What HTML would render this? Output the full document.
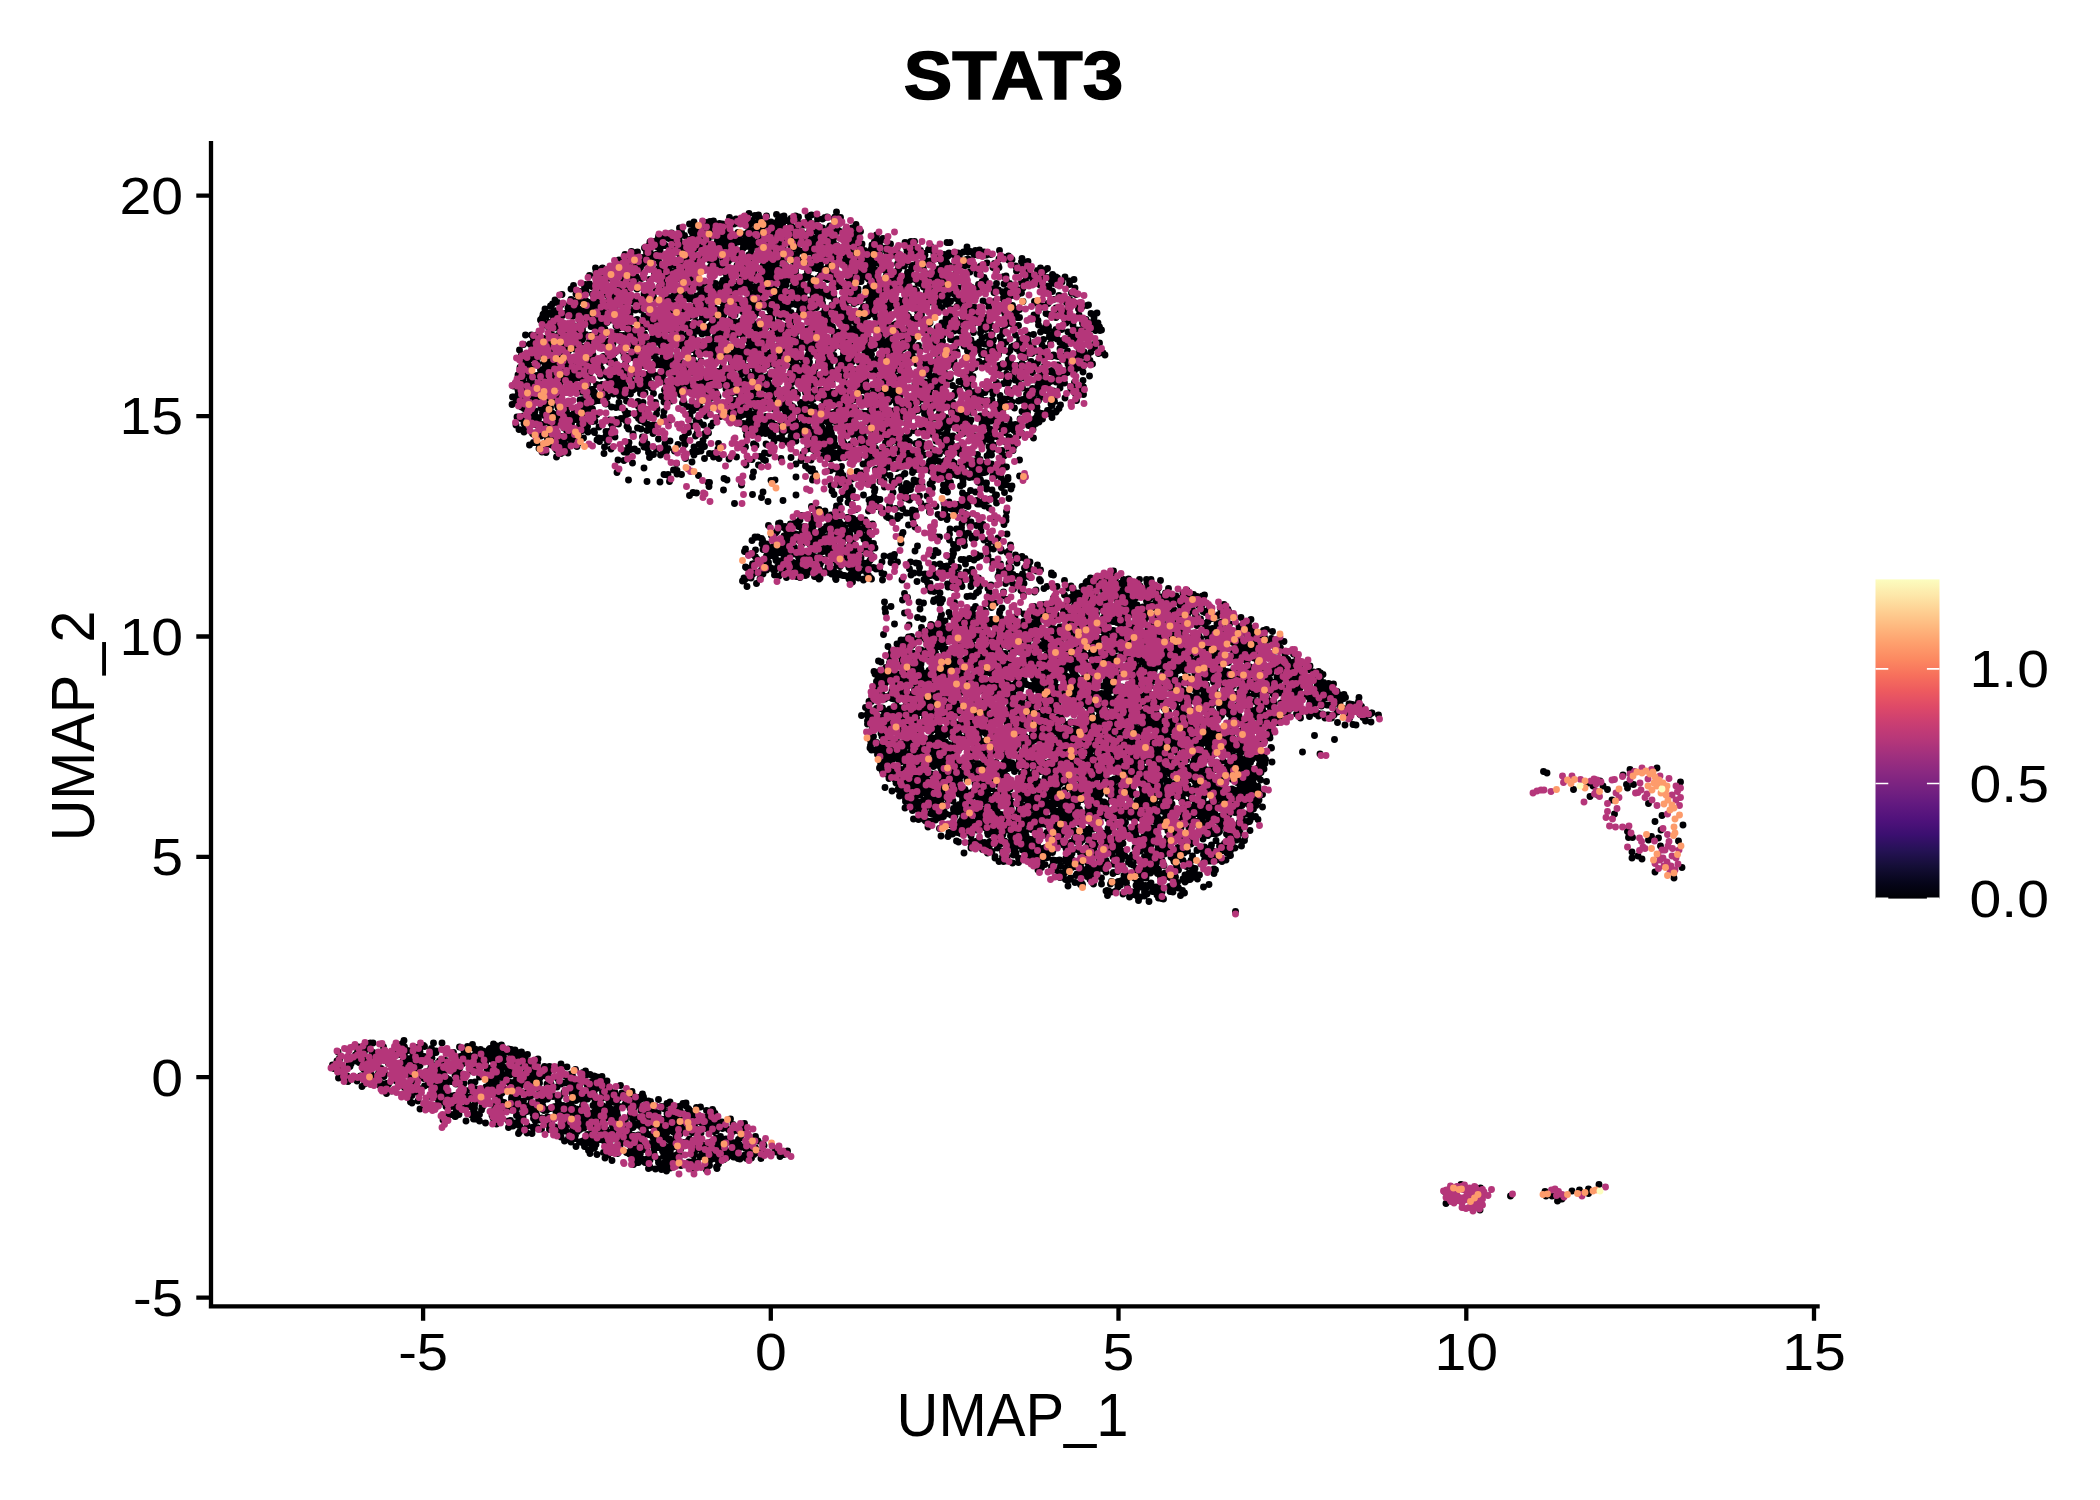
<!DOCTYPE html>
<html><head><meta charset="utf-8"><style>html,body{margin:0;padding:0;background:#fff;overflow:hidden}svg{display:block}text{font-family:"Liberation Sans",sans-serif}</style></head>
<body><svg width="2100" height="1500" viewBox="0 0 2100 1500">
<rect width="2100" height="1500" fill="#fff"/>
<g fill="none" stroke-width="13.80" stroke-linecap="round" transform="scale(.5)">
<path stroke="#000004" d="M1097 845h0M1718 665h0M1819 917h0M1272 530h0M1558 667h0M1130 627h0M1553 475h0M1821 556h0M1504 833h0M1581 447h0M1948 700h0M1720 877h0M2030 633h0M1097 841h0M2151 607h0M1976 689h0M1557 556h0M1629 901h0M1852 600h0M1088 627h0M2033 630h0M2139 569h0M2123 755h0M1565 783h0M1329 552h0M1592 847h0M1218 682h0M1160 583h0M1685 669h0M1564 682h0M1721 463h0M1775 827h0M1511 627h0M1750 743h0M1734 843h0M1186 710h0M1352 647h0M1387 661h0M1491 660h0M1147 887h0M1980 858h0M1834 904h0M1944 905h0M2064 845h0M1864 930h0M2112 712h0M1435 474h0M1886 600h0M1529 635h0M1092 869h0M2010 883h0M1517 500h0M1583 841h0M1651 539h0M1476 511h0M1736 685h0M1972 934h0M1247 751h0M1927 663h0M1444 566h0M1824 675h0M1718 771h0M1796 819h0M1499 852h0M1622 797h0M1404 668h0M1753 686h0M1396 471h0M1849 828h0M1749 618h0M1710 555h0M1148 619h0M1896 589h0M1811 893h0M1278 643h0M1850 800h0M1512 559h0M1564 749h0M1738 578h0M1669 912h0M1435 481h0M1272 553h0M1174 856h0M1335 777h0M1565 433h0M2024 804h0M1553 775h0M1751 822h0M1520 800h0M1739 898h0M1104 706h0M1187 797h0M1384 681h0M1350 637h0M1565 597h0M1727 537h0M2148 559h0M1416 479h0M1037 769h0M1269 773h0M1132 687h0M1718 872h0M1504 461h0M1932 636h0M1061 845h0M1737 792h0M2019 567h0M1119 629h0M1244 587h0M1789 707h0M1496 751h0M1311 751h0M1372 622h0M1559 876h0M1561 543h0M1653 623h0M1651 761h0M1458 649h0M1751 629h0M1340 603h0M2001 751h0M1895 700h0M1443 693h0M1710 710h0M1753 553h0M1564 698h0M1272 691h0M1519 693h0M1905 771h0M1777 623h0M1404 640h0M1086 629h0M1933 645h0M1869 634h0M1250 592h0M1618 801h0M1633 515h0M1672 908h0M1638 864h0M1697 798h0M1769 780h0M1842 863h0M1536 532h0M1689 756h0M1232 665h0M1727 613h0M2178 645h0M1840 567h0M2188 635h0M2067 790h0M1493 792h0M1646 912h0M1047 832h0M1827 678h0M1391 643h0M1769 921h0M1218 759h0M1743 549h0M1608 611h0M1629 583h0M1426 690h0M1446 679h0M1207 569h0M2072 847h0M1060 750h0M1229 607h0M1347 592h0M1744 520h0M2087 748h0M1954 548h0M1194 622h0M2125 681h0M2083 701h0M1764 682h0M1208 607h0M1481 710h0M1901 679h0M1756 922h0M1145 669h0M1128 856h0M1777 549h0M1952 940h0M1192 657h0M1356 627h0M1333 685h0M1815 675h0M1756 596h0M2174 611h0M2022 849h0M1489 490h0M1422 591h0M2206 706h0M1848 910h0M1635 672h0M1120 836h0M1192 543h0M1333 786h0M1584 736h0M1134 680h0M1848 726h0M1746 788h0M1884 646h0M1185 607h0M1112 713h0M1480 792h0M1990 872h0M1139 839h0M2164 733h0M1796 661h0M1507 615h0M1188 794h0M1323 551h0M2051 562h0M1514 863h0M1509 609h0M1181 671h0M1587 476h0M1744 490h0M1564 660h0M1654 902h0M1591 586h0M1403 518h0M1387 723h0M1464 546h0M1445 500h0M1082 752h0M1741 542h0M1621 640h0M1968 555h0M1660 880h0M1759 671h0M1795 528h0M1775 556h0M1814 503h0M1486 515h0M1399 611h0M1844 817h0M2071 760h0M1384 494h0M1987 694h0M1557 673h0M1172 582h0M1987 932h0M1589 817h0M1175 818h0M1872 882h0M1260 628h0M1629 576h0M1629 687h0M1668 672h0M1511 815h0M1643 545h0M1660 544h0M1155 862h0M1822 483h0M1736 516h0M1987 835h0M1500 477h0M1583 755h0M1347 527h0M1597 757h0M1462 518h0M1673 838h0M1346 669h0M1081 640h0M2120 685h0M1193 769h0M2055 705h0M1683 600h0M1782 714h0M1633 491h0M1785 762h0M1366 591h0M1497 515h0M1504 628h0M2189 695h0M2147 638h0M1853 522h0M2001 831h0M1324 660h0M1460 486h0M1551 607h0M1914 950h0M1359 483h0M1165 750h0M1950 537h0M2002 939h0M1851 649h0M1528 460h0M1131 776h0M2064 707h0M2024 737h0M1505 587h0M1459 435h0M1957 692h0M1890 885h0M1580 456h0M1859 923h0M1889 878h0M1339 658h0M1474 765h0M1797 656h0M1995 854h0M1251 646h0M2118 753h0M1297 691h0M1828 861h0M1367 506h0M1137 629h0M1957 934h0M1218 641h0M1142 721h0M1273 675h0M1339 660h0M1661 918h0M1698 740h0M1213 560h0M1200 729h0M1684 777h0M1859 741h0M1561 495h0M1492 551h0M1559 717h0M1769 772h0M1770 667h0M1658 901h0M1027 772h0M1325 698h0M1063 838h0M1474 769h0M1985 889h0M1066 753h0M1517 819h0M1892 608h0M1465 517h0M1407 772h0M1650 620h0M1093 632h0M1654 764h0M1092 810h0M1768 846h0M2068 789h0M1499 569h0M1584 469h0M1709 586h0M1115 800h0M1736 698h0M2003 833h0M1273 598h0M1888 813h0M1166 739h0M1829 585h0M1086 828h0M1696 666h0M1752 858h0M1720 805h0M1532 546h0M1572 564h0M1287 687h0M1541 724h0M1707 862h0M2155 736h0M1555 677h0M1534 553h0M1536 542h0M1118 772h0M1485 828h0M1563 555h0M1773 576h0M1755 860h0M1641 580h0M1762 535h0M1076 786h0M1326 592h0M1925 956h0M1329 591h0M1577 860h0M1632 593h0M1170 755h0M1969 688h0M2015 727h0M1272 604h0M1742 531h0M1495 744h0M1842 887h0M1100 645h0M1659 695h0M1551 591h0M1577 594h0M1125 905h0M1263 526h0M1105 852h0M1499 586h0M1772 873h0M2018 874h0M1579 767h0M1664 894h0M1627 694h0M1470 801h0M1853 802h0M1688 678h0M1276 685h0M1434 485h0M1654 828h0M1620 764h0M1444 574h0M1596 865h0M1157 868h0M1691 866h0M1865 869h0M1584 508h0M1987 890h0M1431 567h0M2086 556h0M2003 855h0M1565 798h0M1725 882h0M1532 769h0M1729 501h0M1951 790h0M1431 713h0M1580 821h0M1104 698h0M1126 875h0M1288 547h0M1623 430h0M1788 741h0M1844 851h0M1723 493h0M1571 852h0M1236 758h0M2172 639h0M1950 922h0M2102 825h0M1705 693h0M1519 699h0M1241 575h0M1384 763h0M1378 774h0M1753 679h0M1438 761h0M1692 603h0M1091 788h0M2030 760h0M1090 816h0M1420 541h0M1852 816h0M1925 685h0M1650 713h0M1892 835h0M2044 823h0M1116 671h0M1397 745h0M1841 501h0M1912 640h0M2004 914h0M2104 582h0M2039 680h0M1804 564h0M2118 817h0M2129 766h0M1572 672h0M1959 500h0M1905 637h0M1210 638h0M1496 648h0M1307 595h0M1498 612h0M1529 568h0M1959 701h0M1371 727h0M1729 693h0M1103 865h0M1570 478h0M1682 622h0M1499 809h0M1469 700h0M1569 780h0M1395 662h0M1779 678h0M1689 743h0M1906 872h0M1297 632h0M1160 592h0M1930 836h0M1412 445h0M1301 617h0M1797 791h0M1646 816h0M1377 581h0M1747 653h0M1562 662h0M2093 761h0M1544 590h0M1149 698h0M1600 738h0M2104 796h0M1547 874h0M1168 779h0M1816 894h0M1418 458h0M1491 761h0M1453 774h0M1837 803h0M1077 838h0M2039 619h0M1680 632h0M1787 824h0M1941 503h0M1263 508h0M1937 619h0M1237 589h0M1903 696h0M1643 889h0M1564 814h0M1155 755h0M1566 555h0M1557 564h0M1106 628h0M1723 781h0M1154 893h0M1818 601h0M1577 698h0M1785 883h0M1116 815h0M1780 788h0M1585 847h0M1099 763h0M1965 785h0M1197 656h0M1692 829h0M2003 683h0M1240 527h0M1074 670h0M1977 656h0M1478 763h0M1707 717h0M1455 483h0M2095 827h0M1829 505h0M1690 749h0M1115 605h0M1552 498h0M1645 723h0M2064 807h0M1557 559h0M1822 826h0M2019 899h0M1818 867h0M1899 923h0M2014 581h0M1340 542h0M1347 684h0M1735 661h0M1835 622h0M1477 543h0M1813 552h0M1574 855h0M1321 495h0M1579 823h0M1868 858h0M1323 760h0M1786 783h0M1667 697h0M1896 852h0M2098 629h0M1129 834h0M1495 453h0M1786 871h0M1255 757h0M1681 735h0M1674 681h0M1690 905h0M1728 630h0M2055 824h0M2116 713h0M1946 930h0M1939 767h0M1629 480h0M2013 759h0M1103 677h0M1761 868h0M2114 678h0M1578 704h0M1179 749h0M1248 732h0M1091 747h0M1590 480h0M1367 642h0M1630 855h0M1829 535h0M2081 829h0M1087 862h0M1791 761h0M1116 706h0M1784 768h0M1725 664h0M1615 764h0M1753 762h0M1711 757h0M1499 492h0M1536 511h0M1472 777h0M1795 614h0M1481 607h0M1515 806h0M1853 584h0M1101 815h0M1418 679h0M1983 928h0M1770 581h0M1425 641h0M1151 726h0M1567 437h0M2081 536h0M1571 531h0M1564 539h0M1523 474h0M1990 627h0M1925 857h0M1289 606h0M1734 906h0M2103 713h0M1705 860h0M2129 691h0M2145 679h0M1475 446h0M1804 627h0M1600 715h0M1749 895h0M1627 565h0M1718 796h0M1487 680h0M1292 499h0M1070 729h0M1740 855h0M1748 876h0M1119 873h0M1147 623h0M1578 600h0M1655 559h0M1677 733h0M1407 640h0M1641 820h0M2008 815h0M1751 897h0M1509 560h0M1752 546h0M1663 558h0M1721 596h0M1877 609h0M1108 689h0M1689 617h0M1767 906h0M1232 781h0M1570 590h0M1836 600h0M1839 936h0M1654 740h0M1919 645h0M1461 760h0M1342 769h0M2164 614h0M1667 511h0M2057 809h0M1465 663h0M1763 769h0M1649 521h0M1354 679h0M1531 648h0M1351 668h0M1665 654h0M1257 713h0M2150 779h0M1082 641h0M2029 735h0M1480 706h0M1715 775h0M1090 697h0M1210 663h0M1912 597h0M1750 542h0M1173 766h0M1074 795h0M1615 538h0M1766 572h0M1377 626h0M2038 767h0M1564 877h0M1575 619h0M1485 670h0M2112 635h0M1551 603h0M1588 640h0M1916 591h0M2028 591h0M1294 653h0M1793 808h0M1900 812h0M1430 640h0M1899 532h0M1541 459h0M2033 868h0M1734 883h0M1579 789h0M1447 745h0M1600 760h0M2046 680h0M1688 732h0M1884 948h0M1726 534h0M1858 789h0M1953 783h0M1475 769h0M1739 830h0M2151 788h0M1414 753h0M1260 750h0M1043 709h0M1857 815h0M1873 709h0M1692 580h0M1146 834h0M2127 742h0M1729 669h0M1600 626h0M1445 806h0M1295 587h0M1780 706h0M1807 727h0M1202 657h0M1415 598h0M1311 724h0M1407 610h0M1420 623h0M1812 582h0M1438 748h0M1700 817h0M1699 484h0M1711 532h0M1252 734h0M1662 545h0M1632 888h0M1238 520h0M1173 796h0M1504 441h0M1861 805h0M1624 666h0M1570 679h0M1504 548h0M1391 524h0M1687 508h0M1372 735h0M1175 799h0M1154 674h0M1413 491h0M1401 781h0M1797 904h0M2031 670h0M1670 795h0M1209 685h0M1237 754h0M1951 688h0M1620 531h0M1662 457h0M1528 801h0M1470 603h0M1533 572h0M2108 797h0M1609 450h0M1293 505h0M1906 836h0M1651 906h0M1416 814h0M1937 748h0M1644 820h0M2136 664h0M1807 877h0M1323 750h0M1146 745h0M1671 438h0M1594 631h0M1285 776h0M1517 808h0M1152 588h0M2062 723h0M1099 867h0M1599 631h0M1550 449h0M1495 770h0M1500 779h0M1940 622h0M1645 796h0M1863 550h0M1621 571h0M1974 852h0M1802 893h0M1280 687h0M1437 577h0M1586 714h0M1705 511h0M1589 571h0M1509 631h0M1894 865h0M1760 723h0M1607 842h0M1429 616h0M1720 552h0M1786 916h0M1908 926h0M1870 754h0M2109 663h0M1167 586h0M1361 789h0M1389 775h0M1622 557h0M1745 726h0M1294 616h0M1284 685h0M1628 677h0M1583 750h0M1316 478h0M1099 626h0M1767 777h0M1601 611h0M1712 835h0M1581 810h0M1608 588h0M1569 583h0M1874 685h0M1632 879h0M1762 949h0M1120 806h0M1927 633h0M1894 803h0M1847 572h0M1189 791h0M1424 469h0M2159 720h0M1756 717h0M1775 910h0M1903 618h0M1256 661h0M1396 656h0M1264 665h0M1950 615h0M1974 673h0M1621 664h0M2109 567h0M1708 487h0M1274 578h0M1813 847h0M1326 717h0M1635 557h0M1158 639h0M1920 902h0M1718 539h0M1571 484h0M1334 723h0M1673 516h0M1778 616h0M1206 776h0M1703 560h0M1081 740h0M1591 713h0M1172 576h0M2065 777h0M1133 822h0M1446 462h0M1481 776h0M1627 772h0M1645 541h0M1447 530h0M1046 768h0M1616 443h0M1090 728h0M1731 767h0M1928 692h0M1789 780h0M1702 819h0M1517 744h0M1387 673h0M2112 554h0M1276 777h0M1583 834h0M1687 707h0M1982 509h0M1658 799h0M1685 523h0M1973 828h0M1556 692h0M1654 876h0M1901 619h0M1670 785h0M1888 509h0M1626 876h0M2182 627h0M1224 578h0M1786 824h0M1646 830h0M1288 648h0M1133 661h0M1338 603h0M1646 899h0M1312 754h0M1360 558h0M1601 688h0M1305 729h0M1354 490h0M2034 698h0M1954 644h0M1434 696h0M1636 687h0M1311 671h0M1548 571h0M1974 871h0M1818 896h0M1898 709h0M2147 726h0M1859 768h0M1413 625h0M1928 915h0M2050 537h0M2197 707h0M1581 747h0M2101 763h0M1507 632h0M1765 531h0M1527 538h0M1655 844h0M1683 795h0M1258 533h0M1552 731h0M1977 686h0M1494 533h0M1433 700h0M1386 599h0M1097 829h0M1735 706h0M1909 682h0M1071 752h0M1749 601h0M1119 768h0M1902 643h0M1324 694h0M1263 684h0M1825 938h0M1178 816h0M1800 793h0M1080 898h0M1196 641h0M1463 726h0M1895 759h0M1664 798h0M1309 668h0M1415 635h0M2058 552h0M1582 873h0M1732 577h0M1842 776h0M2073 606h0M1802 603h0M1584 582h0M1583 779h0M1542 728h0M1443 619h0M1434 532h0M1712 825h0M1693 725h0M1447 605h0M2109 803h0M1796 507h0M1527 504h0M1289 682h0M1546 656h0M1707 595h0M1947 665h0M1266 693h0M1142 578h0M1812 722h0M1505 645h0M1420 695h0M1735 708h0M1549 492h0M1480 712h0M1844 640h0M1137 675h0M1427 550h0M1082 872h0M1492 480h0M1984 800h0M1840 505h0M1261 619h0M1305 775h0M1565 802h0M1325 704h0M1686 621h0M1319 624h0M1505 862h0M2012 807h0M1329 679h0M1622 697h0M1641 780h0M1809 740h0M1488 848h0M1937 694h0M1558 496h0M1787 865h0M1065 867h0M1415 461h0M1393 471h0M1597 452h0M1598 520h0M2073 631h0M1466 543h0M1143 653h0M1683 910h0M1332 608h0M1467 594h0M1114 672h0M2071 603h0M1745 574h0M1955 510h0M1872 813h0M1147 865h0M1693 526h0M1856 583h0M1677 462h0M1685 639h0M1605 605h0M1320 501h0M1499 797h0M1147 652h0M1224 533h0M1971 937h0M2037 858h0M1086 755h0M1878 923h0M1432 522h0M1479 480h0M1397 708h0M1606 585h0M1580 465h0M1529 452h0M1525 663h0M1666 585h0M1457 542h0M1996 817h0M1622 651h0M1216 716h0M1933 653h0M1530 522h0M1718 550h0M2052 798h0M1624 582h0M1549 661h0M1831 664h0M1646 635h0M1157 741h0M1515 702h0M1687 722h0M1592 700h0M2180 721h0M1947 824h0M1557 588h0M1714 770h0M2077 650h0M1797 534h0M1154 661h0M1676 616h0M2046 603h0M1371 727h0M1907 509h0M1607 676h0M1531 775h0M2055 820h0M1125 631h0M1490 770h0M1127 723h0M1918 840h0M1807 743h0M1709 705h0M2152 589h0M1500 834h0M1140 877h0M1787 510h0M1348 688h0M1126 781h0M1702 624h0M2012 684h0M1350 501h0M1942 859h0M1495 793h0M1620 684h0M1209 585h0M1276 756h0M1635 877h0M1957 569h0M1691 512h0M1575 827h0M1258 658h0M1070 831h0M2102 559h0M1647 538h0M2005 837h0M1917 513h0M1063 752h0M1393 753h0M1777 788h0M1087 716h0M1264 535h0M1390 785h0M1269 519h0M2191 661h0M1883 554h0M1968 727h0M1517 442h0M1660 511h0M1978 703h0M1038 760h0M1410 586h0M1531 614h0M1247 559h0M1777 691h0M1644 609h0M1458 675h0M1144 740h0M2103 811h0M1135 699h0M1393 707h0M1381 568h0M1511 745h0M1211 546h0M1613 717h0M1399 461h0M1883 753h0M1844 604h0M1706 845h0M1098 704h0M1849 507h0M1744 577h0M1083 758h0M2136 728h0M1193 664h0M1909 791h0M1752 560h0M1522 802h0M2092 627h0M1591 675h0M1710 798h0M1914 850h0M1525 773h0M1865 567h0M1495 542h0M1998 518h0M1545 528h0M1707 917h0M1967 879h0M1572 570h0M1398 656h0M1130 748h0M1693 503h0M1509 574h0M1401 595h0M1693 816h0M1910 947h0M1654 558h0M1477 786h0M1521 794h0M1861 522h0M1107 754h0M1604 684h0M1753 861h0M1526 613h0M1673 491h0M1433 489h0M1586 573h0M1582 437h0M1910 816h0M1353 553h0M1812 670h0M1590 534h0M1705 478h0M1789 793h0M1264 676h0M1455 589h0M1522 590h0M1658 788h0M1706 667h0M1860 646h0M1549 850h0M1917 823h0M1361 680h0M1561 655h0M1805 639h0M1286 731h0M1778 804h0M1094 889h0M1538 706h0M1541 709h0M1824 579h0M1809 532h0M1383 575h0M1834 526h0M1617 709h0M1652 785h0M1247 672h0M1825 945h0M1609 803h0M1576 509h0M1203 738h0M1305 677h0M2089 732h0M1260 752h0M1041 764h0M1396 686h0M1516 556h0M1783 852h0M1679 637h0M1653 585h0M1675 790h0M1186 804h0M2140 716h0M1086 794h0M1961 666h0M1238 541h0M1479 507h0M1750 505h0M1165 679h0M1614 658h0M1680 810h0M1606 827h0M1582 652h0M1783 756h0M1551 448h0M1103 879h0M1214 590h0M1809 948h0M1551 819h0M1359 473h0M2049 538h0M1530 711h0M1093 649h0M1901 603h0M1505 762h0M1725 877h0M1669 892h0M1661 520h0M1735 924h0M1495 640h0M1809 669h0M1476 465h0M1842 888h0M1521 562h0M1702 579h0M1916 506h0M1165 660h0M1139 655h0M1075 728h0M1483 810h0M1278 618h0M1404 497h0M1526 532h0M1529 550h0M1251 727h0M1583 608h0M1966 507h0M1908 662h0M1046 788h0M2068 556h0M1789 698h0M2137 633h0M1786 593h0M1534 775h0M1520 858h0M1284 712h0M1567 499h0M1896 609h0M1277 665h0M1457 522h0M1953 944h0M1362 555h0M1391 497h0M1221 698h0M1475 534h0M1554 506h0M1289 643h0M1385 717h0M1063 691h0M1229 722h0M2044 727h0M1468 485h0M1288 588h0M1317 669h0M1879 613h0M1999 501h0M1204 793h0M1455 711h0M1559 635h0M1453 449h0M1402 722h0M1743 844h0M1698 618h0M1570 619h0M1663 868h0M1684 914h0M1714 493h0M1894 939h0M1445 645h0M1571 614h0M1579 626h0M1751 780h0M1571 783h0M1648 589h0M1614 739h0M2161 660h0M1349 607h0M1422 501h0M1499 564h0M1454 476h0M1674 854h0M1916 598h0M1468 818h0M1328 696h0M1635 464h0M1874 722h0M1500 808h0M1769 683h0M1088 724h0M1398 768h0M1719 628h0M1686 763h0M1275 517h0M1973 930h0M1883 568h0M1698 601h0M1538 469h0M2056 670h0M1416 774h0M1893 923h0M2134 682h0M1248 768h0M1518 480h0M1496 468h0M1067 885h0M1913 538h0M1795 555h0M1765 622h0M1324 748h0M1857 562h0M2200 660h0M1388 444h0M1991 713h0M2123 767h0M1901 757h0M1678 462h0M2010 852h0M1061 817h0M1830 766h0M1680 727h0M1527 713h0M1698 819h0M1357 475h0M1290 679h0M2134 721h0M1748 721h0M1842 910h0M1652 584h0M1966 703h0M1196 571h0M1529 477h0M1136 616h0M1559 556h0M1601 833h0M1529 858h0M1694 643h0M1451 654h0M1551 622h0M1231 629h0M1666 842h0M1434 625h0M1414 591h0M1099 789h0M1551 594h0M1106 684h0M1101 745h0M1504 751h0M1501 528h0M1645 511h0M1528 608h0M1405 760h0M1751 579h0M1540 621h0M1433 676h0M1878 798h0M1796 801h0M1788 583h0M2013 748h0M1784 557h0M1704 724h0M1777 584h0M1391 465h0M1379 479h0M1143 885h0M1761 657h0M1530 547h0M1633 615h0M1945 931h0M1824 907h0M2025 611h0M1728 733h0M1745 496h0M1918 745h0M1225 590h0M1183 620h0M2066 859h0M1724 598h0M1767 643h0M1592 609h0M2067 696h0M1375 596h0M1091 816h0M1281 517h0M1340 680h0M1487 825h0M1901 930h0M1865 555h0M2006 597h0M1868 668h0M1487 491h0M1699 815h0M2007 612h0M2077 801h0M1105 771h0M1535 731h0M1195 601h0M1314 654h0M1667 827h0M1629 866h0M1891 848h0M1450 457h0M1714 604h0M1510 431h0M1191 802h0M1677 910h0M1123 696h0M1637 460h0M1236 764h0M1588 458h0M1660 620h0M1468 448h0M1759 859h0M1564 571h0M1443 722h0M1856 821h0M1729 531h0M1563 460h0M1233 576h0M2057 739h0M1606 693h0M1894 571h0M1874 656h0M1630 738h0M1692 813h0M2143 586h0M1671 755h0M1175 853h0M1171 569h0M1493 488h0M2087 793h0M2070 838h0M1354 620h0M1615 471h0M1591 589h0M1121 764h0M1445 674h0M1519 572h0M1422 589h0M1674 616h0M1711 587h0M1182 723h0M1432 580h0M1881 840h0M1149 728h0M1209 578h0M1596 590h0M1799 759h0M1627 798h0M1161 751h0M1927 604h0M1372 487h0M1780 589h0M1733 929h0M1971 843h0M1797 739h0M1109 758h0M1199 611h0M1550 713h0M2133 605h0M1596 710h0M1607 852h0M1940 716h0M1232 777h0M1720 778h0M1749 502h0M1449 568h0M2017 704h0M1660 530h0M1690 630h0M1384 617h0M1498 684h0M1353 533h0M2196 646h0M1063 762h0M1841 886h0M1422 618h0M1898 849h0M1425 456h0M1448 629h0M2036 735h0M1544 640h0M1686 797h0M1476 818h0M1646 860h0M1689 480h0M1678 519h0M1703 557h0M1453 580h0M1832 887h0M1944 614h0M1134 700h0M1850 510h0M1591 495h0M1540 816h0M1811 923h0M1233 547h0M1132 815h0M1578 629h0M2126 622h0M1861 604h0M1403 524h0M1890 786h0M1742 924h0M1595 583h0M1457 670h0M1592 642h0M1171 829h0M1500 575h0M1288 680h0M2169 712h0M1751 505h0M1325 481h0M1723 797h0M1972 657h0M1193 727h0M1208 548h0M1687 575h0M1820 826h0M1292 712h0M1497 573h0M1238 764h0M1761 691h0M1449 489h0M1591 737h0M1628 476h0M1289 496h0M1748 850h0M1722 648h0M1589 471h0M1096 860h0M1856 828h0M1675 573h0M1569 593h0M1668 876h0M1351 489h0M1563 552h0M1393 511h0M1647 504h0M1592 587h0M2010 651h0M1248 608h0M2084 690h0M1494 467h0M1728 641h0M1810 880h0M1478 565h0M1975 721h0M1315 486h0M1115 845h0M1407 685h0M1942 840h0M1441 594h0M1297 695h0M1250 712h0M1245 703h0M1204 537h0M1443 636h0M1597 434h0M1109 755h0M1980 703h0M1806 921h0M1360 712h0M1707 634h0M1165 731h0M1808 920h0M1398 493h0M2046 799h0M1909 942h0M1131 783h0M2039 635h0M1933 773h0M1429 697h0M1657 557h0M1784 662h0M1222 679h0M1897 507h0M2203 660h0M1900 912h0M1342 695h0M1890 814h0M1768 789h0M1173 706h0M1257 662h0M1655 820h0M1392 646h0M1116 833h0M1360 653h0M1471 709h0M1512 827h0M1406 690h0M1130 889h0M1506 846h0M1946 753h0M1337 778h0M2193 646h0M1701 559h0M1398 544h0M1646 717h0M1715 538h0M1205 536h0M1130 687h0M1943 701h0M1550 465h0M1930 850h0M1310 483h0M1402 477h0M1171 786h0M1659 454h0M1266 748h0M1545 498h0M1287 758h0M1331 595h0M1487 847h0M1088 889h0M1565 449h0M1516 625h0M1641 820h0M1440 669h0M1135 831h0M1960 919h0M1507 513h0M1670 434h0M1854 784h0M1066 674h0M1358 781h0M1592 749h0M1565 619h0M1631 816h0M1994 658h0M1156 860h0M1201 725h0M2005 668h0M1843 934h0M1878 543h0M1280 539h0M1165 861h0M1628 824h0M2053 544h0M1307 594h0M1865 817h0M1203 603h0M1859 840h0M1237 535h0M1961 882h0M1983 842h0M1408 584h0M1452 778h0M1227 699h0M1231 765h0M1909 846h0M1559 796h0M1821 676h0M1959 792h0M1942 637h0M1090 887h0M1962 870h0M1902 877h0M1555 582h0M1984 667h0M1210 632h0M1888 932h0M1260 783h0M1498 587h0M1301 636h0M1622 750h0M2130 554h0M1572 883h0M1275 504h0M1716 583h0M1576 548h0M1771 886h0M1630 842h0M2058 849h0M1451 605h0M1885 683h0M1505 768h0M1293 763h0M1289 688h0M1570 587h0M2055 837h0M1693 520h0M1491 567h0M1328 748h0M1184 779h0M1572 567h0M1621 896h0M1185 626h0M1819 691h0M1999 850h0M1739 654h0M1664 610h0M1863 565h0M1285 719h0M1484 827h0M1713 770h0M1149 869h0M1654 691h0M1601 587h0M1993 699h0M1801 512h0M1799 923h0M1441 833h0M1096 834h0M1963 809h0M1476 758h0M1170 616h0M1544 863h0M1610 526h0M1796 859h0M1378 674h0M2152 635h0M1661 481h0M1420 760h0M2097 653h0M1770 759h0M1668 513h0M1508 810h0M1701 657h0M1373 622h0M1722 850h0M1226 687h0M1815 486h0M1444 830h0M1351 491h0M1599 624h0M1566 833h0M1237 542h0M1789 760h0M1563 567h0M1586 684h0M1467 828h0M1472 645h0M1162 836h0M1452 659h0M1981 685h0M1868 705h0M1885 845h0M1849 719h0M1532 754h0M2099 671h0M1552 469h0M1851 861h0M1798 521h0M2158 630h0M1505 704h0M1180 720h0M1619 623h0M1746 722h0M2044 517h0M1701 560h0M1343 733h0M1105 798h0M1327 700h0M1347 555h0M1669 915h0M1889 869h0M1593 479h0M1911 847h0M1392 613h0M1907 873h0M1810 485h0M1886 895h0M1627 795h0M1829 578h0M1537 538h0M1573 543h0M1707 791h0M1665 681h0M2105 745h0M1894 642h0M1498 564h0M1508 680h0M1784 688h0M1223 676h0M1833 581h0M1980 807h0M2066 853h0M1870 836h0M1859 578h0M1049 771h0M1518 507h0M2194 626h0M1046 758h0M1670 510h0M1958 782h0M1521 607h0M1495 776h0M1078 679h0M1883 927h0M1681 900h0M1254 595h0M1761 930h0M1051 670h0M1170 580h0M1850 798h0M1896 905h0M1782 921h0M1508 545h0M1326 732h0M1874 908h0M1464 487h0M1623 522h0M1204 769h0M1662 865h0M1690 598h0M1129 714h0M1595 566h0M1913 944h0M1136 843h0M2140 722h0M1791 665h0M1615 792h0M1514 839h0M1171 845h0M1132 731h0M1782 832h0M1824 831h0M1062 732h0M1530 515h0M1702 888h0M1791 708h0M1711 543h0M1411 473h0M1071 685h0M2000 791h0M1754 637h0M1778 823h0M1712 656h0M1402 461h0M1469 576h0M1222 600h0M1982 632h0M1418 617h0M1066 775h0M2150 678h0M2119 619h0M1932 832h0M1557 489h0M2068 630h0M1558 858h0M1763 539h0M1837 691h0M1697 646h0M2039 703h0M1374 690h0M1684 881h0M1637 725h0M1802 750h0M1583 861h0M1262 540h0M1868 598h0M1664 592h0M1420 521h0M1389 560h0M2030 889h0M1621 709h0M1238 763h0M1582 608h0M1484 722h0M1652 631h0M1539 805h0M1588 672h0M1950 882h0M1664 785h0M1605 814h0M1759 681h0M1188 615h0M1500 462h0M1139 695h0M1750 898h0M1227 585h0M1643 497h0M2048 756h0M1615 849h0M1924 890h0M1863 522h0M1533 711h0M1621 753h0M1237 534h0M1918 846h0M1943 617h0M2065 565h0M1971 659h0M1066 684h0M1495 813h0M1616 697h0M1694 895h0M1590 847h0M1765 605h0M1827 826h0M2124 596h0M1457 651h0M1550 704h0M1781 562h0M1576 885h0M1570 579h0M2078 759h0M1071 794h0M2031 532h0M1626 665h0M1853 564h0M1790 702h0M1306 677h0M1129 781h0M1696 575h0M1547 524h0M1191 536h0M1784 545h0M1533 432h0M1603 774h0M1771 870h0M1798 628h0M1332 609h0M1568 623h0M1921 683h0M1101 669h0M1827 697h0M2033 731h0M1891 725h0M1442 675h0M1375 681h0M1947 705h0M1703 842h0M1492 860h0M1669 610h0M1612 828h0M1063 814h0M1975 832h0M1338 595h0M1738 882h0M1540 748h0M1469 752h0M2086 657h0M1610 448h0M2109 630h0M1210 788h0M1693 517h0M1210 659h0M1618 731h0M2126 716h0M1873 763h0M1891 891h0M2034 635h0M1739 774h0M2075 725h0M1749 483h0M1151 619h0M1819 884h0M1486 548h0M1290 601h0M1300 701h0M1152 614h0M1187 634h0M1798 666h0M2063 803h0M1229 755h0M1478 828h0M1097 704h0M1275 735h0M1557 745h0M1665 810h0M1877 831h0M2087 679h0M1086 896h0M1437 467h0M1559 790h0M2165 646h0M1549 624h0M1628 524h0M1942 794h0M1808 571h0M1195 608h0M1240 779h0M1744 497h0M2041 800h0M1069 776h0M1632 510h0M1727 765h0M1273 512h0M1971 839h0M1048 864h0M1754 839h0M1470 475h0M1198 801h0M1919 840h0M1420 781h0M1776 505h0M1559 665h0M1661 640h0M1483 520h0M1545 628h0M1702 634h0M1309 548h0M1650 801h0M1720 563h0M1274 639h0M2091 572h0M1751 751h0M1593 607h0M1592 702h0M1736 551h0M2085 565h0M1810 947h0M1760 585h0M1517 430h0M1259 626h0M1036 801h0M1815 554h0M1601 805h0M1284 527h0M1244 762h0M2042 713h0M1204 623h0M1343 530h0M1731 693h0M1745 543h0M2057 689h0M1938 697h0M1489 622h0M1572 673h0M1905 932h0M1310 702h0M1469 808h0M1571 841h0M1644 843h0M1550 784h0M1515 786h0M1485 747h0M1524 762h0M1580 465h0M1207 713h0M2188 651h0M1165 801h0M1902 935h0M1495 713h0M1591 432h0M1409 769h0M1803 751h0M1653 585h0M1785 913h0M1516 582h0M1858 719h0M1530 816h0M1535 605h0M1589 857h0M1737 790h0M1645 438h0M1938 770h0M1751 912h0M1147 684h0M1937 779h0M1314 513h0M1723 809h0M1542 604h0M1649 499h0M1728 549h0M1851 648h0M1734 577h0M1646 870h0M1624 822h0M1506 669h0M1958 723h0M1710 482h0M1142 599h0M2072 728h0M1517 818h0M1502 689h0M1671 682h0M1066 801h0M1096 745h0M1895 848h0M1761 646h0M1860 777h0M1716 578h0M1562 844h0M1150 730h0M1135 669h0M1367 692h0M1962 532h0M1820 683h0M1903 706h0M1715 525h0M1335 627h0M1943 922h0M1060 831h0M1459 548h0M1757 673h0M1092 634h0M1221 539h0M1364 586h0M1479 502h0M1549 451h0M1839 611h0M2015 609h0M1451 562h0M1793 543h0M1677 741h0M1314 508h0M1972 801h0M1670 890h0M1049 735h0M1932 929h0M1176 737h0M1047 689h0M2020 781h0M1616 545h0M1915 936h0M1643 518h0M1814 882h0M1621 754h0M1553 588h0M1364 494h0M1612 814h0M1843 629h0M1395 544h0M1746 776h0M2040 743h0M1638 468h0M1421 534h0M1243 675h0M1766 797h0M1688 887h0M1680 688h0M1176 786h0M1689 698h0M1605 468h0M1687 713h0M1280 643h0M2113 822h0M1279 538h0M1817 728h0M1920 646h0M1359 725h0M1470 477h0M1555 584h0M1109 781h0M1861 942h0M1548 721h0M1886 671h0M1352 547h0M1662 892h0M1122 807h0M1160 648h0M1968 504h0M1802 602h0M1788 776h0M1116 877h0M1584 608h0M1919 835h0M1847 652h0M1561 448h0M1988 585h0M1455 834h0M1048 847h0M1146 768h0M1868 861h0M1153 664h0M1656 727h0M1097 713h0M1913 826h0M1724 488h0M1875 560h0M1810 573h0M1325 756h0M1265 596h0M1385 811h0M1101 612h0M1374 729h0M1594 748h0M1099 796h0M1521 737h0M1710 549h0M1916 576h0M1525 769h0M1090 832h0M2026 649h0M1380 654h0M1149 865h0M1632 612h0M1464 786h0M1592 843h0M1133 860h0M1612 477h0M1847 538h0M1310 707h0M1967 640h0M1613 855h0M1477 477h0M1518 607h0M1063 791h0M1175 641h0M1898 506h0M1549 601h0M1401 691h0M1775 529h0M1713 830h0M1516 451h0M2021 789h0M2034 689h0M1308 619h0M1651 812h0M1108 621h0M1664 625h0M1678 608h0M1770 748h0M1460 766h0M1211 571h0M1723 546h0M1589 690h0M1459 467h0M1695 641h0M1109 862h0M1654 434h0M1474 846h0M1735 531h0M1976 605h0M1978 893h0M1485 700h0M2112 659h0M1096 755h0M1302 515h0M1534 860h0M1892 903h0M1740 605h0M1749 655h0M1846 934h0M1571 621h0M1312 730h0M1512 449h0M1871 562h0M1740 540h0M1746 657h0M1096 722h0M2036 589h0M1203 745h0M1563 660h0M1102 780h0M2116 730h0M1465 672h0M1674 821h0M1518 435h0M1142 659h0M2085 838h0M1166 799h0M1673 798h0M1903 873h0M2025 882h0M2137 715h0M2075 830h0M1531 435h0M1835 700h0M1495 466h0M1519 844h0M1993 567h0M1321 542h0M1585 813h0M1840 701h0M1427 813h0M1741 693h0M1892 530h0M1203 614h0M1719 666h0M1417 595h0M1476 831h0M1553 429h0M1510 520h0M1337 726h0M1832 939h0M1794 834h0M1324 530h0M1659 520h0M2044 540h0M1650 583h0M2084 613h0M1575 475h0M1454 599h0M1778 791h0M1179 605h0M1658 592h0M1103 890h0M1960 547h0M1587 881h0M1430 775h0M1837 902h0M1050 853h0M1620 457h0M1708 519h0M1170 722h0M1494 745h0M2120 776h0M1133 759h0M1591 545h0M1491 714h0M1747 695h0M1938 714h0M1546 545h0M1102 764h0M1673 824h0M1111 638h0M1356 669h0M1640 505h0M1439 664h0M1776 900h0M2120 698h0M1380 592h0M1604 864h0M1171 669h0M1929 830h0M1041 809h0M1074 751h0M1772 700h0M1581 489h0M1558 455h0M1354 777h0M1991 576h0M1663 723h0M1770 869h0M1174 749h0M1601 631h0M1229 706h0M1627 576h0M1114 807h0M1111 897h0M2044 735h0M1558 660h0M1075 704h0M2166 744h0M1271 565h0M1924 898h0M1887 792h0M1759 511h0M1664 617h0M1792 754h0M1572 753h0M1797 663h0M1419 586h0M1333 539h0M1965 886h0M1987 898h0M2067 876h0M1159 850h0M1615 754h0M1402 738h0M1169 573h0M1817 841h0M1749 733h0M1321 688h0M1520 645h0M1774 649h0M1477 580h0M1787 725h0M1189 621h0M1085 825h0M1631 699h0M1702 840h0M1303 767h0M1892 793h0M1828 914h0M1756 905h0M1781 881h0M1468 704h0M1773 503h0M1407 453h0M1594 789h0M1466 605h0M1566 489h0M1448 506h0M1998 842h0M1618 442h0M1137 702h0M1495 784h0M1566 608h0M1656 476h0M1168 803h0M2107 782h0M1133 877h0M1415 474h0M1446 561h0M1459 772h0M1657 873h0M1189 636h0M1837 646h0M1701 574h0M1674 459h0M1161 681h0M1303 509h0M2046 689h0M1858 558h0M1542 493h0M1408 619h0M1387 761h0M1175 622h0M1598 447h0M1917 595h0M1905 805h0M1420 809h0M1635 524h0M1973 510h0M1586 522h0M1913 941h0M1229 732h0M1507 591h0M1702 802h0M1817 633h0M1481 739h0M1870 601h0M1986 535h0M1459 505h0M1285 651h0M1532 655h0M1630 820h0M1503 499h0M1363 725h0M1812 875h0M1248 714h0M1718 714h0M1644 753h0M1510 601h0M1648 510h0M1722 563h0M1611 575h0M1868 509h0M1838 905h0M1599 661h0M1493 554h0M1873 545h0M1847 860h0M1595 763h0M1805 911h0M1745 589h0M1382 576h0M1381 627h0M1208 624h0M1051 796h0M1307 491h0M1894 527h0M1278 746h0M1434 594h0M1093 797h0M1752 635h0M1158 622h0M1172 602h0M1700 595h0M1886 945h0M1923 908h0M1358 777h0M1687 631h0M1640 754h0M2060 796h0M1962 787h0M1084 693h0M1704 456h0M1728 860h0M2018 839h0M1543 526h0M1762 933h0M1833 727h0M1564 609h0M1940 743h0M2071 604h0M1406 801h0M1385 467h0M1267 540h0M2199 686h0M1376 656h0M1073 722h0M1724 765h0M1608 629h0M1160 750h0M1725 545h0M2031 849h0M1429 700h0M1460 772h0M1779 840h0M1334 641h0M1847 894h0M1282 712h0M1588 725h0M1758 503h0M1693 523h0M1487 562h0M1648 541h0M1689 889h0M1739 915h0M1602 531h0M1459 489h0M1178 814h0M1032 805h0M1998 535h0M1808 724h0M1770 717h0M2005 584h0M1549 535h0M1520 582h0M1540 754h0M1424 449h0M1096 737h0M1163 756h0M1136 894h0M1825 531h0M1899 850h0M2107 599h0M1085 849h0M1271 620h0M1982 651h0M1861 492h0M1644 597h0M1198 734h0M1634 783h0M1607 740h0M1903 887h0M1415 667h0M1441 481h0M1994 579h0M1184 704h0M1327 670h0M1598 609h0M1411 655h0M1237 771h0M1081 791h0M1590 731h0M1257 674h0M1661 490h0M1579 547h0M1706 505h0M2081 836h0M1571 635h0M1550 563h0M1347 492h0M1860 845h0M1754 526h0M1670 804h0M1504 727h0M1422 683h0M1689 889h0M1964 676h0M1025 794h0M1783 691h0M1653 864h0M1249 672h0M2022 579h0M1667 477h0M1030 768h0M1473 654h0M1713 519h0M1274 714h0M1824 802h0M1777 703h0M1589 577h0M2128 752h0M1984 889h0M1353 639h0M1057 740h0M1795 834h0M1951 630h0M1584 695h0M1640 793h0M2139 725h0M1125 718h0M1205 619h0M1792 648h0M1593 756h0M1154 671h0M1359 644h0M1613 738h0M1655 728h0M1931 678h0M1412 704h0M1964 705h0M1615 784h0M1582 498h0M1219 547h0M1819 561h0M1980 625h0M1466 677h0M1232 652h0M1833 531h0M1216 752h0M1386 570h0M1507 780h0M1166 839h0M1166 675h0M1865 853h0M1966 602h0M1774 798h0M1660 733h0M1800 829h0M1347 728h0M1479 757h0M1516 607h0M1136 906h0M2085 715h0M1614 470h0M1420 457h0M1401 804h0M2123 659h0M1893 944h0M1254 581h0M1708 739h0M1545 852h0M1424 594h0M2140 600h0M1770 757h0M1605 744h0M1435 811h0M2017 520h0M1822 556h0M1564 456h0M1554 537h0M1964 854h0M1710 472h0M2021 880h0M1957 535h0M1221 640h0M1186 651h0M1933 717h0M1898 731h0M1930 638h0M1414 655h0M1773 858h0M1751 939h0M1512 689h0M1735 932h0M1714 787h0M1761 787h0M1542 464h0M1641 817h0M1954 638h0M1089 736h0M1243 604h0M1605 736h0M2046 576h0M1680 793h0M1426 623h0M1930 520h0M1573 696h0M1373 550h0M1105 757h0M2101 828h0M1520 857h0M1689 638h0M1721 871h0M1124 848h0M1797 708h0M1440 820h0M1358 752h0M1907 707h0M1133 859h0M1936 518h0M1748 629h0M2000 674h0M1912 546h0M1620 820h0M1587 858h0M1318 657h0M1259 655h0M1613 489h0M1674 909h0M1952 785h0M1462 832h0M1866 802h0M1244 673h0M1722 553h0M1971 561h0M1413 633h0M1221 762h0M2146 650h0M1429 770h0M2024 631h0M1750 599h0M1065 842h0M1365 686h0M2072 818h0M1888 745h0M1567 434h0M1589 749h0M1224 698h0M1952 872h0M1048 817h0M1696 686h0M2154 660h0M1568 432h0M1746 535h0M1622 526h0M1927 758h0M1442 648h0M1704 518h0M1860 828h0M1263 503h0M1060 688h0M1680 718h0M1743 890h0M1573 441h0M1298 491h0M1647 827h0M1476 484h0M1482 779h0M1788 882h0M1571 757h0M1610 754h0M1567 836h0M1613 792h0M1123 904h0M1732 547h0M1154 601h0M1242 596h0M1603 464h0M1733 906h0M1256 683h0M1814 630h0M1687 774h0M1956 575h0M1546 570h0M1144 872h0M1858 737h0M1658 800h0M1130 897h0M1595 789h0M1705 661h0M1452 669h0M2075 703h0M1660 452h0M1773 693h0M1340 709h0M1432 518h0M1676 721h0M1549 818h0M1645 456h0M1775 616h0M1668 437h0M1602 486h0M1651 800h0M1496 546h0M1818 551h0M1036 750h0M1703 557h0M1463 635h0M2095 575h0M1727 766h0M1515 867h0M2007 767h0M2094 764h0M2012 735h0M1100 732h0M1909 841h0M1224 715h0M1422 544h0M1697 481h0M2135 745h0M1673 424h0M1323 721h0M1914 678h0M1619 736h0M1365 470h0M2019 593h0M2079 753h0M1538 783h0M1393 732h0M1164 805h0M1324 629h0M1597 824h0M1896 872h0M1160 724h0M1634 579h0M2016 859h0M1743 874h0M1742 879h0M1067 849h0M1248 545h0M1623 818h0M1363 464h0M1540 500h0M2008 553h0M1530 848h0M1978 572h0M1560 787h0M1379 633h0M1474 531h0M1689 708h0M1552 464h0M1253 657h0M1667 590h0M1879 908h0M1648 584h0M1205 787h0M1905 908h0M1644 498h0M1658 535h0M1605 748h0M2149 765h0M1533 686h0M1852 648h0M1194 664h0M1446 582h0M1821 696h0M1718 496h0M1322 745h0M1589 752h0M1589 759h0M1557 524h0M1654 654h0M1324 683h0M1405 642h0M1542 872h0M1532 446h0M2002 842h0M1418 699h0M1521 735h0M1150 835h0M1568 570h0M1740 571h0M1555 812h0M1936 595h0M1301 712h0M2158 698h0M1100 867h0M1650 872h0M1352 493h0M1607 689h0M1394 815h0M1138 840h0M1077 852h0M1689 915h0M1444 476h0M1214 573h0M1540 841h0M1738 705h0M1466 669h0M1535 583h0M1348 726h0M1939 691h0M1736 632h0M1056 847h0M1904 923h0M1469 804h0M1758 923h0M1720 515h0M2010 734h0M1150 746h0M1612 718h0M1469 814h0M1087 645h0M1736 718h0M1334 474h0M1707 469h0M2150 576h0M1945 691h0M1252 551h0M1204 626h0M1220 631h0M1854 663h0M1908 588h0M1495 629h0M1615 713h0M1986 788h0M1443 490h0M1881 825h0M1726 928h0M1112 649h0M1673 434h0M1589 875h0M1263 763h0M1353 620h0M1367 653h0M1224 535h0M1815 556h0M1403 773h0M1533 798h0M1732 761h0M1400 705h0M1931 531h0M1964 564h0M1722 642h0M1796 819h0M2104 811h0M2043 866h0M1737 913h0M1606 596h0M1516 455h0M1689 530h0M1391 682h0M1511 866h0M1486 723h0M1703 501h0M1618 793h0M1772 638h0M1865 764h0M2003 700h0M1787 742h0M1395 807h0M1036 780h0M1800 705h0M1738 808h0M1094 830h0M2032 695h0M1285 728h0M1470 784h0M1690 843h0M1789 872h0M1418 537h0M1459 582h0M1329 716h0M1786 822h0M1740 679h0M1795 808h0M2078 844h0M1560 582h0M1529 800h0M2130 720h0M1075 835h0M1790 801h0M1830 906h0M1772 553h0M1558 590h0M1346 564h0M1823 693h0M1370 593h0M1658 801h0M1195 622h0M1894 946h0M1908 722h0M1390 631h0M1679 756h0M1608 753h0M1936 860h0M1626 588h0M1496 733h0M2157 779h0M1676 680h0M1888 756h0M1903 630h0M1364 619h0M1565 711h0M2008 912h0M1085 898h0M1450 545h0M1588 673h0M1870 871h0M1736 597h0M1892 520h0M1442 640h0M2016 767h0M1701 464h0M1962 657h0M1099 795h0M1788 870h0M1586 677h0M1631 750h0M1531 858h0M1843 732h0M1759 595h0M1737 558h0M1529 668h0M1845 566h0M1251 736h0M1134 718h0M2003 903h0M1350 768h0M1712 578h0M1161 819h0M1395 491h0M1121 888h0M1498 821h0M1451 671h0M2091 661h0M1907 645h0M2081 664h0M1450 574h0M1592 724h0M1040 735h0M1465 443h0M1694 869h0M1575 549h0M1153 686h0M1101 764h0M1600 617h0M1502 519h0M1690 684h0M1301 594h0M2064 569h0M1758 673h0M1722 509h0M1180 681h0M2133 688h0M1565 866h0M1251 740h0M1661 644h0M1639 633h0M1763 752h0M1807 697h0M1716 699h0M1135 674h0M2158 707h0M1436 793h0M1836 566h0M1124 883h0M1564 552h0M1926 664h0M1962 632h0M2168 704h0M1604 691h0M1900 814h0M1499 750h0M1405 487h0M1376 577h0M1560 511h0M1167 604h0M1875 700h0M1578 559h0M1511 709h0M1940 544h0M1663 548h0M1570 613h0M1473 817h0M1742 909h0M1423 649h0M1877 583h0M1151 657h0M2007 587h0M1983 861h0M1388 529h0M1815 523h0M1043 814h0M1338 576h0M1113 914h0M1588 865h0M1082 816h0M1588 489h0M1822 598h0M1906 948h0M1113 900h0M1854 548h0M2078 616h0M1905 818h0M1718 914h0M1401 647h0M1927 867h0M1668 880h0M1745 595h0M1939 684h0M1659 583h0M1331 596h0M1299 593h0M1656 809h0M1099 794h0M1691 484h0M1672 563h0M1850 617h0M1867 924h0M1870 809h0M1570 604h0M1694 683h0M1294 698h0M1546 809h0M1293 606h0M1813 566h0M1661 897h0M1889 658h0M1318 575h0M2007 608h0M1179 551h0M1637 670h0M1680 678h0M1122 610h0M1204 688h0M1771 936h0M1300 484h0M2034 759h0M1803 908h0M1522 557h0M1836 563h0M1871 869h0M1743 728h0M1184 573h0M1448 641h0M1785 783h0M1583 483h0M1509 848h0M1586 724h0M1629 561h0M1969 506h0M1954 618h0M2029 780h0M1177 636h0M1654 551h0M2174 655h0M1751 831h0M1922 645h0M1371 697h0M1319 543h0M1224 782h0M1556 507h0M1562 496h0M1261 639h0M1591 541h0M1503 597h0M1504 476h0M1404 647h0M1290 497h0M1815 545h0M1351 587h0M1259 524h0M1300 693h0M1254 626h0M1686 804h0M1292 727h0M1290 709h0M1545 532h0M1793 754h0M1392 622h0M1582 452h0M1288 576h0M1066 771h0M1481 569h0M1498 427h0M1746 899h0M1172 834h0M1268 642h0M1622 815h0M1642 490h0M2109 750h0M1163 694h0M1378 557h0M1369 703h0M1942 680h0M1551 560h0M1300 500h0M1903 822h0M1094 826h0M2039 920h0M1097 711h0M1987 680h0M1095 653h0M1324 615h0M1688 691h0M1287 608h0M1393 592h0M1798 538h0M1573 663h0M1284 529h0M1657 530h0M1654 867h0M1102 710h0M1623 620h0M1762 495h0M2158 610h0M1730 827h0M1167 630h0M1648 581h0M1109 673h0M1159 657h0M1557 730h0M1736 532h0M1062 750h0M1360 688h0M2090 540h0M1657 545h0M1454 457h0M1445 735h0M1331 688h0M1859 782h0M1993 838h0M1533 532h0M1650 736h0M1378 650h0M1606 869h0M1595 856h0M2075 541h0M2026 585h0M1507 588h0M1416 451h0M1232 767h0M1605 526h0M1625 503h0M1518 683h0M1304 743h0M1506 784h0M1122 751h0M1572 809h0M1536 799h0M1567 590h0M2200 661h0M1332 765h0M1541 843h0M1879 785h0M1167 876h0M1706 897h0M1645 606h0M1769 918h0M1676 610h0M1718 724h0M1554 543h0M1855 674h0M1655 724h0M1454 577h0M1156 865h0M1687 806h0M1878 589h0M1887 591h0M1750 584h0M1062 717h0M1586 637h0M1916 659h0M1094 738h0M1793 709h0M1894 602h0M1137 611h0M1264 555h0M1113 632h0M2081 795h0M2021 717h0M2149 736h0M2045 801h0M1908 553h0M1931 861h0M2182 704h0M1705 667h0M1352 542h0M1650 435h0M1201 595h0M1243 764h0M1948 794h0M1462 567h0M2016 647h0M1732 834h0M1210 541h0M1307 596h0M1395 607h0M1488 829h0M1780 736h0M1540 834h0M1329 584h0M1978 879h0M1699 790h0M1912 850h0M1595 555h0M1682 853h0M1256 529h0M1984 678h0M2130 627h0M1498 842h0M1652 822h0M1375 537h0M1780 674h0M1536 537h0M2086 551h0M1517 471h0M1450 673h0M1600 654h0M1736 515h0M1122 907h0M1830 642h0M1242 737h0M1263 748h0M1391 527h0M1446 579h0M1704 467h0M1430 674h0M1618 504h0M1615 543h0M1828 696h0M1465 494h0M1795 567h0M1845 897h0M1896 951h0M1615 519h0M1751 879h0M1157 886h0M1844 892h0M1621 787h0M1341 680h0M2159 610h0M1856 771h0M1715 491h0M1102 715h0M1566 470h0M1208 657h0M1187 635h0M1095 811h0M1258 621h0M1450 483h0M1767 933h0M1780 773h0M1731 544h0M1812 725h0M1944 738h0M1303 611h0M1359 690h0M1148 832h0M1034 834h0M1712 788h0M1812 907h0M1790 842h0M1851 891h0M1990 633h0M1348 496h0M1411 695h0M1310 685h0M1725 668h0M1626 536h0M1881 576h0M1497 768h0M1427 442h0M1858 863h0M1618 600h0M1641 764h0M1655 870h0M1436 743h0M1620 464h0M1747 839h0M1596 524h0M1546 870h0M1785 841h0M1670 843h0M2062 760h0M1627 592h0M1656 734h0M1759 506h0M1429 596h0M2018 902h0M1651 492h0M1780 951h0M1606 481h0M1206 787h0M2180 658h0M1936 610h0M1457 745h0M1989 527h0M1749 727h0M1423 658h0M1554 698h0M1445 448h0M1427 491h0M1826 490h0M1607 722h0M1899 846h0M1446 518h0M1620 455h0M1104 826h0M1745 742h0M1446 762h0M1836 821h0M1135 676h0M2112 616h0M1943 944h0M2095 555h0M1901 602h0M1584 720h0M1690 740h0M1600 749h0M1115 812h0M1357 769h0M1626 772h0M1499 601h0M1549 480h0M1412 826h0M1650 755h0M1832 560h0M1699 482h0M1494 558h0M1482 642h0M1543 694h0M1531 447h0M1079 672h0M1655 869h0M1535 836h0M1297 602h0M2080 789h0M1088 677h0M1355 613h0M1264 552h0M1901 672h0M1931 952h0M1625 494h0M1616 633h0M1162 784h0M1189 785h0M1901 708h0M1785 651h0M1281 535h0M1909 650h0M1227 596h0M1095 877h0M1824 683h0M1322 745h0M1303 776h0M1608 770h0M1360 771h0M1668 748h0M1055 825h0M1868 681h0M1696 683h0M1039 759h0M1742 861h0M1516 690h0M1902 704h0M1602 578h0M1814 640h0M1509 489h0M1641 796h0M1643 859h0M1112 853h0M1359 508h0M1898 580h0M1422 574h0M1522 602h0M1522 867h0M1498 510h0M1238 656h0M1088 744h0M1677 910h0M1515 800h0M1634 537h0M1801 818h0M2121 754h0M1553 490h0M1484 665h0M1545 649h0M1599 851h0M1522 658h0M1579 822h0M1667 486h0M1629 509h0M1970 785h0M1498 447h0M1185 588h0M1328 489h0M1774 930h0M2095 773h0M1488 436h0M1765 670h0M1878 878h0M1838 501h0M1786 550h0M1445 472h0M1939 846h0M1944 825h0M1968 648h0M2021 724h0M1324 726h0M1456 787h0M1934 624h0M1618 832h0M1116 770h0M1666 658h0M1560 713h0M1059 890h0M1608 502h0M1409 475h0M1898 728h0M1733 784h0M1662 869h0M1068 830h0M2028 861h0M1859 713h0M1482 848h0M1899 722h0M1619 859h0M2033 885h0M1936 530h0M1142 625h0M2068 555h0M1464 711h0M1628 532h0M1614 823h0M1202 636h0M1106 777h0M2079 610h0M1716 549h0M1106 774h0M1703 900h0M1786 612h0M1478 695h0M1493 776h0M1507 850h0M1973 644h0M1921 520h0M1247 671h0M1250 601h0M1331 571h0M1846 784h0M1218 724h0M1914 660h0M1892 651h0M1445 712h0M1843 909h0M2039 702h0M2139 562h0M1594 730h0M1874 517h0M1948 509h0M1796 527h0M1471 671h0M1671 909h0M1203 650h0M1516 558h0M1590 590h0M1275 598h0M1084 809h0M1653 746h0M1863 529h0M1629 635h0M1550 599h0M1450 621h0M2084 827h0M1709 852h0M1777 660h0M1805 516h0M1649 584h0M1264 573h0M1439 447h0M1346 716h0M1806 684h0M1809 781h0M1780 723h0M1407 567h0M1153 878h0M1166 745h0M1377 648h0M1588 487h0M1246 541h0M1875 558h0M1312 668h0M1506 836h0M2022 630h0M2006 584h0M1644 873h0M1848 544h0M1475 819h0M1344 678h0M1370 621h0M1669 906h0M1507 673h0M1420 568h0M1342 678h0M1855 650h0M1806 822h0M1950 735h0M1458 607h0M1796 673h0M1977 770h0M1644 472h0M1447 504h0M1776 740h0M1866 898h0M1332 585h0M1250 598h0M2145 672h0M1683 507h0M1914 894h0M1657 891h0M1153 776h0M1697 677h0M1505 766h0M1256 595h0M1698 627h0M1928 531h0M1621 790h0M1593 525h0M1477 647h0M1250 509h0M2015 783h0M1510 763h0M2047 571h0M1528 778h0M1531 450h0M1706 472h0M1598 684h0M1461 825h0M2152 723h0M1060 735h0M1699 861h0M1476 752h0M1244 673h0M1753 541h0M1332 737h0M1435 709h0M2130 640h0M1531 484h0M1896 512h0M1354 655h0M1833 554h0M1702 660h0M1661 584h0M1335 533h0M1531 867h0M1808 675h0M1523 733h0M2043 586h0M1518 847h0M1428 452h0M1556 624h0M1449 694h0M1818 917h0M1866 858h0M1426 657h0M1606 857h0M1662 750h0M1456 710h0M1993 873h0M1537 711h0M1572 583h0M2052 808h0M1125 719h0M1322 645h0M1442 746h0M1969 945h0M1143 724h0M1652 778h0M1824 558h0M1199 609h0M1229 581h0M1397 687h0M1150 659h0M2027 692h0M1891 954h0M2085 612h0M1951 501h0M1447 755h0M2004 901h0M1170 763h0M1517 667h0M1303 613h0M1138 723h0M1155 858h0M1882 856h0M1630 609h0M1578 649h0M1413 777h0M1441 643h0M1755 871h0M1430 462h0M1302 571h0M1163 602h0M1375 669h0M1606 599h0M1560 548h0M1695 644h0M1998 841h0M1601 760h0M1175 853h0M1946 648h0M1588 562h0M2099 581h0M1227 677h0M1861 823h0M2080 739h0M1936 504h0M1747 545h0M1735 685h0M1805 574h0M1794 778h0M1703 832h0M1590 456h0M1657 863h0M1683 739h0M1750 681h0M1043 773h0M1529 678h0M2137 617h0M1548 512h0M1520 813h0M1779 760h0M1506 553h0M1294 749h0M1643 864h0M1735 536h0M1114 851h0M1788 758h0M1313 493h0M2065 783h0M1698 632h0M1357 740h0M1605 755h0M1069 789h0M1082 891h0M1754 599h0M2074 814h0M1863 807h0M1487 704h0M1798 887h0M1876 539h0M1111 724h0M1435 691h0M1431 643h0M1616 658h0M2138 678h0M1053 750h0M1101 795h0M1349 681h0M1371 624h0M1935 702h0M1545 811h0M1368 698h0M1696 617h0M2017 639h0M1790 661h0M1745 903h0M1674 665h0M1582 625h0M1195 618h0M2036 872h0M1306 514h0M1048 846h0M1513 718h0M1406 581h0M1862 919h0M1699 623h0M1465 783h0M1615 898h0M1325 565h0M1490 468h0M2035 783h0M1095 791h0M2144 675h0M1826 494h0M1785 735h0M1691 751h0M1167 651h0M1468 733h0M1566 836h0M1042 837h0M1541 816h0M1062 844h0M1203 684h0M1636 460h0M1429 576h0M1541 566h0M1156 816h0M2056 680h0M1409 501h0M1644 878h0M1727 521h0M1191 626h0M1404 700h0M1825 713h0M2057 851h0M1190 629h0M1686 684h0M2141 641h0M1363 504h0M1666 880h0M1622 802h0M1666 718h0M1767 804h0M1623 685h0M1188 798h0M1582 743h0M1934 494h0M1189 795h0M1367 524h0M1728 894h0M2000 853h0M1113 719h0M1809 682h0M1878 517h0M1966 878h0M1811 671h0M2001 800h0M1227 788h0M1302 657h0M1808 691h0M1694 868h0M1288 654h0M1122 809h0M2156 709h0M1775 793h0M1418 787h0M1855 738h0M1503 839h0M1566 476h0M2173 724h0M1052 855h0M1591 785h0M1092 711h0M1809 603h0M1468 494h0M1544 488h0M1747 592h0M1319 680h0M1641 630h0M1370 630h0M1105 608h0M1869 904h0M1623 840h0M1321 486h0M1347 473h0M1461 576h0M1496 830h0M1254 520h0M1870 736h0M1092 744h0M1198 745h0M1262 563h0M1839 883h0M1444 604h0M1541 748h0M1592 882h0M1914 777h0M1692 859h0M1859 806h0M1643 628h0M1311 700h0M2021 810h0M1498 801h0M1858 728h0M1790 727h0M1040 783h0M1609 599h0M1957 928h0M1547 467h0M1330 491h0M1997 580h0M1903 727h0M1747 740h0M1163 816h0M1852 587h0M1816 882h0M1192 549h0M1484 558h0M1533 473h0M1307 511h0M1801 720h0M1185 779h0M1500 573h0M2010 865h0M1552 490h0M1711 672h0M1508 782h0M1143 847h0M1078 897h0M1548 853h0M1875 876h0M1378 695h0M1807 807h0M1202 617h0M1787 687h0M1685 880h0M1302 748h0M2012 552h0M1310 677h0M1304 661h0M1569 792h0M1988 780h0M1339 495h0M1889 745h0M1512 590h0M1615 715h0M1579 822h0M1532 837h0M1475 472h0M1802 870h0M1597 566h0M1689 843h0M1361 644h0M1868 550h0M1938 650h0M1670 471h0M1858 930h0M1471 736h0M1621 691h0M1735 504h0M1460 793h0M1477 609h0M1487 491h0M1296 572h0M1398 575h0M1478 472h0M1099 745h0M2043 737h0M1716 852h0M1432 527h0M1392 654h0M1193 656h0M2013 562h0M1734 862h0M1197 653h0M1324 488h0M1325 650h0M1627 813h0M2210 710h0M2132 646h0M1922 612h0M1767 945h0M1978 614h0M1537 753h0M2039 851h0M1652 650h0M1830 723h0M1418 577h0M1521 744h0M1165 730h0M1980 900h0M1913 530h0M1961 832h0M1925 675h0M1662 857h0M1171 810h0M1346 663h0M1892 937h0M1056 722h0M1826 639h0M1164 758h0M2053 789h0M2090 696h0M1738 553h0M1265 604h0M1185 728h0M1912 691h0M2112 824h0M2076 772h0M1961 641h0M1658 853h0M1139 775h0M1175 783h0M1750 901h0M1049 777h0M1983 910h0M1989 702h0M1438 480h0M1779 589h0M1711 866h0M1781 869h0M1095 736h0M1496 696h0M1054 806h0M1701 841h0M1752 518h0M1525 478h0M1993 733h0M1610 553h0M1667 474h0M1391 485h0M1637 835h0M1556 564h0M1570 633h0M1622 467h0M1280 606h0M1075 874h0M1536 517h0M1641 528h0M1770 746h0M1106 795h0M1958 932h0M1338 695h0M1314 672h0M2181 691h0M1425 454h0M1990 577h0M1862 528h0M1431 783h0M1784 663h0M1423 465h0M1743 497h0M1585 588h0M1319 729h0M1145 633h0M1388 456h0M1283 557h0M1132 691h0M1521 582h0M1837 618h0M1705 528h0M2010 628h0M1618 621h0M1394 479h0M1092 793h0M1392 605h0M1449 455h0M1729 552h0M1610 759h0M1873 621h0M1374 783h0M1744 772h0M1518 646h0M1279 611h0M1558 497h0M1550 446h0M1288 758h0M1158 831h0M1666 583h0M1520 862h0M1812 588h0M1379 656h0M1806 674h0M1878 538h0M2099 743h0M2020 701h0M1835 632h0M1840 846h0M2056 814h0M1641 796h0M1919 862h0M1273 677h0M1032 850h0M1512 841h0M1802 916h0M1955 909h0M1857 499h0M1609 509h0M1649 803h0M1157 695h0M1095 697h0M1288 689h0M1740 695h0M1751 690h0M1743 803h0M1502 620h0M1049 748h0M2154 709h0M1588 567h0M1425 795h0M1669 607h0M1942 932h0M1767 838h0M2017 764h0M1709 865h0M1622 684h0M1549 801h0M1564 548h0M1454 757h0M1412 756h0M1928 569h0M1183 616h0M1857 736h0M1964 849h0M1846 819h0M1446 616h0M1701 916h0M1880 828h0M1784 765h0M1204 606h0M1539 557h0M1841 799h0M1734 778h0M1948 704h0M1971 688h0M1261 788h0M1412 781h0M1549 850h0M1546 547h0M1289 770h0M1756 798h0M2148 714h0M1201 549h0M1823 535h0M1888 782h0M1627 535h0M1172 748h0M1448 626h0M1459 821h0M1619 724h0M1692 792h0M1143 657h0M1720 857h0M2000 621h0M1484 481h0M1918 763h0M1542 494h0M1394 511h0M1704 820h0M1447 478h0M1694 783h0M2037 651h0M1601 624h0M1364 692h0M1410 517h0M1778 823h0M1124 589h0M1974 526h0M1848 814h0M1544 633h0M1806 609h0M1401 587h0M1072 838h0M1930 630h0M1453 616h0M1421 688h0M1086 686h0M1611 492h0M1045 808h0M1152 839h0M1762 481h0M1842 842h0M1529 560h0M1397 490h0M1939 591h0M1326 714h0M1373 627h0M1847 574h0M1925 853h0M1179 683h0M1433 630h0M1508 559h0M1381 494h0M1852 686h0M1728 662h0M1091 823h0M1911 841h0M1204 577h0M1770 710h0M1919 510h0M1846 887h0M1163 844h0M1980 699h0M1993 765h0M1600 733h0M1318 542h0M1280 765h0M1117 827h0M1803 902h0M1478 835h0M1317 473h0M1805 834h0M1245 674h0M1892 637h0M1108 721h0M1047 724h0M1155 662h0M1325 476h0M1618 473h0M1818 900h0M1457 457h0M1869 558h0M1377 542h0M1336 688h0M1972 944h0M1905 722h0M1515 862h0M1801 737h0M1290 612h0M1120 662h0M1508 601h0M2005 863h0M1756 507h0M1425 472h0M1463 650h0M1870 691h0M1389 732h0M2153 801h0M2167 789h0M1415 582h0M1373 741h0M1304 628h0M1644 855h0M1635 712h0M1617 797h0M1935 576h0M2071 837h0M1090 618h0M1493 635h0M1646 798h0M1895 858h0M1093 713h0M1132 782h0M1654 755h0M2104 741h0M1633 526h0M1654 837h0M1209 632h0M1613 581h0M1214 645h0M1770 772h0M1663 763h0M1744 597h0M1819 548h0M1108 656h0M1642 873h0M1669 888h0M1830 600h0M1676 607h0M1741 816h0M1758 773h0M1121 840h0M1868 603h0M1870 730h0M1993 542h0M1510 741h0M1568 863h0M1617 466h0M2023 694h0M1216 603h0M1904 814h0M2111 791h0M1363 656h0M1626 482h0M1893 573h0M1445 598h0M1961 794h0M2017 512h0M1715 765h0M1472 757h0M1232 768h0M1320 493h0M1736 917h0M1805 822h0M2006 662h0M1619 714h0M1137 760h0M1170 817h0M1959 684h0M1752 881h0M1129 728h0M1779 934h0M1233 611h0M1780 887h0M1450 564h0M2045 776h0M1543 446h0M1238 589h0M1738 827h0M1656 781h0M1620 523h0M1737 532h0M1641 462h0M1600 695h0M1745 609h0M2005 820h0M1723 695h0M2077 825h0M1452 690h0M1656 515h0M1616 432h0M1218 613h0M1436 619h0M2070 684h0M1449 741h0M1803 877h0M1672 532h0M1340 763h0M1749 786h0M1556 484h0M1288 753h0M1910 786h0M1148 760h0M2104 676h0M1475 843h0M1783 554h0M1330 747h0M1655 618h0M1669 559h0M1038 859h0M2065 555h0M1927 504h0M1845 566h0M1893 703h0M1523 837h0M1060 791h0M1111 757h0M1267 708h0M1700 773h0M1730 659h0M1877 865h0M2020 794h0M1609 839h0M1611 556h0M1602 814h0M1943 575h0M1503 447h0M1716 459h0M1552 673h0M1713 542h0M1572 725h0M1447 754h0M1369 763h0M1524 665h0M1649 829h0M1712 820h0M1108 729h0M1405 625h0M1284 701h0M1405 636h0M1545 835h0M1455 539h0M1533 572h0M1772 496h0M1811 822h0M2095 581h0M1329 664h0M1796 772h0M1546 546h0M1335 732h0M1312 582h0M1698 556h0M1616 756h0M1405 632h0M1133 776h0M1569 691h0M1070 822h0M1520 851h0M1568 863h0M1884 616h0M1631 459h0M1977 778h0M1724 714h0M1998 731h0M1754 725h0M1537 691h0M1625 496h0M1840 928h0M1487 557h0M1542 773h0M1701 596h0M1666 802h0M1465 580h0M1454 827h0M1560 606h0M1702 521h0M1609 679h0M1768 841h0M1976 803h0M1503 731h0M2049 731h0M1440 477h0M1817 656h0M1450 697h0M1434 584h0M1232 751h0M1766 590h0M1066 868h0M2073 785h0M1651 578h0M1931 527h0M1734 509h0M1498 570h0M1359 456h0M1918 940h0M1651 829h0M1473 755h0M1699 541h0M1824 512h0M1809 932h0M2129 712h0M1558 783h0M1288 632h0M1555 473h0M1807 575h0M1374 543h0M1311 705h0M1077 694h0M1798 601h0M1589 525h0M2013 515h0M1891 716h0M1765 519h0M1891 558h0M1480 771h0M1800 694h0M1869 916h0M1628 827h0M1460 472h0M1683 854h0M1416 596h0M1073 881h0M1487 559h0M1727 949h0M1948 785h0M1500 683h0M2029 816h0M1628 509h0M1587 694h0M1383 775h0M1851 603h0M1639 882h0M1804 518h0M2009 798h0M1161 619h0M1765 817h0M1823 548h0M1105 629h0M1894 485h0M1714 654h0M1225 714h0M1097 792h0M1355 554h0M1228 782h0M2031 777h0M1832 557h0M1460 828h0M1425 540h0M1838 789h0M1094 829h0M1565 839h0M1773 864h0M1499 710h0M1033 771h0M1986 682h0M2017 720h0M1185 688h0M1555 775h0M1313 705h0M1115 623h0M1509 655h0M2026 731h0M1543 793h0M1393 728h0M2121 810h0M1782 688h0M1865 501h0M1109 795h0M1253 760h0M1168 717h0M2167 774h0M1796 918h0M1535 813h0M1657 588h0M1205 776h0M1284 515h0M1072 711h0M1656 518h0M1127 689h0M1724 826h0M2179 752h0M1451 833h0M1518 448h0M1541 632h0M1999 808h0M1737 541h0M1673 792h0M1626 577h0M1709 799h0M1216 667h0M1830 803h0M1737 808h0M1762 819h0M1471 477h0M1539 809h0M2070 808h0M1561 652h0M1596 751h0M1859 604h0M1434 659h0M1831 797h0M1517 661h0M1776 827h0M2043 565h0M2138 734h0M1119 706h0M1464 634h0M1228 759h0M2184 728h0M1810 743h0M1850 561h0M1680 567h0M1446 673h0M1599 862h0M1448 741h0M1243 734h0M1981 863h0M1440 494h0M1760 857h0M2177 610h0M1627 614h0M1294 617h0M1974 912h0M1880 600h0M1112 717h0M1553 463h0M1303 648h0M1576 616h0M2185 728h0M1420 443h0M1645 552h0M1468 779h0M1707 555h0M1615 547h0M1433 618h0M1254 591h0M1758 678h0M1737 510h0M1783 600h0M1795 546h0M1483 831h0M1997 709h0M1652 579h0M1802 805h0M2005 728h0M1147 571h0M1715 903h0M1299 512h0M1826 641h0M1862 556h0M1796 856h0M1152 655h0M1461 609h0M1542 444h0M1878 514h0M2079 759h0M1746 535h0M1277 609h0M2167 732h0M1407 620h0M1267 659h0M1727 542h0M1144 740h0M1914 613h0M1881 771h0M1735 616h0M2082 550h0M1631 578h0M1723 620h0M1201 608h0M1984 861h0M1424 651h0M1617 739h0M1969 927h0M1681 663h0M1604 775h0M1738 605h0M1109 830h0M1362 663h0M1420 747h0M1889 945h0M1771 663h0M1385 773h0M1508 696h0M1628 502h0M2111 783h0M1403 817h0M1597 478h0M1566 883h0M1623 867h0M1813 496h0M1308 628h0M1125 715h0M1282 620h0M1390 558h0M1849 859h0M1205 683h0M1036 789h0M1517 561h0M1303 494h0M1838 528h0M1219 765h0M1976 879h0M1720 885h0M1696 562h0M2150 710h0M1852 643h0M1243 776h0M1584 765h0M1766 713h0M1297 760h0M1242 529h0M1416 813h0M1334 475h0M2093 711h0M1564 607h0M1870 602h0M1695 481h0M1326 640h0M1713 556h0M2105 583h0M1853 823h0M1462 721h0M1201 631h0M1806 833h0M1629 683h0M1381 762h0M1371 576h0M1902 656h0M1743 526h0M1408 512h0M1438 685h0M1264 540h0M2024 519h0M1863 604h0M1205 542h0M1502 506h0M1027 794h0M1048 801h0M1372 562h0M1709 835h0M1518 489h0M1519 661h0M1065 809h0M1116 703h0M1622 739h0M1636 832h0M1548 702h0M1690 633h0M1903 570h0M1311 515h0M1094 687h0M1530 846h0M1640 552h0M1601 502h0M1574 652h0M1746 585h0M1886 539h0M2034 579h0M1593 509h0M1995 809h0M1773 933h0M1678 636h0M1860 752h0M2002 831h0M1650 870h0M1348 486h0M1224 715h0M1720 650h0M1752 609h0M1783 779h0M1063 741h0M1356 542h0M2097 658h0M1408 602h0M2038 752h0M1132 871h0M1911 736h0M1928 945h0M1162 818h0M1486 821h0M1306 636h0M1460 479h0M1283 525h0M1635 438h0M1828 640h0M1922 845h0M1807 679h0M2014 597h0M1692 458h0M1720 805h0M1063 770h0M1537 671h0M1606 626h0M1744 498h0M1805 661h0M1304 776h0M1909 632h0M1568 711h0M1763 581h0M1816 887h0M1842 905h0M1368 565h0M1030 796h0M1104 753h0M2190 688h0M1962 947h0M2199 654h0M1736 726h0M1100 692h0M2105 670h0M1851 553h0M1548 469h0M1892 847h0M1548 524h0M1710 644h0M1576 821h0M1866 803h0M1484 558h0M1940 696h0M1516 465h0M1751 767h0M1668 711h0M1472 438h0M1226 594h0M1695 465h0M1436 487h0M1184 678h0M1932 759h0M1665 625h0M1370 538h0M1883 524h0M1431 662h0M1811 665h0M1149 625h0M2026 901h0M2040 838h0M1672 563h0M2090 659h0M1668 597h0M1157 626h0M1542 719h0M1128 874h0M1392 454h0M1505 796h0M1829 700h0M1070 835h0M1435 621h0M1862 760h0M1684 507h0M1815 812h0M1636 452h0M1362 669h0M1693 822h0M1797 762h0M1803 691h0M1450 827h0M1147 689h0M1412 626h0M1638 585h0M1879 826h0M1963 709h0M1349 649h0M1705 869h0M1687 800h0M1383 675h0M1972 837h0M1384 699h0M1918 778h0M2080 570h0M1564 669h0M1186 675h0M1338 477h0M1201 752h0M1734 827h0M1719 654h0M1918 900h0M1933 559h0M1462 608h0M1328 748h0M2176 711h0M1464 652h0M1306 691h0M1519 572h0M1064 773h0M2099 674h0M1175 768h0M1533 635h0M1818 614h0M1743 622h0M1295 507h0M1552 598h0M1389 460h0M1111 874h0M1145 873h0M2101 687h0M1384 478h0M1251 740h0M1079 755h0M1967 511h0M1715 490h0M1320 571h0M1453 492h0M1775 563h0M2092 651h0M1856 655h0M1441 532h0M1864 961h0M2130 796h0M1632 649h0M1832 920h0M1587 637h0M1445 487h0M1543 667h0M1918 605h0M1666 660h0M1794 804h0M2024 571h0M1116 789h0M1942 864h0M1536 576h0M1728 515h0M1104 670h0M1707 668h0M1601 870h0M1999 737h0M1519 465h0M1071 680h0M1355 738h0M1197 671h0M1350 661h0M1891 532h0M1815 681h0M1084 904h0M1378 598h0M1463 692h0M1453 615h0M1349 752h0M1759 568h0M2056 782h0M1294 511h0M1972 711h0M1698 662h0M1588 485h0M1389 597h0M1766 787h0M1730 877h0M1657 542h0M1284 749h0M1718 517h0M1163 740h0M1128 703h0M1336 609h0M1726 872h0M1556 441h0M1732 807h0M1727 857h0M1068 711h0M1768 718h0M1583 684h0M1149 822h0M1470 630h0M1915 951h0M1375 515h0M1725 531h0M1594 496h0M1980 932h0M1105 829h0M1324 720h0M2124 564h0M1269 506h0M2037 802h0M1407 657h0M1774 565h0M1129 693h0M2067 669h0M1737 596h0M1766 670h0M1227 557h0M1691 477h0M1717 481h0M1473 574h0M1793 937h0M1553 529h0M1825 615h0M1522 549h0M1997 532h0M2000 917h0M1875 834h0M1343 466h0M1223 553h0M1811 593h0M1624 898h0M1934 588h0M1420 624h0M1963 624h0M1271 509h0M2003 807h0M1654 679h0M1854 796h0M1777 658h0M1466 802h0M1760 596h0M1114 627h0M1468 735h0M1107 801h0M2141 725h0M1611 785h0M1144 647h0M1202 656h0M1465 561h0M1724 717h0M2072 801h0M1762 707h0M1330 729h0M1485 623h0M1552 446h0M1244 687h0M1632 709h0M1365 599h0M1682 693h0M1854 826h0M1909 810h0M1603 563h0M1709 488h0M1063 825h0M1620 472h0M1587 476h0M1124 833h0M1781 488h0M1295 495h0M1569 808h0M1171 787h0M1557 586h0M1459 793h0M1746 598h0M1746 858h0M1451 810h0M1053 724h0M1748 697h0M1476 666h0M1873 776h0M1890 922h0M1806 820h0M1443 599h0M2057 706h0M1071 885h0M1560 694h0M1171 742h0M1158 674h0M1802 954h0M1735 886h0M1710 695h0M1604 758h0M1766 715h0M1711 912h0M2075 546h0M2069 603h0M1419 828h0M1544 688h0M1365 525h0M1851 764h0M1264 715h0M1320 572h0M1516 772h0M1741 834h0M1367 767h0M1177 836h0M1497 563h0M1039 700h0M1416 654h0M1596 631h0M1746 819h0M1130 736h0M1609 679h0M1753 500h0M1115 654h0M1720 530h0M1501 676h0M1501 793h0M1261 745h0M1519 461h0M2124 564h0M1474 778h0M1684 642h0M1633 899h0M1889 554h0M1694 603h0M1617 611h0M1619 498h0M1590 857h0M2008 568h0M1566 864h0M1594 663h0M1826 909h0M1380 694h0M1312 718h0M1173 611h0M1548 581h0M1528 495h0M1764 738h0M1240 543h0M1212 646h0M1057 781h0M2190 645h0M1315 493h0M2045 533h0M1708 607h0M1704 794h0M1698 463h0M1537 517h0M1154 608h0M1778 724h0M1749 605h0M2006 692h0M1382 631h0M1343 603h0M2141 773h0M1182 653h0M1859 685h0M1516 852h0M1446 525h0M2015 885h0M1487 489h0M1289 599h0M1989 603h0M2140 640h0M1455 469h0M1142 751h0M1712 861h0M1871 751h0M1916 894h0M1646 868h0M2149 741h0M1402 515h0M1063 670h0M1382 462h0M1451 610h0M1854 830h0M1664 755h0M1929 851h0M1095 825h0M1733 927h0M1419 701h0M1380 566h0M2104 835h0M1044 784h0M1131 894h0M2166 761h0M1520 695h0M1900 485h0M1800 934h0M2117 657h0M2111 788h0M1694 793h0M2115 556h0M2067 730h0M1470 675h0M1234 771h0M1870 916h0M1730 713h0M1347 623h0M1576 756h0M1983 877h0M1605 630h0M2019 734h0M1279 617h0M1440 770h0M1111 830h0M1854 780h0M2022 877h0M1436 537h0M1299 559h0M1370 643h0M1110 600h0M1098 836h0M1512 803h0M1136 720h0M1920 662h0M1212 629h0M1710 819h0M1882 854h0M1896 550h0M1206 795h0M1303 681h0M1387 746h0M1873 793h0M1548 883h0M1779 553h0M1748 770h0M1727 554h0M1180 690h0M1593 491h0M2080 771h0M2136 600h0M1454 747h0M1422 708h0M1379 448h0M1614 488h0M1591 494h0M2002 882h0M1529 710h0M1477 825h0M1767 920h0M1544 641h0M1307 483h0M1350 742h0M1450 511h0M1810 754h0M1319 494h0M1577 859h0M1506 610h0M2105 549h0M1249 714h0M1798 810h0M1402 494h0M1168 724h0M1619 735h0M1449 481h0M1555 482h0M1317 537h0M1756 673h0M1772 686h0M1729 701h0M1273 770h0M1724 750h0M1077 771h0M1920 907h0M1827 486h0M1333 732h0M1799 532h0M1749 500h0M1733 629h0M1706 869h0M1142 721h0M2102 808h0M1160 800h0M1544 846h0M1337 536h0M1423 557h0M2157 618h0M1701 798h0M1730 757h0M1316 625h0M1592 509h0M1453 555h0M1318 630h0M1558 817h0M1969 932h0M1886 575h0M1621 567h0M1681 896h0M1501 703h0M1850 748h0M1645 812h0M1829 483h0M1490 469h0M1550 559h0M1184 640h0M1693 516h0M2095 537h0M1084 636h0M1384 654h0M1910 561h0M1103 830h0M1680 916h0M1973 635h0M1183 690h0M1450 482h0M1636 475h0M1817 740h0M1509 490h0M1321 688h0M1914 704h0M1699 812h0M1810 718h0M2056 523h0M1324 702h0M1667 460h0M1189 730h0M1176 864h0M1579 819h0M1523 665h0M1424 771h0M1773 544h0M1844 853h0M1715 469h0M1553 582h0M1772 663h0M1297 496h0M1646 555h0M1431 746h0M1739 525h0M1428 638h0M1139 830h0M1882 572h0M1814 925h0M1196 619h0M1885 532h0M1714 543h0M1669 504h0M1546 449h0M1941 521h0M1587 815h0M1437 474h0M2073 761h0M1815 908h0M1723 668h0M1440 596h0M1964 842h0M2098 572h0M1148 756h0M2084 614h0M1553 665h0M1246 622h0M1492 493h0M2112 764h0M1846 535h0M2033 542h0M1902 950h0M1712 915h0M2118 591h0M2049 709h0M1761 748h0M1705 894h0M1917 892h0M1318 524h0M1532 833h0M1856 791h0M1875 558h0M1737 692h0M2029 618h0M1887 833h0M1647 543h0M1755 827h0M1421 608h0M1104 751h0M1092 905h0M1062 789h0M1125 873h0M1217 684h0M1266 689h0M1784 575h0M1478 580h0M1771 653h0M1797 692h0M1674 457h0M1060 761h0M1880 582h0M1743 709h0M1954 785h0M1671 569h0M1145 870h0M1087 705h0M1398 522h0M2082 779h0M1289 525h0M1164 649h0M1811 617h0M1892 868h0M1115 732h0M1369 471h0M1152 606h0M1347 646h0M1927 767h0M1306 655h0M1142 740h0M1482 716h0M1497 599h0M1559 521h0M1799 904h0M1677 743h0M1684 856h0M1805 564h0M1269 708h0M1581 788h0M1631 856h0M1463 836h0M1793 897h0M2027 894h0M1743 898h0M1875 814h0M1702 630h0M1405 778h0M1681 435h0M1696 538h0M1462 584h0M1616 856h0M1821 709h0M1978 908h0M1099 660h0M2024 750h0M1319 764h0M1697 862h0M1105 856h0M1571 828h0M1794 665h0M1987 809h0M1335 554h0M1470 499h0M1268 564h0M1124 684h0M1537 767h0M1199 610h0M1625 448h0M1533 462h0M1214 752h0M1127 752h0M1323 680h0M1766 653h0M1667 742h0M1892 799h0M1663 472h0M1649 760h0M1218 699h0M1640 524h0M1107 635h0M1546 541h0M1899 947h0M1736 583h0M1491 860h0M2076 641h0M1172 826h0M1570 820h0M2142 779h0M1310 640h0M2096 607h0M1299 588h0M1136 723h0M1636 853h0M2006 514h0M1179 568h0M1593 658h0M1816 893h0M1563 436h0M1932 644h0M1570 517h0M1222 717h0M2114 569h0M2065 745h0M1579 719h0M2043 523h0M2135 702h0M1773 607h0M1746 653h0M1506 484h0M1107 654h0M1782 611h0M1024 809h0M1619 870h0M1497 773h0M1822 810h0M1757 843h0M1490 787h0M1494 523h0M1296 772h0M1758 787h0M1514 750h0M1664 764h0M1177 832h0M1700 848h0M2095 821h0M1571 697h0M1633 646h0M1591 595h0M1721 646h0M1896 917h0M2062 638h0M1301 739h0M1366 652h0M1259 687h0M1053 769h0M1489 435h0M1152 630h0M1242 671h0M2107 710h0M2168 654h0M1472 777h0M1751 619h0M1688 698h0M1504 828h0M1123 904h0M1394 734h0M1289 668h0M2050 715h0M1486 497h0M2089 765h0M1540 725h0M1795 648h0M1662 910h0M1798 728h0M1766 477h0M1712 449h0M1753 470h0M1754 480h0M1752 475h0M1759 490h0M1406 881h0M1225 853h0M1407 850h0M1412 832h0M1939 955h0M1189 865h0M1946 949h0M1289 845h0M1383 852h0M1297 905h0M1343 802h0M1285 874h0M1173 860h0M1384 821h0M1278 826h0M1828 960h0M1349 902h0M1491 894h0M1529 906h0M1648 912h0M1582 915h0M1921 972h0M1606 908h0M1208 907h0M1252 830h0M1402 902h0M1232 815h0M1374 856h0M1294 861h0M1865 963h0M1250 774h0M1197 876h0M1238 814h0M1282 811h0M1380 833h0M1223 848h0M1796 956h0M1573 882h0M1419 907h0M1258 885h0M1313 828h0M1411 872h0M1246 783h0M1223 814h0M1369 874h0M1257 827h0M1289 834h0M1562 917h0M1328 823h0M1686 951h0M1607 916h0M1365 806h0M1496 919h0M1328 804h0M1385 904h0M1251 841h0M2004 927h0M1485 895h0M1185 843h0M1788 970h0M1296 849h0M1185 818h0M1252 901h0M1212 872h0M1764 958h0M1321 910h0M1370 889h0M1431 907h0M1194 880h0M1417 866h0M1269 898h0M1994 943h0M1617 937h0M1236 920h0M1217 874h0M1275 773h0M1331 903h0M1896 966h0M1190 842h0M1266 780h0M1314 818h0M1721 955h0M1214 807h0M1325 898h0M1353 781h0M1232 839h0M1336 897h0M1284 887h0M1386 821h0M1504 919h0M1473 914h0M1508 888h0M1388 910h0M1926 965h0M1203 877h0M1219 840h0M1277 837h0M1249 793h0M1209 894h0M1215 884h0M1217 863h0M1188 862h0M1399 844h0M1317 878h0M1307 787h0M1199 883h0M1405 886h0M1398 889h0M1377 865h0M1380 828h0M1310 850h0M1294 896h0M1238 805h0M1290 786h0M1533 889h0M1813 967h0M1330 887h0M1272 831h0M1215 794h0M1329 780h0M1912 950h0M1622 920h0M1369 884h0M1520 913h0M1275 902h0M1405 893h0M1239 792h0M1989 953h0M1323 793h0M1531 921h0M1346 794h0M1365 876h0M1723 946h0M1277 813h0M1625 938h0M1422 852h0M1286 805h0M1368 804h0M1493 871h0M1374 813h0M1974 940h0M1257 858h0M1356 889h0M1844 970h0M1248 904h0M1299 857h0M1281 787h0M1602 921h0M1313 898h0M1532 888h0M1289 836h0M1282 858h0M1237 848h0M1294 888h0M1428 907h0M1275 856h0M1306 867h0M1837 962h0M1194 829h0M1292 889h0M1512 891h0M1307 909h0M1488 889h0M1292 819h0M1611 932h0M1266 868h0M1230 874h0M1340 882h0M1276 803h0M1954 949h0M1250 822h0M1307 850h0M1427 914h0M1833 964h0M1982 939h0M1437 887h0M1683 933h0M1211 807h0M1409 893h0M1327 833h0M1242 815h0M2002 935h0M1769 974h0M1285 834h0M1507 888h0M1927 940h0M1388 894h0M1661 941h0M1391 872h0M2000 949h0M1281 841h0M1326 842h0M1396 903h0M1960 966h0M1253 802h0M1338 842h0M1333 903h0M1527 919h0M1538 907h0M1492 930h0M1212 863h0M1394 866h0M1426 846h0M1436 898h0M1945 954h0M1198 854h0M1901 965h0M1261 899h0M1926 955h0M1254 905h0M1305 804h0M1222 898h0M1289 878h0M1242 837h0M1926 969h0M1288 894h0M1769 947h0M1212 808h0M1714 943h0M1410 867h0M1678 937h0M1409 917h0M1392 841h0M1311 805h0M1254 853h0M1257 891h0M1961 960h0M1592 928h0M1371 917h0M1379 991h0M1384 924h0M1523 995h0M1320 964h0M1469 1007h0M1294 963h0M1592 990h0M1354 941h0M1505 989h0M1448 957h0M1507 944h0M1438 917h0M1542 961h0M1248 921h0M1347 940h0M1386 985h0M1393 986h0M1526 984h0M1416 965h0M1454 960h0M1447 980h0M1288 936h0M1397 951h0M1257 960h0M1299 915h0M1418 973h0M1265 926h0M1336 949h0M1419 965h0M1353 927h0M1550 960h0M1354 948h0M1234 945h0M1339 963h0M1566 1001h0M1328 949h0M1517 930h0M1335 950h0M1458 918h0M1363 949h0M1536 1003h0M1483 970h0M1505 954h0M2039 952h0M2016 958h0M1623 1084h0M1709 1120h0M1488 1159h0M1683 1150h0M1666 1098h0M1566 1091h0M1676 1125h0M1581 1048h0M1567 1081h0M1542 1136h0M1557 1135h0M1560 1046h0M1559 1105h0M1577 1137h0M1709 1118h0M1537 1125h0M1673 1069h0M1577 1077h0M1549 1103h0M1632 1081h0M1650 1022h0M1709 1122h0M1639 1134h0M1714 1110h0M1718 1058h0M1586 1072h0M1668 1146h0M1630 1099h0M1549 1150h0M1543 1111h0M1640 1155h0M1550 1092h0M1589 1095h0M1653 1097h0M1511 1114h0M1697 1114h0M1583 1086h0M1535 1115h0M1523 1077h0M1597 1126h0M1645 1063h0M1700 1081h0M1579 1087h0M1491 1134h0M1705 1164h0M1683 1121h0M1551 1109h0M1717 1098h0M1617 1145h0M1618 1059h0M1567 1055h0M1707 1043h0M1722 1141h0M1540 1110h0M1702 1154h0M1693 1107h0M1737 1125h0M1627 1071h0M1656 1134h0M1737 1076h0M1689 1121h0M1506 1109h0M1544 1101h0M1552 1121h0M1713 1143h0M1704 1136h0M1641 1079h0M1690 1056h0M1649 1093h0M1638 1019h0M1660 1055h0M1750 1096h0M1651 1077h0M1593 1153h0M1720 1045h0M1600 1155h0M1732 1139h0M1700 1036h0M1638 1158h0M1737 1106h0M1705 1087h0M1624 1088h0M1650 1079h0M1662 1030h0M1639 1021h0M1555 1134h0M1692 1067h0M1619 1079h0M1658 1050h0M1573 1155h0M1628 1050h0M1689 1106h0M1505 1145h0M1632 1035h0M1610 1057h0M1569 1145h0M1730 1040h0M1676 1073h0M1680 1067h0M1648 1090h0M1643 1084h0M1670 1047h0M1644 1122h0M1600 1040h0M1711 1093h0M1582 1056h0M1598 1052h0M1722 1069h0M1705 1158h0M1683 1124h0M1662 1141h0M1674 1068h0M1677 1104h0M1737 1060h0M1505 1149h0M1710 1058h0M1568 1072h0M1639 1150h0M1492 1157h0M1526 1148h0M1671 1154h0M1583 1079h0M1646 1059h0M1561 1101h0M1741 1091h0M1621 1103h0M1711 1102h0M1553 1064h0M1576 1105h0M1595 1045h0M1701 1048h0M1533 1112h0M1707 1152h0M1729 1056h0M1632 1120h0M1667 1139h0M1712 1059h0M1551 1138h0M1525 1080h0M1668 1105h0M1503 1135h0M1592 1133h0M1699 1113h0M1524 1088h0M1674 1130h0M1672 1159h0M1745 1048h0M1589 1136h0M1727 1058h0M1677 1069h0M1631 1131h0M1675 1147h0M1626 1061h0M1675 1063h0M1730 1101h0M1686 1053h0M1564 1141h0M1695 1063h0M1636 1046h0M1721 1061h0M1728 1079h0M1680 1133h0M1591 1044h0M1700 1042h0M1549 1140h0M1537 1051h0M1520 1158h0M1725 1098h0M1542 1101h0M1659 1070h0M1609 1053h0M1735 1070h0M1655 1139h0M1686 1050h0M1604 1109h0M1515 1074h0M1591 1068h0M1634 1025h0M1731 1053h0M1704 1058h0M1658 1132h0M1650 1078h0M1574 1067h0M1589 1108h0M1609 1144h0M1705 1050h0M1588 1143h0M1680 1024h0M1690 1068h0M1558 1152h0M1698 1158h0M1688 1065h0M1640 1156h0M1568 1112h0M1590 1048h0M1600 1101h0M1644 1087h0M1610 1138h0M1693 1096h0M1599 1069h0M1716 1135h0M1715 1065h0M1657 1099h0M1620 1068h0M1670 1030h0M1700 1070h0M1679 1147h0M1704 1078h0M1511 1100h0M1603 1085h0M1568 1091h0M1732 1131h0M1579 1067h0M1664 1041h0M1708 1155h0M1550 1067h0M1671 1157h0M1588 1100h0M1669 1082h0M1706 1086h0M1575 1101h0M1697 1043h0M1647 1119h0M1489 1159h0M1720 1123h0M1488 1156h0M1625 1017h0M1575 1064h0M1714 1149h0M1605 1145h0M1647 1061h0M1569 1076h0M1570 1053h0M1715 1066h0M1628 1113h0M1616 1085h0M1504 1081h0M1582 1125h0M1631 1039h0M1494 1136h0M1587 1134h0M1578 1091h0M1557 1090h0M1688 1119h0M1597 1053h0M1623 1013h0M1612 1108h0M1618 1133h0M1508 1127h0M1622 1129h0M1672 1019h0M1538 1133h0M1733 1143h0M1740 1105h0M1635 1091h0M1688 1075h0M1693 1152h0M1679 1044h0M1505 1128h0M1560 1091h0M1497 1109h0M1713 1132h0M1613 1150h0M1626 1014h0M1642 1062h0M1623 1050h0M1696 1035h0M1739 1085h0M1557 1131h0M1691 1070h0M1604 1140h0M1709 1148h0M1662 1106h0M1622 1037h0M1570 1095h0M1523 1125h0M1583 1074h0M1648 1033h0M1620 1087h0M1723 1071h0M1660 1066h0M1742 1111h0M1632 1089h0M1692 1076h0M1592 1071h0M1510 1074h0M1666 1120h0M1665 1062h0M1533 1088h0M1668 1042h0M1675 1054h0M1568 1123h0M1634 1153h0M1526 1099h0M1644 1023h0M1679 1068h0M1653 1053h0M1689 1151h0M1533 1140h0M1727 1127h0M1698 1135h0M1555 1061h0M1659 1059h0M1634 1114h0M1580 1101h0M1642 1105h0M1586 1125h0M1572 1136h0M1489 1103h0M1492 1135h0M1565 1103h0M1699 1159h0M1505 1107h0M1696 1128h0M1747 1087h0M1584 1144h0M1727 1126h0M1643 1068h0M1677 1101h0M1645 1102h0M1708 1140h0M1515 1119h0M1646 1103h0M1700 1090h0M1604 1064h0M1502 1156h0M1625 1080h0M1639 1071h0M1621 1108h0M1500 1140h0M1657 1108h0M1694 1121h0M1594 1126h0M1603 1089h0M1696 1130h0M1653 1074h0M1718 1109h0M1702 1148h0M1649 1143h0M1494 1173h0M1557 1047h0M1676 1051h0M1623 1097h0M1510 1075h0M1500 1139h0M1543 1071h0M1598 1144h0M1695 1153h0M1516 1145h0M1641 1127h0M1691 1115h0M1718 1040h0M1715 1133h0M1573 1061h0M1624 1033h0M1617 1137h0M1489 1160h0M1712 1052h0M1533 1123h0M1695 1115h0M1642 1062h0M1529 1096h0M1628 1090h0M1740 1121h0M1609 1071h0M1621 1090h0M1632 1032h0M1663 1085h0M1585 1150h0M1629 1129h0M1551 1116h0M1658 1145h0M1611 1151h0M1543 1102h0M1637 1124h0M1629 1153h0M1575 1105h0M1746 1095h0M1578 1078h0M1563 1081h0M1626 1086h0M1633 1151h0M1663 1148h0M1585 1050h0M1599 1082h0M1657 1098h0M1597 1114h0M1595 1079h0M1650 1033h0M1722 1115h0M1585 1094h0M1706 1106h0M1595 1131h0M1705 1086h0M1717 1156h0M1485 1162h0M1580 1123h0M1563 1134h0M1673 1109h0M1686 1151h0M1523 1140h0M1543 1095h0M1739 1106h0M1536 1111h0M1660 1065h0M1694 1035h0M1491 1098h0M1694 1106h0M1594 1109h0M1618 1109h0M1581 1101h0M1631 1133h0M1660 1047h0M1560 1122h0M1539 1108h0M1603 1031h0M1513 1167h0M1547 1140h0M1581 1080h0M1737 1083h0M1657 1096h0M1667 1052h0M1673 1152h0M1699 1092h0M1623 1041h0M1623 1092h0M1685 1083h0M1738 1106h0M1671 1150h0M1736 960h0M1691 960h0M1697 985h0M1925 986h0M1929 1030h0M1967 1002h0M1859 1024h0M1706 1037h0M1955 1008h0M2013 1023h0M1692 966h0M1822 996h0M2008 962h0M1842 1007h0M1814 1026h0M2022 978h0M1981 998h0M1903 1018h0M2012 1041h0M1865 976h0M1839 992h0M1929 1073h0M1888 1006h0M1626 957h0M1830 1054h0M1999 950h0M1796 1031h0M1929 991h0M1784 962h0M1892 981h0M1915 1096h0M1763 1024h0M1944 1077h0M1973 966h0M1966 1049h0M1823 1027h0M1987 1098h0M1899 1080h0M1592 954h0M1942 1044h0M1951 1076h0M1630 947h0M1773 1033h0M1973 976h0M1956 964h0M1817 999h0M1860 968h0M2013 969h0M1757 1000h0M1679 966h0M1704 958h0M1687 989h0M1933 1012h0M1916 1009h0M1749 1006h0M1992 1088h0M1753 1013h0M1749 983h0M1879 1074h0M1697 994h0M1679 1011h0M1780 1000h0M1816 969h0M2024 972h0M1804 982h0M1786 985h0M1926 959h0M1760 963h0M1879 1031h0M1895 984h0M1939 1001h0M1673 1012h0M1914 1018h0M2002 1099h0M1825 1020h0M1991 990h0M1882 1035h0M1936 1013h0M1933 991h0M1677 951h0M1675 1016h0M1753 998h0M1935 1011h0M1741 999h0M2012 1034h0M1764 1018h0M1986 951h0M1925 1065h0M1817 1050h0M1760 999h0M1913 1058h0M1872 1013h0M1948 1072h0M1941 981h0M1803 978h0M1633 959h0M1900 1058h0M1907 1089h0M1921 1013h0M1940 1050h0M1823 971h0M1889 1021h0M2007 971h0M1700 973h0M2014 1068h0M1984 980h0M1875 949h0M1892 978h0M1743 968h0M1951 984h0M1779 1011h0M1992 1037h0M1812 984h0M1710 995h0M1738 1000h0M1923 1055h0M1978 1016h0M1798 965h0M1890 1022h0M1812 1026h0M1748 994h0M1896 1033h0M1875 1074h0M1976 939h0M1809 996h0M1989 995h0M2003 975h0M1910 1024h0M1808 981h0M2002 1102h0M1974 1002h0M1895 1009h0M1662 971h0M1887 970h0M1745 971h0M1696 969h0M1929 1091h0M1917 1080h0M1704 1010h0M1924 1009h0M1781 1037h0M1993 990h0M1672 938h0M1668 989h0M1898 1004h0M1791 1017h0M1979 1079h0M2009 985h0M1886 981h0M1680 999h0M1889 1015h0M1937 1066h0M1962 1062h0M1991 1084h0M1800 1032h0M1701 992h0M1924 1047h0M1831 1022h0M1776 1035h0M1773 1024h0M2018 997h0M1854 992h0M1890 1013h0M1808 975h0M1894 1039h0M1625 960h0M1909 1014h0M2013 934h0M1876 1029h0M1740 1008h0M1863 1066h0M1826 1037h0M1914 1019h0M1737 1022h0M1673 1019h0M1821 979h0M1929 1027h0M1681 1018h0M1696 1005h0M1697 971h0M1976 1092h0M1768 961h0M1854 1012h0M1933 1040h0M1935 1031h0M1954 1001h0M1899 1068h0M1819 1000h0M2021 1090h0M1664 982h0M1928 1082h0M1678 952h0M1712 1019h0M1973 978h0M2002 955h0M1682 945h0M1750 978h0M1960 1049h0M1968 1080h0M1934 992h0M1705 981h0M1969 1012h0M1899 1014h0M1996 1076h0M1993 1006h0M1727 990h0M1805 1017h0M1745 1001h0M1953 1051h0M1960 1008h0M1933 1005h0M2008 1049h0M1983 1082h0M1940 1002h0M1795 1037h0M1678 970h0M1622 942h0M1976 1112h0M1971 966h0M2016 955h0M1806 1065h0M1835 1092h0M1830 1102h0M1802 1086h0M1803 1071h0M1788 1113h0M1821 1124h0M1897 1142h0M1736 1134h0M1822 1150h0M1759 1138h0M1780 1113h0M1768 1112h0M1716 1146h0M1795 1124h0M1882 1141h0M1740 1155h0M1905 1175h0M1832 1126h0M1716 1125h0M1768 1148h0M1848 1159h0M1727 1160h0M1764 1124h0M1874 1155h0M1804 1160h0M1870 1152h0M1911 1160h0M1839 1146h0M1782 1112h0M1834 1163h0M1734 1138h0M1742 1157h0M1819 1138h0M1850 1148h0M1885 1154h0M1764 1147h0M1789 1109h0M1744 1112h0M1737 1151h0M1743 1158h0M1903 1123h0M1733 1145h0M1765 1160h0M1782 1125h0M1828 1146h0M1728 1158h0M1747 1135h0M1906 1164h0M1750 1136h0M1752 1138h0M1976 1177h0M1948 1120h0M2079 1159h0M2103 1146h0M1961 1112h0M1898 1138h0M1837 1127h0M2107 1150h0M1945 1162h0M1906 1101h0M2045 1148h0M1868 1129h0M1853 1155h0M2047 1191h0M1883 1229h0M2014 1199h0M2041 1115h0M2004 1216h0M1900 1173h0M2114 1173h0M1839 1135h0M1895 1168h0M2072 1180h0M1945 1146h0M1898 1225h0M1941 1192h0M1921 1151h0M2027 1178h0M1868 1200h0M2034 1126h0M2048 1167h0M2049 1136h0M1977 1207h0M1909 1205h0M1880 1207h0M1857 1173h0M1944 1155h0M1895 1112h0M1860 1167h0M2061 1155h0M2088 1177h0M2060 1124h0M2018 1102h0M1953 1109h0M1875 1175h0M2055 1134h0M2024 1151h0M1955 1115h0M1856 1149h0M2044 1113h0M1923 1162h0M2033 1114h0M2026 1149h0M1875 1197h0M1880 1128h0M1998 1148h0M1976 1117h0M1861 1182h0M1945 1143h0M1868 1183h0M1939 1117h0M1905 1162h0M2081 1140h0M2034 1153h0M1944 1139h0M1917 1135h0M1960 1173h0M1957 1156h0M1932 1144h0M1967 1231h0M2073 1142h0M2103 1149h0M1947 1193h0M2042 1181h0M1919 1149h0M1909 1148h0M1970 1222h0M1875 1179h0M1907 1107h0M1957 1183h0M1905 1113h0M1982 1170h0M2021 1152h0M1931 1128h0M2025 1166h0M1985 1123h0M2001 1128h0M1894 1132h0M2009 1141h0M2075 1130h0M2058 1127h0M1892 1134h0M2031 1110h0M2018 1127h0M2011 1167h0M2005 1191h0M2046 1156h0M1953 1186h0M1991 1206h0M2094 1173h0M1983 1215h0M1945 1219h0M2016 1147h0M1942 1173h0M1880 1186h0M2057 1153h0M1909 1137h0M1996 1153h0M1899 1114h0M1876 1105h0M1981 1207h0M2022 1122h0M1888 1133h0M2081 1162h0M2129 1161h0M1866 1112h0M2007 1184h0M2022 1136h0M1924 1173h0M1942 1171h0M1985 1212h0M2069 1184h0M1861 1151h0M1896 1174h0M2061 1139h0M1927 1119h0M2050 1117h0M1966 1219h0M1986 1130h0M2059 1153h0M1863 1148h0M1855 1165h0M1869 1148h0M1951 1213h0M1922 1119h0M1999 1140h0M1871 1101h0M2000 1222h0M2014 1105h0M1934 1193h0M1881 1236h0M1979 1185h0M1975 1102h0M2047 1654h0M2617 1426h0M2269 1538h0M2188 1168h0M1920 1386h0M1855 1413h0M1975 1313h0M2414 1222h0M2416 1243h0M2338 1658h0M2317 1356h0M2391 1619h0M1813 1507h0M2127 1504h0M1915 1339h0M1895 1561h0M2321 1283h0M2191 1690h0M2323 1440h0M1843 1389h0M2217 1351h0M2470 1389h0M2376 1354h0M2164 1396h0M2336 1662h0M2030 1656h0M2203 1579h0M2470 1278h0M2052 1671h0M2513 1479h0M2367 1414h0M2217 1161h0M2571 1357h0M2234 1347h0M1808 1556h0M2456 1278h0M2320 1776h0M2429 1235h0M1966 1238h0M2234 1488h0M2124 1375h0M2401 1238h0M2190 1186h0M2405 1610h0M2208 1250h0M2023 1623h0M1780 1317h0M2189 1253h0M2267 1504h0M2410 1585h0M2136 1385h0M2106 1701h0M1993 1621h0M2369 1517h0M2304 1476h0M2327 1798h0M1834 1315h0M2314 1323h0M1944 1607h0M2278 1618h0M1788 1414h0M2371 1420h0M2149 1528h0M2239 1599h0M2154 1675h0M2312 1774h0M2487 1541h0M2249 1487h0M2246 1687h0M2042 1336h0M2533 1259h0M2257 1751h0M2013 1285h0M2401 1599h0M1954 1379h0M2195 1437h0M2597 1362h0M2491 1390h0M2238 1264h0M2430 1269h0M2359 1363h0M2276 1214h0M1833 1369h0M1908 1259h0M2374 1181h0M2129 1592h0M2253 1467h0M2370 1750h0M2107 1492h0M2239 1575h0M2067 1723h0M2495 1319h0M2593 1428h0M2311 1530h0M2048 1431h0M2086 1407h0M2305 1737h0M2279 1159h0M2391 1748h0M2389 1454h0M1975 1409h0M1962 1444h0M2212 1334h0M2175 1370h0M2271 1414h0M1859 1604h0M2224 1652h0M1830 1611h0M1955 1545h0M2334 1641h0M2276 1476h0M2091 1229h0M2328 1265h0M2427 1591h0M2552 1424h0M1887 1570h0M2059 1718h0M2322 1389h0M2149 1575h0M1831 1491h0M2014 1645h0M2023 1312h0M2575 1394h0M2131 1564h0M2506 1616h0M2367 1684h0M2042 1445h0M2171 1342h0M2227 1745h0M1995 1584h0M2617 1332h0M2252 1244h0M2161 1769h0M2002 1319h0M2410 1589h0M2183 1198h0M2072 1476h0M2154 1684h0M1821 1610h0M2460 1359h0M1951 1322h0M2688 1397h0M2381 1670h0M2018 1685h0M1791 1366h0M2219 1260h0M2033 1253h0M2328 1623h0M2369 1205h0M2380 1276h0M2472 1360h0M2460 1694h0M2350 1350h0M2009 1363h0M2588 1358h0M1923 1610h0M2518 1599h0M2572 1417h0M2399 1305h0M2032 1496h0M2107 1604h0M2056 1317h0M2045 1700h0M1954 1564h0M2411 1611h0M2102 1693h0M2430 1658h0M2176 1366h0M1871 1346h0M2075 1595h0M1828 1553h0M1743 1403h0M2178 1188h0M2388 1379h0M2338 1311h0M2364 1382h0M2159 1584h0M2126 1400h0M2003 1537h0M2341 1636h0M2034 1450h0M2201 1338h0M2219 1231h0M2408 1300h0M1990 1497h0M1869 1252h0M2175 1591h0M1850 1406h0M2189 1646h0M2316 1582h0M2078 1441h0M2086 1525h0M2300 1769h0M2069 1731h0M2528 1390h0M2468 1580h0M2440 1285h0M1915 1411h0M2172 1629h0M2198 1333h0M2478 1498h0M2490 1353h0M1965 1529h0M1881 1418h0M1853 1346h0M2113 1230h0M2514 1361h0M1789 1546h0M2170 1703h0M2339 1199h0M2028 1300h0M2334 1677h0M2124 1345h0M1974 1610h0M2143 1378h0M2431 1483h0M2246 1294h0M2074 1570h0M2381 1394h0M2124 1309h0M2460 1499h0M2350 1763h0M2244 1761h0M2173 1459h0M2530 1366h0M2341 1547h0M2072 1345h0M1975 1665h0M2172 1372h0M2130 1580h0M2042 1360h0M1893 1349h0M2458 1490h0M1926 1408h0M2351 1652h0M2227 1647h0M2207 1468h0M2117 1395h0M2218 1310h0M1861 1627h0M1950 1435h0M2536 1357h0M2406 1367h0M2171 1347h0M2473 1439h0M2126 1389h0M2141 1756h0M2229 1363h0M2262 1508h0M2063 1713h0M1964 1497h0M2220 1430h0M2076 1740h0M2335 1206h0M1986 1666h0M2502 1636h0M2420 1491h0M2296 1612h0M2134 1631h0M2243 1720h0M2080 1448h0M2420 1668h0M2338 1407h0M1781 1389h0M2083 1536h0M1969 1267h0M2180 1509h0M2087 1629h0M2262 1432h0M2413 1626h0M2254 1578h0M2423 1690h0M1956 1269h0M2251 1459h0M2170 1368h0M2144 1504h0M2474 1412h0M2363 1625h0M2313 1256h0M1864 1448h0M2496 1399h0M2292 1756h0M2071 1315h0M2187 1340h0M2037 1410h0M2366 1758h0M2252 1210h0M2293 1274h0M2273 1662h0M1957 1591h0M1804 1513h0M2306 1531h0M1826 1351h0M1761 1532h0M2075 1650h0M2408 1343h0M2640 1390h0M2453 1659h0M1999 1380h0M2040 1363h0M1917 1244h0M2145 1236h0M2373 1298h0M1952 1514h0M2354 1733h0M2299 1451h0M1768 1511h0M1774 1522h0M2280 1636h0M2542 1455h0M1968 1537h0M2002 1386h0M2263 1403h0M2559 1386h0M2041 1380h0M2210 1448h0M2017 1341h0M1903 1428h0M2460 1654h0M2539 1358h0M2452 1491h0M2441 1245h0M1768 1495h0M1875 1447h0M1881 1485h0M1985 1352h0M2477 1354h0M2101 1305h0M1892 1459h0M1740 1496h0M1852 1587h0M2234 1387h0M2409 1190h0M2367 1251h0M2187 1309h0M2052 1690h0M2314 1202h0M1877 1471h0M2218 1681h0M2181 1407h0M2154 1320h0M2038 1568h0M2089 1240h0M2485 1683h0M2416 1290h0M2303 1571h0M2357 1378h0M2070 1365h0M2314 1526h0M1762 1462h0M2443 1266h0M2003 1596h0M1977 1504h0M1911 1334h0M1863 1600h0M2239 1512h0M2086 1392h0M1878 1468h0M2301 1536h0M1860 1409h0M2259 1597h0M2360 1210h0M1932 1423h0M2552 1302h0M1914 1294h0M2419 1351h0M2182 1739h0M2184 1266h0M2266 1335h0M1844 1425h0M2456 1419h0M2127 1602h0M2035 1471h0M2183 1468h0M2084 1362h0M2201 1588h0M2384 1456h0M2064 1320h0M1968 1651h0M1952 1507h0M1926 1601h0M2030 1304h0M1861 1601h0M2284 1276h0M2016 1238h0M2529 1364h0M2494 1547h0M1876 1290h0M2329 1211h0M2178 1668h0M2228 1398h0M1835 1603h0M2537 1444h0M2005 1464h0M2119 1720h0M2458 1629h0M2388 1280h0M2039 1391h0M2231 1354h0M2271 1558h0M1898 1551h0M1830 1569h0M2742 1444h0M2486 1645h0M2122 1553h0M1870 1290h0M1981 1477h0M2021 1250h0M2026 1285h0M2381 1758h0M1816 1394h0M2021 1652h0M2152 1600h0M2510 1500h0M2229 1558h0M1995 1696h0M1884 1436h0M2238 1239h0M2367 1498h0M1979 1370h0M2399 1307h0M2233 1335h0M2490 1560h0M2276 1611h0M2473 1308h0M2122 1266h0M2197 1420h0M2161 1729h0M2236 1295h0M2409 1614h0M2535 1409h0M2514 1554h0M2461 1469h0M2307 1630h0M1786 1382h0M2249 1613h0M2538 1370h0M2518 1337h0M2016 1277h0M2539 1441h0M1892 1524h0M1879 1582h0M2476 1563h0M2244 1420h0M2459 1623h0M2122 1432h0M2489 1591h0M2413 1551h0M1940 1246h0M2215 1690h0M1955 1236h0M2315 1485h0M2455 1381h0M2057 1292h0M2706 1449h0M2156 1573h0M1837 1639h0M2204 1461h0M2450 1248h0M2440 1434h0M1874 1288h0M2239 1190h0M2696 1428h0M2412 1573h0M1826 1541h0M2599 1336h0M1926 1658h0M2256 1296h0M2132 1528h0M1808 1580h0M2039 1278h0M2057 1246h0M2341 1687h0M2136 1772h0M2354 1310h0M2544 1455h0M2042 1621h0M2399 1396h0M2282 1375h0M2482 1235h0M2375 1246h0M1932 1599h0M2309 1511h0M1838 1486h0M1945 1368h0M2034 1250h0M2171 1287h0M2273 1225h0M1909 1624h0M2124 1390h0M2502 1362h0M2312 1425h0M2285 1773h0M2197 1278h0M2178 1549h0M2568 1332h0M2156 1263h0M1798 1440h0M1981 1623h0M1822 1389h0M1809 1496h0M2212 1782h0M2077 1532h0M2253 1352h0M2376 1414h0M2011 1539h0M2456 1596h0M2027 1422h0M2216 1678h0M2383 1214h0M2192 1404h0M1944 1315h0M2108 1413h0M2510 1433h0M1887 1540h0M2182 1222h0M2252 1558h0M1814 1296h0M2160 1401h0M2154 1699h0M1871 1498h0M2417 1505h0M1851 1488h0M2369 1342h0M1743 1500h0M2436 1231h0M2133 1400h0M2356 1542h0M2458 1702h0M2125 1534h0M2092 1482h0M2080 1621h0M2490 1479h0M2480 1666h0M1784 1547h0M2306 1534h0M2382 1372h0M2317 1679h0M2392 1448h0M2421 1477h0M1930 1665h0M2079 1715h0M1901 1233h0M2149 1478h0M2224 1485h0M2363 1380h0M2527 1261h0M1822 1456h0M2295 1434h0M1850 1372h0M1892 1559h0M1823 1347h0M1925 1459h0M2016 1255h0M2191 1498h0M2201 1549h0M2462 1431h0M1950 1346h0M2172 1719h0M2554 1354h0M2430 1286h0M2146 1278h0M1905 1537h0M2358 1238h0M2484 1611h0M2462 1482h0M1843 1264h0M2225 1429h0M2387 1361h0M2288 1221h0M2177 1550h0M2342 1230h0M2436 1464h0M2508 1388h0M2272 1518h0M2427 1286h0M2306 1635h0M2712 1413h0M2029 1543h0M2065 1452h0M2015 1638h0M1742 1422h0M2067 1408h0M1789 1545h0M2555 1445h0M2509 1448h0M2022 1448h0M2472 1483h0M2039 1432h0M1861 1592h0M2393 1358h0M2298 1451h0M2210 1578h0M1922 1336h0M2031 1295h0M2234 1361h0M1963 1568h0M2170 1266h0M2367 1462h0M2588 1324h0M2156 1598h0M2284 1691h0M2338 1434h0M2261 1302h0M1941 1309h0M1806 1382h0M2146 1514h0M1986 1240h0M2125 1684h0M2275 1425h0M1851 1513h0M2538 1379h0M1960 1333h0M2338 1704h0M2548 1404h0M2237 1631h0M2272 1250h0M2357 1776h0M2589 1398h0M2287 1550h0M1799 1441h0M2192 1287h0M2520 1471h0M2300 1334h0M2422 1722h0M2158 1453h0M1871 1306h0M1919 1248h0M1859 1270h0M2181 1383h0M2276 1253h0M2168 1672h0M1921 1277h0M1866 1628h0M2101 1322h0M2026 1481h0M2063 1636h0M2238 1678h0M2072 1359h0M2573 1375h0M2008 1395h0M2116 1392h0M2348 1480h0M2493 1450h0M1975 1474h0M2368 1414h0M2372 1565h0M2223 1597h0M2133 1621h0M1970 1345h0M1930 1592h0M1962 1557h0M2221 1435h0M2311 1234h0M2344 1481h0M2230 1681h0M2180 1483h0M1954 1262h0M1982 1245h0M1965 1441h0M2127 1222h0M2175 1336h0M1957 1588h0M1976 1392h0M2184 1658h0M2601 1436h0M2239 1475h0M2190 1546h0M2174 1518h0M2548 1409h0M2317 1227h0M2190 1454h0M2329 1317h0M1822 1308h0M2250 1249h0M1960 1683h0M2455 1319h0M2107 1595h0M1778 1557h0M2415 1433h0M2452 1396h0M1759 1454h0M2316 1455h0M2361 1586h0M2445 1409h0M2292 1331h0M2207 1670h0M2459 1487h0M1921 1283h0M2109 1317h0M2287 1216h0M2335 1641h0M2076 1579h0M1785 1543h0M2249 1251h0M1914 1624h0M2455 1491h0M2058 1267h0M2107 1196h0M2239 1321h0M1802 1416h0M1960 1529h0M1922 1232h0M2085 1364h0M2420 1508h0M1983 1239h0M1902 1648h0M2223 1463h0M1935 1613h0M2128 1544h0M2029 1273h0M2213 1607h0M2342 1714h0M2016 1557h0M2309 1454h0M2066 1332h0M1825 1568h0M1865 1431h0M2428 1636h0M2311 1319h0M2482 1266h0M2210 1610h0M2270 1456h0M1849 1383h0M2115 1478h0M2014 1714h0M2228 1154h0M2299 1566h0M2431 1740h0M1980 1659h0M1861 1599h0M1964 1369h0M2181 1370h0M2188 1232h0M2198 1432h0M1803 1547h0M1999 1650h0M2189 1568h0M1816 1469h0M2383 1499h0M2090 1706h0M1949 1457h0M2231 1480h0M2216 1426h0M2216 1438h0M2292 1538h0M2294 1325h0M2143 1446h0M2222 1353h0M2435 1296h0M2091 1420h0M2361 1396h0M1944 1294h0M2366 1186h0M2093 1475h0M1879 1657h0M2385 1482h0M2124 1536h0M2456 1632h0M2163 1584h0M2305 1352h0M2216 1306h0M2176 1571h0M2272 1430h0M2347 1278h0M2315 1566h0M1822 1559h0M2214 1454h0M2360 1447h0M2139 1661h0M2306 1610h0M1945 1452h0M1792 1434h0M2368 1706h0M2172 1533h0M2460 1501h0M2156 1495h0M2280 1297h0M2311 1487h0M2349 1320h0M2175 1263h0M2223 1292h0M2168 1310h0M2003 1417h0M2332 1218h0M2495 1276h0M2481 1284h0M2187 1212h0M2506 1373h0M1797 1417h0M2303 1516h0M1769 1524h0M2375 1757h0M2410 1463h0M1940 1375h0M2102 1249h0M2095 1715h0M1981 1411h0M2115 1684h0M2650 1389h0M1846 1581h0M2314 1507h0M2334 1565h0M1996 1633h0M2245 1663h0M2376 1470h0M2226 1435h0M2528 1391h0M2169 1268h0M1829 1456h0M1723 1431h0M2598 1425h0M2238 1608h0M2278 1476h0M2026 1304h0M1972 1447h0M2480 1264h0M2179 1505h0M1820 1436h0M2377 1667h0M2537 1356h0M2436 1494h0M1941 1262h0M2425 1597h0M2148 1307h0M2335 1340h0M2030 1234h0M1930 1236h0M1976 1656h0M2221 1516h0M1749 1429h0M2003 1534h0M1811 1603h0M1791 1368h0M1899 1353h0M2138 1474h0M2121 1443h0M1925 1626h0M1847 1455h0M2027 1649h0M2366 1690h0M2600 1431h0M1873 1529h0M2091 1409h0M2385 1633h0M2349 1296h0M2320 1567h0M2072 1546h0M2526 1263h0M2209 1310h0M2232 1576h0M2038 1613h0M2059 1246h0M2505 1268h0M2272 1415h0M2204 1444h0M2146 1664h0M1919 1561h0M2140 1483h0M2064 1567h0M2155 1643h0M1838 1470h0M1985 1247h0M1828 1576h0M2175 1403h0M2084 1708h0M2400 1665h0M2212 1744h0M2029 1400h0M2443 1410h0M1898 1509h0M2276 1357h0M1867 1260h0M2156 1555h0M2037 1571h0M2111 1675h0M2360 1512h0M2468 1286h0M2375 1466h0M2097 1380h0M2235 1169h0M2079 1589h0M2292 1700h0M2339 1773h0M1763 1457h0M2291 1356h0M2486 1496h0M1808 1329h0M1745 1457h0M2062 1516h0M2244 1477h0M1897 1328h0M1972 1569h0M2207 1738h0M2475 1594h0M2302 1682h0M2247 1170h0M2384 1618h0M2131 1399h0M1942 1695h0M1974 1263h0M2128 1747h0M2417 1453h0M1906 1505h0M2481 1493h0M2281 1683h0M2299 1434h0M2245 1613h0M2369 1191h0M2086 1297h0M1987 1651h0M1938 1303h0M2123 1619h0M2393 1342h0M2035 1530h0M1820 1422h0M1770 1575h0M2300 1196h0M2154 1215h0M1951 1475h0M1800 1366h0M1906 1529h0M2309 1548h0M2243 1560h0M2175 1659h0M2113 1334h0M1958 1413h0M2393 1401h0M1958 1452h0M2243 1271h0M1951 1585h0M2011 1249h0M2371 1335h0M2364 1584h0M1839 1505h0M1857 1260h0M2102 1573h0M2527 1395h0M2342 1587h0M2032 1360h0M1951 1417h0M1849 1456h0M2355 1737h0M2186 1532h0M2113 1317h0M2109 1456h0M2443 1487h0M2232 1595h0M2407 1464h0M2494 1413h0M2458 1643h0M2584 1348h0M1968 1462h0M1850 1429h0M2094 1650h0M1888 1282h0M2296 1162h0M1938 1336h0M2245 1630h0M2364 1227h0M2644 1366h0M2386 1527h0M2132 1636h0M1807 1486h0M2078 1344h0M2310 1313h0M2077 1563h0M2098 1357h0M2042 1373h0M1870 1423h0M2303 1564h0M2325 1554h0M2190 1549h0M1830 1514h0M1849 1551h0M2394 1450h0M1843 1255h0M2324 1784h0M2393 1389h0M2421 1659h0M2323 1584h0M2264 1451h0M1788 1418h0M1910 1322h0M1980 1556h0M2353 1581h0M2140 1324h0M1847 1496h0M2205 1632h0M2316 1738h0M2372 1358h0M2040 1472h0M2203 1398h0M2083 1724h0M2436 1643h0M2050 1298h0M2308 1344h0M1785 1394h0M2590 1415h0M2288 1624h0M2379 1454h0M2028 1343h0M2421 1384h0M2482 1255h0M1831 1571h0M2075 1652h0M2446 1309h0M1856 1281h0M2228 1651h0M2162 1551h0M2326 1622h0M2528 1511h0M2328 1466h0M2329 1195h0M2433 1371h0M2356 1568h0M2105 1464h0M2181 1156h0M2508 1576h0M2362 1699h0M2332 1590h0M2318 1748h0M2210 1260h0M2501 1503h0M2349 1458h0M2008 1719h0M1987 1433h0M1874 1584h0M2305 1398h0M2041 1368h0M2415 1311h0M2601 1343h0M2187 1528h0M2165 1582h0M2316 1300h0M2529 1352h0M2042 1433h0M2483 1655h0M2315 1436h0M2554 1296h0M2118 1238h0M1877 1270h0M2050 1410h0M1999 1390h0M2098 1663h0M2334 1316h0M2102 1554h0M2513 1453h0M2399 1551h0M2570 1422h0M2203 1387h0M2248 1185h0M1889 1611h0M2347 1350h0M2455 1696h0M2257 1158h0M2227 1728h0M2355 1625h0M1856 1294h0M2375 1577h0M2541 1406h0M2141 1725h0M2410 1622h0M2339 1622h0M1964 1362h0M2281 1376h0M2465 1280h0M2205 1523h0M1994 1255h0M1928 1294h0M1981 1559h0M2546 1321h0M1864 1344h0M2361 1591h0M2213 1632h0M2389 1562h0M2376 1572h0M1827 1312h0M1951 1579h0M1984 1386h0M2235 1201h0M1840 1346h0M2234 1681h0M2349 1584h0M2224 1295h0M2414 1618h0M1883 1340h0M2032 1538h0M2291 1661h0M2178 1273h0M2010 1550h0M1862 1413h0M1952 1492h0M2047 1243h0M2292 1682h0M2212 1269h0M2433 1720h0M1783 1304h0M1866 1601h0M1776 1422h0M2437 1354h0M1868 1367h0M2389 1558h0M2154 1320h0M2026 1685h0M1946 1253h0M2432 1571h0M1828 1416h0M1926 1291h0M2025 1698h0M2280 1401h0M1927 1324h0M2165 1342h0M1897 1429h0M1825 1545h0M2134 1247h0M2116 1622h0M2366 1335h0M2009 1682h0M2416 1513h0M1897 1489h0M2267 1408h0M2269 1468h0M1938 1630h0M2326 1697h0M2209 1182h0M2533 1349h0M1785 1344h0M1987 1503h0M2152 1602h0M2266 1508h0M1879 1561h0M1833 1526h0M1887 1594h0M1829 1380h0M1772 1484h0M2452 1555h0M2418 1398h0M2071 1706h0M2159 1627h0M2656 1374h0M1827 1638h0M2449 1391h0M2475 1518h0M2586 1382h0M2194 1350h0M2060 1371h0M1838 1371h0M2370 1457h0M2379 1510h0M2324 1459h0M1856 1375h0M2497 1369h0M1874 1510h0M2221 1463h0M2312 1362h0M2062 1719h0M1898 1665h0M2058 1421h0M1851 1311h0M1798 1449h0M2406 1334h0M1820 1360h0M2091 1462h0M2009 1661h0M1800 1555h0M2650 1436h0M1958 1599h0M2236 1715h0M1760 1441h0M1943 1500h0M1923 1252h0M1850 1488h0M1741 1491h0M2137 1492h0M2129 1340h0M2453 1692h0M2155 1271h0M2405 1513h0M2297 1606h0M2164 1173h0M1821 1488h0M2578 1343h0M2160 1633h0M2031 1708h0M2463 1471h0M2412 1391h0M2342 1478h0M1924 1622h0M2414 1272h0M2396 1545h0M1957 1249h0M2199 1503h0M2417 1493h0M2209 1313h0M2054 1439h0M2065 1632h0M2119 1601h0M2349 1356h0M2005 1365h0M2324 1556h0M1854 1562h0M2019 1354h0M2470 1585h0M2038 1522h0M2377 1535h0M2330 1746h0M2326 1437h0M1809 1492h0M2426 1289h0M2234 1396h0M2208 1545h0M2179 1743h0M2246 1733h0M2482 1294h0M2103 1659h0M1983 1525h0M2407 1391h0M2193 1349h0M1954 1660h0M1811 1343h0M2340 1364h0M2186 1357h0M1899 1462h0M2494 1509h0M1983 1526h0M2275 1457h0M2397 1512h0M2149 1339h0M2063 1320h0M2164 1540h0M2218 1436h0M2191 1366h0M2111 1628h0M2293 1502h0M2214 1781h0M2144 1306h0M2037 1716h0M1967 1362h0M2353 1395h0M2481 1635h0M2461 1456h0M2163 1409h0M1856 1350h0M2118 1667h0M1892 1435h0M2216 1588h0M2576 1320h0M1910 1632h0M2472 1422h0M2520 1519h0M2039 1304h0M2296 1672h0M2031 1630h0M2228 1186h0M2246 1488h0M2354 1489h0M1948 1625h0M2583 1382h0M2343 1329h0M2021 1351h0M2464 1583h0M2337 1534h0M2655 1370h0M2387 1329h0M2314 1245h0M1859 1425h0M2355 1653h0M1912 1575h0M1960 1595h0M2074 1503h0M2215 1427h0M2430 1628h0M2146 1642h0M2321 1434h0M2497 1609h0M2232 1558h0M1856 1562h0M2088 1495h0M2188 1178h0M2359 1542h0M1957 1595h0M2109 1665h0M2133 1252h0M2233 1401h0M1882 1409h0M2287 1622h0M2080 1464h0M2242 1533h0M1886 1334h0M2345 1232h0M2297 1349h0M2073 1532h0M2074 1594h0M2354 1336h0M1928 1320h0M2465 1496h0M2257 1422h0M2269 1199h0M1805 1359h0M2239 1280h0M2232 1782h0M2516 1549h0M2138 1619h0M2100 1391h0M2341 1683h0M1956 1559h0M2472 1480h0M2213 1244h0M2366 1283h0M2246 1454h0M1797 1460h0M2390 1619h0M2544 1281h0M1783 1516h0M1853 1436h0M1974 1265h0M1791 1376h0M2276 1341h0M2233 1670h0M2363 1538h0M2259 1284h0M1868 1618h0M2250 1170h0M2270 1455h0M2298 1492h0M2293 1202h0M2116 1375h0M2444 1723h0M2629 1426h0M2072 1331h0M1779 1330h0M2119 1488h0M2305 1783h0M2524 1420h0M1929 1290h0M2426 1428h0M2125 1441h0M2494 1643h0M1986 1245h0M2199 1584h0M1874 1252h0M2373 1755h0M1788 1515h0M2109 1676h0M2341 1366h0M2432 1610h0M2118 1468h0M2184 1534h0M2065 1347h0M1766 1350h0M2164 1598h0M2376 1297h0M2353 1202h0M2270 1362h0M1921 1643h0M2273 1523h0M2321 1640h0M2094 1442h0M2237 1375h0M2492 1517h0M1765 1437h0M1967 1382h0M1951 1407h0M1955 1350h0M2229 1594h0M2110 1685h0M2137 1571h0M2207 1263h0M1853 1571h0M2274 1333h0M2082 1585h0M2204 1581h0M2424 1720h0M2132 1697h0M1977 1503h0M2572 1389h0M2019 1435h0M1842 1327h0M1849 1514h0M2420 1551h0M2426 1702h0M2133 1622h0M2323 1748h0M2162 1244h0M2319 1315h0M2153 1532h0M2038 1290h0M2216 1561h0M2455 1415h0M2272 1273h0M1864 1274h0M2418 1289h0M2260 1634h0M2598 1373h0M2113 1518h0M2286 1475h0M2367 1430h0M2400 1202h0M2373 1733h0M2037 1610h0M2240 1276h0M1774 1393h0M2556 1321h0M2492 1321h0M2600 1376h0M2505 1553h0M2222 1381h0M1959 1503h0M2210 1543h0M2154 1409h0M2187 1583h0M2406 1223h0M2184 1295h0M2355 1383h0M2406 1503h0M1866 1520h0M1843 1387h0M1962 1495h0M2371 1643h0M2526 1378h0M2503 1282h0M2076 1426h0M2236 1732h0M1898 1441h0M2069 1449h0M2293 1427h0M2431 1276h0M1860 1287h0M2355 1381h0M2179 1447h0M2485 1630h0M2183 1411h0M2291 1771h0M2467 1478h0M2300 1605h0M1762 1452h0M2187 1361h0M2025 1322h0M2187 1625h0M2355 1585h0M2462 1366h0M2068 1718h0M1849 1307h0M2271 1390h0M2488 1486h0M2091 1528h0M2238 1592h0M2273 1218h0M2160 1222h0M2643 1368h0M2387 1341h0M2143 1662h0M1881 1590h0M1829 1344h0M1894 1588h0M2415 1319h0M2495 1601h0M1776 1454h0M2070 1544h0M2295 1398h0M1768 1465h0M1946 1255h0M2283 1394h0M2114 1596h0M1983 1608h0M2138 1492h0M2189 1542h0M2350 1382h0M2483 1646h0M1857 1412h0M2083 1735h0M2174 1753h0M1789 1364h0M2042 1588h0M1855 1520h0M2158 1186h0M1977 1521h0M2402 1372h0M2007 1244h0M2353 1591h0M2558 1364h0M1972 1650h0M2140 1358h0M2254 1247h0M2712 1411h0M2011 1462h0M2349 1347h0M1855 1642h0M2432 1395h0M2046 1441h0M1951 1473h0M2424 1504h0M2236 1382h0M1942 1352h0M2169 1552h0M2357 1740h0M2143 1384h0M1960 1528h0M2372 1605h0M1857 1595h0M1766 1450h0M1797 1449h0M2692 1431h0M2216 1309h0M2437 1496h0M1909 1462h0M2095 1286h0M1969 1685h0M2478 1592h0M2456 1548h0M2373 1397h0M2523 1407h0M2484 1297h0M2220 1426h0M2198 1544h0M1894 1498h0M2051 1367h0M2326 1695h0M2140 1643h0M2009 1395h0M2096 1392h0M2150 1370h0M2417 1462h0M2002 1629h0M2376 1417h0M2635 1361h0M1939 1294h0M2196 1458h0M2063 1481h0M2225 1636h0M2046 1594h0M2033 1497h0M2307 1641h0M1977 1335h0M2429 1583h0M2242 1578h0M2111 1569h0M2338 1562h0M2411 1421h0M1821 1524h0M2070 1634h0M2310 1537h0M1767 1446h0M1767 1491h0M1761 1342h0M2135 1402h0M2127 1657h0M2164 1487h0M2440 1422h0M2470 1483h0M2285 1756h0M2411 1554h0M2172 1237h0M1839 1527h0M2345 1444h0M2529 1483h0M2510 1389h0M1815 1409h0M2110 1396h0M2505 1451h0M2086 1591h0M2284 1215h0M2112 1531h0M2027 1627h0M1750 1435h0M2380 1729h0M2062 1301h0M2230 1276h0M1919 1609h0M1941 1259h0M2476 1323h0M1853 1642h0M2434 1345h0M2266 1513h0M2037 1656h0M2551 1385h0M2139 1526h0M2099 1344h0M2304 1661h0M2249 1345h0M2224 1510h0M2000 1531h0M2446 1292h0M1962 1528h0M2292 1597h0M2281 1632h0M2458 1428h0M2529 1372h0M2046 1439h0M2329 1501h0M2601 1402h0M2063 1557h0M2054 1531h0M2328 1489h0M1934 1560h0M2493 1558h0M2547 1420h0M2433 1305h0M2322 1390h0M2032 1694h0M1970 1506h0M2323 1575h0M2307 1449h0M2238 1684h0M1907 1544h0M2360 1459h0M1803 1571h0M2090 1729h0M1916 1416h0M2501 1306h0M1775 1506h0M2116 1557h0M2180 1702h0M1907 1569h0M2075 1542h0M1875 1628h0M2477 1617h0M1874 1378h0M2176 1354h0M2525 1280h0M2135 1702h0M2191 1480h0M2404 1292h0M2494 1304h0M2238 1401h0M2373 1292h0M1769 1360h0M2450 1599h0M2151 1576h0M2437 1665h0M2542 1495h0M2102 1683h0M2056 1288h0M2545 1410h0M2419 1272h0M2191 1472h0M2260 1597h0M2543 1409h0M2076 1218h0M1731 1415h0M2058 1437h0M2004 1276h0M1948 1359h0M2291 1425h0M1862 1463h0M2239 1630h0M2185 1398h0M1938 1414h0M1951 1683h0M2195 1645h0M2014 1511h0M2485 1565h0M2227 1448h0M2331 1318h0M2296 1715h0M1937 1542h0M1817 1371h0M2011 1248h0M2368 1239h0M2378 1746h0M1837 1341h0M2278 1747h0M2199 1211h0M1773 1473h0M2699 1437h0M1936 1608h0M2163 1737h0M2167 1305h0M2018 1512h0M2456 1285h0M2336 1464h0M2049 1485h0M2465 1692h0M1882 1596h0M2022 1457h0M2035 1419h0M2243 1656h0M2207 1235h0M2492 1572h0M2039 1406h0M2405 1246h0M1814 1562h0M1782 1527h0M2477 1583h0M2184 1734h0M1979 1464h0M1996 1585h0M2477 1562h0M1866 1378h0M2035 1334h0M2006 1669h0M1917 1275h0M1899 1266h0M1842 1311h0M2212 1439h0M2302 1389h0M2529 1277h0M2289 1223h0M2051 1638h0M2252 1548h0M1961 1580h0M2240 1613h0M2368 1417h0M2359 1657h0M1960 1486h0M2042 1559h0M2424 1481h0M2353 1730h0M2097 1380h0M2345 1459h0M2162 1336h0M2047 1395h0M2496 1444h0M1791 1497h0M2156 1593h0M2465 1457h0M1802 1280h0M2378 1656h0M1999 1333h0M2469 1347h0M1813 1591h0M2314 1790h0M1953 1459h0M2193 1539h0M1844 1612h0M2367 1587h0M2320 1367h0M2164 1383h0M2317 1739h0M2253 1317h0M2448 1482h0M2307 1323h0M2200 1608h0M1857 1310h0M1780 1477h0M2421 1541h0M1912 1406h0M1816 1348h0M2056 1316h0M2365 1526h0M2455 1526h0M1869 1512h0M2040 1454h0M2072 1503h0M1849 1640h0M2376 1227h0M1825 1311h0M2305 1400h0M2210 1560h0M2175 1258h0M2419 1342h0M2142 1337h0M2157 1332h0M1970 1466h0M1968 1512h0M2270 1459h0M1859 1566h0M1969 1643h0M2207 1679h0M1804 1583h0M2191 1531h0M1878 1365h0M2463 1473h0M2124 1682h0M2186 1389h0M1947 1443h0M2578 1376h0M2429 1490h0M2349 1270h0M2318 1332h0M2212 1612h0M2094 1614h0M2134 1358h0M2411 1449h0M2299 1234h0M1773 1519h0M2081 1359h0M2225 1661h0M1805 1559h0M2467 1679h0M1906 1432h0M2531 1519h0M2203 1453h0M2334 1524h0M2254 1443h0M2447 1701h0M2225 1414h0M2292 1755h0M2000 1365h0M2589 1382h0M2053 1369h0M2078 1233h0M2353 1426h0M1841 1334h0M2000 1373h0M2454 1630h0M1883 1549h0M2132 1506h0M2417 1355h0M2333 1478h0M2331 1212h0M2493 1562h0M2023 1452h0M2464 1578h0M2027 1403h0M2528 1342h0M2272 1320h0M2193 1631h0M2106 1641h0M2163 1327h0M1921 1257h0M2327 1534h0M2239 1575h0M2519 1529h0M1856 1489h0M2189 1625h0M1944 1519h0M2124 1393h0M2278 1681h0M1956 1454h0M2151 1389h0M1854 1507h0M1934 1601h0M1946 1229h0M1987 1334h0M2194 1401h0M2205 1684h0M2473 1680h0M2188 1699h0M1958 1240h0M2297 1377h0M2333 1687h0M1864 1395h0M2391 1438h0M2355 1395h0M2468 1390h0M2189 1624h0M2111 1643h0M2083 1704h0M2299 1676h0M2421 1628h0M2372 1406h0M2093 1326h0M2572 1317h0M1864 1412h0M2338 1351h0M2401 1623h0M2211 1318h0M1917 1684h0M1851 1642h0M2221 1697h0M2112 1408h0M2240 1730h0M2355 1244h0M2105 1278h0M2542 1346h0M2334 1445h0M2420 1297h0M2531 1284h0M2514 1428h0M2205 1344h0M1821 1572h0M2256 1315h0M2246 1180h0M2324 1399h0M2123 1390h0M2377 1359h0M2419 1721h0M2073 1574h0M2321 1592h0M2178 1287h0M2433 1667h0M2141 1605h0M1998 1385h0M2089 1209h0M2092 1404h0M2105 1480h0M2419 1216h0M2387 1583h0M2056 1572h0M2219 1358h0M2200 1194h0M2539 1457h0M2252 1666h0M1891 1611h0M2090 1604h0M2280 1679h0M2251 1230h0M2307 1561h0M2277 1479h0M2424 1577h0M1799 1592h0M1944 1244h0M2620 1406h0M2153 1450h0M2133 1221h0M2271 1745h0M1778 1487h0M2085 1594h0M2332 1686h0M2525 1589h0M2470 1535h0M2196 1456h0M2057 1315h0M1932 1378h0M2171 1358h0M2059 1549h0M2299 1712h0M2186 1413h0M2299 1318h0M2226 1243h0M2320 1540h0M2208 1604h0M1911 1421h0M1984 1496h0M2303 1510h0M2101 1591h0M1844 1571h0M2109 1523h0M2087 1700h0M2122 1674h0M2117 1544h0M2579 1325h0M2257 1451h0M1797 1519h0M2186 1744h0M2051 1665h0M1814 1439h0M2120 1477h0M1779 1326h0M1918 1295h0M2074 1377h0M1939 1586h0M1839 1317h0M1824 1291h0M1887 1633h0M1844 1565h0M2306 1742h0M1976 1520h0M1916 1253h0M2583 1401h0M1954 1504h0M2510 1403h0M2069 1509h0M2298 1388h0M1803 1453h0M1985 1290h0M2373 1468h0M1895 1534h0M2131 1313h0M1777 1469h0M2530 1349h0M1903 1586h0M2340 1527h0M1881 1420h0M2087 1416h0M2023 1667h0M2310 1436h0M2221 1166h0M2249 1627h0M2078 1406h0M2498 1449h0M1918 1471h0M2434 1635h0M2641 1355h0M2432 1258h0M2129 1292h0M2087 1585h0M1877 1576h0M2506 1425h0M2233 1274h0M2303 1586h0M2123 1391h0M2220 1647h0M1846 1369h0M2297 1666h0M2239 1576h0M2273 1546h0M2164 1580h0M2035 1246h0M2344 1608h0M2357 1417h0M2198 1529h0M2142 1723h0M2308 1417h0M2488 1575h0M2311 1713h0M2684 1390h0M1774 1517h0M2276 1307h0M2351 1228h0M2544 1402h0M2168 1658h0M1830 1365h0M2452 1720h0M1909 1280h0M2382 1420h0M1915 1323h0M2183 1521h0M2112 1623h0M2453 1668h0M1817 1579h0M1925 1329h0M2176 1751h0M2207 1552h0M2399 1651h0M2160 1599h0M1868 1266h0M2061 1455h0M1844 1384h0M2340 1508h0M2385 1334h0M1938 1415h0M2226 1564h0M2070 1577h0M2496 1255h0M2533 1438h0M2080 1438h0M1868 1459h0M2466 1609h0M1775 1439h0M2218 1343h0M1898 1596h0M1767 1349h0M2280 1774h0M1941 1685h0M2116 1594h0M2309 1237h0M2076 1352h0M2182 1256h0M2645 1428h0M2370 1565h0M2161 1405h0M2366 1698h0M2439 1415h0M2184 1460h0M2021 1450h0M2208 1578h0M2377 1640h0M2671 1401h0M1840 1613h0M1820 1307h0M2657 1367h0M1771 1349h0M1781 1511h0M1871 1548h0M2494 1323h0M2270 1622h0M2170 1626h0M2182 1187h0M1911 1547h0M2484 1355h0M2225 1261h0M2028 1490h0M2147 1184h0M2107 1623h0M2646 1349h0M2688 1389h0M2038 1223h0M1947 1295h0M1800 1439h0M2304 1445h0M1793 1516h0M2189 1327h0M2106 1449h0M2083 1526h0M2637 1373h0M1822 1423h0M1879 1325h0M2185 1494h0M2387 1614h0M2285 1580h0M1850 1478h0M1930 1530h0M2348 1337h0M1924 1526h0M2085 1475h0M2199 1291h0M2184 1750h0M2497 1568h0M1916 1426h0M2382 1402h0M2505 1257h0M2221 1343h0M1942 1611h0M2160 1632h0M1966 1246h0M2228 1345h0M2194 1311h0M2422 1484h0M2096 1435h0M1959 1593h0M1753 1485h0M2458 1224h0M2353 1379h0M2307 1332h0M2275 1704h0M2133 1209h0M2048 1359h0M1994 1620h0M1902 1446h0M2120 1755h0M1958 1476h0M2305 1656h0M2479 1524h0M2370 1266h0M2538 1441h0M2050 1545h0M2321 1317h0M1786 1551h0M1914 1358h0M2258 1406h0M2101 1378h0M2247 1548h0M2137 1448h0M2044 1479h0M1948 1306h0M2366 1331h0M1912 1507h0M2365 1576h0M2264 1590h0M2303 1508h0M2355 1521h0M2129 1649h0M2385 1651h0M2480 1386h0M2019 1413h0M2308 1361h0M2197 1287h0M1923 1358h0M1868 1426h0M2048 1228h0M1879 1501h0M1916 1615h0M2056 1447h0M2057 1678h0M1940 1288h0M2224 1470h0M2416 1486h0M2667 1368h0M1845 1525h0M2547 1412h0M1775 1395h0M2216 1308h0M2062 1440h0M2108 1689h0M1885 1504h0M1923 1294h0M2266 1534h0M2177 1673h0M2335 1486h0M2409 1629h0M2270 1273h0M2491 1358h0M2570 1309h0M1858 1341h0M2477 1261h0M1758 1434h0M2099 1570h0M2427 1505h0M1796 1485h0M2368 1673h0M2504 1539h0M1879 1554h0M2101 1228h0M2298 1503h0M1994 1665h0M1808 1296h0M1902 1276h0M2024 1536h0M2134 1368h0M2404 1311h0M2095 1348h0M2135 1614h0M1925 1414h0M2398 1471h0M2383 1363h0M1949 1654h0M2128 1347h0M2115 1652h0M2540 1476h0M2311 1415h0M1982 1361h0M1958 1363h0M2134 1621h0M2517 1436h0M2402 1544h0M1943 1378h0M2308 1514h0M2363 1394h0M2026 1400h0M1760 1501h0M2330 1541h0M2412 1563h0M2394 1251h0M2426 1303h0M2336 1320h0M2434 1326h0M2516 1639h0M2328 1410h0M2427 1450h0M2047 1625h0M2117 1497h0M2399 1294h0M1845 1319h0M2272 1606h0M2439 1594h0M1797 1435h0M1814 1336h0M2405 1729h0M2346 1718h0M2153 1204h0M2217 1435h0M2507 1568h0M2378 1312h0M2005 1714h0M1837 1396h0M2550 1332h0M2409 1402h0M2440 1340h0M1942 1672h0M2062 1345h0M2046 1643h0M1845 1532h0M2518 1336h0M1751 1373h0M2054 1683h0M2152 1423h0M2369 1521h0M2149 1678h0M1855 1355h0M2234 1536h0M2116 1412h0M2326 1202h0M1863 1563h0M2198 1472h0M2093 1296h0M1976 1695h0M2142 1229h0M2287 1325h0M2420 1422h0M2606 1390h0M2148 1370h0M2388 1506h0M2081 1720h0M1835 1577h0M2272 1771h0M2480 1274h0M2329 1702h0M2001 1532h0M2200 1419h0M2587 1308h0M2071 1499h0M2415 1555h0M2021 1525h0M1764 1444h0M1910 1392h0M2494 1462h0M2082 1607h0M2150 1343h0M2470 1696h0M2080 1596h0M1873 1550h0M2491 1647h0M2237 1579h0M2418 1608h0M2415 1567h0M2597 1372h0M2226 1714h0M2230 1694h0M1844 1490h0M1969 1599h0M2362 1534h0M2330 1538h0M1984 1593h0M1983 1248h0M2379 1300h0M1953 1541h0M1848 1372h0M1958 1635h0M2516 1574h0M2398 1644h0M2122 1269h0M2425 1537h0M2338 1576h0M2382 1688h0M1766 1453h0M2046 1284h0M2346 1450h0M2255 1251h0M2511 1368h0M2521 1560h0M2075 1608h0M2296 1399h0M2201 1633h0M2193 1502h0M1982 1703h0M2073 1631h0M2323 1689h0M2105 1364h0M1944 1331h0M1999 1591h0M2086 1212h0M2253 1559h0M1810 1324h0M2464 1485h0M2299 1717h0M1801 1524h0M2385 1622h0M2202 1584h0M2185 1444h0M2332 1341h0M2144 1267h0M2088 1319h0M1966 1626h0M2276 1601h0M2185 1339h0M2263 1313h0M2000 1689h0M2210 1232h0M1966 1435h0M2316 1617h0M2618 1394h0M2310 1597h0M1760 1377h0M1789 1345h0M2231 1342h0M1876 1523h0M2568 1400h0M2344 1654h0M1849 1268h0M1870 1416h0M1974 1613h0M2182 1540h0M2078 1458h0M2048 1317h0M2482 1587h0M2022 1616h0M2521 1530h0M1978 1551h0M1780 1349h0M2425 1257h0M1941 1235h0M2175 1725h0M2109 1464h0M2044 1582h0M1906 1562h0M2377 1587h0M2173 1448h0M2313 1726h0M2140 1374h0M2102 1458h0M1962 1458h0M2222 1235h0M2315 1559h0M2523 1426h0M2132 1352h0M2242 1520h0M2562 1406h0M2477 1611h0M2217 1782h0M2123 1431h0M2101 1473h0M2563 1441h0M1810 1455h0M2197 1153h0M2274 1374h0M2577 1332h0M2062 1504h0M2546 1334h0M2490 1673h0M2047 1594h0M1866 1599h0M2299 1621h0M1836 1369h0M1908 1296h0M2274 1210h0M2275 1768h0M2108 1258h0M1872 1440h0M2347 1500h0M2077 1289h0M2292 1580h0M1840 1388h0M1879 1480h0M2300 1708h0M2525 1614h0M2257 1245h0M2394 1701h0M2352 1721h0M2100 1240h0M1954 1539h0M2412 1475h0M2023 1504h0M1962 1417h0M1987 1388h0M2066 1598h0M1828 1433h0M2268 1789h0M2174 1163h0M2330 1609h0M2012 1346h0M2026 1481h0M1801 1420h0M2274 1358h0M2302 1316h0M1943 1554h0M2223 1621h0M2485 1641h0M2310 1264h0M2459 1556h0M2579 1419h0M2757 1430h0M2104 1526h0M1864 1267h0M2526 1268h0M2088 1543h0M2311 1525h0M2091 1324h0M2397 1602h0M2618 1339h0M1857 1603h0M1894 1504h0M2236 1442h0M2198 1486h0M2518 1374h0M2495 1603h0M2251 1659h0M1927 1607h0M2057 1296h0M2080 1385h0M1977 1687h0M1977 1331h0M2315 1579h0M1832 1346h0M2352 1711h0M1927 1529h0M1958 1260h0M2643 1387h0M2289 1439h0M2281 1536h0M1873 1384h0M2445 1394h0M2641 1395h0M2141 1195h0M2032 1476h0M2309 1242h0M2291 1772h0M1952 1346h0M2054 1478h0M1772 1497h0M1832 1426h0M2489 1681h0M2347 1393h0M2308 1183h0M2250 1200h0M2328 1364h0M1906 1506h0M2054 1298h0M2393 1320h0M2343 1538h0M2065 1247h0M1962 1562h0M2432 1681h0M2476 1322h0M1972 1342h0M1973 1387h0M2234 1612h0M1958 1679h0M1941 1662h0M2241 1568h0M2136 1309h0M2316 1579h0M2270 1425h0M2313 1229h0M2076 1359h0M2360 1287h0M2259 1720h0M2358 1447h0M2346 1575h0M2632 1428h0M1918 1556h0M1928 1617h0M2375 1760h0M1780 1446h0M2389 1476h0M2209 1686h0M1735 1448h0M1936 1640h0M2493 1267h0M1862 1503h0M2210 1350h0M2018 1472h0M1882 1600h0M1853 1498h0M2417 1635h0M2526 1388h0M2000 1377h0M1863 1436h0M1753 1363h0M1796 1398h0M2358 1555h0M1750 1500h0M2072 1461h0M2242 1645h0M2518 1365h0M2042 1617h0M1908 1461h0M2125 1345h0M1866 1380h0M2385 1541h0M2362 1321h0M2095 1243h0M2371 1624h0M2114 1543h0M1967 1687h0M2514 1287h0M2466 1513h0M1984 1641h0M2591 1370h0M2356 1428h0M2420 1399h0M2369 1273h0M2510 1509h0M2444 1411h0M2271 1517h0M1769 1430h0M1895 1512h0M2113 1625h0M2047 1357h0M2163 1564h0M1844 1506h0M2388 1369h0M2220 1177h0M2627 1424h0M2403 1373h0M1897 1265h0M2154 1524h0M2502 1443h0M2227 1566h0M1876 1320h0M2080 1432h0M1978 1497h0M2301 1372h0M2445 1337h0M2448 1368h0M2142 1685h0M2469 1313h0M2215 1469h0M2444 1647h0M2310 1246h0M2453 1343h0M1831 1444h0M2258 1275h0M2427 1667h0M1886 1476h0M2078 1627h0M2099 1540h0M2586 1401h0M2134 1426h0M2257 1395h0M1874 1478h0M2375 1291h0M2315 1747h0M2339 1201h0M2391 1482h0M2001 1558h0M1917 1408h0M2420 1651h0M2005 1655h0M2003 1390h0M2110 1318h0M2181 1256h0M2555 1360h0M1939 1274h0M2309 1285h0M1826 1584h0M2487 1520h0M2712 1450h0M2198 1670h0M1927 1656h0M1811 1306h0M2557 1291h0M2106 1555h0M2216 1638h0M1874 1353h0M1980 1275h0M2332 1430h0M2449 1323h0M2157 1262h0M2078 1708h0M2311 1468h0M2293 1159h0M2247 1634h0M2664 1398h0M1813 1373h0M1735 1428h0M2207 1182h0M1842 1538h0M2403 1532h0M2342 1351h0M2463 1400h0M1887 1545h0M2361 1295h0M2478 1402h0M2148 1185h0M2149 1211h0M2052 1434h0M2467 1479h0M1962 1556h0M2366 1278h0M2025 1533h0M2073 1327h0M2528 1538h0M2122 1746h0M1874 1490h0M1766 1394h0M2189 1608h0M2445 1417h0M1858 1414h0M2242 1539h0M2710 1411h0M1906 1276h0M2371 1282h0M1896 1673h0M2212 1671h0M2517 1554h0M2178 1605h0M2494 1257h0M2135 1198h0M2463 1440h0M2235 1537h0M1893 1520h0M2167 1357h0M2489 1563h0M2076 1633h0M1958 1555h0M2501 1467h0M2479 1337h0M2043 1467h0M2123 1254h0M1875 1390h0M2023 1535h0M2043 1632h0M2078 1501h0M2380 1491h0M2316 1470h0M2217 1476h0M2139 1406h0M2095 1371h0M1890 1470h0M2344 1342h0M2428 1738h0M2335 1482h0M1795 1534h0M1796 1430h0M2340 1353h0M2260 1716h0M2399 1750h0M2351 1409h0M2137 1202h0M2190 1582h0M2237 1717h0M2120 1255h0M2343 1523h0M1980 1444h0M2077 1320h0M2255 1169h0M2497 1573h0M2302 1731h0M2331 1186h0M1805 1428h0M2123 1270h0M2213 1314h0M2135 1176h0M2518 1291h0M1954 1419h0M1961 1332h0M2469 1362h0M2201 1439h0M2193 1411h0M1876 1517h0M2467 1371h0M1904 1381h0M2445 1413h0M2140 1271h0M1857 1505h0M1824 1457h0M1972 1361h0M2311 1706h0M2247 1159h0M2300 1528h0M2417 1385h0M2394 1627h0M1762 1324h0M2391 1231h0M2165 1680h0M1907 1617h0M2457 1684h0M2317 1243h0M1746 1447h0M2265 1784h0M1971 1583h0M2242 1477h0M2361 1373h0M2104 1357h0M2210 1506h0M2153 1186h0M1884 1522h0M2063 1380h0M2543 1277h0M2124 1660h0M2149 1412h0M1801 1396h0M2462 1612h0M1878 1264h0M2241 1265h0M2391 1524h0M2134 1463h0M2073 1366h0M2257 1429h0M2518 1481h0M2439 1268h0M2711 1416h0M2150 1465h0M2261 1492h0M2267 1264h0M2282 1601h0M2377 1399h0M2236 1424h0M2383 1597h0M2201 1214h0M2731 1442h0M2123 1603h0M2296 1591h0M2383 1579h0M2223 1763h0M2040 1285h0M1842 1318h0M1821 1441h0M1956 1642h0M2219 1535h0M2627 1344h0M2458 1510h0M2292 1628h0M2235 1506h0M2194 1480h0M2193 1449h0M2021 1439h0M1978 1282h0M2451 1349h0M2525 1432h0M2346 1713h0M2671 1386h0M2351 1485h0M2172 1595h0M1877 1531h0M2069 1512h0M2163 1745h0M2644 1372h0M2170 1401h0M1759 1361h0M2009 1502h0M2159 1517h0M2203 1768h0M2348 1634h0M1925 1355h0M2457 1399h0M2454 1696h0M2445 1600h0M2067 1716h0M2303 1253h0M2434 1247h0M2262 1477h0M1976 1661h0M1900 1600h0M1797 1540h0M2407 1774h0M2496 1607h0M1879 1513h0M2105 1513h0M1852 1627h0M2226 1571h0M2547 1443h0M2424 1489h0M2207 1711h0M2501 1474h0M2063 1248h0M2250 1545h0M2222 1331h0M2327 1755h0M2027 1348h0M1911 1279h0M2026 1506h0M2377 1295h0M2257 1214h0M2162 1285h0M2501 1628h0M1995 1660h0M2036 1684h0M1860 1601h0M2225 1321h0M1970 1548h0M2029 1338h0M2160 1439h0M2164 1742h0M2370 1764h0M2628 1416h0M2142 1241h0M1939 1641h0M2334 1352h0M2637 1427h0M1894 1348h0M1982 1441h0M2685 1417h0M2444 1359h0M1943 1287h0M1933 1241h0M2136 1604h0M2476 1463h0M1800 1431h0M1992 1324h0M2155 1232h0M2359 1208h0M2358 1593h0M2324 1608h0M2213 1627h0M2238 1442h0M2199 1600h0M2236 1209h0M1978 1345h0M1766 1458h0M2187 1623h0M1851 1303h0M2218 1367h0M2031 1475h0M1883 1365h0M2180 1616h0M1926 1633h0M1777 1545h0M1865 1290h0M2110 1363h0M2129 1340h0M2210 1326h0M2346 1278h0M2228 1680h0M1822 1506h0M2249 1620h0M2417 1496h0M2395 1539h0M2399 1579h0M2423 1347h0M2559 1320h0M2142 1577h0M1811 1448h0M2110 1483h0M2705 1409h0M2331 1304h0M2501 1525h0M2336 1439h0M2385 1747h0M2140 1710h0M1874 1459h0M2509 1421h0M2719 1411h0M2319 1688h0M2085 1697h0M1824 1477h0M2328 1434h0M2285 1585h0M2371 1276h0M2247 1207h0M2344 1302h0M1953 1593h0M2278 1655h0M1803 1315h0M2126 1524h0M2314 1198h0M1814 1488h0M1839 1300h0M2121 1648h0M2074 1661h0M2234 1210h0M2385 1489h0M2102 1691h0M2489 1443h0M1818 1314h0M2246 1275h0M2002 1249h0M2160 1295h0M2368 1253h0M2212 1289h0M2334 1291h0M1897 1524h0M2050 1557h0M2264 1358h0M2400 1640h0M2439 1703h0M2637 1354h0M2255 1756h0M2286 1401h0M1871 1434h0M2244 1237h0M2154 1253h0M2081 1509h0M2401 1277h0M2360 1368h0M1782 1359h0M1882 1636h0M2394 1643h0M2072 1374h0M2112 1580h0M2105 1236h0M2184 1654h0M2131 1736h0M1811 1599h0M2635 1428h0M2250 1507h0M2320 1289h0M2137 1598h0M2568 1332h0M2109 1684h0M2619 1370h0M2398 1272h0M2206 1159h0M2360 1704h0M2418 1769h0M1904 1470h0M1873 1294h0M2500 1334h0M2029 1423h0M2391 1426h0M2654 1410h0M2259 1351h0M2613 1392h0M2459 1611h0M2312 1656h0M1892 1323h0M1863 1421h0M2403 1441h0M2286 1736h0M2233 1377h0M2301 1612h0M2061 1250h0M2099 1617h0M2084 1726h0M2274 1242h0M1891 1484h0M2294 1202h0M2243 1166h0M2667 1407h0M2018 1631h0M2639 1384h0M2450 1564h0M1953 1541h0M2278 1366h0M1845 1488h0M2240 1476h0M2168 1545h0M2186 1633h0M2334 1432h0M2233 1427h0M2188 1390h0M2290 1520h0M2446 1348h0M2267 1475h0M2030 1645h0M2109 1595h0M2275 1793h0M2388 1531h0M2268 1490h0M1952 1314h0M2167 1192h0M2081 1398h0M2453 1537h0M2503 1298h0M1911 1362h0M2540 1426h0M2349 1706h0M1802 1539h0M2470 1500h0M1996 1482h0M2489 1597h0M2506 1516h0M1920 1654h0M1839 1425h0M2211 1307h0M1964 1243h0M2367 1418h0M2238 1208h0M1801 1384h0M2212 1611h0M2077 1514h0M2308 1291h0M2117 1402h0M1837 1385h0M2606 1390h0M2355 1370h0M1975 1585h0M2424 1304h0M2347 1223h0M2307 1345h0M2312 1682h0M2347 1652h0M2341 1325h0M2225 1529h0M2559 1297h0M2108 1672h0M1815 1350h0M2378 1283h0M1910 1256h0M2067 1481h0M2022 1276h0M2205 1372h0M2022 1299h0M1826 1289h0M2154 1748h0M1864 1366h0M1760 1373h0M2162 1363h0M2148 1187h0M2036 1638h0M2484 1519h0M1980 1685h0M2568 1283h0M2487 1456h0M1892 1628h0M2516 1457h0M2381 1641h0M2420 1588h0M1930 1656h0M2214 1380h0M2444 1559h0M1896 1552h0M2700 1408h0M2448 1253h0M2208 1623h0M2445 1245h0M2545 1263h0M2434 1249h0M2098 1361h0M1896 1436h0M2054 1512h0M1825 1606h0M2302 1584h0M2277 1251h0M2257 1724h0M2173 1659h0M2356 1695h0M1902 1630h0M2044 1266h0M1765 1543h0M2137 1616h0M2121 1609h0M2429 1468h0M2067 1449h0M2543 1496h0M2425 1315h0M2404 1446h0M1991 1665h0M1755 1394h0M2107 1501h0M2067 1357h0M2596 1351h0M2328 1575h0M2010 1307h0M2405 1643h0M2462 1530h0M2374 1680h0M1843 1316h0M2078 1697h0M2279 1369h0M2168 1357h0M2142 1631h0M2001 1473h0M1890 1242h0M2456 1380h0M2563 1342h0M2172 1703h0M1832 1328h0M2139 1354h0M2513 1265h0M1914 1320h0M2458 1583h0M2120 1495h0M2331 1635h0M2563 1319h0M2265 1296h0M2457 1233h0M1963 1359h0M2135 1303h0M2142 1172h0M1981 1652h0M2323 1332h0M2248 1314h0M2680 1419h0M1773 1468h0M2268 1345h0M1984 1465h0M1761 1524h0M1999 1317h0M1943 1685h0M2056 1285h0M2336 1196h0M2255 1776h0M1887 1276h0M2619 1396h0M2743 1426h0M2299 1586h0M2046 1457h0M2083 1633h0M1829 1327h0M2038 1296h0M2180 1183h0M2441 1217h0M1781 1539h0M2419 1489h0M1979 1595h0M2365 1548h0M2520 1352h0M2297 1650h0M2014 1354h0M2207 1222h0M2161 1684h0M2134 1634h0M2355 1196h0M2183 1429h0M2366 1307h0M2143 1626h0M2100 1219h0M2395 1757h0M1935 1590h0M2090 1556h0M2298 1516h0M1956 1244h0M2317 1715h0M2051 1326h0M2587 1351h0M2112 1625h0M2342 1668h0M1765 1416h0M2106 1257h0M2287 1392h0M2063 1659h0M1863 1548h0M2396 1564h0M2281 1434h0M1956 1637h0M1949 1694h0M1993 1560h0M1842 1328h0M2675 1445h0M2291 1543h0M2615 1374h0M2528 1387h0M1891 1298h0M2256 1627h0M1969 1328h0M2342 1488h0M2439 1692h0M2128 1530h0M2145 1631h0M1948 1376h0M1933 1319h0M2306 1450h0M2386 1460h0M2222 1490h0M2150 1410h0M2301 1426h0M1912 1494h0M2420 1506h0M2236 1740h0M2094 1644h0M2249 1248h0M2227 1142h0M1845 1359h0M2339 1302h0M2293 1410h0M1856 1654h0M2482 1387h0M2298 1694h0M2175 1396h0M2092 1399h0M1816 1284h0M2529 1275h0M2327 1222h0M2264 1623h0M2152 1643h0M2454 1222h0M1968 1578h0M2248 1557h0M1842 1300h0M2010 1275h0M2511 1633h0M1851 1559h0M2062 1424h0M2001 1293h0M2348 1723h0M1977 1548h0M2027 1710h0M2668 1430h0M2369 1443h0M2225 1273h0M2514 1595h0M2293 1386h0M1777 1349h0M1996 1569h0M2453 1590h0M2265 1251h0M2273 1623h0M2281 1408h0M2468 1337h0M1954 1572h0M2109 1422h0M2190 1557h0M2209 1504h0M2333 1496h0M2321 1505h0M2359 1543h0M1823 1345h0M1842 1339h0M2087 1716h0M2364 1263h0M2023 1606h0M2065 1414h0M2177 1571h0M1994 1622h0M1942 1641h0M2458 1352h0M2172 1237h0M1740 1402h0M2237 1377h0M2048 1333h0M2236 1774h0M2174 1265h0M1836 1578h0M2001 1395h0M1888 1432h0M2003 1655h0M2442 1367h0M2100 1434h0M2081 1543h0M1915 1665h0M2309 1338h0M1992 1333h0M1920 1318h0M1870 1476h0M1902 1650h0M2448 1209h0M2267 1553h0M2244 1715h0M2224 1463h0M1929 1238h0M2042 1301h0M2044 1260h0M2244 1632h0M1902 1431h0M2459 1536h0M2406 1565h0M2428 1747h0M1808 1492h0M1811 1583h0M1937 1624h0M2480 1574h0M2513 1543h0M1885 1389h0M1943 1307h0M1927 1355h0M2060 1517h0M2028 1660h0M2091 1502h0M2186 1580h0M2574 1399h0M2176 1392h0M2168 1596h0M2102 1659h0M2208 1419h0M2422 1291h0M2375 1360h0M2444 1652h0M2181 1500h0M2103 1605h0M2088 1277h0M2091 1647h0M2486 1342h0M2046 1367h0M2627 1405h0M2044 1579h0M1801 1329h0M2657 1371h0M2176 1548h0M1829 1407h0M2301 1746h0M2262 1466h0M2427 1364h0M2322 1516h0M2247 1304h0M2452 1641h0M2367 1319h0M1824 1539h0M2179 1615h0M2134 1224h0M1976 1481h0M2125 1392h0M1863 1426h0M2062 1691h0M1988 1562h0M2332 1268h0M2226 1632h0M2156 1287h0M2205 1397h0M2133 1482h0M1895 1533h0M2158 1379h0M2196 1710h0M1851 1585h0M1874 1587h0M2158 1335h0M2478 1624h0M2176 1198h0M2095 1378h0M2264 1529h0M2216 1306h0M2274 1762h0M2150 1588h0M2401 1651h0M2525 1419h0M1958 1607h0M2423 1466h0M2268 1495h0M2349 1371h0M2247 1400h0M1886 1300h0M2629 1389h0M2049 1497h0M2063 1432h0M2260 1316h0M2063 1689h0M2269 1756h0M2002 1653h0M2330 1508h0M2479 1644h0M1900 1571h0M1806 1542h0M2331 1592h0M2424 1299h0M2053 1346h0M1764 1378h0M2376 1474h0M2417 1491h0M1798 1504h0M1829 1440h0M1994 1445h0M2393 1582h0M2511 1378h0M2098 1528h0M2315 1411h0M2386 1222h0M2385 1712h0M2141 1198h0M2151 1222h0M2472 1622h0M2282 1571h0M1839 1469h0M1935 1463h0M1922 1650h0M2185 1582h0M1905 1668h0M2290 1315h0M2164 1743h0M1780 1540h0M2086 1235h0M2104 1500h0M2211 1422h0M1885 1383h0M2130 1491h0M2509 1602h0M1804 1385h0M1916 1585h0M2172 1339h0M1820 1526h0M2127 1318h0M2398 1498h0M2369 1577h0M2245 1352h0M2522 1431h0M2309 1409h0M2142 1523h0M2543 1382h0M2069 1329h0M2030 1269h0M2674 1383h0M2267 1566h0M1829 1281h0M1910 1540h0M2239 1186h0M2425 1423h0M1986 1685h0M2038 1329h0M1945 1659h0M2503 1585h0M1795 1356h0M1862 1249h0M2127 1531h0M1998 1395h0M2481 1550h0M2164 1476h0M2041 1263h0M2352 1503h0M2473 1523h0M1827 1566h0M1902 1583h0M1919 1356h0M2541 1423h0M2521 1433h0M1868 1427h0M2225 1447h0M1778 1432h0M2254 1511h0M2059 1397h0M2218 1353h0M2004 1364h0M2264 1458h0M2245 1243h0M2141 1648h0M2485 1583h0M2623 1404h0M1918 1588h0M1925 1637h0M2441 1413h0M2177 1751h0M1998 1589h0M2217 1676h0M1906 1602h0M2006 1374h0M2135 1453h0M2633 1405h0M2557 1437h0M2369 1541h0M2020 1499h0M1776 1456h0M2330 1611h0M2485 1566h0M1922 1552h0M1802 1523h0M2327 1615h0M2061 1488h0M2488 1536h0M2572 1341h0M1932 1532h0M2285 1688h0M2280 1172h0M2052 1435h0M1900 1441h0M2047 1613h0M2366 1634h0M2122 1400h0M2410 1581h0M2272 1424h0M2472 1300h0M2269 1478h0M2533 1395h0M2468 1447h0M2391 1573h0M2591 1385h0M2178 1294h0M2364 1685h0M2052 1513h0M1889 1625h0M2225 1473h0M2157 1398h0M2195 1276h0M2368 1424h0M2011 1650h0M2137 1513h0M1793 1412h0M1920 1294h0M2108 1589h0M1912 1611h0M2363 1359h0M2362 1655h0M2104 1382h0M1907 1457h0M2177 1727h0M2103 1540h0M2174 1188h0M2211 1238h0M2343 1198h0M2732 1432h0M1999 1226h0M2124 1630h0M1954 1580h0M2366 1295h0M2421 1410h0M1744 1394h0M1993 1528h0M2029 1421h0M2425 1237h0M2502 1257h0M2275 1426h0M2464 1541h0M1961 1550h0M2435 1593h0M2209 1531h0M2136 1249h0M1784 1535h0M1900 1588h0M1856 1442h0M2376 1624h0M2093 1219h0M1990 1559h0M2340 1309h0M2308 1236h0M2479 1290h0M2014 1686h0M2259 1228h0M2393 1607h0M2055 1273h0M2506 1294h0M1986 1562h0M1873 1403h0M2352 1192h0M2012 1267h0M2526 1482h0M2058 1591h0M1810 1616h0M2305 1345h0M2119 1569h0M2255 1564h0M2434 1351h0M2373 1757h0M1764 1418h0M1886 1628h0M2206 1406h0M2499 1415h0M2289 1540h0M2512 1300h0M2225 1315h0M1977 1377h0M2092 1542h0M2214 1368h0M2236 1628h0M2272 1524h0M2342 1783h0M2154 1334h0M2645 1371h0M2170 1324h0M2120 1324h0M1843 1459h0M2327 1331h0M2223 1261h0M2414 1258h0M2652 1387h0M2187 1766h0M1979 1702h0M1972 1630h0M2489 1373h0M2359 1533h0M2147 1601h0M2312 1424h0M2494 1644h0M2116 1282h0M2383 1204h0M2593 1321h0M2079 1293h0M2091 1602h0M1926 1292h0M2034 1367h0M2225 1294h0M2084 1569h0M2205 1730h0M2392 1372h0M2486 1497h0M1899 1436h0M1909 1423h0M2424 1620h0M2020 1496h0M1873 1572h0M1973 1373h0M1990 1480h0M2357 1251h0M2522 1419h0M1972 1482h0M2328 1333h0M2195 1740h0M2266 1730h0M2529 1426h0M2170 1248h0M2180 1415h0M2626 1393h0M2418 1435h0M1921 1667h0M2248 1200h0M2025 1657h0M1979 1429h0M2409 1459h0M2188 1698h0M1949 1500h0M2196 1738h0M2103 1734h0M2283 1425h0M2352 1736h0M2277 1561h0M2314 1185h0M1940 1546h0M1876 1346h0M2380 1482h0M2015 1365h0M2082 1398h0M2541 1365h0M1951 1322h0M2380 1585h0M2247 1761h0M2127 1466h0M2400 1328h0M1960 1484h0M2418 1310h0M2077 1730h0M1812 1512h0M1884 1461h0M1929 1609h0M1837 1370h0M1783 1502h0M2101 1215h0M2120 1482h0M2148 1495h0M2310 1734h0M2274 1250h0M1789 1361h0M1816 1413h0M2028 1426h0M2231 1543h0M2155 1403h0M2508 1277h0M2425 1615h0M2602 1388h0M2096 1526h0M2407 1650h0M2106 1586h0M1883 1248h0M1955 1424h0M2438 1575h0M2373 1520h0M2302 1159h0M2010 1532h0M2173 1743h0M2131 1471h0M1885 1410h0M2537 1307h0M2095 1619h0M1886 1569h0M2278 1691h0M2318 1501h0M2260 1194h0M2401 1309h0M2100 1404h0M1902 1441h0M1865 1267h0M2634 1362h0M2362 1643h0M2279 1603h0M2266 1226h0M1779 1332h0M2030 1338h0M2136 1480h0M2053 1635h0M2432 1564h0M2202 1256h0M1886 1259h0M2013 1346h0M2515 1295h0M2324 1314h0M2144 1330h0M2270 1628h0M2311 1661h0M2446 1592h0M2073 1593h0M2111 1235h0M2431 1657h0M2041 1334h0M2276 1516h0M1864 1349h0M2455 1532h0M2271 1472h0M1784 1397h0M1804 1579h0M2544 1364h0M2020 1441h0M2095 1618h0M2429 1632h0M2162 1200h0M1817 1349h0M1831 1386h0M1796 1579h0M2457 1325h0M2314 1639h0M2017 1477h0M1999 1441h0M2309 1604h0M2423 1579h0M2499 1255h0M1833 1590h0M2258 1220h0M2382 1669h0M2409 1591h0M2099 1453h0M2320 1622h0M1786 1518h0M2146 1177h0M2682 1399h0M2375 1702h0M1880 1425h0M2002 1561h0M1801 1422h0M2068 1534h0M2312 1241h0M2146 1465h0M2138 1298h0M2035 1289h0M1943 1644h0M2180 1421h0M2204 1548h0M1893 1467h0M1960 1407h0M2215 1213h0M2205 1666h0M1842 1308h0M2348 1775h0M1814 1345h0M1902 1336h0M2047 1667h0M1963 1685h0M2108 1450h0M2518 1518h0M1812 1411h0M1940 1239h0M2293 1315h0M1913 1469h0M1906 1333h0M1980 1566h0M2086 1341h0M2279 1721h0M2306 1570h0M2090 1625h0M2189 1496h0M2291 1226h0M2194 1387h0M2518 1410h0M2325 1515h0M2163 1599h0M1838 1400h0M1846 1494h0M2380 1393h0M2062 1487h0M2015 1582h0M2192 1272h0M1981 1561h0M2469 1530h0M2344 1461h0M1979 1414h0M2123 1340h0M2058 1607h0M2287 1494h0M2154 1612h0M2308 1531h0M2389 1502h0M2433 1466h0M2230 1577h0M1989 1662h0M2188 1176h0M2420 1653h0M2065 1466h0M2193 1181h0M2259 1479h0M2067 1256h0M2257 1545h0M2084 1530h0M2105 1408h0M1784 1382h0M2005 1240h0M2204 1326h0M2052 1645h0M2663 1410h0M2541 1416h0M1927 1237h0M2054 1419h0M2466 1515h0M1997 1417h0M2272 1401h0M2550 1367h0M2214 1726h0M2145 1312h0M2165 1516h0M1757 1368h0M2251 1488h0M2319 1243h0M2420 1387h0M1840 1513h0M1887 1554h0M1955 1443h0M2225 1235h0M2296 1688h0M2218 1457h0M2363 1198h0M1781 1310h0M2305 1723h0M1940 1503h0M1793 1372h0M2012 1273h0M2470 1449h0M1833 1563h0M2351 1754h0M2194 1308h0M1998 1723h0M1937 1408h0M2377 1674h0M2205 1529h0M2067 1473h0M2544 1381h0M1929 1245h0M1938 1324h0M1754 1418h0M1929 1653h0M2512 1279h0M1980 1399h0M1823 1501h0M1799 1433h0M2133 1537h0M1853 1607h0M2316 1206h0M2382 1590h0M2374 1332h0M2153 1413h0M2048 1521h0M2182 1564h0M2162 1220h0M1761 1341h0M2431 1491h0M2463 1315h0M2091 1695h0M2068 1687h0M2258 1574h0M2497 1596h0M2374 1728h0M2301 1231h0M2472 1274h0M1916 1654h0M2309 1728h0M1794 1288h0M2189 1272h0M1808 1287h0M2038 1669h0M2378 1284h0M2192 1655h0M2145 1334h0M1988 1270h0M2465 1490h0M2116 1560h0M2452 1237h0M1912 1326h0M2022 1593h0M1867 1452h0M2328 1546h0M2085 1604h0M1849 1383h0M2246 1375h0M2462 1378h0M2016 1265h0M2073 1244h0M2176 1488h0M2190 1328h0M1764 1377h0M2249 1232h0M2487 1439h0M2670 1403h0M2487 1317h0M1809 1415h0M2508 1316h0M2063 1313h0M2292 1723h0M2042 1376h0M1956 1578h0M2374 1693h0M2131 1723h0M2352 1391h0M2559 1348h0M1850 1524h0M1770 1440h0M2008 1309h0M1777 1421h0M2076 1443h0M1881 1501h0M1981 1463h0M2106 1632h0M2358 1333h0M1933 1596h0M2153 1298h0M2394 1493h0M2380 1557h0M2051 1326h0M2246 1788h0M1735 1442h0M1888 1309h0M2303 1329h0M2267 1668h0M2198 1454h0M2698 1408h0M2197 1304h0M2165 1198h0M1955 1304h0M1908 1561h0M2159 1192h0M2454 1382h0M2321 1231h0M2076 1478h0M2418 1323h0M2096 1544h0M1877 1468h0M2298 1803h0M1892 1278h0M2232 1558h0M2289 1792h0M2389 1509h0M1961 1430h0M2509 1259h0M1976 1382h0M1759 1536h0M2425 1503h0M2146 1572h0M2290 1332h0M2113 1212h0M2382 1745h0M2165 1708h0M2151 1491h0M2334 1283h0M2418 1293h0M2253 1490h0M1927 1336h0M2311 1272h0M2304 1773h0M2052 1563h0M1762 1383h0M2300 1182h0M1781 1336h0M2193 1252h0M2381 1319h0M2487 1599h0M2076 1537h0M1960 1312h0M2618 1377h0M1903 1331h0M2335 1312h0M2512 1611h0M2220 1279h0M1767 1504h0M2187 1322h0M2455 1422h0M2052 1494h0M2368 1381h0M1966 1274h0M1788 1514h0M2414 1459h0M2072 1288h0M1897 1322h0M2447 1217h0M2653 1385h0M2255 1172h0M1868 1306h0M1910 1492h0M1955 1527h0M2050 1576h0M2285 1497h0M2242 1652h0M2430 1310h0M2396 1402h0M2407 1620h0M2008 1402h0M2180 1164h0M2067 1611h0M2071 1526h0M1992 1291h0M2194 1289h0M1741 1431h0M2482 1527h0M2273 1782h0M2140 1270h0M2422 1263h0M2118 1424h0M2330 1373h0M2180 1524h0M1998 1664h0M2114 1675h0M2051 1296h0M2191 1514h0M1871 1640h0M2418 1513h0M2168 1373h0M2403 1413h0M2098 1480h0M1929 1337h0M1937 1533h0M2103 1276h0M1904 1444h0M2176 1561h0M2513 1374h0M2524 1533h0M1977 1524h0M1887 1257h0M2379 1194h0M2312 1204h0M2493 1590h0M2312 1741h0M2535 1307h0M2100 1428h0M2088 1670h0M2452 1547h0M2222 1784h0M2086 1443h0M2490 1527h0M2289 1178h0M2429 1601h0M2264 1353h0M2193 1516h0M2371 1511h0M2514 1582h0M2190 1388h0M2402 1666h0M2020 1578h0M2049 1677h0M2159 1445h0M2433 1564h0M2244 1306h0M2267 1747h0M2015 1660h0M1855 1398h0M2355 1205h0M1807 1441h0M2279 1295h0M2212 1690h0M2064 1531h0M2381 1372h0M2425 1599h0M2442 1257h0M2120 1566h0M2037 1332h0M1812 1418h0M2252 1278h0M2016 1264h0M1886 1319h0M2148 1468h0M2221 1454h0M1990 1277h0M2649 1396h0M2329 1237h0M2434 1713h0M2300 1321h0M2387 1339h0M2327 1472h0M2312 1777h0M1965 1236h0M2392 1754h0M2442 1303h0M2176 1204h0M1920 1327h0M1970 1645h0M1892 1268h0M2231 1166h0M1916 1271h0M2101 1300h0M1801 1426h0M2051 1597h0M2411 1665h0M2372 1575h0M2480 1544h0M2226 1466h0M2469 1532h0M2138 1725h0M2390 1606h0M1884 1530h0M1912 1575h0M1975 1268h0M2266 1319h0M2456 1477h0M2033 1300h0M2198 1528h0M2264 1258h0M1848 1551h0M2450 1612h0M2192 1629h0M2185 1411h0M1786 1422h0M2115 1292h0M2502 1275h0M2454 1316h0M2435 1389h0M2178 1621h0M2436 1295h0M1834 1555h0M2404 1627h0M2347 1205h0M2010 1518h0M2277 1176h0M2344 1269h0M2379 1317h0M2234 1314h0M1850 1306h0M1788 1516h0M2025 1487h0M2415 1623h0M2162 1751h0M2296 1167h0M2191 1488h0M2004 1364h0M2220 1358h0M1919 1497h0M1907 1619h0M1896 1339h0M2325 1602h0M2479 1512h0M2634 1372h0M2148 1233h0M2321 1226h0M1826 1511h0M2537 1368h0M2456 1548h0M1926 1285h0M2285 1470h0M1939 1501h0M2151 1367h0M2397 1247h0M1953 1327h0M2051 1699h0M2162 1516h0M2287 1435h0M1848 1508h0M1985 1563h0M2691 1395h0M2139 1292h0M2025 1371h0M2162 1336h0M2475 1441h0M2551 1297h0M2270 1549h0M1844 1358h0M2324 1504h0M2276 1334h0M2224 1704h0M2090 1571h0M1869 1619h0M2298 1257h0M2177 1499h0M2275 1695h0M2283 1455h0M2470 1625h0M2514 1503h0M2406 1678h0M2410 1249h0M2252 1204h0M1829 1569h0M2406 1204h0M1887 1583h0M1992 1525h0M2539 1463h0M2372 1578h0M2397 1211h0M1854 1356h0M1831 1433h0M2137 1626h0M2338 1288h0M2198 1292h0M2241 1332h0M1933 1340h0M2263 1334h0M2172 1472h0M1868 1428h0M1975 1474h0M2165 1336h0M2102 1550h0M2460 1589h0M1945 1629h0M2094 1266h0M2319 1357h0M2358 1371h0M1778 1474h0M1836 1459h0M2431 1341h0M2135 1551h0M1998 1584h0M2307 1497h0M1913 1417h0M2366 1721h0M2550 1337h0M2348 1591h0M2374 1251h0M2312 1734h0M2295 1718h0M1874 1274h0M2124 1342h0M1967 1594h0M2019 1399h0M2422 1438h0M2020 1696h0M2359 1289h0M2640 1403h0M2495 1390h0M2203 1756h0M2524 1276h0M1812 1534h0M2508 1300h0M2271 1416h0M2140 1711h0M1955 1641h0M2081 1374h0M2317 1481h0M2424 1349h0M2246 1628h0M2129 1190h0M2569 1317h0M1953 1550h0M2313 1214h0M2118 1492h0M2482 1446h0M1838 1536h0M1850 1477h0M2021 1469h0M2121 1567h0M2290 1336h0M1924 1328h0M2504 1268h0M2217 1193h0M2155 1664h0M2448 1422h0M2518 1300h0M2179 1618h0M2351 1472h0M2413 1370h0M2141 1696h0M1897 1410h0M2235 1743h0M1819 1570h0M1956 1421h0M1977 1246h0M2173 1436h0M2305 1678h0M2451 1384h0M2192 1417h0M2305 1316h0M1764 1360h0M2218 1260h0M2072 1553h0M2382 1721h0M1771 1366h0M1863 1642h0M1839 1518h0M2446 1351h0M2182 1332h0M2191 1630h0M2516 1536h0M2150 1191h0M1850 1439h0M2038 1413h0M2370 1293h0M2282 1618h0M1918 1339h0M2315 1680h0M2005 1542h0M2449 1548h0M1906 1440h0M2074 1291h0M2164 1639h0M2575 1425h0M2643 1412h0M1910 1577h0M2234 1245h0M1970 1584h0M1990 1713h0M2156 1628h0M2104 1239h0M1874 1334h0M1851 1395h0M2401 1636h0M2176 1691h0M1994 1260h0M2102 1285h0M2449 1687h0M1819 1562h0M1906 1572h0M2316 1501h0M2092 1217h0M2209 1487h0M2175 1406h0M2223 1480h0M2062 1699h0M2346 1201h0M2457 1501h0M2183 1398h0M2261 1218h0M2434 1598h0M2314 1741h0M2312 1719h0M2309 1250h0M2405 1379h0M2293 1181h0M1920 1322h0M2206 1276h0M2445 1258h0M2160 1722h0M2336 1310h0M2063 1381h0M2509 1611h0M2311 1775h0M2321 1608h0M1851 1351h0M2313 1703h0M2484 1368h0M2179 1570h0M2078 1598h0M1816 1289h0M2182 1607h0M1781 1357h0M2394 1193h0M2214 1284h0M2334 1678h0M2268 1547h0M2195 1160h0M2426 1296h0M2484 1361h0M1816 1513h0M2472 1516h0M2248 1751h0M1761 1491h0M2276 1487h0M2491 1522h0M1809 1438h0M1803 1508h0M2401 1397h0M2110 1519h0M2069 1544h0M1813 1530h0M2283 1532h0M2082 1231h0M1760 1397h0M2305 1496h0M2282 1518h0M1821 1442h0M2154 1355h0M2216 1406h0M1808 1440h0M1904 1357h0M2169 1258h0M1910 1658h0M2318 1776h0M2151 1351h0M2097 1553h0M2132 1367h0M2420 1716h0M1878 1334h0M2069 1318h0M2181 1237h0M2494 1577h0M1847 1413h0M2479 1256h0M1792 1563h0M1960 1560h0M2128 1330h0M2008 1526h0M2338 1324h0M1901 1567h0M2176 1628h0M2271 1416h0M2392 1232h0M2459 1476h0M2653 1382h0M2338 1748h0M2061 1655h0M2267 1441h0M1810 1593h0M1938 1361h0M2174 1640h0M2303 1732h0M1933 1463h0M2298 1458h0M2451 1267h0M2597 1366h0M2258 1494h0M2390 1737h0M1929 1400h0M2317 1796h0M2343 1405h0M1853 1538h0M2273 1414h0M2625 1395h0M2319 1277h0M2243 1505h0M1980 1690h0M2122 1524h0M2624 1390h0M2399 1410h0M2027 1424h0M2309 1215h0M2340 1350h0M2419 1697h0M1888 1500h0M2366 1518h0M2532 1447h0M2026 1390h0M2284 1624h0M2096 1264h0M1800 1430h0M2507 1618h0M1995 1384h0M2231 1181h0M1901 1519h0M2045 1333h0M2405 1399h0M2093 1561h0M2151 1733h0M2215 1409h0M2080 1237h0M2303 1236h0M2432 1454h0M1788 1348h0M2306 1429h0M2078 1300h0M1934 1237h0M2324 1647h0M2141 1260h0M1987 1615h0M2465 1601h0M1857 1531h0M2298 1332h0M2365 1781h0M1977 1516h0M2088 1433h0M2638 1356h0M2332 1365h0M2012 1560h0M2368 1688h0M2052 1676h0M1759 1491h0M2156 1392h0M1846 1350h0M1865 1388h0M2233 1299h0M1874 1349h0M2170 1329h0M2208 1389h0M1963 1573h0M2149 1661h0M2052 1265h0M2333 1429h0M2137 1650h0M2474 1448h0M2428 1629h0M2021 1275h0M2320 1484h0M2524 1370h0M1839 1351h0M2637 1343h0M1968 1317h0M2108 1540h0M1858 1421h0M2423 1615h0M2024 1679h0M1800 1448h0M2598 1338h0M2399 1449h0M2579 1404h0M2138 1687h0M2084 1210h0M2155 1607h0M2527 1515h0M2136 1759h0M2302 1210h0M2406 1486h0M2129 1270h0M2027 1442h0M2498 1433h0M2349 1391h0M2275 1251h0M2211 1474h0M2457 1587h0M2184 1288h0M2314 1512h0M2181 1736h0M2666 1414h0M2271 1481h0M2377 1679h0M2421 1576h0M2021 1533h0M2176 1331h0M1919 1542h0M2012 1290h0M1984 1577h0M2493 1258h0M2165 1528h0M2144 1359h0M1946 1377h0M1825 1335h0M2197 1292h0M2120 1675h0M2006 1336h0M2251 1645h0M1779 1361h0M2249 1478h0M2091 1381h0M1990 1287h0M2228 1510h0M1972 1493h0M2456 1389h0M2361 1314h0M1809 1283h0M2517 1507h0M2661 1388h0M1884 1290h0M1791 1421h0M2454 1354h0M2348 1639h0M2241 1450h0M1776 1293h0M2080 1273h0M2212 1399h0M2305 1447h0M2521 1291h0M2141 1490h0M2422 1277h0M2328 1329h0M1938 1441h0M2343 1295h0M1976 1488h0M2402 1491h0M2083 1365h0M1910 1410h0M2253 1766h0M2023 1448h0M2483 1362h0M2125 1544h0M1867 1533h0M1814 1556h0M2373 1331h0M2374 1543h0M2096 1636h0M1844 1557h0M2173 1436h0M1972 1331h0M2382 1479h0M2036 1351h0M2457 1675h0M2186 1710h0M2127 1548h0M2439 1554h0M2351 1312h0M2098 1489h0M2323 1297h0M2246 1675h0M2188 1541h0M1909 1564h0M2429 1262h0M2650 1386h0M1948 1423h0M2502 1239h0M1937 1313h0M2150 1208h0M2260 1315h0M1925 1328h0M1897 1342h0M2409 1454h0M2464 1523h0M1781 1488h0M1760 1493h0M2458 1457h0M2213 1528h0M1870 1447h0M1837 1365h0M2532 1345h0M1879 1596h0M2301 1694h0M2410 1286h0M2002 1398h0M2236 1376h0M2050 1473h0M2487 1586h0M1775 1549h0M2040 1691h0M1956 1548h0M2491 1308h0M2162 1578h0M2212 1362h0M1934 1620h0M2140 1370h0M1862 1501h0M2092 1488h0M2321 1161h0M2006 1471h0M2352 1300h0M1842 1419h0M1795 1496h0M2269 1358h0M2655 1368h0M2009 1515h0M2073 1574h0M2006 1572h0M1738 1403h0M1955 1325h0M2297 1161h0M2485 1570h0M2124 1354h0M2054 1335h0M2244 1246h0M2159 1489h0M1861 1367h0M2230 1232h0M1932 1298h0M2203 1542h0M2322 1508h0M2016 1698h0M2329 1708h0M2311 1596h0M2467 1673h0M1952 1430h0M1853 1484h0M1802 1589h0M2252 1432h0M2166 1538h0M2047 1445h0M2430 1379h0M2518 1600h0M2187 1618h0M2533 1563h0M2499 1580h0M1918 1287h0M2130 1304h0M1963 1484h0M2225 1572h0M2330 1418h0M2428 1361h0M2295 1486h0M2366 1553h0M2258 1442h0M2511 1289h0M2171 1503h0M2450 1408h0M2337 1276h0M2388 1681h0M2425 1448h0M1975 1541h0M2392 1355h0M2237 1587h0M1902 1532h0M2248 1528h0M2285 1577h0M2487 1309h0M1937 1262h0M2189 1310h0M1851 1353h0M2459 1248h0M2221 1328h0M2426 1407h0M1920 1366h0M2028 1410h0M2663 1436h0M1938 1531h0M2740 1429h0M2244 1629h0M2677 1407h0M2192 1255h0M2060 1345h0M2315 1528h0M2252 1436h0M2383 1336h0M2282 1302h0M2007 1339h0M2052 1582h0M2304 1739h0M2116 1516h0M1740 1431h0M2139 1282h0M2010 1325h0M2364 1307h0M2480 1379h0M2377 1470h0M2471 1429h0M2587 1337h0M1781 1351h0M2161 1475h0M2296 1739h0M2387 1189h0M1920 1522h0M2158 1646h0M2137 1603h0M2556 1329h0M1750 1426h0M2647 1365h0M2064 1530h0M1823 1273h0M2482 1605h0M2149 1616h0M2215 1253h0M2391 1375h0M1967 1651h0M1897 1300h0M2359 1583h0M1879 1607h0M1934 1410h0M1935 1252h0M2404 1370h0M2216 1657h0M2323 1454h0M2239 1331h0M1933 1475h0M1911 1316h0M1878 1580h0M2353 1663h0M2092 1565h0M1798 1566h0M1908 1353h0M2287 1450h0M2275 1601h0M2500 1339h0M1982 1577h0M2085 1610h0M1996 1549h0M2440 1649h0M2288 1214h0M2662 1387h0M2529 1408h0M2206 1296h0M2158 1307h0M2025 1451h0M2333 1700h0M2576 1370h0M2167 1747h0M2297 1495h0M2229 1165h0M2723 1413h0M2075 1594h0M2057 1509h0M2020 1389h0M1879 1334h0M1883 1264h0M2480 1379h0M2122 1275h0M2382 1461h0M1886 1267h0M2231 1157h0M2350 1453h0M1911 1552h0M2205 1673h0M2069 1647h0M2196 1174h0M2231 1237h0M2293 1224h0M2032 1706h0M2479 1299h0M2331 1346h0M2092 1460h0M2262 1334h0M2163 1490h0M2057 1530h0M2473 1526h0M2187 1768h0M2089 1360h0M1883 1430h0M2488 1540h0M2173 1706h0M2002 1532h0M2439 1663h0M1882 1672h0M1806 1499h0M2653 1395h0M2461 1497h0M2374 1692h0M2684 1419h0M2147 1271h0M2106 1729h0M1913 1280h0M2381 1548h0M2261 1429h0M2489 1472h0M2153 1469h0M2413 1518h0M2296 1257h0M2058 1601h0M2160 1648h0M2445 1569h0M1872 1599h0M2456 1219h0M1819 1549h0M2012 1648h0M1927 1592h0M2220 1460h0M1741 1481h0M2203 1669h0M2108 1334h0M2329 1755h0M1842 1327h0M1863 1447h0M2216 1567h0M2377 1465h0M2415 1257h0M2347 1401h0M2290 1292h0M2293 1508h0M2136 1621h0M1849 1581h0M2302 1452h0M2031 1688h0M1789 1433h0M2321 1754h0M2435 1659h0M2004 1266h0M2448 1379h0M2215 1388h0M2024 1526h0M1914 1624h0M2370 1540h0M2298 1224h0M2100 1307h0M2498 1547h0M2143 1268h0M1818 1509h0M1940 1650h0M2522 1545h0M2328 1535h0M2542 1419h0M1997 1606h0M2078 1661h0M2243 1509h0M2221 1768h0M2463 1483h0M2183 1650h0M2115 1664h0M2285 1542h0M2278 1348h0M1824 1580h0M2070 1452h0M2108 1595h0M1998 1629h0M2321 1496h0M2257 1204h0M2314 1501h0M2185 1350h0M1912 1341h0M2187 1599h0M1992 1585h0M2304 1404h0M2191 1562h0M1959 1307h0M1955 1358h0M2441 1260h0M2022 1248h0M2158 1465h0M2103 1257h0M2109 1212h0M1956 1628h0M2152 1469h0M2376 1366h0M2438 1590h0M2209 1631h0M1765 1355h0M1967 1544h0M2507 1374h0M2620 1380h0M1932 1325h0M2293 1715h0M2254 1423h0M2139 1384h0M2297 1401h0M2422 1416h0M2287 1604h0M1975 1299h0M2317 1522h0M2442 1634h0M1990 1616h0M2389 1627h0M2040 1608h0M2266 1290h0M2265 1710h0M1983 1552h0M2418 1470h0M1816 1413h0M1903 1474h0M2403 1210h0M2313 1711h0M2298 1691h0M2147 1379h0M2139 1410h0M2350 1201h0M2146 1335h0M2289 1716h0M2150 1188h0M2144 1508h0M2154 1254h0M2055 1435h0M1938 1246h0M2144 1707h0M2237 1763h0M2446 1522h0M1865 1407h0M2635 1371h0M2290 1436h0M1908 1323h0M2028 1380h0M2329 1266h0M2410 1370h0M2096 1434h0M2234 1271h0M2201 1548h0M2276 1194h0M2152 1751h0M2140 1477h0M1902 1420h0M2195 1214h0M2247 1518h0M2181 1578h0M1932 1660h0M2452 1620h0M2014 1253h0M1901 1424h0M1957 1470h0M1964 1317h0M2040 1631h0M2233 1765h0M2317 1459h0M2442 1632h0M2427 1624h0M2152 1671h0M1830 1425h0M2004 1548h0M2014 1424h0M2075 1690h0M2083 1435h0M2239 1287h0M2133 1597h0M2050 1504h0M2687 1417h0M2176 1736h0M1862 1476h0M2151 1400h0M2546 1388h0M2384 1540h0M2122 1259h0M2092 1715h0M2295 1640h0M2048 1333h0M1921 1347h0M1959 1362h0M2355 1435h0M2520 1313h0M2101 1274h0M2446 1397h0M2005 1703h0M1946 1583h0M2273 1264h0M2484 1553h0M1747 1473h0M1994 1412h0M2427 1572h0M1900 1315h0M2005 1270h0M2620 1332h0M2316 1401h0M1880 1459h0M2344 1271h0M2472 1292h0M1968 1251h0M2321 1698h0M2206 1542h0M2216 1226h0M1802 1377h0M2325 1194h0M2390 1343h0M2398 1405h0M1837 1498h0M1810 1343h0M2720 1429h0M2157 1629h0M1815 1418h0M2227 1591h0M2163 1766h0M2093 1502h0M1912 1469h0M2063 1706h0M2054 1261h0M2232 1692h0M2471 1615h0M2134 1643h0M2277 1351h0M2269 1210h0M1983 1334h0M2215 1667h0M2216 1447h0M2161 1684h0M1823 1515h0M2133 1332h0M2178 1576h0M2659 1410h0M2194 1746h0M2289 1423h0M2326 1346h0M1877 1519h0M1741 1464h0M2257 1585h0M2122 1618h0M2443 1431h0M2240 1589h0M2029 1647h0M2105 1674h0M2312 1531h0M2252 1417h0M1927 1580h0M2324 1388h0M2058 1324h0M2283 1512h0M2285 1287h0M2040 1613h0M2308 1291h0M2184 1263h0M2163 1378h0M2452 1250h0M2189 1593h0M2038 1289h0M2374 1398h0M2282 1767h0M1809 1567h0M2299 1185h0M1788 1425h0M1829 1574h0M2080 1470h0M2342 1618h0M2365 1564h0M2675 1424h0M2365 1404h0M2284 1595h0M2410 1259h0M2501 1564h0M1796 1348h0M2451 1634h0M2412 1356h0M2013 1703h0M2072 1354h0M1917 1483h0M2343 1359h0M2394 1531h0M1993 1555h0M1990 1545h0M1809 1280h0M1760 1351h0M1864 1440h0M1908 1344h0M2217 1164h0M1864 1417h0M2312 1528h0M1853 1558h0M2242 1182h0M2091 1544h0M2005 1360h0M2330 1746h0M2241 1770h0M1825 1412h0M1977 1468h0M2126 1515h0M2163 1700h0M2289 1713h0M2221 1442h0M2524 1273h0M2151 1212h0M2491 1386h0M1847 1304h0M2095 1619h0M2197 1707h0M2092 1597h0M2225 1483h0M2645 1402h0M2456 1359h0M1981 1449h0M2388 1368h0M1843 1548h0M2248 1651h0M2328 1468h0M2389 1299h0M2252 1487h0M1885 1588h0M2359 1572h0M1958 1534h0M2200 1471h0M1884 1633h0M2273 1410h0M1813 1433h0M1966 1255h0M2323 1797h0M2276 1680h0M1955 1341h0M1976 1669h0M1868 1418h0M2349 1567h0M2443 1343h0M2293 1338h0M2296 1389h0M2407 1709h0M2156 1517h0M2407 1293h0M2052 1452h0M2162 1300h0M2261 1493h0M1965 1546h0M2133 1653h0M2390 1348h0M1925 1476h0M2289 1242h0M2441 1484h0M2047 1665h0M1817 1274h0M2407 1471h0M2535 1446h0M2283 1748h0M1851 1446h0M2255 1275h0M2187 1285h0M2044 1664h0M2114 1375h0M2453 1272h0M2174 1223h0M2334 1563h0M2362 1449h0M2657 1430h0M2493 1283h0M2226 1747h0M1875 1275h0M2227 1479h0M2146 1340h0M2429 1742h0M2171 1571h0M2029 1486h0M2248 1491h0M2421 1565h0M2287 1215h0M2199 1487h0M2087 1340h0M1853 1521h0M2102 1669h0M2318 1778h0M1838 1622h0M1942 1281h0M2516 1573h0M2045 1598h0M1893 1539h0M2218 1444h0M2419 1559h0M1999 1540h0M1789 1374h0M2023 1280h0M1976 1656h0M2167 1366h0M2528 1483h0M2021 1488h0M1852 1560h0M2320 1241h0M2393 1397h0M2432 1434h0M1759 1436h0M2214 1539h0M1971 1607h0M1996 1247h0M2243 1480h0M2183 1591h0M2176 1615h0M2006 1711h0M2385 1736h0M2261 1544h0M2517 1582h0M2104 1577h0M2110 1639h0M2069 1422h0M2078 1713h0M2266 1471h0M2286 1633h0M2574 1332h0M2374 1414h0M2336 1431h0M2483 1692h0M2244 1293h0M1862 1377h0M2241 1624h0M2064 1593h0M1969 1655h0M2040 1621h0M1808 1579h0M2506 1544h0M1882 1423h0M2196 1170h0M2314 1328h0M1861 1390h0M2017 1329h0M2591 1404h0M2060 1642h0M1953 1301h0M2161 1706h0M2391 1327h0M1865 1487h0M2423 1577h0M2263 1558h0M2360 1458h0M1901 1502h0M2329 1558h0M2145 1588h0M2153 1401h0M2374 1198h0M2113 1643h0M2285 1374h0M1790 1559h0M2527 1444h0M2122 1285h0M2484 1637h0M2072 1567h0M1937 1545h0M1840 1589h0M2102 1451h0M1750 1426h0M2394 1208h0M2276 1402h0M2198 1722h0M2080 1472h0M2395 1557h0M2099 1463h0M2056 1682h0M2519 1389h0M2362 1316h0M2288 1650h0M2342 1345h0M2496 1502h0M2008 1500h0M2402 1728h0M2530 1527h0M1978 1514h0M1845 1349h0M2265 1660h0M1792 1560h0M2153 1239h0M2312 1232h0M2366 1425h0M2287 1522h0M2176 1311h0M2641 1346h0M1821 1575h0M2014 1445h0M2057 1622h0M2131 1610h0M1975 1527h0M2323 1543h0M2509 1455h0M2193 1516h0M2253 1429h0M2522 1413h0M2528 1438h0M1971 1597h0M2063 1531h0M2131 1379h0M2340 1476h0M1991 1307h0M2306 1486h0M2366 1434h0M2144 1735h0M2266 1657h0M2051 1453h0M2225 1560h0M2232 1453h0M1870 1630h0M2401 1400h0M1871 1513h0M2092 1473h0M2235 1515h0M2416 1281h0M2348 1306h0M2477 1271h0M2478 1253h0M2153 1668h0M2156 1503h0M2571 1426h0M1980 1683h0M1994 1607h0M2452 1237h0M1955 1378h0M1975 1706h0M2237 1561h0M2155 1572h0M1822 1495h0M1818 1342h0M2395 1245h0M1925 1601h0M1893 1612h0M2436 1472h0M1972 1253h0M2335 1527h0M1915 1530h0M2416 1621h0M2298 1684h0M1765 1367h0M2287 1748h0M1872 1634h0M1908 1417h0M1952 1410h0M2225 1374h0M2114 1607h0M2388 1513h0M2147 1580h0M1781 1463h0M2284 1535h0M2004 1608h0M2602 1398h0M1802 1448h0M2211 1425h0M2064 1561h0M1854 1367h0M2157 1321h0M2169 1537h0M2479 1311h0M2231 1153h0M1903 1537h0M1961 1248h0M1831 1403h0M2194 1402h0M2205 1477h0M2096 1312h0M2364 1290h0M2192 1492h0M2225 1563h0M2096 1289h0M2101 1430h0M1833 1549h0M2286 1608h0M1793 1490h0M2336 1287h0M2331 1536h0M2180 1759h0M2158 1321h0M2078 1681h0M1918 1354h0M2144 1401h0M2360 1400h0M2182 1695h0M2094 1665h0M2103 1349h0M2171 1466h0M2133 1691h0M2506 1594h0M1862 1360h0M2380 1459h0M2327 1540h0M2002 1419h0M2116 1578h0M2403 1213h0M2354 1302h0M2036 1348h0M2332 1403h0M2249 1417h0M2439 1575h0M2126 1376h0M2313 1281h0M1935 1603h0M2278 1517h0M1980 1507h0M2317 1692h0M1909 1539h0M2257 1480h0M2184 1599h0M2200 1553h0M1767 1340h0M2187 1591h0M2348 1317h0M2038 1619h0M1930 1299h0M1810 1287h0M2155 1619h0M2370 1409h0M2319 1529h0M2058 1408h0M2029 1239h0M2355 1539h0M1848 1626h0M1947 1245h0M1861 1520h0M2676 1397h0M2050 1614h0M2073 1656h0M2491 1292h0M2099 1345h0M2504 1578h0M2110 1233h0M2020 1530h0M2518 1419h0M2451 1566h0M1963 1635h0M2680 1405h0M1975 1279h0M2313 1645h0M2443 1298h0M2371 1440h0M2367 1614h0M1807 1558h0M2066 1276h0M2059 1318h0M2342 1404h0M2540 1468h0M1784 1582h0M2049 1412h0M1929 1535h0M2341 1452h0M2213 1316h0M1964 1371h0M2206 1561h0M2367 1393h0M2453 1423h0M2034 1630h0M2388 1754h0M2265 1252h0M2215 1371h0M2525 1484h0M2023 1350h0M1965 1403h0M2188 1682h0M2348 1629h0M2133 1483h0M2477 1501h0M1764 1473h0M1760 1496h0M2463 1555h0M2459 1496h0M1991 1246h0M2036 1347h0M2329 1624h0M1957 1263h0M2214 1450h0M1888 1418h0M2040 1366h0M2180 1486h0M2199 1468h0M2395 1514h0M2102 1611h0M2277 1801h0M2007 1554h0M2106 1720h0M1841 1522h0M2084 1619h0M2105 1705h0M2469 1560h0M2296 1716h0M1991 1297h0M2405 1486h0M1748 1343h0M2532 1385h0M2021 1672h0M2177 1457h0M1975 1470h0M2057 1607h0M1926 1302h0M2235 1200h0M2308 1504h0M2196 1548h0M1986 1344h0M1913 1682h0M1865 1438h0M2574 1318h0M2110 1644h0M2117 1435h0M2744 1426h0M2357 1341h0M2176 1330h0M2187 1658h0M2040 1511h0M2081 1316h0M2334 1503h0M2227 1457h0M2002 1592h0M2080 1491h0M1894 1350h0M2227 1169h0M2373 1390h0M2085 1320h0M2437 1293h0M2108 1596h0M2273 1720h0M2164 1506h0M1896 1600h0M2391 1398h0M1925 1452h0M2241 1458h0M2273 1464h0M2313 1524h0M1871 1386h0M2313 1434h0M2286 1555h0M2250 1292h0M2044 1611h0M1937 1458h0M2236 1583h0M2537 1431h0M1836 1324h0M1852 1280h0M2320 1395h0M2323 1194h0M2106 1617h0M2177 1241h0M2142 1294h0M1943 1626h0M2382 1321h0M2032 1472h0M1981 1659h0M2007 1723h0M2640 1366h0M2396 1309h0M2497 1533h0M2072 1528h0M2126 1563h0M2387 1458h0M2180 1293h0M1915 1362h0M2011 1722h0M2183 1300h0M2028 1265h0M1818 1551h0M2359 1713h0M1936 1315h0M1940 1457h0M2339 1352h0M1878 1417h0M2029 1472h0M1779 1484h0M2044 1622h0M2212 1721h0M2266 1549h0M1875 1340h0M2317 1219h0M2475 1361h0M2336 1642h0M2362 1651h0M2482 1531h0M1762 1493h0M2208 1401h0M2481 1306h0M1805 1450h0M2275 1415h0M2259 1794h0M1959 1540h0M2069 1619h0M2360 1514h0M2041 1374h0M2283 1322h0M1963 1620h0M2435 1581h0M1907 1296h0M2070 1710h0M2241 1707h0M1940 1502h0M1779 1435h0M2384 1421h0M2330 1340h0M1948 1336h0M2121 1631h0M2261 1728h0M2309 1681h0M2223 1233h0M2204 1543h0M1934 1613h0M2133 1450h0M2159 1619h0M2291 1225h0M2294 1194h0M1839 1278h0M2218 1475h0M1848 1513h0M1893 1558h0M2340 1535h0M2529 1519h0M2365 1234h0M2355 1649h0M2428 1331h0M2302 1599h0M2320 1270h0M2232 1288h0M2165 1453h0M2382 1401h0M2004 1393h0M2323 1263h0M1835 1358h0M1959 1622h0M2432 1478h0M2411 1631h0M1795 1400h0M2254 1444h0M1902 1451h0M2256 1459h0M2077 1382h0M2191 1642h0M2090 1442h0M2340 1783h0M2025 1626h0M2430 1379h0M2068 1233h0M2298 1570h0M2189 1221h0M2186 1454h0M2181 1676h0M2200 1328h0M2078 1537h0M2365 1597h0M2367 1467h0M1803 1425h0M2013 1552h0M2343 1301h0M2478 1432h0M2101 1694h0M2209 1439h0M1854 1530h0M1802 1447h0M1925 1595h0M2237 1704h0M1954 1362h0M1959 1429h0M2019 1257h0M2714 1415h0M2054 1479h0M2224 1229h0M2112 1721h0M2012 1430h0M2046 1477h0M2126 1391h0M2504 1556h0M1849 1451h0M2288 1340h0M1920 1349h0M2375 1460h0M2461 1701h0M2368 1290h0M2393 1232h0M2266 1513h0M2266 1214h0M2604 1349h0M2175 1343h0M2519 1415h0M2436 1460h0M2146 1382h0M2226 1454h0M2196 1545h0M2681 1399h0M2289 1495h0M2688 1425h0M2409 1503h0M2088 1444h0M2452 1536h0M2047 1250h0M2522 1420h0M1903 1648h0M2620 1429h0M2150 1765h0M2279 1629h0M2310 1240h0M2361 1791h0M2312 1684h0M2211 1481h0M1961 1261h0M1942 1595h0M2114 1267h0M1859 1572h0M1739 1419h0M2437 1275h0M2230 1434h0M2607 1355h0M2147 1542h0M2109 1631h0M1766 1341h0M2343 1446h0M2083 1386h0M2325 1313h0M2044 1589h0M2364 1430h0M2119 1534h0M2133 1310h0M2435 1718h0M1885 1585h0M2507 1557h0M1951 1386h0M2064 1636h0M2223 1528h0M2134 1514h0M2406 1600h0M1984 1703h0M2008 1499h0M2395 1758h0M2198 1396h0M2300 1482h0M2277 1429h0M2149 1417h0M2266 1583h0M2292 1777h0M2078 1300h0M2059 1690h0M2477 1275h0M2131 1361h0M2352 1464h0M2164 1599h0M2411 1354h0M1983 1282h0M2420 1502h0M1897 1573h0M2338 1640h0M1811 1359h0M2142 1444h0M2348 1575h0M2220 1582h0M2111 1351h0M2456 1669h0M1991 1342h0M2263 1542h0M1792 1416h0M2126 1340h0M2028 1271h0M1910 1484h0M2128 1334h0M2365 1495h0M2496 1300h0M1978 1512h0M2154 1587h0M1895 1409h0M1981 1650h0M1858 1566h0M2465 1558h0M2556 1284h0M1755 1509h0M2229 1525h0M2190 1231h0M2112 1325h0M2125 1639h0M2448 1593h0M1922 1377h0M2280 1702h0M2194 1400h0M2227 1261h0M2191 1635h0M2633 1349h0M1885 1348h0M2186 1728h0M2345 1305h0M2017 1528h0M2241 1690h0M2047 1491h0M2172 1482h0M2201 1455h0M2362 1378h0M2113 1346h0M2010 1279h0M2190 1588h0M1985 1648h0M2352 1294h0M2191 1453h0M1820 1402h0M1891 1284h0M2416 1646h0M2355 1673h0M2346 1452h0M2517 1602h0M2326 1249h0M2377 1613h0M2273 1698h0M1821 1542h0M2364 1471h0M2133 1543h0M1908 1380h0M2010 1653h0M2242 1625h0M1856 1298h0M2417 1495h0M2430 1587h0M2344 1532h0M2410 1422h0M2459 1554h0M2074 1673h0M2260 1620h0M2097 1398h0M2043 1341h0M2310 1729h0M2407 1703h0M2058 1477h0M2264 1568h0M2473 1656h0M1753 1417h0M2334 1500h0M2144 1396h0M1769 1427h0M2164 1392h0M2056 1584h0M1949 1581h0M2271 1358h0M1921 1358h0M2398 1572h0M2225 1471h0M2220 1492h0M2061 1589h0M2125 1563h0M1833 1445h0M1879 1621h0M2429 1392h0M2183 1392h0M2344 1552h0M2472 1312h0M2087 1275h0M2186 1436h0M2057 1533h0M2316 1449h0M2422 1614h0M2347 1289h0M2296 1303h0M2120 1503h0M1953 1325h0M2100 1274h0M1788 1461h0M2156 1557h0M2377 1546h0M1979 1653h0M1930 1548h0M1883 1539h0M2082 1482h0M2644 1370h0M2110 1437h0M1936 1652h0M2357 1465h0M2357 1511h0M1921 1253h0M2068 1528h0M1871 1445h0M2365 1696h0M2032 1666h0M2184 1387h0M1823 1288h0M2097 1699h0M2222 1647h0M2213 1574h0M2445 1345h0M2132 1716h0M2363 1472h0M2290 1652h0M2114 1538h0M2244 1259h0M2499 1643h0M2382 1477h0M2157 1402h0M2237 1483h0M2621 1411h0M2175 1286h0M2459 1344h0M1967 1632h0M1891 1407h0M1857 1587h0M2175 1339h0M1992 1368h0M2184 1408h0M1957 1447h0M2129 1636h0M2197 1736h0M2396 1617h0M2302 1414h0M1792 1566h0M2363 1557h0M2282 1375h0M2309 1485h0M2093 1297h0M2372 1302h0M1797 1295h0M1756 1357h0M1885 1508h0M2150 1642h0M1880 1567h0M1929 1261h0M1929 1610h0M2177 1712h0M2086 1480h0M1772 1353h0M2445 1337h0M1898 1392h0M2306 1670h0M2238 1243h0M2156 1474h0M2173 1342h0M2656 1392h0M2331 1340h0M2472 1293h0M2279 1459h0M2315 1442h0M2218 1229h0M2210 1501h0M2250 1712h0M1788 1332h0M2445 1254h0M2424 1603h0M2315 1635h0M2289 1647h0M2085 1648h0M2504 1519h0M2151 1233h0M2443 1334h0M1771 1477h0M1750 1348h0M2012 1686h0M2401 1586h0M2440 1409h0M2193 1227h0M2164 1711h0M2010 1636h0M2179 1540h0M2424 1720h0M2522 1400h0M2314 1515h0M2226 1362h0M2451 1393h0M2245 1562h0M2064 1679h0M1812 1396h0M2143 1718h0M1949 1560h0M1785 1505h0M2144 1527h0M2298 1391h0M2336 1503h0M2320 1369h0M2493 1389h0M2127 1645h0M2276 1471h0M2642 1400h0M2500 1641h0M2253 1258h0M2253 1617h0M2268 1638h0M2201 1350h0M2240 1460h0M2241 1656h0M1808 1419h0M2262 1282h0M2179 1432h0M2162 1474h0M2257 1201h0M2228 1536h0M1971 1421h0M2344 1385h0M2044 1260h0M1882 1537h0M1843 1457h0M2002 1237h0M2454 1706h0M2477 1415h0M2095 1591h0M2475 1391h0M2514 1337h0M2307 1240h0M2497 1600h0M2390 1544h0M2465 1559h0M2474 1565h0M2324 1721h0M1977 1644h0M1799 1490h0M2510 1378h0M2189 1643h0M2098 1525h0M1914 1651h0M2083 1289h0M2032 1480h0M1858 1496h0M1857 1384h0M1776 1433h0M2066 1694h0M2726 1435h0M2642 1382h0M2109 1503h0M2154 1519h0M2394 1700h0M2181 1436h0M2389 1520h0M1931 1291h0M2253 1458h0M2381 1203h0M1969 1603h0M2258 1567h0M2451 1697h0M2298 1252h0M2332 1342h0M2431 1705h0M2088 1541h0M2438 1659h0M2014 1292h0M1866 1336h0M2321 1643h0M1793 1538h0M2377 1749h0M2118 1323h0M1937 1532h0M2060 1512h0M1913 1235h0M2066 1703h0M2407 1481h0M2307 1677h0M2256 1167h0M2213 1355h0M2332 1601h0M1988 1355h0M2040 1676h0M2419 1337h0M2263 1470h0M2304 1588h0M2249 1281h0M2616 1380h0M2284 1311h0M1940 1375h0M2165 1769h0M2135 1662h0M1863 1579h0M1975 1402h0M2034 1282h0M1921 1366h0M2531 1430h0M1879 1293h0M1807 1311h0M2180 1436h0M2098 1295h0M1872 1576h0M2093 1310h0M2375 1635h0M2467 1353h0M1889 1556h0M2120 1254h0M2161 1515h0M2049 1453h0M1754 1487h0M2097 1420h0M2376 1469h0M2410 1225h0M2246 1501h0M2655 1431h0M2444 1609h0M2401 1378h0M2534 1342h0M1903 1334h0M2267 1229h0M2329 1403h0M2187 1608h0M2501 1303h0M2198 1571h0M2308 1555h0M2386 1307h0M2227 1528h0M2139 1759h0M2488 1520h0M2133 1743h0M2241 1257h0M2127 1665h0M2390 1378h0M1836 1483h0M1864 1361h0M1825 1621h0M2103 1431h0M2428 1661h0M2085 1621h0M1849 1436h0M2202 1312h0M1860 1424h0M1852 1614h0M2099 1695h0M2217 1398h0M2368 1543h0M2092 1499h0M2405 1467h0M2112 1355h0M2335 1484h0M2580 1408h0M1824 1519h0M2337 1226h0M2177 1591h0M2056 1607h0M2153 1243h0M2172 1165h0M2334 1460h0M2254 1204h0M1869 1522h0M2475 1675h0M2295 1718h0M2637 1432h0M2294 1165h0M2258 1564h0M2244 1374h0M2498 1398h0M2267 1515h0M2143 1517h0M2317 1176h0M2527 1384h0M2544 1524h0M2004 1682h0M2388 1475h0M2502 1520h0M2383 1334h0M1824 1515h0M2229 1689h0M1824 1451h0M2137 1545h0M2366 1414h0M2517 1356h0M2271 1653h0M1922 1254h0M2319 1543h0M2262 1537h0M1949 1534h0M1829 1311h0M2025 1726h0M2127 1690h0M1866 1390h0M2000 1665h0M2466 1453h0M2180 1193h0M2253 1190h0M2300 1489h0M2055 1546h0M2081 1585h0M2380 1304h0M2466 1666h0M2407 1535h0M1833 1505h0M2442 1313h0M2313 1639h0M1957 1561h0M2100 1317h0M2488 1534h0M1988 1648h0M2272 1318h0M1954 1506h0M2278 1443h0M1771 1462h0M2103 1591h0M1755 1345h0M2039 1665h0M1855 1358h0M1850 1440h0M2424 1439h0M1874 1416h0M2464 1433h0M2601 1395h0M2061 1498h0M2053 1520h0M2071 1479h0M2342 1596h0M2231 1288h0M2106 1560h0M2352 1499h0M1930 1375h0M2050 1547h0M2040 1440h0M1973 1252h0M2153 1245h0M2377 1300h0M2178 1294h0M2143 1313h0M1833 1436h0M2282 1627h0M2461 1371h0M2194 1325h0M2558 1437h0M2194 1656h0M2396 1303h0M1928 1641h0M1966 1448h0M1814 1479h0M2215 1791h0M2285 1361h0M2489 1365h0M1897 1337h0M2374 1398h0M2046 1527h0M2254 1397h0M2103 1610h0M1829 1504h0M2156 1323h0M2092 1447h0M2136 1503h0M2237 1548h0M2118 1746h0M1794 1374h0M2077 1250h0M2619 1433h0M2454 1424h0M1976 1414h0M1917 1469h0M2420 1281h0M2302 1766h0M2320 1384h0M2253 1573h0M2359 1534h0M1965 1699h0M2093 1696h0M2235 1201h0M2690 1450h0M2568 1380h0M2195 1311h0M2330 1416h0M2405 1192h0M2409 1694h0M2245 1765h0M2206 1209h0M2265 1541h0M1810 1292h0M2215 1200h0M2038 1651h0M2336 1516h0M2133 1632h0M2251 1257h0M1736 1432h0M2346 1784h0M2320 1388h0M2065 1569h0M2098 1540h0M2394 1484h0M2283 1537h0M2302 1689h0M2196 1204h0M1942 1696h0M2068 1213h0M2280 1794h0M2163 1369h0M2188 1655h0M2639 1394h0M1918 1247h0M2361 1462h0M2255 1266h0M2253 1613h0M2439 1391h0M1898 1446h0M1773 1507h0M1819 1483h0M1776 1490h0M2238 1392h0M2019 1562h0M2107 1306h0M2273 1662h0M2223 1601h0M2115 1493h0M1779 1461h0M2578 1358h0M2069 1593h0M2514 1420h0M2375 1398h0M1949 1277h0M2337 1177h0M2159 1446h0M2038 1619h0M2500 1518h0M2283 1431h0M2278 1382h0M2296 1443h0M1939 1364h0M2236 1521h0M1887 1554h0M2343 1301h0M2337 1423h0M2655 1430h0M2363 1532h0M2037 1725h0M2640 1366h0M2341 1527h0M2431 1539h0M1928 1706h0M1974 1482h0M2273 1737h0M1854 1422h0M2078 1638h0M2111 1392h0M2328 1416h0M2123 1608h0M2459 1611h0M2034 1591h0M1815 1578h0M2289 1784h0M1919 1282h0M2340 1755h0M2374 1394h0M1788 1485h0M1874 1510h0M2271 1634h0M2008 1651h0M2279 1358h0M2212 1154h0M2160 1588h0M1955 1686h0M2020 1503h0M1879 1244h0M2465 1300h0M2330 1419h0M2349 1394h0M2186 1754h0M1931 1665h0M1911 1395h0M2329 1301h0M2524 1373h0M2008 1458h0M1979 1307h0M2369 1786h0M2299 1506h0M2420 1497h0M2415 1711h0M2043 1547h0M2094 1540h0M2174 1471h0M1796 1384h0M2082 1232h0M2406 1603h0M1865 1603h0M2153 1491h0M1765 1531h0M1960 1498h0M2175 1412h0M1835 1505h0M2240 1692h0M2410 1566h0M2644 1394h0M2270 1695h0M2539 1466h0M2470 1553h0M2526 1399h0M2451 1407h0M2036 1376h0M1969 1604h0M2325 1321h0M2120 1550h0M2551 1419h0M1770 1398h0M2416 1573h0M1888 1396h0M2557 1376h0M1971 1368h0M1868 1524h0M2510 1287h0M2393 1557h0M2289 1558h0M2543 1364h0M2016 1634h0M2450 1252h0M1825 1306h0M2442 1483h0M2345 1351h0M1843 1344h0M1801 1566h0M2248 1490h0M2365 1291h0M1890 1577h0M2479 1463h0M2061 1608h0M2290 1296h0M1870 1424h0M2126 1416h0M2141 1516h0M2388 1522h0M2348 1230h0M2707 1419h0M2457 1651h0M2513 1404h0M2202 1489h0M2405 1509h0M2196 1534h0M2461 1711h0M2192 1199h0M2199 1260h0M2111 1740h0M2320 1287h0M2368 1415h0M2328 1731h0M2549 1436h0M2012 1288h0M2102 1248h0M2209 1471h0M2316 1692h0M2285 1453h0M2424 1382h0M1978 1483h0M2148 1214h0M1984 1343h0M2016 1291h0M2057 1645h0M2396 1377h0M1940 1541h0M2648 1385h0M1934 1537h0M2153 1387h0M2411 1313h0M1863 1615h0M2000 1302h0M2432 1474h0M1815 1435h0M2336 1374h0M1979 1544h0M1998 1260h0M2048 1534h0M2485 1485h0M2295 1346h0M2515 1325h0M2101 1585h0M2095 1711h0M1912 1448h0M2419 1618h0M2356 1709h0M1818 1433h0M1766 1462h0M1847 1600h0M2087 1440h0M1812 1395h0M2185 1473h0M2408 1381h0M2406 1628h0M2170 1224h0M2351 1390h0M2028 1283h0M2309 1329h0M2069 1276h0M2515 1593h0M2074 1522h0M2223 1340h0M1855 1377h0M2377 1449h0M2338 1547h0M2206 1391h0M2409 1720h0M2027 1508h0M2248 1703h0M2498 1628h0M1773 1442h0M1817 1446h0M2281 1540h0M2143 1616h0M2305 1191h0M2598 1365h0M2533 1364h0M2443 1474h0M1805 1382h0M1824 1325h0M2673 1395h0M2443 1411h0M2293 1621h0M1949 1652h0M1805 1439h0M2063 1617h0M2149 1355h0M1865 1391h0M2146 1228h0M2103 1508h0M2412 1576h0M2242 1476h0M2068 1575h0M2387 1394h0M2593 1326h0M2341 1632h0M2562 1358h0M1992 1677h0M2473 1389h0M2286 1214h0M1931 1420h0M2024 1527h0M2341 1366h0M2331 1752h0M2217 1375h0M2494 1389h0M1972 1570h0M1795 1430h0M2064 1424h0M1977 1304h0M1978 1529h0M2110 1274h0M1950 1567h0M2389 1559h0M2131 1759h0M2258 1250h0M2506 1600h0M2154 1251h0M1863 1396h0M1957 1406h0M2171 1229h0M2145 1399h0M2099 1442h0M2294 1398h0M2197 1619h0M2070 1609h0M1994 1625h0M2718 1395h0M2101 1536h0M2041 1619h0M2038 1417h0M2233 1632h0M2212 1276h0M1844 1493h0M2266 1511h0M2448 1268h0M2167 1326h0M2094 1565h0M2039 1454h0M2362 1218h0M2045 1692h0M2471 1362h0M2369 1638h0M1844 1501h0M1951 1319h0M2176 1412h0M1970 1482h0M2292 1399h0M2346 1453h0M2147 1461h0M1971 1430h0M1775 1543h0M2492 1628h0M2296 1735h0M2411 1438h0M2145 1342h0M2293 1479h0M2561 1296h0M2308 1615h0M1788 1398h0M2509 1266h0M2211 1557h0M1800 1545h0M2394 1564h0M2434 1664h0M2474 1651h0M2121 1732h0M2523 1410h0M1887 1543h0M1788 1463h0M2111 1656h0M2349 1304h0M2011 1254h0M2439 1395h0M2217 1393h0M2577 1343h0M2190 1606h0M2438 1336h0M2257 1211h0M2349 1446h0M2376 1504h0M2312 1304h0M1829 1490h0M1950 1294h0M2373 1318h0M2406 1300h0M1990 1674h0M2415 1540h0M2373 1313h0M1961 1633h0M1965 1301h0M2110 1333h0M2328 1288h0M2438 1405h0M2458 1622h0M2402 1623h0M2044 1404h0M2438 1229h0M2212 1690h0M1784 1496h0M1959 1241h0M2239 1468h0M2100 1226h0M2103 1369h0M2294 1788h0M2280 1608h0M1837 1456h0M2242 1630h0M2303 1343h0M1762 1467h0M2200 1715h0M1912 1363h0M2010 1326h0M2026 1639h0M2237 1740h0M2082 1620h0M2431 1606h0M2051 1534h0M2091 1634h0M1768 1452h0M2273 1674h0M2297 1732h0M2248 1416h0M2467 1493h0M2601 1338h0M2139 1490h0M1957 1316h0M1924 1442h0M2144 1316h0M2059 1405h0M2096 1217h0M1851 1575h0M2304 1187h0M2287 1674h0M2337 1299h0M2480 1631h0M2174 1590h0M2063 1319h0M1867 1262h0M1764 1389h0M2348 1220h0M2160 1241h0M1944 1532h0M2139 1632h0M2231 1530h0M2105 1347h0M2134 1536h0M2408 1369h0M1804 1324h0M2500 1661h0M2125 1354h0M1911 1459h0M2380 1759h0M1817 1399h0M2261 1253h0M2283 1467h0M2393 1580h0M2580 1384h0M2363 1247h0M1870 1606h0M2504 1346h0M1966 1491h0M2070 1397h0M1837 1511h0M2513 1351h0M2259 1324h0M2404 1358h0M2519 1450h0M2054 1540h0M2555 1301h0M2253 1209h0M2500 1295h0M2435 1526h0M2366 1535h0M1999 1441h0M2108 1481h0M1954 1654h0M2259 1609h0M2617 1421h0M2270 1535h0M1919 1527h0M2424 1512h0M1824 1600h0M1990 1716h0M2317 1449h0M1772 1335h0M2317 1637h0M1982 1303h0M2162 1204h0M1932 1338h0M2434 1474h0M2111 1457h0M1780 1418h0M1989 1387h0M2101 1419h0M2351 1295h0M1770 1444h0M2252 1573h0M1938 1627h0M1840 1323h0M2184 1571h0M2126 1333h0M2362 1597h0M2324 1555h0M1898 1572h0M2199 1334h0M2481 1476h0M1838 1507h0M1962 1286h0M2325 1501h0M2093 1461h0M2417 1722h0M2193 1480h0M2497 1246h0M2281 1606h0M2066 1217h0M2099 1572h0M1757 1322h0M2238 1525h0M2143 1700h0M2110 1290h0M2481 1505h0M1956 1556h0M2322 1593h0M2216 1458h0M2331 1654h0M1878 1389h0M2329 1271h0M1920 1413h0M2267 1230h0M1828 1533h0M2026 1412h0M2289 1774h0M2024 1435h0M2167 1175h0M2501 1377h0M2517 1331h0M2191 1457h0M2368 1761h0M2642 1373h0M2526 1515h0M2502 1511h0M1849 1582h0M2717 1403h0M1921 1325h0M2217 1584h0M2271 1415h0M2298 1423h0M2060 1710h0M1996 1561h0M2416 1671h0M2292 1715h0M2350 1225h0M2475 1298h0M2383 1751h0M2175 1604h0M1913 1661h0M1900 1536h0M1931 1619h0M1844 1311h0M2516 1414h0M2220 1572h0M2355 1765h0M2358 1279h0M2254 1556h0M1970 1451h0M2256 1516h0M2394 1347h0M2372 1357h0M2145 1657h0M2016 1537h0M2445 1399h0M2412 1505h0M1900 1529h0M1996 1501h0M1840 1391h0M2399 1540h0M1975 1297h0M1930 1579h0M2134 1654h0M1992 1415h0M1880 1456h0M2394 1603h0M2639 1360h0M1912 1521h0M1771 1225h0M1838 1204h0M1782 1213h0M1847 1206h0M1835 1235h0M1840 1218h0M1809 1226h0M1805 1200h0M1885 1199h0M1767 1269h0M1769 1204h0M1867 1203h0M1818 1250h0M1809 1187h0M1882 1205h0M1789 1248h0M1846 1238h0M1815 1195h0M1770 1217h0M1390 2247h0M1064 2132h0M735 2093h0M1476 2317h0M1018 2165h0M1160 2177h0M1350 2234h0M736 2121h0M902 2229h0M1298 2323h0M1127 2234h0M1061 2132h0M1028 2130h0M714 2108h0M1292 2265h0M1051 2119h0M990 2159h0M966 2111h0M1117 2206h0M906 2209h0M838 2112h0M965 2214h0M897 2189h0M1467 2314h0M872 2105h0M951 2179h0M926 2162h0M1409 2256h0M1478 2314h0M1224 2321h0M820 2120h0M1073 2229h0M933 2150h0M793 2110h0M948 2234h0M923 2216h0M875 2212h0M744 2152h0M1007 2165h0M1062 2217h0M1312 2283h0M986 2151h0M744 2104h0M1045 2162h0M1343 2331h0M1333 2245h0M1334 2207h0M976 2204h0M1287 2255h0M1385 2265h0M1077 2201h0M1336 2259h0M877 2139h0M702 2128h0M1259 2308h0M1279 2294h0M1112 2224h0M1267 2304h0M1159 2284h0M939 2213h0M1140 2155h0M1192 2233h0M1317 2325h0M1077 2160h0M1189 2176h0M1482 2253h0M1144 2195h0M1181 2186h0M1301 2251h0M674 2122h0M1190 2203h0M1382 2231h0M1182 2250h0M1442 2308h0M1230 2205h0M1258 2257h0M1115 2212h0M1167 2208h0M1395 2281h0M1426 2221h0M1256 2274h0M1183 2298h0M1180 2287h0M886 2240h0M910 2233h0M1388 2223h0M1003 2212h0M1264 2301h0M1281 2293h0M815 2176h0M1252 2201h0M940 2180h0M1435 2256h0M1128 2185h0M1211 2188h0M1418 2320h0M1357 2296h0M819 2147h0M928 2167h0M1490 2310h0M1015 2104h0M1204 2153h0M1025 2184h0M862 2193h0M1320 2251h0M1150 2167h0M1408 2245h0M901 2202h0M1118 2162h0M1021 2165h0M1397 2236h0M1412 2313h0M1020 2150h0M694 2154h0M1233 2236h0M934 2109h0M1046 2235h0M1489 2256h0M1244 2186h0M1232 2218h0M1260 2216h0M1439 2304h0M1308 2299h0M1028 2176h0M1169 2280h0M721 2121h0M1293 2298h0M1218 2211h0M912 2224h0M1359 2304h0M679 2136h0M1331 2299h0M1262 2294h0M910 2150h0M1004 2132h0M877 2182h0M1016 2141h0M1267 2248h0M1058 2213h0M1460 2303h0M1431 2307h0M999 2154h0M1493 2317h0M1258 2262h0M1037 2243h0M1184 2286h0M901 2128h0M867 2177h0M1362 2259h0M911 2141h0M1292 2292h0M1396 2289h0M861 2101h0M1295 2207h0M1057 2129h0M1440 2250h0M1065 2146h0M1371 2252h0M1381 2247h0M1068 2154h0M1167 2198h0M1266 2315h0M959 2154h0M898 2159h0M762 2137h0M1211 2230h0M1424 2318h0M815 2121h0M877 2168h0M681 2135h0M825 2132h0M1002 2125h0M1287 2213h0M1215 2215h0M987 2088h0M999 2198h0M1377 2219h0M1430 2227h0M1212 2259h0M1058 2184h0M1130 2187h0M1202 2251h0M928 2119h0M1021 2177h0M1216 2173h0M1499 2315h0M828 2173h0M1277 2204h0M742 2137h0M1227 2245h0M1110 2213h0M1273 2206h0M1201 2279h0M1169 2185h0M1482 2252h0M1145 2262h0M1035 2138h0M1172 2280h0M1216 2310h0M1122 2168h0M1233 2252h0M1277 2248h0M1326 2327h0M1433 2334h0M1232 2300h0M1219 2179h0M1236 2282h0M1462 2284h0M979 2159h0M1375 2235h0M1297 2337h0M987 2114h0M1281 2306h0M927 2178h0M1291 2319h0M856 2169h0M883 2142h0M1560 2313h0M1113 2261h0M1003 2137h0M1307 2305h0M958 2121h0M1436 2247h0M1155 2194h0M1438 2291h0M1171 2142h0M1352 2279h0M1234 2224h0M1160 2259h0M1235 2240h0M1301 2203h0M1196 2169h0M1432 2256h0M1198 2213h0M934 2211h0M1114 2174h0M1307 2312h0M1324 2328h0M1275 2307h0M976 2140h0M1153 2175h0M1427 2307h0M1193 2177h0M1412 2308h0M1454 2315h0M1025 2115h0M1379 2278h0M1370 2232h0M980 2097h0M1037 2267h0M1470 2302h0M750 2127h0M1225 2252h0M1514 2281h0M1228 2269h0M1474 2290h0M872 2102h0M1078 2189h0M1341 2293h0M1266 2322h0M1313 2264h0M1284 2195h0M1254 2201h0M1023 2220h0M884 2127h0M809 2094h0M770 2148h0M1234 2193h0M719 2123h0M1038 2242h0M1153 2198h0M1069 2152h0M1378 2324h0M1512 2306h0M1352 2272h0M1477 2279h0M891 2121h0M756 2135h0M885 2127h0M1457 2259h0M1029 2216h0M1055 2109h0M1479 2290h0M995 2101h0M920 2191h0M1136 2155h0M1153 2218h0M1077 2161h0M1336 2322h0M1315 2275h0M864 2116h0M1231 2205h0M969 2110h0M966 2115h0M1022 2116h0M989 2151h0M943 2230h0M856 2214h0M777 2168h0M1107 2214h0M1002 2203h0M1362 2331h0M1030 2246h0M949 2216h0M1052 2125h0M1236 2305h0M1066 2190h0M1067 2257h0M1276 2312h0M1413 2221h0M1151 2139h0M1440 2297h0M1425 2290h0M1413 2320h0M974 2112h0M1328 2279h0M1221 2266h0M894 2185h0M1088 2239h0M1325 2302h0M1363 2241h0M1353 2238h0M1031 2179h0M1270 2290h0M1468 2303h0M998 2128h0M1236 2198h0M847 2091h0M1343 2230h0M956 2117h0M1330 2258h0M1334 2227h0M1413 2340h0M1427 2304h0M1311 2338h0M1007 2149h0M836 2176h0M1047 2218h0M990 2175h0M1110 2192h0M1032 2151h0M993 2167h0M1191 2219h0M713 2155h0M1026 2122h0M862 2125h0M951 2132h0M1331 2238h0M1347 2313h0M990 2104h0M1395 2324h0M1316 2318h0M1155 2263h0M840 2131h0M860 2210h0M816 2130h0M1267 2298h0M1452 2278h0M1146 2215h0M942 2165h0M1122 2128h0M1281 2316h0M1372 2212h0M1155 2237h0M984 2119h0M743 2154h0M1055 2161h0M1280 2297h0M1223 2193h0M1144 2156h0M1395 2260h0M1458 2284h0M1188 2180h0M1509 2277h0M1353 2244h0M1568 2309h0M1175 2190h0M911 2233h0M982 2180h0M1301 2221h0M1245 2245h0M1354 2224h0M1398 2274h0M1569 2303h0M1326 2267h0M974 2142h0M1309 2252h0M1046 2258h0M914 2210h0M838 2096h0M1021 2241h0M1218 2276h0M985 2118h0M1143 2212h0M1088 2135h0M1323 2287h0M1434 2337h0M1522 2317h0M1063 2189h0M1334 2312h0M1387 2253h0M1067 2237h0M744 2117h0M1266 2316h0M1132 2262h0M1122 2146h0M849 2172h0M746 2086h0M918 2152h0M1450 2250h0M1010 2120h0M1039 2249h0M928 2108h0M890 2194h0M1203 2274h0M885 2183h0M1109 2258h0M1017 2098h0M843 2149h0M1144 2178h0M1344 2322h0M1126 2211h0M773 2187h0M724 2173h0M882 2172h0M1461 2238h0M1421 2227h0M980 2136h0M1282 2221h0M824 2206h0M989 2207h0M951 2108h0M871 2156h0M902 2163h0M910 2146h0M1115 2211h0M1042 2170h0M1365 2209h0M1225 2278h0M990 2218h0M1103 2247h0M920 2205h0M1224 2305h0M1331 2296h0M1083 2236h0M1336 2258h0M1253 2283h0M993 2163h0M1129 2151h0M1019 2103h0M1318 2256h0M827 2153h0M1133 2223h0M1186 2211h0M1205 2192h0M826 2110h0M1174 2169h0M1275 2250h0M1217 2299h0M1137 2211h0M912 2168h0M1138 2211h0M1278 2314h0M1209 2182h0M1099 2133h0M919 2137h0M1089 2187h0M1144 2279h0M1180 2250h0M1181 2173h0M1017 2143h0M1160 2167h0M1055 2252h0M995 2138h0M1162 2197h0M1502 2298h0M1154 2176h0M1175 2269h0M1340 2204h0M1150 2277h0M1340 2305h0M1217 2281h0M1405 2245h0M1115 2223h0M1466 2263h0M986 2236h0M1415 2258h0M736 2138h0M1137 2248h0M1275 2325h0M1228 2267h0M1070 2241h0M1370 2229h0M906 2208h0M1413 2327h0M1274 2234h0M694 2152h0M914 2147h0M1429 2248h0M939 2198h0M1334 2294h0M1302 2287h0M1013 2119h0M1309 2255h0M835 2095h0M1340 2281h0M1316 2226h0M833 2178h0M1261 2229h0M922 2152h0M1142 2237h0M1464 2297h0M1085 2219h0M1156 2179h0M1032 2141h0M1336 2247h0M1212 2236h0M1156 2230h0M1148 2265h0M1481 2276h0M1188 2282h0M984 2231h0M1030 2175h0M909 2191h0M888 2147h0M1138 2210h0M712 2122h0M861 2148h0M896 2210h0M1387 2235h0M1411 2247h0M883 2174h0M1189 2296h0M1064 2267h0M1482 2270h0M1009 2220h0M1472 2285h0M1030 2100h0M1410 2315h0M905 2194h0M1283 2255h0M1402 2266h0M1131 2249h0M1257 2200h0M741 2086h0M1293 2208h0M1115 2193h0M1099 2156h0M1251 2246h0M1198 2165h0M970 2186h0M1095 2234h0M1030 2204h0M1310 2256h0M1050 2187h0M1446 2311h0M1080 2201h0M1427 2263h0M959 2108h0M1119 2193h0M1189 2228h0M1384 2308h0M1438 2286h0M1419 2331h0M1057 2150h0M926 2127h0M1356 2280h0M1003 2175h0M1342 2219h0M1299 2316h0M1025 2203h0M1229 2198h0M1285 2188h0M1000 2111h0M1145 2152h0M1455 2307h0M1036 2195h0M1410 2310h0M1212 2186h0M977 2150h0M1026 2209h0M1137 2277h0M935 2208h0M1277 2195h0M1415 2234h0M1033 2231h0M893 2198h0M1183 2228h0M1341 2218h0M1356 2244h0M1167 2250h0M1172 2237h0M714 2162h0M915 2165h0M1128 2252h0M1057 2183h0M806 2123h0M894 2210h0M751 2132h0M1233 2203h0M1553 2304h0M1347 2264h0M680 2130h0M727 2095h0M1031 2162h0M1043 2104h0M792 2110h0M1284 2318h0M950 2238h0M1211 2181h0M1172 2189h0M1261 2218h0M1476 2316h0M1317 2244h0M700 2133h0M743 2150h0M1023 2195h0M834 2144h0M1088 2221h0M1313 2257h0M1145 2227h0M1403 2313h0M1360 2310h0M840 2115h0M794 2163h0M777 2127h0M1272 2283h0M1053 2193h0M895 2190h0M1192 2289h0M1022 2099h0M1121 2267h0M994 2092h0M840 2218h0M1423 2311h0M1253 2305h0M1200 2227h0M1082 2150h0M1177 2274h0M930 2189h0M679 2119h0M1198 2222h0M941 2133h0M1327 2313h0M1400 2262h0M959 2242h0M1095 2198h0M1359 2244h0M790 2126h0M838 2183h0M1443 2307h0M1177 2270h0M1435 2285h0M1206 2276h0M1218 2228h0M1473 2313h0M1021 2173h0M1028 2202h0M1393 2215h0M1248 2280h0M1191 2158h0M1157 2225h0M905 2196h0M1526 2288h0M1408 2309h0M956 2131h0M1062 2206h0M1071 2218h0M1089 2133h0M1083 2182h0M973 2118h0M1025 2187h0M1508 2309h0M924 2189h0M1026 2252h0M913 2227h0M1273 2282h0M1241 2243h0M862 2135h0M1395 2327h0M1441 2273h0M822 2136h0M1144 2202h0M1185 2285h0M1349 2263h0M1314 2270h0M1522 2305h0M1098 2189h0M1058 2137h0M1094 2220h0M967 2129h0M848 2157h0M893 2156h0M768 2153h0M1191 2282h0M1222 2186h0M863 2100h0M1075 2208h0M918 2229h0M1514 2281h0M1072 2227h0M1433 2261h0M1350 2259h0M1032 2246h0M1276 2275h0M773 2172h0M1002 2148h0M1322 2263h0M1196 2209h0M1284 2249h0M1129 2282h0M1175 2198h0M1397 2236h0M1259 2207h0M996 2186h0M964 2213h0M1404 2304h0M1298 2309h0M1122 2130h0M921 2113h0M1323 2339h0M1308 2307h0M1496 2306h0M1012 2217h0M833 2138h0M879 2128h0M1280 2316h0M1303 2269h0M1359 2249h0M678 2118h0M1177 2239h0M816 2142h0M1184 2226h0M733 2126h0M949 2225h0M1490 2296h0M1011 2179h0M1231 2253h0M1198 2223h0M757 2147h0M1166 2286h0M1038 2163h0M1337 2295h0M1422 2284h0M790 2099h0M1132 2244h0M1332 2242h0M1264 2183h0M821 2204h0M1321 2335h0M685 2135h0M1151 2270h0M1334 2332h0M1496 2289h0M1132 2236h0M892 2170h0M912 2213h0M971 2246h0M1449 2294h0M1287 2194h0M1158 2198h0M1402 2245h0M951 2113h0M1007 2104h0M1332 2303h0M1074 2255h0M1489 2247h0M972 2109h0M1388 2298h0M1311 2273h0M1299 2289h0M997 2097h0M1047 2130h0M1263 2282h0M721 2152h0M1088 2195h0M1443 2302h0M1332 2331h0M1206 2186h0M1292 2249h0M949 2210h0M1309 2260h0M1128 2253h0M1006 2152h0M718 2125h0M996 2111h0M1422 2303h0M804 2132h0M848 2113h0M857 2142h0M1041 2230h0M1068 2165h0M885 2194h0M713 2155h0M915 2136h0M1230 2274h0M1268 2211h0M832 2150h0M892 2181h0M1098 2135h0M1129 2186h0M936 2111h0M1425 2219h0M994 2197h0M945 2089h0M1317 2199h0M1323 2241h0M1122 2274h0M1086 2213h0M1034 2143h0M1102 2168h0M1008 2205h0M909 2165h0M1341 2252h0M1073 2139h0M1017 2242h0M993 2248h0M1204 2240h0M1062 2189h0M1067 2254h0M1516 2282h0M1353 2246h0M1314 2278h0M1378 2219h0M1575 2302h0M1234 2222h0M943 2142h0M1353 2285h0M1013 2135h0M752 2154h0M1036 2113h0M984 2153h0M1145 2217h0M1059 2195h0M1123 2237h0M1385 2324h0M1224 2239h0M1164 2192h0M1466 2298h0M839 2156h0M1406 2241h0M1377 2281h0M811 2099h0M728 2159h0M1244 2192h0M1369 2240h0M1163 2283h0M1047 2202h0M701 2129h0M1299 2336h0M1250 2209h0M1372 2206h0M1046 2159h0M1218 2203h0M1434 2319h0M763 2167h0M1177 2301h0M917 2138h0M892 2213h0M1193 2245h0M1332 2240h0M1235 2231h0M978 2166h0M1376 2229h0M1354 2329h0M1197 2228h0M1183 2257h0M1266 2255h0M1286 2232h0M1040 2235h0M1272 2324h0M1440 2278h0M1345 2319h0M1001 2235h0M1034 2136h0M808 2081h0M894 2196h0M1489 2294h0M1255 2269h0M1027 2137h0M990 2184h0M1071 2242h0M1024 2204h0M1066 2228h0M1057 2212h0M1192 2251h0M1122 2215h0M903 2213h0M876 2208h0M947 2238h0M1341 2300h0M1279 2313h0M959 2229h0M1069 2140h0M1450 2311h0M1194 2309h0M1346 2294h0M879 2152h0M1354 2326h0M1188 2187h0M1389 2323h0M1395 2272h0M1081 2258h0M1031 2212h0M1286 2272h0M1023 2198h0M756 2128h0M941 2194h0M1422 2260h0M1384 2338h0M915 2163h0M1193 2157h0M936 2124h0M938 2128h0M716 2115h0M1209 2283h0M796 2089h0M1152 2293h0M870 2193h0M1083 2258h0M1277 2325h0M774 2167h0M728 2135h0M1439 2281h0M783 2182h0M1308 2288h0M1511 2296h0M1145 2253h0M1097 2246h0M1401 2214h0M1332 2268h0M967 2112h0M1419 2323h0M1000 2212h0M1291 2256h0M966 2102h0M963 2220h0M712 2093h0M1309 2252h0M1186 2226h0M1432 2276h0M1338 2261h0M1244 2280h0M1212 2233h0M1007 2115h0M1248 2268h0M980 2168h0M1190 2234h0M997 2100h0M1418 2249h0M815 2117h0M1042 2112h0M1368 2329h0M870 2159h0M882 2202h0M773 2167h0M928 2102h0M1060 2134h0M1153 2198h0M1505 2286h0M1307 2212h0M1054 2140h0M983 2224h0M818 2194h0M1502 2292h0M1080 2156h0M1214 2196h0M1021 2120h0M1475 2261h0M773 2120h0M831 2128h0M896 2215h0M966 2126h0M1410 2291h0M1026 2173h0M1309 2239h0M1255 2283h0M1022 2109h0M1260 2289h0M1207 2248h0M1309 2223h0M932 2242h0M1179 2185h0M1297 2202h0M1480 2295h0M1038 2234h0M1211 2277h0M1399 2267h0M967 2154h0M1021 2147h0M1195 2250h0M1329 2291h0M1043 2184h0M839 2110h0M1450 2250h0M907 2105h0M1252 2285h0M1143 2216h0M1168 2245h0M1306 2275h0M1206 2212h0M1080 2185h0M1000 2191h0M736 2157h0M1142 2148h0M1148 2263h0M1189 2193h0M1202 2246h0M1264 2188h0M1186 2266h0M1115 2212h0M924 2153h0M1076 2118h0M1393 2216h0M1010 2103h0M1095 2194h0M1187 2189h0M1316 2240h0M1184 2163h0M1176 2234h0M1194 2309h0M804 2128h0M1209 2281h0M1415 2320h0M1202 2260h0M1206 2256h0M1101 2217h0M1180 2149h0M1267 2223h0M985 2167h0M1077 2153h0M1200 2202h0M1285 2196h0M1403 2289h0M1052 2134h0M1482 2260h0M1264 2254h0M1266 2237h0M1216 2273h0M1223 2227h0M936 2207h0M1380 2243h0M1379 2224h0M1142 2221h0M973 2184h0M1224 2266h0M1222 2201h0M1030 2175h0M894 2106h0M825 2162h0M1004 2186h0M1300 2334h0M1241 2171h0M1421 2254h0M733 2119h0M999 2117h0M1333 2342h0M972 2174h0M1438 2309h0M1206 2164h0M1193 2272h0M1252 2187h0M1126 2262h0M1214 2162h0M972 2123h0M1469 2306h0M1317 2295h0M1345 2253h0M1151 2160h0M1036 2154h0M947 2222h0M1288 2235h0M877 2151h0M809 2107h0M912 2202h0M864 2105h0M828 2155h0M1384 2227h0M992 2124h0M1115 2157h0M1188 2152h0M1414 2296h0M1047 2130h0M1266 2191h0M1410 2235h0M1341 2336h0M1429 2246h0M1064 2160h0M936 2117h0M711 2110h0M879 2122h0M983 2177h0M831 2148h0M1110 2254h0M1354 2263h0M1264 2209h0M877 2196h0M980 2104h0M1089 2182h0M1251 2238h0M1054 2214h0M1145 2181h0M1278 2288h0M1003 2113h0M885 2131h0M1329 2302h0M947 2226h0M753 2106h0M1387 2311h0M1258 2253h0M896 2231h0M1401 2296h0M950 2164h0M1327 2305h0M1216 2177h0M1165 2212h0M1242 2261h0M1026 2116h0M683 2155h0M1171 2151h0M1010 2102h0M1039 2264h0M1210 2316h0M1433 2241h0M1137 2167h0M1367 2238h0M1355 2309h0M1116 2268h0M1228 2238h0M760 2171h0M1063 2190h0M1327 2261h0M1252 2257h0M730 2133h0M889 2194h0M1232 2236h0M950 2098h0M1314 2284h0M1448 2319h0M841 2151h0M1021 2135h0M733 2098h0M1143 2218h0M849 2093h0M1480 2318h0M824 2191h0M1348 2287h0M1183 2290h0M729 2103h0M918 2205h0M1072 2238h0M1191 2231h0M712 2156h0M1128 2228h0M1384 2294h0M715 2104h0M1290 2325h0M1298 2205h0M933 2097h0M1345 2227h0M1366 2207h0M989 2227h0M1169 2293h0M1043 2211h0M1437 2328h0M836 2202h0M1171 2183h0M1008 2150h0M1335 2264h0M741 2142h0M861 2170h0M1533 2306h0M995 2146h0M1136 2161h0M1166 2145h0M1433 2278h0M1527 2289h0M798 2109h0M696 2163h0M1407 2235h0M1194 2154h0M1082 2180h0M1148 2171h0M1383 2336h0M901 2210h0M1358 2213h0M863 2097h0M862 2167h0M892 2162h0M1307 2266h0M816 2101h0M1010 2222h0M1437 2294h0M876 2126h0M717 2122h0M1444 2291h0M1318 2275h0M1301 2236h0M806 2086h0M1389 2304h0M1351 2316h0M738 2131h0M1075 2125h0M994 2126h0M831 2107h0M1027 2104h0M1025 2190h0M802 2092h0M1079 2166h0M1287 2196h0M1339 2278h0M1265 2238h0M1038 2251h0M712 2122h0M1238 2294h0M1265 2202h0M1152 2201h0M892 2131h0M1131 2257h0M838 2188h0M1301 2269h0M1225 2262h0M1040 2105h0M1165 2212h0M1152 2261h0M1062 2147h0M1360 2221h0M1277 2270h0M677 2156h0M952 2178h0M1092 2219h0M929 2097h0M1156 2237h0M913 2134h0M961 2099h0M1295 2246h0M1069 2256h0M939 2096h0M1154 2187h0M1444 2244h0M665 2130h0M784 2160h0M1003 2090h0M1129 2251h0M1375 2263h0M1048 2124h0M1186 2277h0M1485 2251h0M1306 2231h0M935 2106h0M1400 2313h0M1267 2329h0M1276 2280h0M990 2222h0M1286 2297h0M1206 2195h0M1067 2220h0M1032 2213h0M1193 2223h0M1077 2240h0M991 2194h0M1511 2273h0M1382 2263h0M1030 2124h0M1116 2200h0M1173 2246h0M1164 2233h0M834 2184h0M873 2196h0M988 2149h0M1080 2206h0M1142 2284h0M1099 2256h0M1282 2243h0M1358 2318h0M1297 2269h0M867 2086h0M809 2175h0M1054 2223h0M1346 2247h0M1243 2253h0M1368 2228h0M1323 2213h0M1300 2320h0M1268 2304h0M773 2173h0M1168 2256h0M1002 2223h0M1395 2259h0M1292 2226h0M1361 2299h0M891 2181h0M978 2099h0M1139 2167h0M731 2147h0M1466 2249h0M1136 2244h0M1235 2307h0M1240 2291h0M997 2119h0M1185 2293h0M999 2107h0M1238 2293h0M1218 2196h0M1212 2233h0M1239 2277h0M676 2104h0M871 2169h0M1339 2234h0M1010 2120h0M1275 2248h0M1141 2233h0M1392 2299h0M1097 2182h0M697 2115h0M965 2128h0M1054 2266h0M923 2149h0M1054 2223h0M990 2094h0M1321 2238h0M952 2203h0M1116 2217h0M1256 2288h0M996 2207h0M1269 2214h0M1230 2185h0M1225 2237h0M970 2130h0M1096 2155h0M1017 2255h0M1160 2190h0M948 2219h0M996 2135h0M1382 2232h0M1359 2325h0M1091 2152h0M1367 2285h0M1277 2319h0M1115 2136h0M1281 2199h0M1324 2261h0M1100 2178h0M1099 2259h0M988 2150h0M916 2192h0M1138 2273h0M1160 2241h0M984 2168h0M1041 2243h0M1098 2143h0M1049 2225h0M946 2112h0M1267 2271h0M1134 2134h0M1090 2196h0M886 2160h0M1360 2268h0M1239 2213h0M1082 2213h0M970 2124h0M1221 2218h0M1057 2151h0M1320 2267h0M987 2156h0M1390 2280h0M821 2153h0M1284 2191h0M874 2175h0M1228 2247h0M1012 2161h0M1097 2178h0M1216 2300h0M1206 2173h0M887 2134h0M1071 2157h0M767 2094h0M1075 2167h0M1376 2217h0M1434 2283h0M1354 2330h0M884 2086h0M1429 2311h0M1085 2150h0M1078 2178h0M1065 2177h0M1346 2311h0M1285 2300h0M934 2105h0M1265 2223h0M919 2094h0M881 2136h0M1211 2226h0M1165 2237h0M698 2129h0M1051 2146h0M1106 2193h0M1207 2305h0M1033 2115h0M1078 2155h0M1180 2307h0M1528 2291h0M1423 2239h0M1086 2202h0M1140 2151h0M668 2137h0M1144 2185h0M1205 2184h0M1010 2180h0M1446 2309h0M727 2138h0M1211 2163h0M1282 2213h0M958 2194h0M1445 2257h0M1503 2316h0M984 2208h0M978 2109h0M1285 2243h0M935 2093h0M1188 2195h0M915 2119h0M1094 2168h0M877 2169h0M944 2176h0M1033 2211h0M1470 2295h0M886 2204h0M1565 2304h0M1033 2218h0M994 2242h0M729 2168h0M1327 2217h0M717 2094h0M840 2104h0M893 2240h0M1128 2166h0M1331 2321h0M1470 2307h0M1252 2276h0M3087 1543h0M3094 1546h0M3147 1579h0M3180 1593h0M3176 1566h0M3186 1572h0M3206 1572h0M3215 1579h0M3246 1550h0M3224 1600h0M3229 1628h0M3255 1663h0M3257 1675h0M3265 1675h0M3264 1704h0M3264 1716h0M3284 1718h0M3297 1680h0M3303 1673h0M3317 1676h0M3321 1692h0M3348 1756h0M3364 1735h0M3310 1643h0M3366 1650h0M3357 1682h0M3324 1631h0M3297 1607h0M3260 1539h0M3314 1536h0M3361 1564h0M3255 1576h0M3253 1569h0M3267 1569h0M3322 1660h0M3310 1744h0M3276 1712h0M3200 1562h0M3196 1590h0M2892 2407h0M2922 2369h0M2889 2383h0M2961 2376h0M2960 2420h0M3021 2392h0M3090 2383h0M3092 2392h0M3115 2402h0M3104 2392h0M3124 2398h0M3144 2382h0M3159 2380h0M3177 2378h0M3177 2387h0M3198 2369h0M1550 2300h0M1562 2308h0M2471 1823h0M2640 1508h0M2605 1504h0M2629 1471h0M2669 1479h0"/>
<path stroke="#b5367a" d="M1945 861h0M1162 646h0M1579 484h0M1853 673h0M1376 506h0M1727 674h0M1407 655h0M1234 641h0M2143 717h0M1683 783h0M1725 755h0M1149 857h0M1989 824h0M1661 464h0M1390 747h0M1379 544h0M1704 672h0M1338 747h0M1941 635h0M1950 601h0M1701 585h0M1587 785h0M1436 761h0M1585 487h0M1394 693h0M1894 793h0M1586 854h0M1470 471h0M1994 525h0M1602 707h0M1323 568h0M1205 558h0M1803 689h0M1653 659h0M1226 709h0M1157 584h0M1525 483h0M1714 833h0M1927 633h0M1813 607h0M1762 767h0M1554 768h0M1378 547h0M1508 528h0M1445 701h0M2117 614h0M1333 511h0M1103 763h0M1249 584h0M1085 794h0M1702 751h0M1285 641h0M1683 495h0M1375 687h0M1191 557h0M1870 583h0M1339 525h0M1638 888h0M1765 894h0M1890 710h0M1592 533h0M1372 551h0M1387 511h0M1578 469h0M2063 613h0M1176 757h0M1861 594h0M1919 589h0M1162 566h0M1218 612h0M1336 603h0M1883 692h0M1832 921h0M2010 605h0M1871 787h0M1424 517h0M1246 676h0M1798 770h0M1615 786h0M1227 573h0M1567 507h0M1748 791h0M1752 762h0M1542 686h0M1648 652h0M1575 846h0M1290 571h0M1629 498h0M2129 757h0M1510 808h0M1822 507h0M1852 739h0M1232 546h0M1124 798h0M1801 846h0M1665 688h0M1034 772h0M1330 669h0M1323 641h0M1608 445h0M1922 802h0M1648 741h0M1878 902h0M1575 769h0M1610 422h0M1363 631h0M1538 832h0M2061 637h0M1985 813h0M1733 624h0M1637 691h0M1460 839h0M1225 621h0M1583 759h0M1627 760h0M1468 611h0M1388 646h0M1415 579h0M1344 570h0M1443 689h0M1263 521h0M1939 572h0M1822 822h0M1071 865h0M1482 582h0M1437 819h0M1337 650h0M1154 653h0M1124 777h0M1611 669h0M1440 545h0M1845 515h0M1687 493h0M1887 708h0M2021 631h0M2040 856h0M1657 493h0M1482 585h0M1719 826h0M1747 769h0M1326 485h0M1835 595h0M1498 770h0M1239 586h0M1490 654h0M1464 813h0M1652 770h0M1345 779h0M1703 534h0M1532 729h0M1506 719h0M2157 687h0M1229 521h0M2063 533h0M1144 733h0M1250 786h0M1794 627h0M2001 511h0M1458 506h0M1415 630h0M1394 744h0M1601 488h0M1782 530h0M1977 739h0M1779 735h0M2069 702h0M1320 512h0M1614 879h0M1459 452h0M2025 900h0M2000 695h0M1686 480h0M2055 831h0M2066 703h0M1752 859h0M1393 563h0M1417 736h0M1535 645h0M1518 708h0M1994 598h0M1089 867h0M1870 501h0M1960 922h0M1687 666h0M1033 716h0M1491 662h0M1840 704h0M1331 587h0M2016 779h0M1849 768h0M2134 710h0M1303 768h0M1872 723h0M1518 739h0M1479 717h0M1298 625h0M1683 563h0M1982 636h0M1542 715h0M1615 864h0M1640 502h0M1773 519h0M2123 621h0M1754 845h0M1220 604h0M1648 497h0M2091 743h0M1421 494h0M1466 537h0M1828 796h0M1150 606h0M1424 583h0M1686 782h0M1726 743h0M1898 578h0M1480 598h0M1339 518h0M1822 725h0M1484 781h0M1060 853h0M2065 638h0M1341 678h0M1746 901h0M1420 552h0M1295 538h0M1791 860h0M1579 550h0M1311 622h0M1401 830h0M1576 773h0M1805 729h0M1349 580h0M1709 696h0M1081 673h0M1385 541h0M2046 546h0M1161 718h0M1892 546h0M1335 762h0M1831 515h0M1224 693h0M1841 618h0M1793 819h0M1588 657h0M1408 746h0M1531 586h0M1439 500h0M1481 448h0M1656 435h0M2006 827h0M1811 720h0M1495 777h0M1135 658h0M1163 774h0M1832 775h0M1261 594h0M1630 853h0M1600 661h0M1731 843h0M1889 778h0M1332 579h0M1460 694h0M1301 705h0M2084 737h0M1764 568h0M1683 653h0M1991 607h0M1057 742h0M1252 525h0M1229 743h0M1868 675h0M1966 577h0M1848 657h0M1374 526h0M2035 886h0M1719 698h0M1446 526h0M1925 809h0M1639 651h0M1629 878h0M1639 561h0M1602 835h0M1504 858h0M1738 885h0M1426 554h0M1479 728h0M1805 764h0M1986 894h0M1914 857h0M1972 654h0M1706 826h0M1420 738h0M1836 838h0M1066 849h0M1564 497h0M1891 551h0M1764 649h0M1961 638h0M1088 790h0M1752 904h0M1844 665h0M2042 713h0M1825 775h0M1684 886h0M1425 625h0M1501 664h0M1893 665h0M1333 695h0M1034 758h0M1840 848h0M1618 450h0M1305 740h0M1743 871h0M1946 874h0M1314 631h0M1931 756h0M1757 602h0M1696 909h0M1386 651h0M2048 572h0M1943 921h0M1775 840h0M1216 744h0M1577 805h0M1510 526h0M1513 679h0M1948 705h0M1749 489h0M1107 791h0M1158 654h0M1930 944h0M1422 499h0M1671 745h0M1792 587h0M1629 839h0M2044 732h0M2028 585h0M1541 649h0M1897 556h0M1917 520h0M1332 658h0M1842 610h0M1202 614h0M1877 625h0M1346 731h0M1275 760h0M1864 856h0M1437 459h0M1570 730h0M1536 513h0M1119 811h0M1528 804h0M2001 837h0M1502 706h0M1694 698h0M1948 639h0M1779 887h0M1480 563h0M1236 731h0M1676 739h0M1708 603h0M1977 764h0M1948 699h0M1222 683h0M1129 652h0M1278 514h0M1458 583h0M2152 782h0M1511 469h0M1732 738h0M1790 665h0M1550 495h0M1144 815h0M1684 552h0M1502 753h0M1832 932h0M1767 591h0M2002 751h0M1560 831h0M1403 501h0M1520 610h0M1759 708h0M1734 834h0M1086 775h0M1396 791h0M1170 648h0M1748 728h0M1938 581h0M1741 805h0M1662 831h0M1307 698h0M1136 652h0M1213 571h0M1462 597h0M1908 906h0M2007 518h0M1249 693h0M2078 716h0M1301 596h0M1469 749h0M1938 609h0M1124 677h0M1366 655h0M1985 628h0M1745 884h0M1492 742h0M1889 931h0M1127 818h0M1745 649h0M1794 835h0M2161 680h0M1808 693h0M1261 742h0M2092 556h0M1403 625h0M1539 807h0M1866 946h0M1477 805h0M1253 683h0M1196 717h0M1881 790h0M1654 764h0M1764 525h0M1809 747h0M1812 931h0M1578 704h0M1318 573h0M1993 713h0M1645 705h0M1414 728h0M1344 467h0M1442 587h0M1521 559h0M1745 790h0M1222 779h0M1296 724h0M1513 522h0M2115 735h0M1584 814h0M1483 802h0M1335 643h0M1384 789h0M1698 618h0M1902 931h0M1963 893h0M1624 630h0M1759 559h0M1696 894h0M1684 693h0M1371 509h0M1883 809h0M1511 669h0M1667 632h0M1200 775h0M1977 767h0M1845 795h0M1567 784h0M1156 884h0M1712 912h0M1173 769h0M1167 782h0M1783 751h0M1760 708h0M2168 591h0M1418 505h0M1185 640h0M1528 596h0M1732 717h0M1473 686h0M1623 698h0M1140 603h0M1695 466h0M1963 614h0M1293 733h0M1635 658h0M1221 739h0M1617 869h0M2090 615h0M1307 610h0M1504 541h0M1072 848h0M1400 647h0M2049 812h0M1832 768h0M1355 766h0M1399 610h0M1400 523h0M1722 853h0M1825 603h0M1814 847h0M1614 450h0M1694 803h0M1367 751h0M1581 507h0M1441 586h0M1225 699h0M2102 781h0M2164 700h0M1487 680h0M1642 837h0M1708 494h0M1653 830h0M1423 548h0M1709 787h0M1770 521h0M1555 544h0M1444 745h0M1827 485h0M1879 848h0M1108 717h0M1131 845h0M1787 907h0M1926 621h0M1538 684h0M1636 452h0M1494 665h0M1435 596h0M1516 738h0M1705 828h0M1881 729h0M1468 541h0M1450 645h0M1634 644h0M1636 889h0M2101 598h0M1921 542h0M1458 737h0M1808 622h0M1812 589h0M1842 602h0M1851 620h0M1559 780h0M1121 663h0M1953 883h0M1593 872h0M1703 635h0M1894 920h0M1709 849h0M1352 574h0M1878 816h0M1506 596h0M1975 732h0M1990 619h0M1629 825h0M1747 752h0M1895 733h0M1323 626h0M1783 549h0M2014 666h0M1317 669h0M1259 571h0M2083 545h0M1222 767h0M1701 915h0M1878 577h0M1171 751h0M1771 869h0M1346 669h0M1538 673h0M1138 679h0M1527 521h0M2177 683h0M1296 505h0M1928 651h0M1858 887h0M2103 789h0M1445 695h0M1797 632h0M1451 737h0M1775 532h0M1993 613h0M1761 752h0M1420 744h0M1979 567h0M1581 456h0M1313 605h0M1416 601h0M1780 827h0M2089 777h0M1699 782h0M1262 505h0M1220 750h0M1187 589h0M1650 542h0M1409 537h0M2137 608h0M1549 655h0M1896 728h0M1375 534h0M1472 551h0M1402 736h0M1296 716h0M1248 626h0M1989 530h0M1494 704h0M1154 723h0M1270 537h0M1596 649h0M1754 809h0M2096 713h0M1472 752h0M1642 837h0M1797 674h0M1788 835h0M1410 621h0M1470 518h0M1774 660h0M1795 514h0M1777 922h0M1195 734h0M1668 586h0M1630 830h0M1989 608h0M1849 570h0M2056 569h0M2121 712h0M1376 706h0M1679 495h0M1786 584h0M1216 627h0M1332 775h0M1785 882h0M1493 587h0M1356 467h0M1516 686h0M1540 690h0M2159 636h0M2091 777h0M1071 806h0M1989 736h0M2074 754h0M1514 849h0M1485 796h0M1830 659h0M1886 939h0M1810 890h0M1195 693h0M1450 505h0M1407 743h0M1505 530h0M2141 773h0M1806 900h0M2021 515h0M1570 759h0M1402 740h0M1639 863h0M1782 847h0M1895 537h0M1496 869h0M1468 631h0M2032 876h0M1670 628h0M1635 648h0M1924 936h0M1616 766h0M1952 594h0M1052 830h0M1559 646h0M1377 501h0M1308 632h0M1885 761h0M1525 724h0M2042 866h0M1847 867h0M1710 542h0M1388 568h0M1252 564h0M1133 706h0M1366 454h0M1822 648h0M1316 652h0M1735 792h0M1961 550h0M1245 682h0M1593 467h0M1386 630h0M1049 808h0M1376 490h0M1234 562h0M1844 483h0M1156 822h0M1633 513h0M1229 638h0M1746 892h0M1040 802h0M1576 698h0M1940 907h0M1849 607h0M1350 525h0M1874 673h0M1660 459h0M1704 828h0M1706 793h0M1039 740h0M1937 570h0M1672 528h0M1570 601h0M1816 521h0M1819 850h0M1231 629h0M1634 428h0M1928 623h0M1643 571h0M1726 685h0M1742 875h0M1374 528h0M2123 615h0M2074 683h0M1893 751h0M1396 609h0M1127 833h0M1835 901h0M1945 758h0M1404 622h0M1858 908h0M1259 542h0M1358 755h0M1721 806h0M1214 644h0M1616 769h0M1137 807h0M1987 757h0M1909 692h0M1917 818h0M1318 468h0M1140 673h0M1359 638h0M1770 827h0M1432 749h0M1498 536h0M1301 740h0M1833 785h0M2147 784h0M1289 715h0M1492 516h0M1815 932h0M1779 765h0M1497 545h0M2008 638h0M1736 723h0M1351 761h0M1772 902h0M1695 551h0M1312 700h0M1910 576h0M1817 645h0M1478 665h0M1269 682h0M1817 810h0M1601 710h0M1176 555h0M2050 661h0M1043 789h0M1131 761h0M1573 731h0M1325 626h0M2168 807h0M1609 596h0M1696 705h0M1723 850h0M1471 546h0M1470 589h0M1983 744h0M1667 830h0M1529 839h0M1336 628h0M1691 549h0M1554 787h0M1305 730h0M1857 575h0M1591 852h0M2102 690h0M1162 657h0M1629 842h0M1952 728h0M1116 872h0M1280 768h0M1290 612h0M1656 508h0M1517 840h0M1945 897h0M1079 700h0M1806 687h0M1818 794h0M1111 674h0M1379 481h0M1879 815h0M1379 527h0M1679 514h0M1930 613h0M2061 788h0M1106 710h0M2058 590h0M1233 703h0M1072 697h0M2001 871h0M1363 611h0M1464 614h0M1679 559h0M1867 834h0M1867 664h0M1452 510h0M1519 788h0M1741 752h0M1432 835h0M1119 616h0M1612 721h0M1345 471h0M1629 848h0M1961 857h0M2024 638h0M1818 576h0M1298 610h0M1520 485h0M1679 648h0M1336 634h0M1482 516h0M1392 787h0M1743 563h0M1967 861h0M1765 592h0M1224 637h0M1248 642h0M1210 559h0M1224 612h0M1222 664h0M1455 623h0M1254 643h0M1308 541h0M1555 742h0M1439 703h0M2030 731h0M1191 572h0M1479 467h0M1856 583h0M1703 852h0M1712 690h0M1908 836h0M1706 535h0M1628 596h0M2151 761h0M1109 738h0M1564 798h0M1232 639h0M1308 656h0M1899 753h0M1370 726h0M1158 750h0M2046 677h0M1880 744h0M1520 519h0M1294 698h0M1431 597h0M1647 790h0M1431 770h0M1560 550h0M1524 513h0M1885 831h0M1401 468h0M1672 502h0M1517 673h0M1630 514h0M1850 550h0M1834 819h0M1782 658h0M1256 719h0M1355 557h0M1186 760h0M1647 669h0M1565 548h0M1800 916h0M1512 812h0M1826 516h0M1798 877h0M2119 595h0M1572 709h0M1800 509h0M1456 785h0M1838 598h0M1788 727h0M1567 543h0M1544 688h0M1610 767h0M1238 554h0M1436 722h0M1504 668h0M1460 458h0M1555 473h0M1852 689h0M1389 549h0M1171 590h0M1671 534h0M1990 809h0M1679 809h0M2125 719h0M1723 518h0M1813 692h0M1809 586h0M2157 791h0M2203 697h0M1347 689h0M2045 539h0M1898 702h0M1279 573h0M1643 609h0M1903 791h0M1651 694h0M1265 569h0M1382 683h0M1593 735h0M1391 773h0M1608 570h0M1245 546h0M2046 840h0M1630 734h0M1590 737h0M1174 690h0M1723 535h0M1232 678h0M1637 665h0M1046 740h0M1775 869h0M1564 650h0M1849 872h0M1540 804h0M1724 881h0M1302 733h0M1655 678h0M1914 686h0M1286 747h0M1213 744h0M1419 734h0M1977 578h0M1639 454h0M1220 532h0M1642 495h0M1691 573h0M1429 603h0M1063 700h0M1918 590h0M1148 610h0M1729 753h0M1181 701h0M1840 915h0M1801 866h0M1132 847h0M1567 688h0M1780 738h0M1702 773h0M1115 694h0M1462 737h0M2131 578h0M1754 856h0M1820 606h0M1551 693h0M1084 902h0M1591 565h0M2090 830h0M1937 916h0M1456 802h0M1238 592h0M1985 508h0M2052 840h0M1430 728h0M1878 810h0M1698 893h0M1195 678h0M1979 641h0M1981 940h0M1128 873h0M1983 670h0M1748 850h0M1796 854h0M1730 911h0M1546 519h0M2038 865h0M1299 621h0M1892 784h0M1738 661h0M1807 806h0M1633 562h0M1143 689h0M1579 650h0M2055 739h0M1151 713h0M2119 572h0M1777 565h0M1056 782h0M1747 826h0M1855 888h0M1945 522h0M1739 805h0M1543 456h0M1241 745h0M1211 576h0M1975 504h0M1497 616h0M1381 527h0M1910 640h0M1987 726h0M1798 632h0M1643 552h0M1935 652h0M1981 830h0M1814 720h0M2011 621h0M1709 601h0M1641 788h0M1754 841h0M1275 748h0M1798 776h0M1450 543h0M1860 892h0M1136 804h0M1362 542h0M1508 536h0M1918 747h0M1058 852h0M1931 848h0M1539 791h0M1873 681h0M1931 591h0M1958 587h0M1680 477h0M2059 758h0M2170 640h0M1610 734h0M1711 900h0M1979 625h0M2061 696h0M1501 809h0M1524 543h0M1646 508h0M1158 709h0M1972 811h0M1250 531h0M1893 552h0M1659 505h0M1654 769h0M1593 525h0M1992 545h0M1464 745h0M1290 697h0M1813 606h0M1720 759h0M1048 738h0M1581 549h0M1876 732h0M1759 606h0M1801 740h0M1239 745h0M1751 810h0M1117 770h0M1515 596h0M1733 647h0M1669 751h0M1783 634h0M1563 546h0M1816 678h0M1667 721h0M1722 878h0M1341 773h0M1551 853h0M1209 721h0M1190 664h0M2081 704h0M1762 940h0M1700 927h0M1552 615h0M1124 842h0M1507 538h0M1434 788h0M1950 876h0M2078 701h0M1781 740h0M1234 646h0M1775 755h0M1547 811h0M1864 586h0M1780 864h0M1700 751h0M2065 861h0M1617 486h0M1871 877h0M1331 662h0M1231 644h0M1221 664h0M1482 656h0M1642 639h0M1456 443h0M1040 833h0M1338 501h0M1767 927h0M1253 625h0M1765 857h0M1763 808h0M1762 791h0M1727 658h0M1835 634h0M1584 703h0M1997 900h0M1734 809h0M1634 571h0M1761 845h0M1999 694h0M1290 709h0M1162 592h0M1128 841h0M1764 909h0M1642 475h0M1423 743h0M1146 659h0M1850 716h0M2100 713h0M1568 684h0M1230 569h0M1663 626h0M1246 526h0M1694 696h0M1685 821h0M1995 928h0M1552 859h0M1864 631h0M1753 670h0M1713 556h0M2061 740h0M1460 645h0M1299 581h0M1074 696h0M1227 611h0M1821 794h0M1483 535h0M1788 716h0M1443 691h0M1282 678h0M1854 797h0M1735 667h0M1624 614h0M1624 644h0M1776 827h0M1235 583h0M1216 705h0M1769 596h0M1546 854h0M1155 814h0M1640 598h0M1261 572h0M1328 607h0M1372 558h0M1843 843h0M1985 703h0M1500 631h0M2123 618h0M1687 764h0M1929 688h0M1999 610h0M2121 703h0M1758 730h0M1743 901h0M1560 840h0M1386 764h0M1462 508h0M1558 647h0M1975 924h0M1399 734h0M1764 604h0M1935 671h0M1759 510h0M1821 923h0M1700 672h0M1700 765h0M1532 722h0M1256 601h0M1342 758h0M1313 621h0M1475 443h0M1720 476h0M1423 730h0M2143 725h0M1477 766h0M1385 479h0M1734 509h0M1544 609h0M1789 692h0M1679 548h0M1091 767h0M2118 760h0M1673 503h0M1428 600h0M1542 672h0M1814 862h0M1293 604h0M1446 805h0M1655 483h0M1343 765h0M1866 533h0M1621 466h0M2003 648h0M1633 520h0M1528 817h0M1782 737h0M1583 585h0M1654 674h0M1185 701h0M1632 849h0M1498 640h0M1810 758h0M1894 706h0M1177 698h0M1663 698h0M1172 718h0M1546 676h0M1694 699h0M1727 740h0M1558 807h0M1645 685h0M1122 698h0M1617 541h0M1603 651h0M1287 574h0M1038 770h0M1444 698h0M1202 543h0M1820 745h0M1285 576h0M1690 595h0M1740 928h0M1998 916h0M1246 637h0M1903 911h0M2014 632h0M1379 730h0M1804 730h0M1819 649h0M1827 748h0M1423 783h0M1947 806h0M2035 582h0M1552 503h0M1517 553h0M1251 588h0M1412 795h0M1737 837h0M1192 561h0M1541 475h0M1234 564h0M2030 743h0M1484 726h0M1748 795h0M1798 517h0M1122 850h0M1796 932h0M1815 733h0M1491 659h0M1407 780h0M1361 632h0M2078 615h0M1539 637h0M1764 798h0M1430 543h0M1886 720h0M2154 587h0M1861 860h0M1777 642h0M1386 515h0M1999 618h0M1611 796h0M1378 728h0M1418 679h0M1974 764h0M1530 636h0M1490 661h0M1731 900h0M1630 780h0M1458 535h0M1436 746h0M1993 659h0M1521 507h0M1247 753h0M1722 805h0M1101 647h0M1887 737h0M1051 803h0M1051 803h0M1080 699h0M1894 814h0M2065 782h0M1677 438h0M1370 699h0M1878 694h0M1907 714h0M1454 716h0M1832 759h0M1826 665h0M1346 548h0M1587 682h0M1866 707h0M1593 643h0M1577 664h0M2093 646h0M1790 865h0M1615 580h0M1699 769h0M1837 527h0M1331 528h0M1065 754h0M2172 651h0M1153 890h0M1746 886h0M2058 837h0M1304 588h0M1484 691h0M1364 568h0M1476 531h0M1351 611h0M2027 577h0M1662 517h0M1747 848h0M2102 758h0M1354 573h0M2093 792h0M1660 465h0M1762 930h0M1324 584h0M2041 839h0M2008 861h0M1760 602h0M1278 735h0M1985 637h0M1444 826h0M1426 532h0M1859 530h0M1706 763h0M1708 923h0M1838 841h0M1799 701h0M1528 670h0M1833 817h0M1955 837h0M1085 700h0M1635 668h0M1742 689h0M1331 651h0M1345 656h0M1694 872h0M1293 520h0M1240 610h0M1874 732h0M1660 467h0M1325 530h0M1552 833h0M1434 506h0M1187 596h0M1856 851h0M1152 777h0M1076 776h0M1125 812h0M1810 712h0M1321 559h0M1376 493h0M1734 801h0M1056 835h0M1615 662h0M1355 613h0M1106 710h0M1991 868h0M2108 619h0M1651 745h0M1685 530h0M1357 747h0M1498 651h0M1695 853h0M1572 629h0M1751 839h0M1914 544h0M2055 766h0M1753 615h0M1076 703h0M1412 468h0M1922 869h0M1710 535h0M1844 592h0M1226 614h0M1572 457h0M2095 703h0M2160 605h0M1618 759h0M1686 549h0M2043 770h0M2042 664h0M1682 634h0M1625 454h0M1852 642h0M2168 648h0M1832 759h0M1989 553h0M2135 680h0M1223 625h0M1287 709h0M1144 645h0M1302 625h0M1418 739h0M1204 696h0M1394 809h0M1665 770h0M1779 720h0M1826 617h0M1820 496h0M1447 725h0M1762 618h0M1250 595h0M1119 590h0M1670 841h0M1165 838h0M1849 847h0M1087 803h0M1965 623h0M1195 628h0M1072 875h0M1638 723h0M1415 814h0M1513 516h0M1201 588h0M1399 795h0M1718 899h0M1724 811h0M1427 738h0M1652 522h0M1243 591h0M1308 553h0M1585 795h0M1261 643h0M1468 758h0M1781 541h0M1877 936h0M1911 537h0M2046 697h0M1405 442h0M1084 649h0M1993 541h0M1836 908h0M2058 757h0M1830 763h0M1648 659h0M1909 623h0M1501 528h0M1548 833h0M1222 726h0M1770 626h0M1305 665h0M1712 682h0M1639 678h0M1682 731h0M1489 432h0M1788 769h0M1852 786h0M1802 630h0M1750 881h0M1836 495h0M1134 687h0M1555 626h0M1619 462h0M1439 810h0M1371 576h0M1891 625h0M1249 716h0M1930 661h0M1602 777h0M1586 833h0M1428 591h0M1881 518h0M1613 723h0M1544 852h0M1793 609h0M1376 626h0M1548 715h0M1878 805h0M1944 736h0M1365 761h0M1431 459h0M1280 660h0M1388 621h0M1926 745h0M2162 618h0M1770 661h0M1924 559h0M1841 791h0M1722 595h0M1064 706h0M1500 637h0M1345 679h0M1055 824h0M1807 693h0M1933 767h0M1548 652h0M1775 799h0M1257 535h0M2050 875h0M1199 696h0M1248 530h0M1086 771h0M1718 737h0M1859 848h0M1928 662h0M1799 713h0M1787 930h0M2017 785h0M1609 634h0M1709 814h0M1670 528h0M1368 750h0M1902 536h0M1709 605h0M1495 526h0M1126 606h0M1752 809h0M1570 531h0M1314 551h0M1705 525h0M2085 785h0M1367 603h0M1314 652h0M1246 655h0M1427 496h0M1616 778h0M1814 671h0M1043 731h0M1542 567h0M1685 765h0M1281 669h0M1723 811h0M1787 853h0M2052 834h0M1926 854h0M1807 743h0M1024 771h0M2063 814h0M1974 763h0M1213 613h0M1630 639h0M1272 613h0M1725 657h0M1054 715h0M1839 725h0M1195 739h0M1493 774h0M1585 753h0M1998 750h0M1886 799h0M1963 802h0M1375 545h0M1385 759h0M1462 445h0M1980 687h0M1678 676h0M1098 676h0M1512 560h0M1084 771h0M1934 731h0M1461 846h0M1609 756h0M1252 623h0M1883 759h0M1316 758h0M1765 533h0M1685 677h0M1814 633h0M1843 596h0M1886 782h0M2048 715h0M1621 668h0M1508 515h0M2157 770h0M1340 580h0M1343 578h0M1090 687h0M1112 858h0M2009 647h0M1100 793h0M2047 676h0M1495 436h0M2105 600h0M1688 799h0M1486 549h0M1761 876h0M1816 709h0M1411 472h0M1616 485h0M1035 769h0M1637 732h0M1322 743h0M2060 702h0M1697 542h0M1234 651h0M1849 543h0M1127 671h0M1261 637h0M1039 720h0M2162 674h0M1628 611h0M1185 700h0M1461 617h0M1949 856h0M2077 755h0M2120 706h0M1913 615h0M1203 660h0M1930 811h0M1636 859h0M1381 582h0M2104 630h0M1610 819h0M1418 795h0M1717 485h0M1906 931h0M2115 667h0M1217 578h0M1970 826h0M1924 627h0M1432 452h0M1390 688h0M1522 817h0M1492 439h0M1117 705h0M1699 625h0M1313 769h0M1489 655h0M1593 642h0M1999 885h0M1575 515h0M1794 686h0M1072 787h0M1358 470h0M1958 538h0M1786 678h0M1826 900h0M1909 504h0M1845 840h0M1450 806h0M1673 856h0M1700 600h0M1395 538h0M1531 518h0M1934 861h0M1126 779h0M1453 771h0M1676 644h0M1534 792h0M1745 819h0M1247 538h0M1224 606h0M1276 702h0M1472 587h0M1911 654h0M1149 740h0M1342 652h0M1992 852h0M2128 636h0M1778 822h0M1947 536h0M1424 497h0M1121 808h0M1597 769h0M1798 921h0M1315 559h0M1157 732h0M1498 467h0M1410 518h0M2159 698h0M1300 563h0M1221 707h0M2163 662h0M1644 553h0M1664 453h0M1160 592h0M1644 693h0M1909 647h0M2025 882h0M1416 805h0M2163 611h0M1118 907h0M1146 801h0M1705 929h0M1721 594h0M1831 516h0M1795 495h0M1893 924h0M1674 833h0M1578 801h0M1871 873h0M1937 901h0M1934 808h0M1341 645h0M1305 663h0M1503 641h0M1979 715h0M1231 533h0M1549 728h0M1803 552h0M2035 536h0M1089 699h0M1671 832h0M2192 687h0M1889 725h0M1786 753h0M1642 484h0M1562 658h0M1883 566h0M1833 549h0M1376 531h0M1378 544h0M1385 621h0M2196 705h0M1708 700h0M1434 471h0M1513 469h0M1118 895h0M1766 562h0M1370 510h0M1037 812h0M1429 551h0M1111 691h0M1664 498h0M1454 661h0M1234 528h0M1402 774h0M1348 617h0M1595 596h0M1734 652h0M1415 725h0M2181 730h0M1761 838h0M1323 616h0M1692 574h0M1751 853h0M1340 771h0M1247 536h0M1570 550h0M1808 693h0M1138 631h0M1709 575h0M1674 450h0M2076 680h0M1556 541h0M1605 533h0M1507 634h0M1417 778h0M1588 785h0M1765 537h0M1663 682h0M1269 737h0M1466 561h0M1487 618h0M2002 689h0M1807 513h0M1556 829h0M1726 537h0M1620 750h0M1662 757h0M1805 807h0M2085 599h0M1432 594h0M1274 592h0M2031 555h0M1490 553h0M1478 846h0M1819 574h0M1908 811h0M2046 748h0M1078 784h0M1129 903h0M1551 754h0M1189 685h0M1672 602h0M1347 682h0M1823 605h0M1792 667h0M1547 512h0M1517 807h0M1568 835h0M1509 703h0M1831 665h0M1692 794h0M1468 782h0M1851 639h0M1797 932h0M1517 671h0M1208 611h0M1771 909h0M1230 611h0M1525 499h0M1863 835h0M1526 718h0M1888 580h0M1093 830h0M1161 638h0M1501 792h0M1289 704h0M1940 590h0M1797 802h0M1677 857h0M1343 489h0M1638 605h0M1476 619h0M1332 618h0M1606 673h0M2060 869h0M1752 794h0M1570 488h0M1850 645h0M1140 717h0M1316 583h0M1356 639h0M1514 471h0M1939 603h0M1521 830h0M1149 869h0M1532 670h0M1755 675h0M1622 602h0M1141 773h0M2069 568h0M1695 495h0M1623 656h0M2042 775h0M1559 764h0M1100 761h0M1672 493h0M1562 552h0M1486 541h0M1817 613h0M1653 806h0M1856 691h0M1098 751h0M1367 739h0M2021 571h0M1960 614h0M1244 618h0M1355 630h0M2122 561h0M1396 551h0M1438 771h0M1737 553h0M1251 616h0M1927 722h0M1877 884h0M1932 648h0M1623 604h0M1330 515h0M1659 660h0M1167 650h0M1104 868h0M1431 727h0M2179 692h0M1240 632h0M1938 855h0M1528 490h0M1394 547h0M1610 470h0M1254 689h0M1827 853h0M1124 796h0M1106 656h0M1993 781h0M1992 614h0M1289 546h0M2054 758h0M1858 889h0M1863 849h0M1784 501h0M1256 658h0M1757 828h0M1799 781h0M1773 636h0M1777 820h0M2137 615h0M1416 740h0M1452 835h0M1678 523h0M1733 774h0M1405 692h0M1299 692h0M1714 720h0M1229 618h0M1408 682h0M1903 897h0M1466 731h0M1392 490h0M1569 717h0M1068 782h0M1222 536h0M2007 728h0M1044 751h0M1299 494h0M1098 786h0M1489 545h0M1869 618h0M1653 553h0M1790 713h0M1495 802h0M1971 538h0M1251 780h0M1350 501h0M1839 713h0M1701 462h0M1424 769h0M1333 516h0M1703 919h0M1965 615h0M1883 662h0M1332 613h0M2147 749h0M1745 926h0M1217 591h0M1372 549h0M1222 554h0M1115 700h0M1306 528h0M1921 785h0M1400 710h0M1224 577h0M1509 730h0M1096 653h0M1142 722h0M1407 484h0M1948 529h0M1555 514h0M1390 482h0M1578 804h0M2168 731h0M1910 856h0M1913 736h0M1252 631h0M1809 491h0M1746 792h0M1179 707h0M1640 699h0M1502 730h0M1960 539h0M1593 796h0M1674 549h0M1513 510h0M1648 735h0M1544 517h0M1251 699h0M1547 517h0M1141 777h0M1797 491h0M1685 604h0M1299 534h0M2143 813h0M1141 652h0M1266 546h0M1442 818h0M1460 752h0M1847 648h0M1098 745h0M1913 855h0M2190 677h0M2142 805h0M1995 844h0M1325 586h0M1399 566h0M1461 473h0M1542 746h0M1810 644h0M1755 914h0M1485 606h0M1561 629h0M1394 774h0M1298 698h0M1840 736h0M1356 489h0M1490 449h0M1478 801h0M1858 564h0M1615 788h0M1624 887h0M1856 639h0M1636 629h0M1845 926h0M1256 609h0M1075 713h0M1720 652h0M1128 785h0M1599 554h0M1964 629h0M1161 641h0M1783 629h0M1760 939h0M1153 580h0M1241 682h0M1761 521h0M1303 728h0M1849 814h0M2148 641h0M1584 887h0M1990 529h0M1054 772h0M1489 601h0M1183 695h0M1420 709h0M1821 927h0M1348 731h0M1837 590h0M1760 844h0M2152 753h0M1874 834h0M1702 864h0M1299 539h0M2142 687h0M1838 593h0M1559 725h0M1484 684h0M1792 837h0M1365 642h0M1848 543h0M1408 500h0M1853 700h0M1367 710h0M1445 655h0M1771 775h0M1222 536h0M1425 640h0M1053 796h0M1768 739h0M1339 694h0M1924 885h0M1333 785h0M1130 647h0M1451 789h0M1697 569h0M1772 730h0M1516 765h0M1057 818h0M1345 508h0M1863 545h0M1611 496h0M1936 634h0M1531 656h0M1685 859h0M1389 784h0M1897 541h0M1945 719h0M1437 699h0M1638 637h0M1709 774h0M1568 752h0M1379 785h0M1783 656h0M1273 611h0M1944 928h0M2067 733h0M1368 570h0M1072 867h0M1701 733h0M1914 517h0M1081 753h0M1869 519h0M1455 539h0M1575 674h0M1637 894h0M1759 616h0M1887 746h0M1280 570h0M1962 874h0M1475 683h0M1529 698h0M1352 521h0M1511 718h0M1523 756h0M1333 713h0M1065 814h0M1893 693h0M1877 653h0M1574 794h0M1841 843h0M1612 535h0M1253 552h0M1851 692h0M1327 692h0M1050 709h0M1124 784h0M1641 725h0M1203 565h0M1580 690h0M1597 450h0M1971 588h0M1921 685h0M1620 451h0M1123 652h0M1096 711h0M1920 782h0M1582 681h0M1461 692h0M1869 615h0M1700 510h0M1505 718h0M1481 651h0M1880 700h0M1927 814h0M1960 887h0M1931 545h0M1658 761h0M1614 681h0M1649 500h0M1774 498h0M1577 641h0M2018 752h0M1406 746h0M1721 527h0M1398 783h0M1331 508h0M1789 568h0M1532 504h0M1768 615h0M1867 602h0M1468 616h0M1665 757h0M1643 813h0M1710 622h0M1500 719h0M1518 485h0M1267 680h0M1639 693h0M1695 799h0M1825 830h0M1053 706h0M1692 655h0M1392 603h0M2085 566h0M1769 600h0M1930 900h0M1747 660h0M1132 840h0M1212 771h0M1431 657h0M2115 598h0M1417 540h0M1524 738h0M1473 716h0M1670 438h0M1543 744h0M1712 823h0M1639 711h0M1415 802h0M1236 536h0M1721 513h0M1795 724h0M1549 750h0M1853 619h0M1382 524h0M1761 631h0M1487 636h0M1422 590h0M1346 508h0M1646 703h0M1870 762h0M1125 904h0M1776 906h0M1606 773h0M1576 478h0M1992 716h0M1809 783h0M1483 793h0M1428 620h0M1804 933h0M1426 739h0M1536 462h0M1714 769h0M1570 779h0M1225 546h0M1788 593h0M2004 922h0M1045 688h0M1623 635h0M2031 740h0M1527 610h0M1965 769h0M2021 586h0M2065 570h0M1401 610h0M1342 640h0M1617 518h0M1623 447h0M1979 601h0M1465 678h0M1718 743h0M1643 698h0M1100 842h0M1413 454h0M1254 683h0M1355 707h0M1115 758h0M1150 860h0M1933 548h0M1427 587h0M2042 743h0M2025 784h0M1786 842h0M1315 660h0M1583 790h0M1797 531h0M1622 796h0M1455 649h0M1450 583h0M1730 531h0M1420 737h0M1544 486h0M1559 800h0M1530 729h0M1824 584h0M1490 857h0M1146 718h0M1909 522h0M1196 743h0M2170 672h0M1776 731h0M1614 737h0M1647 692h0M1334 514h0M1865 935h0M1467 827h0M1474 810h0M1958 511h0M2008 882h0M1581 535h0M1648 888h0M2054 641h0M1811 602h0M1444 696h0M1860 712h0M2075 803h0M1588 786h0M1343 574h0M1233 584h0M1215 572h0M1047 788h0M1729 681h0M1272 729h0M1412 479h0M1386 733h0M1794 650h0M1913 583h0M1463 566h0M1707 882h0M1365 753h0M1078 662h0M1934 824h0M1104 843h0M1089 764h0M1272 723h0M1340 675h0M1861 549h0M2151 798h0M1589 667h0M1705 915h0M2086 576h0M1136 647h0M2145 584h0M1445 830h0M1933 551h0M1656 767h0M1477 761h0M1262 590h0M1464 552h0M1863 602h0M1463 492h0M1463 548h0M1899 842h0M1808 771h0M1582 837h0M1872 850h0M1870 900h0M1343 691h0M1277 695h0M1565 679h0M1379 665h0M1219 601h0M1302 482h0M1428 658h0M1658 461h0M1884 592h0M1690 584h0M1614 630h0M1660 882h0M1791 682h0M1207 802h0M1106 774h0M1533 496h0M2176 664h0M1094 766h0M1360 714h0M1772 668h0M1395 483h0M1603 655h0M2070 563h0M1968 707h0M1413 630h0M1383 582h0M2163 638h0M1610 867h0M1719 908h0M1937 818h0M1107 719h0M1842 782h0M1440 543h0M1414 755h0M1590 632h0M1559 700h0M2031 777h0M1885 817h0M1445 641h0M1733 737h0M2142 738h0M1932 673h0M1693 454h0M1842 606h0M2118 653h0M2016 882h0M1980 771h0M1836 866h0M1182 804h0M1237 649h0M1486 642h0M1357 709h0M1832 558h0M1796 843h0M2001 699h0M1755 844h0M1262 643h0M1705 739h0M1803 715h0M1719 689h0M1810 623h0M1226 563h0M1986 631h0M1085 793h0M1958 939h0M1757 879h0M1914 647h0M1835 592h0M1672 541h0M1512 837h0M1146 857h0M1764 710h0M1776 736h0M1797 697h0M1728 539h0M1764 702h0M1343 556h0M1489 769h0M1825 832h0M2066 567h0M1762 639h0M1473 846h0M1116 802h0M1238 681h0M1756 765h0M1589 708h0M1458 842h0M1956 872h0M1579 634h0M1797 512h0M1076 765h0M1914 731h0M1688 614h0M1261 535h0M1342 700h0M1522 709h0M1569 530h0M1219 665h0M1446 642h0M1637 668h0M1889 718h0M1821 749h0M1234 729h0M1398 619h0M1908 641h0M1675 639h0M1996 710h0M1238 732h0M1114 746h0M1988 707h0M1697 686h0M2055 532h0M1956 859h0M1277 733h0M1686 609h0M1820 650h0M1563 476h0M1162 696h0M2180 671h0M1807 822h0M1504 529h0M1878 718h0M1044 712h0M1096 701h0M1396 681h0M1539 817h0M2092 754h0M1220 780h0M1707 750h0M1702 711h0M1163 703h0M1966 529h0M1160 810h0M2159 726h0M1711 601h0M1800 559h0M1353 571h0M1974 802h0M1582 595h0M1948 533h0M1590 556h0M1861 694h0M1780 638h0M1877 660h0M2016 783h0M1108 694h0M1520 501h0M1666 566h0M1944 595h0M1845 940h0M1408 744h0M1570 721h0M1185 734h0M2147 583h0M1995 830h0M1523 579h0M1247 569h0M2103 781h0M1787 841h0M1519 769h0M1389 488h0M1652 701h0M1945 710h0M1403 464h0M1282 716h0M1212 567h0M1109 716h0M1792 931h0M1913 893h0M1502 722h0M1554 554h0M1768 909h0M1317 545h0M2091 705h0M1557 680h0M2160 723h0M1780 587h0M1198 743h0M1411 497h0M1807 658h0M2126 741h0M2156 588h0M1397 479h0M1474 538h0M1876 852h0M1800 564h0M1696 584h0M1903 718h0M1817 744h0M1757 672h0M1506 716h0M1940 523h0M1229 642h0M1464 784h0M1997 647h0M1374 752h0M1867 604h0M1689 534h0M1309 490h0M2040 752h0M1656 817h0M1799 715h0M1240 673h0M1970 824h0M1457 536h0M1640 840h0M1558 748h0M1922 627h0M1373 495h0M1241 696h0M1628 759h0M1763 808h0M1182 843h0M1261 749h0M1151 683h0M1213 539h0M2103 758h0M1870 594h0M1891 727h0M1875 564h0M1761 540h0M1997 772h0M1351 618h0M1428 515h0M1247 602h0M1693 751h0M1413 505h0M1988 825h0M2009 701h0M2059 791h0M1711 886h0M1554 567h0M1632 677h0M1969 578h0M1119 825h0M1831 650h0M1283 599h0M1272 737h0M1676 499h0M1878 841h0M1772 518h0M1564 758h0M1350 520h0M1761 644h0M1478 782h0M1134 779h0M1394 808h0M1107 642h0M1850 940h0M1275 541h0M1718 681h0M1534 730h0M1441 677h0M1808 755h0M1160 635h0M1621 676h0M1742 801h0M1539 683h0M1104 844h0M1990 863h0M1885 550h0M1977 717h0M1093 779h0M1868 513h0M1945 881h0M1681 864h0M1811 860h0M1611 494h0M1482 530h0M1669 470h0M1901 748h0M1203 571h0M1509 677h0M1121 647h0M1585 795h0M1204 673h0M1274 515h0M1422 753h0M1812 788h0M2037 787h0M1781 513h0M1119 773h0M1222 615h0M2039 615h0M1929 596h0M1744 680h0M1724 720h0M1820 662h0M1072 687h0M1477 733h0M1936 813h0M2100 779h0M1145 715h0M1193 549h0M1944 641h0M1095 699h0M1481 821h0M1730 589h0M1359 553h0M1729 676h0M1712 526h0M1783 746h0M1515 807h0M1489 579h0M1878 662h0M2069 550h0M1562 747h0M1326 701h0M1616 666h0M1191 581h0M1074 731h0M1798 644h0M1942 814h0M1640 695h0M1927 889h0M1130 654h0M1660 500h0M2070 684h0M1059 805h0M1913 838h0M1922 810h0M1854 872h0M1571 598h0M1675 492h0M1125 662h0M1870 567h0M1566 507h0M1397 705h0M1706 538h0M1442 511h0M1250 730h0M1685 682h0M1385 720h0M1973 776h0M1526 570h0M1817 760h0M1353 545h0M1596 645h0M1251 588h0M1687 566h0M1322 651h0M1133 771h0M1238 649h0M2057 730h0M1773 579h0M1697 696h0M1815 579h0M2013 835h0M1865 863h0M1771 734h0M1725 730h0M1771 514h0M1214 776h0M1324 553h0M1937 882h0M1398 788h0M1808 642h0M1628 886h0M1503 628h0M1374 755h0M1893 880h0M2051 690h0M1402 452h0M1850 842h0M2002 698h0M1915 555h0M1642 642h0M1230 700h0M1682 775h0M1508 807h0M1389 742h0M1652 616h0M1758 580h0M1567 627h0M1672 674h0M1112 697h0M1348 789h0M1178 673h0M1423 611h0M1663 662h0M1627 899h0M1127 806h0M1552 827h0M1101 775h0M1597 637h0M1060 862h0M1934 598h0M1828 748h0M1749 647h0M1854 613h0M1615 889h0M1732 770h0M1776 527h0M2012 558h0M1460 798h0M1691 831h0M1254 558h0M1140 780h0M1901 670h0M1240 623h0M1612 535h0M1845 643h0M1432 540h0M1157 710h0M1372 747h0M1787 544h0M1716 711h0M1725 862h0M1321 703h0M1849 652h0M1438 497h0M1860 692h0M1946 659h0M1176 695h0M1903 826h0M1571 583h0M1070 774h0M1494 539h0M1306 691h0M1578 788h0M2163 605h0M1453 670h0M1592 471h0M2166 636h0M1142 892h0M1689 691h0M1227 573h0M1765 816h0M1515 719h0M1575 463h0M1774 702h0M2150 638h0M1204 715h0M1324 591h0M1748 838h0M1777 520h0M1697 811h0M1235 673h0M1665 839h0M1302 655h0M1851 777h0M1183 701h0M1253 715h0M1204 679h0M1927 676h0M1870 496h0M1862 723h0M1575 667h0M1951 591h0M2123 601h0M1705 853h0M1643 823h0M1330 705h0M1205 694h0M1827 662h0M1090 858h0M1853 788h0M1728 897h0M1811 590h0M1718 803h0M1964 572h0M1680 835h0M1691 462h0M1669 721h0M1578 539h0M1576 698h0M1215 771h0M1788 756h0M1673 503h0M1873 623h0M1669 540h0M1331 466h0M1414 744h0M1440 713h0M2100 603h0M1077 679h0M1093 693h0M1426 533h0M1347 686h0M1031 765h0M1465 504h0M1079 850h0M1773 530h0M1729 831h0M1566 740h0M2153 692h0M2020 678h0M1304 494h0M1591 703h0M1762 515h0M1992 584h0M1520 812h0M1753 606h0M1133 785h0M1655 775h0M1633 767h0M1140 778h0M1813 848h0M1840 940h0M1781 633h0M1162 860h0M1387 496h0M1435 678h0M1368 780h0M1540 480h0M1204 788h0M1867 939h0M2050 832h0M2146 661h0M1573 781h0M1645 678h0M1948 812h0M1661 495h0M1106 673h0M1133 741h0M1359 534h0M1256 537h0M2101 784h0M1522 820h0M1352 685h0M1746 570h0M1570 724h0M1376 565h0M1482 436h0M1080 807h0M1683 882h0M1946 580h0M1313 511h0M1361 520h0M1850 643h0M1653 579h0M1692 820h0M1801 862h0M1946 727h0M1372 763h0M1382 742h0M1872 800h0M1341 557h0M1789 898h0M1135 711h0M1400 729h0M1262 576h0M1803 672h0M1418 771h0M1723 504h0M1811 894h0M1058 823h0M1956 780h0M1580 747h0M1927 618h0M1516 735h0M1571 670h0M1857 591h0M1367 789h0M1576 504h0M1258 760h0M1806 626h0M1911 538h0M1090 780h0M1584 590h0M1471 597h0M1870 707h0M1991 632h0M1388 730h0M1112 688h0M1259 679h0M1267 522h0M1665 471h0M1557 738h0M2113 733h0M1651 832h0M1479 733h0M1839 788h0M1668 538h0M1762 721h0M1756 777h0M1701 469h0M1178 839h0M1083 660h0M1721 499h0M1595 821h0M1588 439h0M1157 639h0M1288 617h0M1403 596h0M1602 472h0M1678 823h0M1986 530h0M1161 860h0M1503 556h0M1548 703h0M1666 811h0M1547 697h0M1403 724h0M2025 645h0M1825 825h0M1594 520h0M1307 656h0M1859 681h0M2037 858h0M1938 786h0M1629 611h0M1842 505h0M1773 571h0M1041 772h0M1396 783h0M1612 631h0M1552 626h0M1849 592h0M1250 691h0M1564 686h0M1513 725h0M1529 479h0M1926 552h0M1452 815h0M1621 614h0M1351 727h0M1806 617h0M1440 453h0M1453 698h0M1642 731h0M1930 790h0M1285 673h0M1945 906h0M1127 679h0M1331 645h0M1399 799h0M1900 696h0M1522 578h0M1681 500h0M1918 808h0M2146 633h0M1648 661h0M1498 670h0M1531 594h0M1708 706h0M1354 523h0M1927 750h0M1465 468h0M1791 499h0M1645 761h0M1347 632h0M1593 714h0M1410 541h0M1798 696h0M1815 777h0M2044 852h0M1105 781h0M1531 498h0M1185 758h0M1870 875h0M2037 856h0M1948 797h0M1420 564h0M1491 626h0M1640 767h0M1230 541h0M1119 738h0M1149 669h0M1806 513h0M1746 682h0M1923 792h0M1700 895h0M1768 800h0M1689 838h0M1705 539h0M1689 703h0M1842 552h0M1258 603h0M1230 633h0M1915 710h0M1773 743h0M1427 727h0M1854 894h0M1325 653h0M1667 746h0M1669 787h0M1342 658h0M2119 735h0M1772 725h0M1731 614h0M1841 849h0M2158 690h0M1444 463h0M1412 708h0M2012 664h0M1227 534h0M1434 844h0M1356 504h0M1490 605h0M1964 736h0M1453 593h0M1393 554h0M1867 811h0M1114 768h0M1504 545h0M1107 787h0M1768 918h0M1591 684h0M1139 841h0M1796 517h0M1195 572h0M1875 805h0M1817 843h0M1545 746h0M1357 619h0M1115 898h0M2140 626h0M1842 757h0M2033 594h0M1493 734h0M1743 691h0M1552 817h0M1685 466h0M1388 541h0M2115 632h0M1125 801h0M1426 662h0M1684 506h0M1067 671h0M2154 789h0M1451 525h0M1882 834h0M1285 726h0M1360 519h0M1372 630h0M1814 799h0M1981 724h0M1435 655h0M1325 528h0M2077 740h0M1335 617h0M1700 463h0M1400 754h0M1359 677h0M1787 592h0M1649 471h0M1635 451h0M1255 602h0M1109 772h0M1734 774h0M1527 818h0M1459 623h0M1678 671h0M1578 550h0M1109 895h0M2015 893h0M1093 840h0M2087 588h0M1129 784h0M1340 610h0M1511 598h0M1504 773h0M1398 601h0M1518 538h0M1466 654h0M1528 496h0M2053 678h0M1939 871h0M1563 836h0M1708 518h0M2181 656h0M1153 787h0M1886 778h0M1739 647h0M1646 570h0M1918 530h0M1364 764h0M1524 646h0M1711 761h0M1340 710h0M1880 488h0M1803 802h0M1395 777h0M1334 649h0M1538 719h0M1447 680h0M1252 550h0M2169 779h0M1077 701h0M1797 698h0M1893 770h0M1386 580h0M1763 836h0M1332 633h0M1823 792h0M1804 523h0M1523 686h0M1634 712h0M1365 763h0M1819 775h0M1792 627h0M1241 635h0M1196 725h0M1498 540h0M1431 753h0M1403 741h0M1350 562h0M1157 655h0M1323 601h0M1496 651h0M1285 709h0M1269 684h0M1374 636h0M1925 910h0M1914 745h0M1518 512h0M1193 547h0M1318 607h0M1847 656h0M1385 513h0M1333 583h0M1425 791h0M2129 592h0M1709 843h0M1932 722h0M1744 792h0M1193 624h0M1680 447h0M2143 686h0M1255 736h0M1353 644h0M1832 926h0M1425 490h0M1672 692h0M2096 729h0M1812 835h0M1333 543h0M1710 856h0M1239 568h0M1178 694h0M1340 467h0M1809 775h0M1934 574h0M1304 559h0M1187 721h0M1832 694h0M1797 619h0M1756 552h0M1862 797h0M1677 834h0M1408 690h0M1846 748h0M1925 674h0M1419 629h0M1603 484h0M1259 510h0M1536 669h0M1839 590h0M1204 575h0M1644 648h0M1602 529h0M2130 677h0M1648 827h0M1243 636h0M2016 628h0M1564 692h0M1398 781h0M1927 584h0M2053 747h0M1592 464h0M1453 518h0M1432 760h0M1404 542h0M1966 855h0M1866 697h0M1709 903h0M1201 557h0M1304 658h0M1377 488h0M2021 812h0M1430 744h0M1359 733h0M1523 498h0M1828 581h0M1862 773h0M1531 590h0M1901 620h0M1485 522h0M2092 799h0M1421 829h0M1453 690h0M1818 893h0M1697 717h0M1916 736h0M1409 821h0M1683 851h0M1707 695h0M1393 686h0M1958 509h0M1575 603h0M1577 771h0M1263 704h0M1330 510h0M1183 743h0M1436 458h0M1807 774h0M1772 848h0M2136 599h0M1766 727h0M1643 711h0M1975 768h0M1475 735h0M1259 542h0M1070 727h0M1946 586h0M1203 697h0M1803 696h0M1357 599h0M1213 698h0M1546 513h0M1712 847h0M2004 880h0M1929 568h0M1284 684h0M1794 620h0M1806 910h0M1466 724h0M1232 734h0M1484 507h0M1072 805h0M1769 744h0M1929 574h0M1790 677h0M1560 788h0M1574 678h0M1946 813h0M1539 508h0M1595 660h0M1528 739h0M1556 511h0M1838 512h0M1861 827h0M2167 642h0M1687 915h0M1718 826h0M1346 744h0M1139 682h0M1725 713h0M1386 530h0M1801 579h0M1159 672h0M1123 732h0M1613 783h0M1286 550h0M1280 760h0M1363 676h0M2153 636h0M1689 797h0M1154 769h0M1602 713h0M1569 628h0M1627 738h0M1173 791h0M1289 581h0M1796 858h0M1754 515h0M1077 701h0M1839 757h0M1253 642h0M1420 516h0M1566 527h0M1157 734h0M1662 714h0M1387 791h0M1242 677h0M1905 551h0M1612 741h0M1335 612h0M1636 795h0M1146 773h0M1760 607h0M1156 702h0M1804 653h0M2025 716h0M1944 653h0M1453 687h0M1944 624h0M1120 726h0M1291 494h0M1520 827h0M2138 607h0M2038 555h0M2147 603h0M1377 726h0M1934 796h0M1535 650h0M1825 587h0M1911 937h0M1779 664h0M1848 646h0M1615 765h0M1168 700h0M2103 635h0M1209 667h0M1107 643h0M1426 471h0M1991 653h0M1674 502h0M1329 532h0M2017 602h0M2031 569h0M1836 754h0M1031 845h0M1550 764h0M1543 667h0M1495 788h0M1618 841h0M2001 516h0M1839 630h0M1896 907h0M1521 807h0M1339 709h0M1479 722h0M1143 655h0M2016 753h0M1362 754h0M1203 637h0M2029 658h0M1964 863h0M1597 763h0M1959 816h0M1740 857h0M1738 838h0M1957 624h0M1928 672h0M1930 682h0M1569 467h0M1344 670h0M1801 889h0M1766 942h0M1192 720h0M1883 891h0M1903 560h0M1133 745h0M1194 732h0M1937 909h0M1523 788h0M1220 584h0M1778 714h0M1304 572h0M1720 602h0M2147 610h0M1061 780h0M1736 668h0M1859 860h0M1853 806h0M1844 554h0M1353 739h0M1643 672h0M1234 600h0M1733 858h0M1063 846h0M2054 869h0M1929 861h0M1642 517h0M1649 681h0M1609 840h0M1354 713h0M1844 765h0M1285 711h0M1092 900h0M1474 768h0M1416 679h0M1833 536h0M1293 648h0M1659 805h0M1541 586h0M2051 618h0M1475 689h0M1669 527h0M1354 702h0M1553 614h0M1965 513h0M1446 757h0M2077 557h0M1321 553h0M1888 729h0M1248 513h0M1603 463h0M1175 759h0M1455 642h0M1913 564h0M1489 579h0M2133 787h0M2180 671h0M1547 744h0M1370 656h0M1770 807h0M1274 574h0M1586 709h0M1158 632h0M1785 599h0M1949 892h0M1333 515h0M2092 732h0M1792 577h0M1467 671h0M1587 666h0M2170 673h0M1758 571h0M1499 536h0M1383 502h0M1203 594h0M1362 748h0M1990 773h0M1630 629h0M1898 795h0M1407 792h0M1336 612h0M1423 618h0M1438 598h0M1685 828h0M1946 577h0M1491 451h0M1373 615h0M1371 485h0M1356 622h0M1645 717h0M1941 584h0M1582 539h0M1410 508h0M1632 853h0M1682 875h0M1924 724h0M1762 738h0M1846 602h0M2042 754h0M1111 884h0M1162 659h0M2115 790h0M2050 550h0M1804 526h0M1891 932h0M1532 434h0M1764 921h0M1830 926h0M1274 613h0M1166 847h0M1648 497h0M1393 537h0M1510 859h0M1852 606h0M1754 807h0M1231 783h0M1544 649h0M1882 671h0M1423 488h0M1650 463h0M1536 692h0M1913 559h0M1771 817h0M1243 629h0M1385 579h0M1288 555h0M1056 791h0M1884 800h0M1456 613h0M1717 918h0M1692 486h0M1620 678h0M1686 866h0M1853 715h0M1665 745h0M1384 802h0M1481 652h0M1331 655h0M1133 653h0M1771 808h0M1676 681h0M1096 666h0M1206 603h0M1916 875h0M1930 716h0M1787 937h0M1352 689h0M1749 689h0M1173 611h0M1649 737h0M1422 624h0M2142 810h0M1271 660h0M1846 745h0M1789 732h0M1380 612h0M1587 441h0M1962 569h0M1192 566h0M1858 625h0M1606 668h0M1220 712h0M1567 860h0M1599 741h0M1561 693h0M1294 577h0M1293 674h0M1365 578h0M1800 577h0M1998 554h0M1880 506h0M1188 825h0M1833 744h0M1617 746h0M1819 515h0M1502 533h0M1948 826h0M1307 638h0M1115 865h0M1703 679h0M1354 479h0M1850 561h0M1777 525h0M1212 547h0M1921 924h0M1560 752h0M1170 706h0M1088 706h0M1211 768h0M1932 743h0M1331 672h0M1757 545h0M1694 830h0M1397 530h0M1940 803h0M1321 637h0M1519 643h0M1269 572h0M1724 694h0M1568 596h0M1638 731h0M1640 749h0M2007 648h0M1412 818h0M2058 572h0M1587 561h0M1649 731h0M1912 736h0M2016 667h0M1478 652h0M1419 781h0M1591 823h0M1606 618h0M1562 840h0M1355 657h0M1962 511h0M1239 587h0M1178 800h0M1836 838h0M1607 882h0M1255 690h0M1686 477h0M1270 573h0M1956 813h0M1770 903h0M1843 951h0M1858 688h0M1454 621h0M1955 645h0M1649 642h0M1933 864h0M1668 640h0M1378 612h0M1658 683h0M1369 702h0M1638 489h0M1759 750h0M1126 722h0M1859 487h0M1137 632h0M1760 496h0M1801 759h0M1238 597h0M1718 794h0M1664 571h0M1453 573h0M1428 810h0M1113 872h0M1103 858h0M1865 863h0M1384 508h0M1399 616h0M1143 783h0M1387 771h0M1123 643h0M1510 712h0M1333 653h0M1427 791h0M1163 710h0M1658 764h0M1131 710h0M1448 692h0M1792 708h0M1938 680h0M1488 796h0M1519 537h0M1930 857h0M1321 617h0M1753 924h0M1206 543h0M1712 563h0M1438 754h0M1620 628h0M1964 898h0M1478 528h0M1734 861h0M1124 822h0M1464 724h0M1553 835h0M1734 749h0M2141 615h0M1367 551h0M1758 659h0M1437 748h0M1542 748h0M1971 575h0M1529 473h0M1837 888h0M1875 703h0M1232 557h0M2026 660h0M1084 690h0M1166 765h0M2080 584h0M1172 711h0M1785 739h0M2015 813h0M1773 593h0M1357 644h0M1757 911h0M1123 626h0M1148 657h0M1247 589h0M1433 769h0M1764 751h0M1710 674h0M1994 748h0M1139 669h0M1473 622h0M1374 560h0M1780 500h0M1646 675h0M1892 716h0M1503 726h0M1929 560h0M1701 860h0M1832 782h0M2123 632h0M1766 652h0M1422 721h0M1786 900h0M1626 743h0M1043 753h0M1247 703h0M2061 539h0M1376 698h0M2097 588h0M1118 806h0M1794 708h0M1207 673h0M1665 611h0M1434 799h0M1516 502h0M1792 715h0M1835 758h0M1533 769h0M1517 615h0M1667 539h0M2012 838h0M1919 562h0M1833 805h0M1714 641h0M1639 557h0M1624 645h0M1633 652h0M2174 716h0M1251 678h0M1677 778h0M1138 852h0M1432 726h0M1528 667h0M1112 786h0M1801 783h0M1327 648h0M1786 712h0M1611 472h0M1556 645h0M1996 624h0M1752 867h0M1200 748h0M1738 836h0M1329 607h0M2143 806h0M1417 796h0M2064 787h0M1263 768h0M1972 577h0M1957 645h0M1908 571h0M1676 551h0M1377 749h0M1442 746h0M1604 660h0M1498 514h0M1215 549h0M2093 586h0M1462 627h0M1115 637h0M1940 693h0M2139 615h0M1935 561h0M1774 553h0M1697 478h0M1149 860h0M1590 541h0M1954 808h0M1750 796h0M1157 689h0M1956 800h0M1687 701h0M1392 628h0M1067 786h0M1821 751h0M1786 630h0M1285 605h0M1404 823h0M1127 855h0M1909 708h0M1814 775h0M1632 594h0M1860 661h0M1553 824h0M1174 806h0M1772 632h0M1840 605h0M1246 571h0M1703 800h0M1111 889h0M1860 824h0M1560 463h0M1125 699h0M1365 605h0M1404 530h0M1416 805h0M1934 851h0M1226 559h0M1638 501h0M1825 748h0M1267 642h0M1604 696h0M1346 647h0M1300 626h0M1041 769h0M1980 633h0M1648 666h0M1705 625h0M2108 729h0M1686 598h0M1824 597h0M1371 531h0M1767 515h0M1386 576h0M1352 670h0M2060 707h0M1912 628h0M1385 622h0M1739 807h0M1482 447h0M1052 712h0M1652 543h0M1849 679h0M1596 767h0M2146 707h0M1231 568h0M1594 524h0M1501 536h0M1557 466h0M1492 815h0M2115 570h0M1446 454h0M1524 628h0M1682 846h0M1395 602h0M1644 782h0M1677 758h0M1248 639h0M1503 638h0M1422 812h0M1872 740h0M1716 749h0M1537 498h0M1222 672h0M1660 710h0M1791 698h0M1063 818h0M1622 526h0M1867 834h0M1900 655h0M1168 741h0M1707 629h0M1837 538h0M1992 714h0M2022 530h0M1458 716h0M1380 617h0M1751 908h0M2032 691h0M1745 769h0M1610 866h0M1634 862h0M2177 647h0M1518 505h0M1808 632h0M1467 517h0M1461 503h0M1383 697h0M2178 677h0M1496 522h0M1946 728h0M1236 734h0M1660 555h0M1628 704h0M1620 631h0M1864 627h0M1141 787h0M1394 755h0M1360 595h0M1829 781h0M1817 740h0M1587 433h0M2012 614h0M1086 683h0M1267 563h0M1711 692h0M1563 595h0M1518 507h0M1650 482h0M1491 646h0M1498 806h0M1821 833h0M1855 781h0M1523 669h0M1842 620h0M1397 743h0M1137 802h0M1515 808h0M1165 726h0M1793 767h0M1684 444h0M1338 507h0M2023 787h0M1677 752h0M1439 713h0M1841 748h0M1337 560h0M1688 892h0M1255 623h0M1228 672h0M1897 919h0M1423 512h0M1750 621h0M1836 848h0M1428 510h0M1695 503h0M2090 741h0M1380 613h0M1338 569h0M1744 820h0M1733 802h0M1090 770h0M1615 644h0M1397 510h0M1475 658h0M1298 568h0M1077 860h0M1469 681h0M1602 764h0M1176 830h0M1751 942h0M1948 770h0M1264 514h0M1551 481h0M1829 550h0M1565 546h0M2120 569h0M1254 523h0M1514 517h0M1692 739h0M1923 729h0M1640 642h0M1120 746h0M1283 660h0M1467 506h0M1699 549h0M1269 538h0M1699 702h0M1174 784h0M1541 490h0M1833 616h0M1325 658h0M1196 686h0M1801 863h0M1495 645h0M1767 648h0M2018 909h0M1760 806h0M1304 702h0M2118 744h0M1741 653h0M1793 829h0M1576 502h0M1320 558h0M1870 571h0M1424 743h0M1291 701h0M2169 689h0M1335 524h0M1818 921h0M2126 650h0M1414 777h0M1704 904h0M1204 694h0M1132 807h0M1928 599h0M1277 523h0M1775 736h0M1137 861h0M1933 761h0M1668 540h0M1078 706h0M1195 591h0M1691 543h0M1685 585h0M1799 868h0M1449 599h0M1384 678h0M1809 589h0M1695 672h0M1862 814h0M1408 746h0M1260 673h0M1151 675h0M1173 635h0M1988 820h0M1512 533h0M1440 649h0M1554 497h0M1113 739h0M1882 541h0M2066 760h0M1186 642h0M1210 581h0M1670 756h0M1431 797h0M1355 557h0M1792 598h0M1930 904h0M1263 772h0M1355 720h0M1927 920h0M1466 554h0M1687 493h0M1249 689h0M1557 467h0M2125 653h0M2157 670h0M1256 614h0M1174 732h0M1813 829h0M2114 783h0M1841 647h0M1903 646h0M1139 768h0M1359 633h0M1590 565h0M1936 899h0M1740 735h0M1938 648h0M1325 655h0M1996 638h0M1796 798h0M1459 622h0M1092 769h0M2052 840h0M2138 635h0M2049 840h0M1490 733h0M1419 575h0M1042 781h0M1473 499h0M1923 868h0M1409 562h0M1219 539h0M1586 835h0M1111 698h0M1828 605h0M1845 615h0M2089 723h0M2077 622h0M1213 635h0M1083 784h0M1323 615h0M1658 830h0M1666 577h0M2172 676h0M2156 722h0M1644 657h0M1320 765h0M1720 834h0M1771 869h0M1758 464h0M1742 472h0M1719 458h0M1789 464h0M1701 441h0M1776 473h0M1774 483h0M1673 934h0M1334 914h0M1267 873h0M1465 907h0M1250 883h0M1582 898h0M1511 912h0M1306 893h0M1341 835h0M1240 889h0M1351 900h0M1548 901h0M1301 797h0M1499 918h0M1357 817h0M1516 877h0M1509 897h0M1733 940h0M1204 845h0M1543 890h0M1915 943h0M1494 881h0M1380 881h0M1470 876h0M1363 848h0M1592 905h0M1287 790h0M1286 813h0M1488 901h0M1375 854h0M1564 924h0M1266 873h0M1366 900h0M1398 830h0M1464 887h0M1286 880h0M1212 826h0M1653 943h0M1296 823h0M1549 896h0M1475 896h0M1538 892h0M1366 821h0M1468 878h0M1291 832h0M1663 931h0M1329 876h0M1368 912h0M1627 914h0M1747 955h0M1446 893h0M1505 871h0M1307 837h0M1223 866h0M1359 856h0M1392 852h0M1475 889h0M1331 843h0M1406 824h0M1767 968h0M1729 956h0M1317 865h0M1414 861h0M1233 845h0M1609 902h0M1178 888h0M1717 970h0M1550 914h0M1882 957h0M1581 932h0M1939 948h0M1377 840h0M1369 915h0M1263 803h0M1285 839h0M1732 951h0M1868 955h0M1282 815h0M1355 906h0M1242 898h0M1640 919h0M1395 858h0M1898 953h0M1447 909h0M1348 801h0M1789 966h0M1290 829h0M1256 842h0M1393 855h0M1299 829h0M1345 786h0M1650 928h0M1484 886h0M1283 818h0M1373 908h0M2003 945h0M1446 909h0M1368 861h0M1422 887h0M1301 806h0M1185 892h0M1546 895h0M1335 808h0M1289 874h0M1337 852h0M1327 867h0M1337 787h0M1265 913h0M1224 840h0M1462 913h0M1344 839h0M1564 891h0M1205 850h0M1300 835h0M1615 919h0M1635 907h0M1542 902h0M1213 842h0M1230 864h0M1334 795h0M1211 840h0M1494 912h0M1269 808h0M1415 863h0M1320 896h0M1245 816h0M1200 825h0M1330 867h0M1316 851h0M1218 880h0M1186 836h0M1347 799h0M1398 868h0M1721 950h0M1480 893h0M1261 807h0M1334 814h0M1985 957h0M1210 807h0M1397 833h0M1371 829h0M1307 815h0M1311 862h0M1227 893h0M1307 774h0M1325 862h0M1580 890h0M1267 809h0M1367 799h0M1268 827h0M1355 849h0M1296 819h0M1757 951h0M1312 810h0M1433 905h0M1536 933h0M1655 916h0M1736 957h0M1998 944h0M1226 858h0M1345 795h0M1603 914h0M1488 926h0M1484 1007h0M1371 914h0M1406 995h0M1405 961h0M1486 952h0M1238 938h0M1523 934h0M1420 1003h0M1487 989h0M1613 978h0M1342 958h0M1353 926h0M1230 932h0M1342 925h0M1407 986h0M1410 988h0M1381 943h0M1255 918h0M1373 973h0M1451 932h0M1376 938h0M1382 942h0M1484 965h0M1478 959h0M2029 923h0M2051 954h0M2046 961h0M2049 947h0M2005 941h0M1531 1136h0M1682 1091h0M1672 1033h0M1683 1130h0M1680 1111h0M1698 1077h0M1497 1147h0M1516 1121h0M1673 1032h0M1580 1116h0M1671 1024h0M1615 1069h0M1622 1097h0M1688 1127h0M1590 1146h0M1693 1104h0M1675 1102h0M1579 1134h0M1719 1067h0M1650 1078h0M1740 1108h0M1683 1069h0M1561 1077h0M1634 1139h0M1632 1090h0M1733 1044h0M1670 1094h0M1554 1163h0M1576 1146h0M1579 1093h0M1679 1124h0M1593 1105h0M1629 1097h0M1614 1124h0M1574 1120h0M1664 1080h0M1581 1052h0M1656 1077h0M1717 1118h0M1637 1098h0M1642 1085h0M1610 1121h0M1556 1056h0M1731 1089h0M1603 1104h0M1627 1146h0M1613 1120h0M1650 1084h0M1564 1085h0M1601 1154h0M1577 1129h0M1606 1128h0M1700 1096h0M1586 1085h0M1681 1111h0M1567 1129h0M1634 1038h0M1712 1075h0M1639 1116h0M1662 1112h0M1671 1106h0M1661 1058h0M1624 1017h0M1662 1068h0M1509 1131h0M1699 1079h0M1618 1075h0M1603 1032h0M1641 1028h0M1612 1131h0M1587 1079h0M1598 1104h0M1633 1031h0M1656 1038h0M1632 1128h0M1674 1120h0M1668 1117h0M1608 1120h0M1658 1035h0M1714 1119h0M1657 1034h0M1744 1069h0M1635 1116h0M1668 1080h0M1644 1037h0M1617 1104h0M1722 1035h0M1638 1140h0M1698 1093h0M1703 1116h0M1609 1031h0M1685 1103h0M1675 1064h0M1678 1078h0M1655 1124h0M1610 1059h0M1684 1031h0M1650 1120h0M1614 1102h0M1752 1063h0M1630 1144h0M1541 1056h0M1623 1128h0M1711 1090h0M1585 1149h0M1737 1050h0M1666 1108h0M1685 1061h0M1619 1120h0M1660 1129h0M1668 1083h0M1634 1132h0M1586 1034h0M1701 1125h0M1615 1127h0M1630 1136h0M1674 1080h0M1611 1053h0M1743 1095h0M1659 1125h0M1604 1081h0M1531 1099h0M1497 1111h0M1521 1128h0M1602 1095h0M1733 1107h0M1687 1100h0M1615 1037h0M1616 1029h0M1685 1085h0M1681 1090h0M1526 1136h0M1625 1128h0M1532 1096h0M1705 1128h0M1708 1114h0M1660 1084h0M1585 1147h0M1561 1136h0M1678 1124h0M1601 1084h0M1610 1060h0M1605 1072h0M1685 1126h0M1631 1065h0M1569 1149h0M1683 1121h0M1638 1049h0M1660 1134h0M1509 1133h0M1503 1107h0M1630 1099h0M1701 1114h0M1721 1098h0M1585 1153h0M1501 1144h0M1631 1026h0M1698 1129h0M1500 1152h0M1516 1145h0M1594 1027h0M1740 1065h0M1593 1074h0M1747 1051h0M1607 1121h0M1554 1080h0M1521 1159h0M1528 1118h0M1585 1057h0M1578 1057h0M1546 1073h0M1582 1100h0M1625 1128h0M1696 1037h0M1672 1116h0M1612 1072h0M1544 1081h0M1671 1080h0M1682 1090h0M1614 1085h0M1737 1139h0M1562 1083h0M1716 1125h0M1700 1169h0M1648 1146h0M1710 955h0M1869 1045h0M1948 1088h0M1745 1021h0M1985 1062h0M1674 958h0M1861 1054h0M1739 1017h0M1744 1008h0M1742 957h0M1724 968h0M1765 1026h0M1970 997h0M1864 987h0M1632 1006h0M1933 1029h0M1973 1053h0M1984 1020h0M1660 958h0M1886 1029h0M1996 1036h0M1691 974h0M1849 1066h0M1916 1035h0M1924 1024h0M1707 1021h0M2014 1016h0M1894 1073h0M1705 1009h0M1812 995h0M1990 1082h0M1749 1012h0M1928 1039h0M1827 1047h0M1863 1076h0M1700 946h0M1723 961h0M1945 1001h0M1683 1017h0M1845 976h0M2005 1041h0M1861 1022h0M1875 1082h0M1801 993h0M1982 1075h0M1866 1064h0M2003 1067h0M1833 1032h0M1857 1014h0M1920 1084h0M1721 974h0M1979 1065h0M1751 944h0M1650 964h0M1953 1066h0M1768 967h0M1889 1006h0M1801 1007h0M1685 959h0M1729 956h0M1904 973h0M1669 969h0M1958 1039h0M1843 1016h0M1899 1009h0M1716 1017h0M1701 953h0M1995 1035h0M1836 1059h0M1869 1050h0M1684 983h0M1941 997h0M1683 965h0M1954 962h0M1743 962h0M1789 966h0M1711 956h0M1707 993h0M1972 1104h0M1924 1001h0M1961 978h0M1867 1061h0M1828 994h0M1648 978h0M1877 959h0M1620 981h0M1650 944h0M1909 1008h0M1980 1037h0M2007 1083h0M1789 1019h0M1784 974h0M1697 964h0M1777 974h0M1760 1015h0M1859 1000h0M1837 976h0M1798 960h0M1611 953h0M1954 1031h0M1919 1067h0M1762 963h0M1782 993h0M1946 1027h0M1861 1025h0M1980 999h0M2000 1096h0M1714 995h0M1634 962h0M1965 1035h0M1705 1010h0M1868 1008h0M1775 1000h0M1989 1046h0M1861 1068h0M1992 935h0M1784 996h0M1736 969h0M1941 1054h0M1925 1083h0M1924 999h0M1781 1002h0M1777 1019h0M1964 1074h0M1989 1031h0M1844 963h0M1836 979h0M1785 1045h0M1746 961h0M1858 981h0M1995 966h0M1868 1075h0M1947 1002h0M2004 1001h0M1961 990h0M1800 994h0M1702 1023h0M1861 1065h0M1834 996h0M1838 1003h0M1792 1057h0M1792 1073h0M1800 1101h0M1813 1131h0M1779 1154h0M1904 1142h0M1789 1143h0M1748 1114h0M1885 1146h0M1882 1172h0M1718 1110h0M1906 1174h0M1878 1146h0M1790 1133h0M1717 1136h0M1744 1117h0M1814 1172h0M1760 1133h0M1909 1133h0M1807 1154h0M1895 1151h0M1812 1129h0M2022 1194h0M2047 1193h0M2000 1202h0M1911 1227h0M2021 1122h0M1904 1145h0M1970 1167h0M1916 1237h0M2018 1135h0M2024 1214h0M1900 1206h0M1859 1147h0M1992 1192h0M1901 1201h0M2063 1155h0M1971 1098h0M1937 1227h0M1875 1173h0M2059 1151h0M1997 1155h0M1996 1193h0M1960 1218h0M1857 1108h0M2024 1179h0M2046 1178h0M2052 1131h0M2068 1140h0M1912 1230h0M1934 1215h0M1865 1138h0M1996 1118h0M1998 1158h0M2013 1160h0M1926 1227h0M1972 1226h0M1963 1160h0M2079 1144h0M1988 1128h0M1948 1106h0M1995 1130h0M2106 1175h0M1911 1216h0M1991 1184h0M2070 1182h0M1893 1111h0M1984 1196h0M1848 1116h0M1959 1134h0M1932 1159h0M2058 1183h0M1903 1148h0M2008 1148h0M1857 1126h0M1908 1211h0M2024 1157h0M2112 1186h0M2104 1167h0M1859 1100h0M1970 1207h0M2002 1132h0M1848 1182h0M1974 1194h0M1885 1157h0M1880 1219h0M1981 1173h0M2038 1165h0M1862 1175h0M1948 1145h0M1969 1167h0M2022 1095h0M1913 1178h0M2041 1205h0M2034 1117h0M2007 1186h0M2017 1158h0M1906 1160h0M1999 1167h0M1984 1137h0M2028 1211h0M2039 1160h0M1910 1158h0M2054 1124h0M1924 1222h0M1909 1192h0M1917 1165h0M1922 1150h0M2018 1112h0M1929 1150h0M1953 1167h0M1864 1137h0M1953 1155h0M1973 1120h0M1914 1191h0M1994 1170h0M1922 1208h0M2015 1201h0M1882 1150h0M2036 1172h0M1961 1235h0M2365 1480h0M2311 1462h0M2302 1184h0M2423 1424h0M2080 1443h0M2176 1332h0M2087 1504h0M1839 1544h0M1867 1350h0M2130 1681h0M2435 1290h0M2333 1207h0M2165 1376h0M2273 1258h0M2155 1237h0M2455 1510h0M2546 1319h0M2244 1605h0M2427 1384h0M2360 1225h0M2022 1317h0M2372 1481h0M2522 1413h0M2079 1489h0M2066 1722h0M1868 1327h0M2203 1668h0M2212 1487h0M1992 1527h0M2460 1695h0M2527 1469h0M2188 1257h0M2388 1644h0M1951 1442h0M2658 1437h0M1761 1393h0M2283 1341h0M1868 1372h0M2622 1362h0M2248 1490h0M2037 1673h0M2240 1609h0M2217 1329h0M2502 1464h0M1981 1512h0M1861 1375h0M1974 1655h0M1890 1377h0M2067 1401h0M2481 1270h0M2394 1287h0M2349 1576h0M2249 1532h0M2313 1382h0M2353 1629h0M1993 1291h0M1825 1343h0M2259 1676h0M2473 1361h0M1931 1399h0M1859 1445h0M1994 1332h0M1904 1435h0M2132 1707h0M1925 1333h0M2302 1637h0M2022 1659h0M2361 1545h0M1939 1601h0M1955 1407h0M2172 1444h0M2391 1431h0M2362 1382h0M2368 1481h0M2102 1336h0M1965 1378h0M2240 1326h0M2379 1282h0M2250 1387h0M2177 1611h0M1893 1495h0M2184 1464h0M2437 1362h0M2309 1306h0M1741 1447h0M2252 1595h0M2299 1625h0M1942 1433h0M2588 1412h0M1937 1458h0M2491 1406h0M2051 1341h0M2296 1317h0M2203 1167h0M2154 1522h0M2420 1445h0M2124 1400h0M2254 1516h0M2362 1240h0M2263 1433h0M2229 1721h0M2596 1322h0M1841 1391h0M1779 1433h0M2582 1404h0M1798 1431h0M2051 1269h0M2164 1320h0M2022 1560h0M2273 1588h0M2253 1410h0M1929 1457h0M2341 1632h0M1789 1452h0M2354 1474h0M1971 1288h0M2304 1166h0M2223 1522h0M1857 1565h0M1754 1442h0M2167 1544h0M2154 1491h0M2347 1410h0M2455 1272h0M1935 1529h0M2026 1305h0M2311 1312h0M2099 1356h0M2416 1703h0M1810 1518h0M1956 1385h0M2197 1640h0M2376 1216h0M1877 1589h0M2166 1700h0M1856 1648h0M2149 1576h0M2259 1452h0M2393 1199h0M2003 1352h0M1830 1453h0M1988 1375h0M2070 1546h0M2462 1680h0M2178 1336h0M2303 1309h0M1967 1415h0M2049 1251h0M2115 1595h0M2045 1428h0M2110 1222h0M2157 1483h0M2094 1246h0M1945 1256h0M2141 1543h0M2493 1242h0M2549 1415h0M1855 1500h0M2437 1321h0M2194 1749h0M2317 1372h0M1906 1389h0M2376 1632h0M2236 1741h0M2190 1239h0M2349 1391h0M2058 1457h0M2050 1495h0M1990 1637h0M2500 1410h0M2490 1309h0M2161 1387h0M2260 1161h0M1820 1370h0M2447 1381h0M2258 1496h0M1945 1695h0M2105 1220h0M2451 1324h0M2018 1453h0M1935 1348h0M2456 1274h0M2043 1304h0M2431 1559h0M1937 1533h0M2477 1396h0M2476 1270h0M2265 1292h0M2173 1212h0M1816 1441h0M2056 1613h0M2458 1659h0M2267 1562h0M1783 1487h0M2361 1202h0M1954 1392h0M1794 1499h0M1960 1608h0M1761 1447h0M2533 1469h0M1950 1689h0M2274 1474h0M2420 1548h0M2271 1268h0M2015 1277h0M1834 1310h0M2223 1161h0M2389 1208h0M2463 1686h0M2095 1542h0M2549 1461h0M2317 1677h0M2491 1437h0M1920 1421h0M2383 1660h0M1901 1496h0M1898 1526h0M2288 1344h0M2371 1564h0M2008 1374h0M2235 1646h0M2434 1554h0M2179 1581h0M2120 1307h0M2325 1393h0M2082 1516h0M2175 1718h0M1938 1388h0M2329 1271h0M2314 1255h0M2118 1207h0M2514 1489h0M2392 1276h0M1907 1250h0M2311 1287h0M2319 1263h0M2003 1482h0M2264 1366h0M2418 1615h0M1842 1467h0M2454 1464h0M1791 1337h0M2197 1655h0M2256 1447h0M1994 1497h0M1984 1284h0M2270 1164h0M2509 1448h0M1923 1575h0M2249 1378h0M2037 1394h0M1955 1477h0M2437 1351h0M1795 1301h0M2136 1318h0M2016 1378h0M1795 1538h0M2171 1696h0M1898 1559h0M2309 1471h0M2329 1378h0M2522 1373h0M1990 1289h0M1999 1277h0M2238 1447h0M2432 1448h0M2396 1237h0M1884 1325h0M1858 1519h0M2001 1644h0M2075 1393h0M2128 1456h0M2402 1519h0M2302 1537h0M2352 1632h0M2030 1424h0M1815 1541h0M2571 1302h0M2218 1544h0M1922 1438h0M2054 1232h0M2193 1319h0M2281 1282h0M2378 1728h0M1911 1385h0M2436 1438h0M2314 1622h0M2192 1235h0M2142 1423h0M2521 1491h0M2521 1363h0M2182 1248h0M2554 1301h0M2415 1570h0M2317 1684h0M2374 1274h0M2409 1340h0M2392 1432h0M2529 1578h0M2250 1223h0M2468 1336h0M2490 1670h0M2269 1435h0M2189 1245h0M2174 1212h0M2116 1325h0M2026 1490h0M2104 1327h0M2275 1180h0M2688 1425h0M2222 1567h0M1857 1610h0M2465 1261h0M1942 1367h0M2260 1338h0M1879 1488h0M1910 1285h0M2406 1315h0M2353 1229h0M2525 1460h0M2175 1180h0M2253 1306h0M2125 1301h0M2038 1266h0M2132 1491h0M2463 1598h0M2208 1698h0M2142 1291h0M2214 1517h0M2249 1350h0M2285 1434h0M1821 1398h0M1768 1444h0M1967 1557h0M1966 1376h0M2367 1505h0M2589 1345h0M2185 1272h0M2399 1431h0M2213 1229h0M1814 1476h0M2089 1492h0M2019 1276h0M2520 1267h0M2037 1657h0M2129 1240h0M2465 1390h0M2120 1538h0M1920 1311h0M2349 1525h0M2117 1388h0M2398 1588h0M2104 1321h0M2104 1478h0M2260 1403h0M1814 1383h0M1966 1245h0M1936 1352h0M2158 1736h0M2217 1217h0M1988 1547h0M2494 1432h0M1887 1565h0M2397 1358h0M1781 1466h0M2015 1465h0M2075 1226h0M2172 1439h0M2454 1637h0M2037 1462h0M2307 1272h0M2433 1404h0M2327 1234h0M2161 1447h0M1830 1363h0M1908 1649h0M2357 1673h0M2125 1230h0M2368 1540h0M2556 1322h0M1999 1469h0M2341 1310h0M1889 1310h0M2196 1707h0M2271 1376h0M1785 1375h0M2316 1431h0M2062 1270h0M2308 1561h0M1972 1702h0M2221 1142h0M2300 1326h0M2086 1497h0M1959 1285h0M1979 1528h0M2146 1421h0M2327 1759h0M2148 1430h0M2034 1421h0M2300 1558h0M1912 1459h0M1979 1624h0M1911 1478h0M2156 1626h0M2203 1336h0M1779 1501h0M1898 1517h0M2541 1380h0M2330 1442h0M2414 1429h0M2141 1665h0M1859 1490h0M1924 1661h0M1807 1554h0M1841 1398h0M2340 1430h0M2186 1295h0M2027 1397h0M2424 1406h0M1808 1465h0M2490 1373h0M1909 1378h0M1999 1530h0M2067 1732h0M2299 1644h0M2044 1319h0M2206 1672h0M1986 1407h0M2022 1333h0M1857 1462h0M1840 1382h0M2121 1265h0M2466 1613h0M2008 1493h0M2098 1526h0M2210 1462h0M2228 1603h0M1801 1565h0M2551 1392h0M2248 1784h0M2532 1293h0M2200 1351h0M1908 1382h0M1828 1404h0M2351 1439h0M2500 1598h0M2415 1285h0M2518 1377h0M1838 1284h0M1807 1445h0M2284 1266h0M2107 1516h0M2303 1700h0M2038 1676h0M2304 1213h0M2493 1477h0M2117 1456h0M2528 1329h0M2537 1317h0M2396 1353h0M2087 1564h0M1985 1267h0M2537 1294h0M2110 1568h0M2514 1369h0M1944 1271h0M1899 1432h0M1914 1342h0M2464 1270h0M2232 1344h0M2458 1608h0M2517 1345h0M2289 1302h0M1845 1381h0M1774 1394h0M2234 1418h0M2284 1176h0M2084 1641h0M2381 1301h0M1823 1468h0M2335 1431h0M1834 1488h0M2388 1340h0M2383 1327h0M2415 1319h0M2002 1572h0M2298 1503h0M2289 1751h0M2355 1656h0M2489 1382h0M2440 1548h0M2019 1511h0M1979 1634h0M1876 1553h0M2255 1275h0M1795 1377h0M2023 1507h0M2575 1411h0M1875 1419h0M2164 1222h0M1905 1589h0M2700 1414h0M2183 1223h0M1832 1456h0M2093 1624h0M1933 1494h0M2412 1265h0M2142 1560h0M1788 1304h0M1935 1497h0M2041 1562h0M2464 1464h0M2102 1337h0M2170 1389h0M2449 1277h0M2467 1227h0M1959 1496h0M2553 1291h0M1856 1435h0M2265 1334h0M2540 1331h0M2162 1366h0M1989 1475h0M2113 1568h0M2192 1155h0M2340 1347h0M2039 1515h0M2179 1631h0M2113 1411h0M1985 1314h0M2233 1483h0M2472 1666h0M2380 1286h0M2595 1337h0M1862 1433h0M2125 1492h0M2168 1569h0M2187 1648h0M2029 1494h0M2467 1451h0M2579 1418h0M2448 1543h0M1838 1393h0M1921 1362h0M2472 1459h0M2378 1504h0M2046 1394h0M2137 1234h0M1922 1570h0M2376 1609h0M2301 1269h0M2283 1186h0M1999 1445h0M2352 1427h0M2354 1517h0M2460 1349h0M2429 1324h0M2216 1499h0M1982 1520h0M2080 1679h0M2270 1243h0M2184 1320h0M2350 1464h0M2313 1559h0M2549 1444h0M2345 1626h0M1846 1484h0M2326 1683h0M2399 1413h0M1968 1444h0M2430 1355h0M2211 1564h0M2229 1651h0M2216 1347h0M2530 1350h0M2290 1309h0M2002 1511h0M2567 1423h0M1958 1287h0M1962 1585h0M2231 1500h0M2158 1300h0M2170 1277h0M2275 1172h0M1926 1493h0M2432 1501h0M1966 1407h0M1853 1289h0M2303 1231h0M2152 1675h0M2256 1496h0M2348 1323h0M2394 1273h0M2312 1485h0M1870 1359h0M2379 1502h0M2282 1349h0M2016 1354h0M2203 1240h0M2523 1304h0M2338 1603h0M2508 1374h0M1879 1507h0M2125 1297h0M2215 1282h0M1805 1549h0M2011 1478h0M1995 1646h0M2056 1409h0M1837 1299h0M2304 1550h0M2118 1486h0M2191 1222h0M2427 1282h0M2447 1309h0M2461 1391h0M1853 1521h0M1930 1408h0M1994 1640h0M2039 1532h0M2209 1407h0M2111 1327h0M2256 1235h0M2616 1375h0M2195 1532h0M2382 1371h0M1820 1614h0M2029 1634h0M2128 1685h0M2428 1358h0M1913 1499h0M1925 1280h0M2312 1708h0M2229 1182h0M1945 1313h0M2483 1449h0M2488 1261h0M1760 1415h0M2326 1229h0M1898 1252h0M1857 1606h0M2273 1707h0M2474 1462h0M2386 1326h0M2038 1368h0M2603 1363h0M2260 1272h0M2353 1549h0M2529 1266h0M2381 1249h0M2477 1334h0M2157 1686h0M2532 1392h0M2258 1305h0M2448 1457h0M1936 1483h0M1881 1657h0M2499 1430h0M2280 1240h0M2258 1376h0M2759 1438h0M1846 1458h0M1806 1446h0M2164 1528h0M1898 1381h0M2401 1693h0M2004 1415h0M2596 1336h0M2193 1182h0M2305 1305h0M2303 1419h0M2153 1308h0M2071 1511h0M1829 1383h0M2010 1685h0M2215 1427h0M2246 1421h0M2164 1625h0M2243 1441h0M2128 1275h0M2380 1291h0M1850 1307h0M2466 1478h0M1999 1411h0M2451 1580h0M2279 1681h0M2311 1257h0M1776 1473h0M2340 1388h0M2282 1534h0M2540 1451h0M2023 1255h0M2500 1612h0M2528 1371h0M2506 1375h0M2560 1274h0M2519 1651h0M1791 1376h0M1941 1270h0M2427 1603h0M1819 1527h0M2032 1448h0M2194 1355h0M2495 1270h0M2396 1199h0M2085 1471h0M2448 1395h0M2236 1330h0M2472 1414h0M2127 1682h0M2243 1204h0M2138 1620h0M2163 1464h0M2018 1645h0M2528 1334h0M2361 1508h0M2353 1571h0M2330 1263h0M1963 1327h0M2350 1313h0M2573 1382h0M2386 1596h0M2363 1515h0M2183 1764h0M2267 1328h0M1985 1632h0M2575 1332h0M1809 1319h0M2131 1471h0M2109 1192h0M2046 1438h0M2559 1303h0M1869 1586h0M2407 1519h0M1907 1388h0M2141 1220h0M2159 1425h0M2239 1397h0M2299 1360h0M2607 1325h0M2419 1552h0M1840 1445h0M2341 1293h0M2445 1307h0M2453 1296h0M2208 1486h0M2268 1572h0M2597 1309h0M2335 1216h0M2276 1219h0M2732 1425h0M2203 1669h0M2267 1301h0M1949 1580h0M2595 1411h0M2107 1733h0M2062 1350h0M1982 1334h0M2350 1574h0M2293 1304h0M2188 1221h0M2058 1385h0M2388 1625h0M1899 1433h0M2418 1320h0M2279 1231h0M2328 1776h0M2250 1569h0M1818 1513h0M1951 1370h0M2196 1506h0M2433 1499h0M2481 1594h0M2283 1357h0M2096 1420h0M2517 1339h0M1830 1435h0M1905 1592h0M1879 1405h0M2486 1625h0M1887 1441h0M2310 1433h0M2235 1448h0M1940 1353h0M2100 1657h0M1977 1386h0M2484 1379h0M1959 1661h0M2573 1437h0M2057 1295h0M2598 1398h0M2436 1440h0M2169 1594h0M2116 1448h0M2456 1223h0M2288 1473h0M2391 1305h0M2180 1703h0M2153 1632h0M1813 1374h0M1861 1373h0M2380 1333h0M1954 1399h0M2367 1481h0M2023 1356h0M2397 1361h0M2163 1508h0M2597 1412h0M1954 1310h0M2500 1509h0M1781 1361h0M1897 1373h0M2143 1613h0M1893 1445h0M2056 1514h0M2473 1446h0M2215 1152h0M1942 1290h0M1861 1252h0M2470 1456h0M2489 1455h0M2044 1529h0M2272 1713h0M1825 1524h0M2435 1351h0M1763 1460h0M2257 1673h0M1826 1536h0M1938 1662h0M2336 1237h0M1954 1413h0M2454 1242h0M2187 1195h0M2459 1592h0M1894 1594h0M2176 1568h0M1990 1531h0M1941 1334h0M2521 1321h0M1876 1248h0M2167 1344h0M1936 1266h0M2511 1252h0M2242 1374h0M2110 1754h0M2394 1270h0M2393 1244h0M2305 1389h0M1950 1653h0M1769 1483h0M1944 1394h0M2183 1724h0M2086 1542h0M2145 1550h0M2347 1208h0M2415 1667h0M2069 1344h0M2124 1416h0M1836 1516h0M1927 1671h0M2034 1568h0M2080 1270h0M2519 1444h0M2296 1508h0M2035 1345h0M1981 1550h0M2251 1404h0M1934 1350h0M2131 1393h0M2409 1572h0M2453 1381h0M1859 1323h0M2279 1720h0M2368 1225h0M2261 1523h0M2392 1536h0M2290 1479h0M2010 1482h0M2225 1694h0M2263 1297h0M2182 1601h0M2312 1462h0M2296 1656h0M2448 1622h0M1780 1335h0M2279 1548h0M1862 1569h0M2516 1477h0M2138 1538h0M1942 1265h0M2220 1149h0M2342 1691h0M1971 1358h0M2244 1317h0M2079 1538h0M1943 1353h0M2339 1670h0M1993 1429h0M2084 1672h0M2122 1341h0M2018 1460h0M1936 1420h0M2323 1284h0M2164 1552h0M2084 1504h0M2211 1695h0M1817 1277h0M2283 1292h0M2493 1375h0M2227 1655h0M2465 1647h0M2296 1186h0M1830 1326h0M2433 1524h0M2587 1411h0M2517 1339h0M2277 1302h0M2330 1525h0M2443 1695h0M2221 1182h0M2171 1438h0M2447 1485h0M2233 1176h0M2278 1305h0M2416 1316h0M2314 1385h0M2162 1676h0M1831 1398h0M2132 1237h0M2336 1185h0M2299 1459h0M2182 1468h0M1840 1392h0M2195 1152h0M2054 1450h0M2454 1263h0M2265 1403h0M2168 1538h0M2014 1238h0M1983 1488h0M2308 1404h0M2004 1488h0M2223 1228h0M1958 1228h0M2438 1566h0M1968 1452h0M2317 1228h0M2028 1257h0M1919 1520h0M1868 1587h0M2394 1466h0M2112 1201h0M2221 1294h0M2104 1527h0M2272 1701h0M1964 1452h0M2585 1367h0M2096 1744h0M2143 1236h0M2013 1458h0M2132 1425h0M2451 1233h0M2374 1479h0M2166 1277h0M2161 1716h0M2169 1313h0M2452 1683h0M2385 1285h0M1880 1444h0M1936 1339h0M2089 1499h0M2047 1327h0M2331 1190h0M2152 1261h0M1949 1414h0M2247 1423h0M1882 1362h0M2249 1353h0M2318 1675h0M2301 1190h0M2214 1182h0M2602 1388h0M2256 1238h0M2466 1393h0M2124 1306h0M2497 1460h0M2264 1433h0M1809 1456h0M1747 1396h0M1878 1622h0M1975 1406h0M2348 1571h0M2047 1628h0M2277 1442h0M2165 1427h0M2320 1477h0M2236 1606h0M2035 1243h0M2131 1310h0M2471 1244h0M2076 1350h0M1820 1513h0M2423 1525h0M2337 1431h0M2672 1383h0M2307 1549h0M2618 1411h0M2459 1617h0M2070 1305h0M2185 1717h0M2259 1178h0M1818 1557h0M1954 1449h0M2160 1201h0M2385 1673h0M2010 1346h0M1946 1317h0M2145 1649h0M2001 1420h0M1771 1395h0M2101 1759h0M2002 1461h0M2313 1663h0M2035 1251h0M1951 1503h0M2361 1669h0M2415 1441h0M2341 1289h0M1954 1571h0M2102 1447h0M1997 1314h0M2039 1275h0M2375 1201h0M2012 1428h0M2360 1472h0M2168 1560h0M2005 1439h0M2396 1666h0M1934 1505h0M1807 1321h0M2013 1625h0M2285 1659h0M2247 1564h0M2459 1278h0M2297 1188h0M2487 1354h0M2546 1314h0M2551 1279h0M2050 1617h0M1965 1233h0M1936 1279h0M2009 1718h0M2384 1505h0M2013 1285h0M2399 1433h0M2293 1548h0M2307 1545h0M1977 1562h0M2182 1276h0M1861 1414h0M2470 1540h0M1788 1531h0M2503 1479h0M2241 1355h0M2077 1519h0M2282 1526h0M2484 1315h0M2469 1347h0M2342 1512h0M2393 1449h0M2620 1383h0M1999 1312h0M1955 1492h0M2210 1450h0M2441 1276h0M2198 1541h0M2114 1284h0M2428 1638h0M1921 1280h0M2430 1392h0M2018 1723h0M2122 1528h0M2718 1426h0M1964 1359h0M2583 1370h0M2384 1280h0M2200 1205h0M2007 1351h0M2155 1445h0M2522 1293h0M2222 1621h0M2346 1764h0M2332 1190h0M2239 1651h0M1865 1279h0M2094 1694h0M2240 1314h0M2445 1514h0M2255 1778h0M2170 1313h0M1877 1313h0M2021 1571h0M1802 1374h0M2370 1229h0M2509 1480h0M2309 1470h0M2005 1467h0M2382 1437h0M2205 1425h0M2288 1728h0M2084 1474h0M2137 1508h0M1997 1336h0M2424 1647h0M2397 1401h0M2337 1249h0M2341 1297h0M2298 1215h0M2106 1284h0M2234 1222h0M2148 1255h0M2408 1566h0M2161 1489h0M2318 1518h0M2219 1211h0M1809 1415h0M2030 1590h0M1951 1698h0M2143 1493h0M2466 1364h0M2261 1303h0M2005 1371h0M2321 1361h0M1962 1343h0M1902 1351h0M2366 1196h0M2245 1195h0M2376 1211h0M2298 1578h0M1972 1395h0M2033 1329h0M2198 1172h0M2402 1558h0M2129 1258h0M1863 1290h0M1787 1311h0M2545 1290h0M2435 1502h0M2377 1302h0M2463 1407h0M2156 1338h0M1965 1272h0M2299 1371h0M2424 1550h0M2420 1448h0M2176 1385h0M2618 1362h0M2310 1297h0M2517 1299h0M2251 1342h0M1850 1273h0M2163 1536h0M2301 1728h0M2334 1290h0M2314 1538h0M2280 1250h0M2188 1728h0M2454 1556h0M2178 1281h0M2440 1534h0M2337 1252h0M1819 1315h0M2102 1567h0M2349 1683h0M2419 1380h0M2248 1263h0M2078 1681h0M2145 1362h0M2577 1303h0M1865 1317h0M1929 1515h0M2466 1261h0M1871 1491h0M1861 1287h0M2203 1245h0M1908 1579h0M2015 1630h0M2332 1523h0M1958 1404h0M2441 1279h0M2431 1656h0M2240 1451h0M1943 1619h0M2199 1670h0M2215 1511h0M2337 1643h0M1842 1478h0M1906 1515h0M2201 1707h0M1979 1705h0M2286 1244h0M2548 1374h0M2241 1408h0M2228 1499h0M2070 1667h0M2019 1490h0M1904 1346h0M2373 1224h0M1891 1379h0M1971 1289h0M1793 1389h0M2059 1572h0M2490 1599h0M1903 1525h0M2103 1473h0M2350 1251h0M2194 1567h0M1939 1460h0M1988 1675h0M2291 1473h0M2120 1261h0M1994 1421h0M2014 1388h0M2423 1527h0M2231 1342h0M2292 1631h0M2056 1626h0M2250 1205h0M1871 1614h0M2537 1333h0M1890 1493h0M2358 1240h0M1910 1266h0M2417 1651h0M2230 1609h0M2362 1391h0M2421 1285h0M1970 1289h0M2430 1450h0M1996 1471h0M2315 1282h0M2119 1354h0M2195 1373h0M1829 1359h0M1972 1639h0M2568 1324h0M2437 1457h0M2090 1365h0M2056 1227h0M2226 1227h0M2197 1399h0M2166 1344h0M2422 1589h0M2507 1449h0M2146 1557h0M2243 1259h0M1826 1403h0M2597 1327h0M2282 1302h0M2401 1611h0M2112 1542h0M1794 1453h0M1975 1614h0M2469 1416h0M2391 1420h0M2371 1631h0M2264 1473h0M1995 1421h0M2339 1373h0M2393 1437h0M1935 1232h0M2347 1768h0M2519 1590h0M2225 1692h0M2570 1391h0M1990 1684h0M1833 1543h0M1917 1393h0M1890 1565h0M2131 1375h0M2121 1356h0M1762 1340h0M2025 1273h0M2295 1510h0M2232 1382h0M2302 1543h0M2301 1293h0M2573 1444h0M2294 1380h0M1993 1345h0M2531 1367h0M2178 1375h0M2271 1182h0M2221 1168h0M2159 1476h0M1998 1359h0M2277 1309h0M1737 1464h0M1856 1540h0M2460 1446h0M2350 1361h0M2281 1350h0M2170 1266h0M2109 1308h0M1906 1464h0M2333 1406h0M2336 1229h0M2260 1677h0M2034 1222h0M2619 1372h0M2004 1399h0M2151 1542h0M2276 1174h0M2301 1642h0M2392 1681h0M2322 1711h0M2206 1239h0M1906 1359h0M2060 1504h0M2227 1540h0M2097 1679h0M1840 1457h0M1837 1351h0M2136 1408h0M1923 1370h0M2260 1390h0M2212 1213h0M2358 1581h0M2202 1696h0M1827 1492h0M2471 1301h0M2176 1211h0M1937 1331h0M2333 1449h0M1986 1292h0M2080 1523h0M2080 1662h0M2310 1170h0M2508 1310h0M2368 1185h0M2448 1466h0M2403 1438h0M2020 1279h0M2647 1390h0M2604 1417h0M2034 1684h0M2614 1374h0M1952 1691h0M1980 1312h0M2114 1339h0M2327 1612h0M1827 1415h0M2027 1306h0M2292 1502h0M2182 1420h0M2378 1511h0M2224 1603h0M2299 1359h0M2532 1336h0M1899 1305h0M2219 1528h0M1946 1269h0M1980 1268h0M2407 1527h0M1921 1495h0M2030 1347h0M2276 1293h0M2465 1266h0M2308 1242h0M2024 1375h0M2029 1257h0M2376 1402h0M1999 1642h0M2046 1311h0M2222 1589h0M2450 1385h0M2293 1187h0M1968 1413h0M2023 1234h0M1817 1413h0M2015 1269h0M2697 1438h0M2605 1400h0M2375 1406h0M2086 1330h0M1733 1464h0M2321 1761h0M1821 1457h0M1928 1632h0M1906 1475h0M2172 1208h0M2441 1499h0M1979 1529h0M2573 1397h0M2437 1541h0M2446 1539h0M2513 1503h0M2116 1445h0M1780 1325h0M2382 1363h0M2422 1518h0M2165 1382h0M2367 1646h0M1945 1459h0M2003 1499h0M2233 1605h0M2357 1452h0M2437 1275h0M2092 1407h0M2321 1764h0M1921 1324h0M2010 1403h0M2096 1495h0M2719 1407h0M1811 1475h0M1843 1518h0M2471 1480h0M1934 1291h0M2344 1585h0M2264 1431h0M1898 1414h0M2276 1191h0M2207 1222h0M2071 1304h0M2403 1342h0M2246 1354h0M2001 1418h0M1872 1394h0M1913 1545h0M2341 1408h0M2426 1440h0M2153 1411h0M1956 1340h0M2165 1535h0M2601 1392h0M1864 1376h0M2270 1499h0M2377 1420h0M2521 1350h0M2060 1654h0M2268 1413h0M2069 1292h0M1933 1496h0M2253 1354h0M2116 1202h0M1898 1256h0M2368 1560h0M1842 1367h0M2253 1450h0M2155 1245h0M2201 1496h0M1785 1386h0M2245 1318h0M2585 1299h0M2128 1586h0M2386 1290h0M1967 1266h0M1987 1651h0M2043 1560h0M2149 1237h0M1886 1405h0M1798 1548h0M2275 1167h0M2245 1266h0M1981 1473h0M2023 1566h0M2193 1395h0M2440 1617h0M2048 1292h0M2597 1433h0M2177 1574h0M1987 1294h0M2172 1491h0M1985 1461h0M2128 1560h0M2294 1646h0M2161 1626h0M2369 1308h0M2169 1475h0M2325 1690h0M2520 1418h0M2202 1616h0M2027 1337h0M2132 1612h0M2047 1719h0M1842 1410h0M2401 1367h0M2362 1567h0M2495 1423h0M2208 1333h0M2237 1677h0M1930 1378h0M1910 1243h0M1752 1486h0M2413 1740h0M2249 1555h0M2178 1224h0M2362 1318h0M2008 1424h0M1917 1455h0M2344 1188h0M2279 1347h0M2363 1531h0M2242 1507h0M2253 1331h0M2210 1222h0M2235 1327h0M2256 1381h0M2574 1343h0M2296 1195h0M2067 1458h0M2162 1506h0M1827 1404h0M2384 1467h0M1920 1521h0M2094 1208h0M2274 1697h0M2033 1278h0M2087 1240h0M1859 1285h0M2500 1364h0M1876 1489h0M2437 1267h0M1977 1318h0M2530 1469h0M2578 1405h0M1958 1541h0M2108 1310h0M1966 1301h0M2227 1636h0M2201 1294h0M2034 1566h0M2164 1336h0M1876 1587h0M2356 1178h0M1781 1473h0M2519 1419h0M2524 1373h0M2135 1377h0M2005 1244h0M2520 1466h0M1907 1655h0M2043 1524h0M2246 1449h0M2162 1360h0M2219 1533h0M2321 1654h0M2526 1388h0M2174 1268h0M2312 1188h0M1980 1428h0M2482 1368h0M2282 1487h0M2047 1311h0M2319 1551h0M1874 1374h0M2572 1363h0M2389 1431h0M2517 1333h0M1920 1294h0M2030 1573h0M2002 1431h0M2523 1357h0M2094 1273h0M1822 1596h0M2341 1401h0M2079 1328h0M2280 1225h0M2012 1614h0M2074 1721h0M2039 1529h0M2452 1278h0M2007 1388h0M2410 1368h0M1944 1374h0M1901 1525h0M1980 1501h0M1948 1372h0M2009 1378h0M2312 1376h0M2324 1293h0M2522 1319h0M2238 1403h0M1885 1426h0M1974 1632h0M2210 1177h0M2130 1405h0M2187 1346h0M2208 1569h0M1776 1539h0M2212 1521h0M2124 1396h0M1998 1358h0M1949 1318h0M2337 1575h0M2494 1409h0M2006 1704h0M1998 1303h0M2220 1543h0M1850 1263h0M2608 1420h0M2398 1473h0M2249 1350h0M2103 1314h0M2242 1395h0M2184 1344h0M1959 1614h0M1971 1554h0M2034 1300h0M2163 1571h0M2364 1605h0M2603 1323h0M2036 1488h0M2107 1244h0M2258 1263h0M1993 1294h0M1926 1373h0M2014 1554h0M2441 1538h0M2631 1419h0M2245 1220h0M2164 1422h0M2452 1458h0M2435 1337h0M2420 1213h0M2048 1572h0M2030 1271h0M2465 1395h0M2367 1731h0M2295 1398h0M2330 1506h0M2391 1465h0M2024 1503h0M2456 1270h0M2137 1400h0M2646 1429h0M1907 1446h0M1993 1359h0M2302 1186h0M2070 1555h0M2359 1648h0M2341 1737h0M1862 1308h0M2217 1255h0M2190 1240h0M2004 1464h0M2317 1360h0M2136 1288h0M1966 1288h0M2455 1382h0M1792 1449h0M2323 1245h0M1934 1545h0M2117 1207h0M1961 1346h0M2052 1531h0M2613 1332h0M2349 1472h0M2409 1523h0M2437 1318h0M2203 1152h0M1951 1573h0M2088 1575h0M1827 1351h0M2503 1347h0M2217 1732h0M1953 1617h0M1931 1438h0M1949 1343h0M2209 1278h0M2296 1269h0M2036 1579h0M2129 1662h0M1994 1512h0M2185 1229h0M2270 1683h0M1987 1324h0M1842 1407h0M2135 1591h0M1782 1458h0M1757 1456h0M2314 1684h0M2389 1364h0M2195 1366h0M2240 1596h0M2258 1300h0M2267 1308h0M2344 1584h0M1876 1486h0M2452 1550h0M1830 1495h0M2511 1355h0M1766 1483h0M2381 1365h0M2259 1602h0M2737 1428h0M2037 1461h0M2185 1207h0M2177 1403h0M1969 1392h0M1825 1585h0M1856 1369h0M1919 1373h0M2058 1334h0M2340 1251h0M2439 1392h0M1749 1399h0M1902 1429h0M2285 1641h0M2242 1622h0M2217 1475h0M1933 1443h0M1761 1379h0M2187 1162h0M2208 1165h0M2550 1464h0M2394 1398h0M2036 1597h0M2082 1441h0M2216 1631h0M1804 1473h0M2043 1648h0M1903 1297h0M2262 1624h0M2034 1438h0M2305 1319h0M2010 1575h0M2108 1387h0M2301 1499h0M2254 1463h0M2243 1583h0M1908 1278h0M2369 1243h0M2229 1543h0M1804 1492h0M2057 1240h0M2367 1490h0M1970 1440h0M2297 1292h0M2524 1348h0M1850 1440h0M2569 1323h0M2300 1584h0M2455 1455h0M2424 1216h0M1898 1599h0M2459 1365h0M2456 1377h0M2103 1308h0M2533 1502h0M1851 1444h0M2316 1214h0M1909 1433h0M1822 1280h0M2417 1312h0M2356 1269h0M2396 1281h0M2402 1303h0M2044 1503h0M2299 1421h0M1738 1411h0M2271 1428h0M2407 1738h0M2284 1506h0M2236 1416h0M2415 1745h0M1994 1286h0M2003 1363h0M2335 1365h0M2214 1733h0M2162 1425h0M2355 1593h0M2398 1206h0M1969 1440h0M2431 1485h0M2487 1280h0M2209 1513h0M1952 1695h0M2226 1273h0M2101 1278h0M2223 1424h0M1996 1431h0M1893 1496h0M1875 1437h0M2166 1453h0M1858 1368h0M2534 1306h0M2242 1384h0M2452 1212h0M2143 1402h0M2718 1426h0M1965 1548h0M2126 1541h0M2366 1436h0M2495 1508h0M2229 1618h0M2006 1322h0M2177 1642h0M1925 1402h0M2203 1523h0M2162 1430h0M2255 1330h0M2246 1342h0M2381 1340h0M1811 1462h0M2195 1357h0M2302 1269h0M2252 1220h0M2025 1474h0M2329 1252h0M1983 1410h0M2162 1757h0M2222 1199h0M2245 1732h0M1947 1246h0M2326 1223h0M1792 1555h0M2303 1545h0M2338 1741h0M1910 1306h0M2570 1355h0M2219 1646h0M2567 1411h0M2117 1204h0M2288 1477h0M2410 1506h0M2561 1417h0M2252 1471h0M2602 1388h0M1743 1390h0M1859 1295h0M1790 1477h0M2070 1224h0M1912 1253h0M1830 1474h0M1775 1532h0M2340 1707h0M2043 1292h0M1952 1482h0M2482 1475h0M2041 1272h0M2447 1324h0M1894 1611h0M2533 1369h0M2197 1713h0M2296 1188h0M2514 1330h0M1751 1388h0M2078 1304h0M1926 1366h0M2409 1585h0M2407 1330h0M1985 1311h0M1805 1344h0M1918 1298h0M2173 1276h0M2372 1675h0M2078 1579h0M2519 1544h0M2006 1604h0M2403 1529h0M2252 1516h0M1810 1521h0M2013 1339h0M2383 1288h0M2029 1335h0M2326 1238h0M1979 1375h0M2341 1255h0M2112 1637h0M2111 1561h0M2476 1362h0M2274 1701h0M2161 1436h0M2105 1317h0M2018 1485h0M1812 1430h0M2286 1403h0M1869 1445h0M2293 1380h0M1830 1479h0M2197 1674h0M2276 1231h0M2250 1406h0M2506 1312h0M2471 1282h0M2111 1554h0M2459 1379h0M1849 1534h0M1803 1570h0M1758 1441h0M2462 1642h0M1909 1533h0M2083 1608h0M1814 1578h0M2142 1691h0M2003 1681h0M2167 1572h0M2056 1485h0M2718 1415h0M2191 1369h0M1891 1312h0M1802 1396h0M2278 1309h0M2277 1486h0M1935 1354h0M2023 1481h0M2445 1568h0M2199 1481h0M2156 1220h0M1754 1443h0M2320 1256h0M1804 1336h0M2263 1374h0M2164 1715h0M1932 1392h0M2343 1653h0M2447 1585h0M2189 1375h0M2386 1294h0M2283 1661h0M2297 1188h0M2022 1338h0M2207 1486h0M2462 1384h0M2072 1670h0M2453 1446h0M2175 1583h0M1877 1435h0M2046 1320h0M2284 1263h0M2010 1607h0M1787 1300h0M2200 1625h0M2114 1507h0M2217 1333h0M2468 1515h0M1784 1365h0M2323 1209h0M1819 1532h0M2222 1172h0M2001 1578h0M2331 1256h0M2486 1555h0M2501 1501h0M2485 1552h0M2469 1458h0M2442 1535h0M2340 1329h0M1872 1318h0M1853 1457h0M2106 1199h0M2300 1288h0M2411 1370h0M1875 1428h0M2200 1661h0M2123 1530h0M1944 1666h0M1875 1334h0M2134 1414h0M2229 1220h0M1913 1297h0M2288 1486h0M2208 1190h0M1953 1245h0M2112 1197h0M2091 1576h0M2551 1373h0M2308 1682h0M1875 1491h0M2001 1513h0M1984 1269h0M2218 1431h0M2627 1361h0M2298 1376h0M2166 1275h0M2372 1635h0M1794 1329h0M2401 1218h0M2307 1393h0M1972 1390h0M2592 1367h0M2480 1646h0M2213 1543h0M2006 1532h0M2153 1305h0M2216 1498h0M2258 1248h0M2560 1340h0M2071 1261h0M2221 1175h0M2216 1455h0M2001 1453h0M2210 1258h0M2080 1501h0M1929 1382h0M2246 1337h0M2145 1698h0M2049 1506h0M2055 1307h0M2102 1334h0M2527 1331h0M2423 1219h0M2261 1504h0M2385 1467h0M2306 1560h0M1991 1315h0M2372 1576h0M2367 1552h0M2072 1439h0M2123 1423h0M2230 1463h0M2109 1695h0M2410 1348h0M2187 1260h0M2339 1212h0M2597 1407h0M1834 1583h0M1808 1311h0M2002 1353h0M2404 1337h0M2271 1403h0M2125 1356h0M2030 1461h0M1988 1541h0M2330 1366h0M2110 1518h0M2158 1525h0M2391 1225h0M2370 1648h0M2025 1318h0M2214 1434h0M1947 1462h0M1986 1569h0M2507 1490h0M2275 1474h0M2129 1416h0M2074 1727h0M1898 1283h0M2427 1586h0M2250 1288h0M1816 1594h0M2149 1504h0M2316 1666h0M2238 1228h0M2381 1460h0M1886 1354h0M2049 1711h0M2242 1644h0M2078 1393h0M2465 1649h0M2098 1235h0M2108 1685h0M1915 1500h0M1835 1378h0M2404 1578h0M2486 1392h0M2064 1341h0M2349 1230h0M2130 1547h0M2728 1429h0M2301 1306h0M2213 1550h0M2628 1379h0M1933 1430h0M2209 1195h0M2511 1461h0M2444 1285h0M2365 1468h0M2282 1195h0M2175 1591h0M2298 1525h0M2102 1292h0M2442 1310h0M1799 1306h0M1867 1557h0M2028 1509h0M2076 1347h0M2240 1403h0M1995 1471h0M2048 1341h0M2286 1690h0M2454 1259h0M2237 1544h0M2679 1421h0M2148 1227h0M2510 1334h0M2158 1694h0M2404 1517h0M2135 1287h0M2437 1540h0M1898 1363h0M1788 1463h0M2579 1346h0M1788 1440h0M2280 1724h0M2140 1549h0M2274 1507h0M2026 1408h0M2232 1786h0M1912 1394h0M2381 1486h0M2308 1349h0M2478 1598h0M2497 1351h0M2151 1572h0M2030 1468h0M2265 1296h0M2008 1651h0M2002 1433h0M2432 1538h0M2425 1235h0M2413 1511h0M2103 1742h0M1988 1687h0M2389 1431h0M2295 1266h0M2607 1371h0M2417 1232h0M2014 1287h0M2486 1247h0M2425 1597h0M2612 1422h0M2172 1213h0M2255 1446h0M1827 1500h0M2177 1371h0M2286 1361h0M2505 1502h0M2586 1370h0M2289 1656h0M2495 1434h0M2481 1420h0M2009 1419h0M2090 1401h0M1828 1462h0M2504 1483h0M1902 1399h0M2398 1346h0M2087 1589h0M1949 1608h0M2488 1460h0M2321 1300h0M2016 1460h0M2592 1398h0M2607 1340h0M2017 1633h0M2029 1488h0M1966 1287h0M1914 1512h0M2288 1679h0M1808 1332h0M2099 1674h0M2372 1179h0M2469 1297h0M2263 1745h0M2033 1397h0M1928 1488h0M2139 1409h0M2171 1183h0M2395 1270h0M2311 1263h0M2315 1242h0M2244 1509h0M1868 1330h0M1754 1430h0M2299 1181h0M2224 1333h0M2308 1431h0M2032 1676h0M2264 1334h0M2006 1388h0M2089 1512h0M2579 1349h0M1928 1430h0M2197 1534h0M2446 1509h0M2513 1500h0M2294 1480h0M2334 1529h0M1896 1648h0M2480 1635h0M1934 1447h0M2098 1457h0M2026 1346h0M1795 1531h0M1889 1458h0M1929 1534h0M2278 1172h0M2197 1198h0M2191 1358h0M2312 1313h0M1969 1357h0M2048 1579h0M2035 1331h0M2301 1349h0M2202 1299h0M2235 1402h0M2159 1316h0M2403 1728h0M1983 1628h0M1997 1600h0M1796 1442h0M2546 1449h0M1738 1410h0M1751 1385h0M2509 1538h0M1984 1640h0M2273 1435h0M2118 1500h0M2318 1589h0M2433 1640h0M2536 1311h0M2192 1248h0M1890 1441h0M2422 1709h0M2060 1435h0M2159 1395h0M2232 1501h0M2196 1240h0M2361 1664h0M2130 1251h0M2199 1724h0M2290 1723h0M2274 1399h0M2000 1266h0M2581 1434h0M1956 1291h0M2356 1371h0M1943 1553h0M2260 1264h0M2397 1670h0M2608 1344h0M1885 1647h0M2151 1419h0M2282 1653h0M2213 1543h0M1984 1599h0M2016 1505h0M2140 1461h0M2357 1322h0M2500 1618h0M2391 1554h0M2173 1536h0M2412 1416h0M2015 1701h0M2460 1321h0M2001 1674h0M2395 1461h0M2175 1530h0M2001 1445h0M2371 1215h0M2192 1349h0M2251 1259h0M2295 1572h0M1921 1259h0M2254 1699h0M2177 1485h0M2328 1226h0M1983 1445h0M2445 1502h0M2568 1410h0M2334 1611h0M2704 1426h0M2362 1684h0M2078 1398h0M2170 1244h0M2261 1320h0M2006 1563h0M2496 1464h0M1997 1310h0M2136 1619h0M2461 1678h0M1951 1374h0M1985 1552h0M1997 1408h0M2268 1442h0M2044 1509h0M2070 1495h0M2430 1268h0M2293 1643h0M2721 1429h0M2555 1343h0M2209 1169h0M2279 1736h0M2053 1345h0M1994 1395h0M2292 1417h0M2425 1275h0M2242 1296h0M1955 1438h0M2391 1446h0M2453 1647h0M1827 1517h0M2503 1591h0M2446 1232h0M2313 1416h0M2060 1222h0M2191 1467h0M2033 1478h0M1837 1630h0M2470 1368h0M2252 1467h0M2201 1645h0M2136 1704h0M1926 1359h0M1814 1370h0M2176 1221h0M2221 1676h0M1990 1257h0M2209 1571h0M2499 1399h0M2185 1646h0M2063 1268h0M2286 1232h0M2442 1504h0M2327 1730h0M2472 1324h0M1852 1570h0M2184 1465h0M1875 1372h0M1845 1387h0M2371 1216h0M1945 1631h0M2253 1521h0M2530 1454h0M2529 1372h0M2030 1404h0M2086 1457h0M2609 1344h0M2413 1206h0M1957 1289h0M1933 1373h0M2043 1476h0M2274 1393h0M2439 1338h0M2322 1204h0M2385 1504h0M1802 1301h0M2181 1187h0M1897 1539h0M2405 1525h0M2233 1431h0M2533 1310h0M2141 1277h0M2336 1335h0M2222 1681h0M1997 1305h0M1801 1369h0M2362 1277h0M1986 1540h0M1889 1424h0M1876 1365h0M2436 1556h0M2350 1678h0M1992 1643h0M2181 1600h0M2314 1484h0M2077 1409h0M1746 1455h0M1811 1326h0M2387 1532h0M1944 1475h0M2219 1448h0M2335 1347h0M1813 1395h0M2274 1425h0M1929 1290h0M2274 1556h0M2242 1662h0M2016 1576h0M2105 1433h0M2155 1625h0M2060 1342h0M2046 1347h0M1878 1615h0M1856 1545h0M2668 1403h0M2350 1743h0M1901 1343h0M1946 1264h0M1907 1363h0M2240 1477h0M2200 1472h0M2004 1575h0M2000 1388h0M2007 1272h0M2333 1366h0M2369 1279h0M1850 1429h0M2191 1490h0M1994 1419h0M1793 1311h0M2534 1446h0M2604 1357h0M2074 1414h0M2531 1431h0M1961 1380h0M2377 1551h0M1972 1630h0M1938 1424h0M2521 1283h0M1918 1273h0M1830 1314h0M2406 1454h0M2578 1373h0M1950 1611h0M2532 1305h0M2135 1665h0M2566 1353h0M2022 1274h0M2177 1483h0M2264 1408h0M2058 1278h0M2475 1465h0M2314 1315h0M2326 1725h0M2322 1477h0M2128 1649h0M1927 1263h0M1970 1306h0M2417 1739h0M2428 1333h0M2265 1350h0M2380 1206h0M1967 1573h0M1834 1311h0M2227 1491h0M2335 1482h0M2274 1435h0M2068 1264h0M2226 1289h0M2224 1433h0M2433 1289h0M2125 1182h0M2388 1240h0M2394 1411h0M2223 1283h0M2087 1365h0M2270 1233h0M2331 1603h0M2168 1366h0M2440 1259h0M2169 1312h0M1907 1380h0M2237 1405h0M1837 1269h0M1955 1441h0M2101 1471h0M2092 1575h0M1945 1557h0M1977 1540h0M2114 1421h0M2103 1662h0M1941 1387h0M2002 1344h0M2344 1388h0M2469 1398h0M2119 1421h0M1910 1289h0M2133 1295h0M2182 1704h0M2098 1651h0M2035 1301h0M2615 1353h0M2199 1341h0M2380 1239h0M1996 1333h0M2128 1395h0M2259 1403h0M2220 1518h0M2367 1254h0M2037 1283h0M2589 1299h0M1886 1381h0M2240 1496h0M2016 1245h0M2171 1194h0M2109 1341h0M2347 1552h0M2037 1354h0M1878 1392h0M2040 1389h0M2196 1481h0M1942 1323h0M2004 1311h0M2098 1220h0M2459 1389h0M2192 1232h0M2198 1203h0M2081 1314h0M1789 1309h0M2400 1439h0M2064 1213h0M2072 1615h0M2383 1670h0M2520 1434h0M1982 1384h0M2149 1570h0M2309 1619h0M2469 1563h0M2064 1501h0M1983 1409h0M2067 1335h0M1753 1445h0M2374 1484h0M2292 1611h0M2047 1464h0M2104 1643h0M1824 1472h0M2632 1346h0M2257 1263h0M2479 1408h0M2447 1629h0M2181 1476h0M2273 1512h0M1905 1571h0M2376 1485h0M2246 1660h0M2100 1646h0M2394 1433h0M1912 1393h0M1958 1401h0M1791 1491h0M2576 1398h0M2257 1350h0M2332 1278h0M2226 1279h0M2486 1334h0M2015 1606h0M1888 1401h0M1959 1674h0M2210 1222h0M2290 1478h0M1942 1590h0M1883 1414h0M2571 1439h0M1824 1312h0M1783 1333h0M2182 1240h0M2247 1411h0M1761 1452h0M1922 1369h0M2126 1264h0M2320 1393h0M2286 1305h0M2346 1235h0M2490 1470h0M2103 1376h0M2216 1238h0M1963 1226h0M2433 1703h0M2102 1558h0M2343 1533h0M1972 1239h0M2087 1420h0M1889 1458h0M2000 1653h0M2389 1674h0M2313 1435h0M2612 1374h0M2332 1421h0M2175 1259h0M1751 1424h0M2004 1370h0M2265 1163h0M2443 1247h0M2382 1250h0M1849 1370h0M1988 1417h0M1954 1607h0M2074 1344h0M2413 1411h0M2012 1711h0M2199 1573h0M2193 1607h0M2051 1343h0M2000 1282h0M2331 1361h0M2028 1331h0M2135 1665h0M1930 1271h0M2047 1720h0M1760 1513h0M2175 1604h0M1984 1359h0M2487 1549h0M2264 1179h0M2083 1501h0M2062 1728h0M2389 1429h0M1912 1354h0M2540 1314h0M2023 1345h0M1929 1632h0M1872 1548h0M2346 1413h0M2139 1424h0M1745 1440h0M2480 1385h0M2117 1282h0M2549 1426h0M2302 1582h0M2192 1635h0M2335 1651h0M1768 1458h0M1777 1333h0M2358 1572h0M2130 1170h0M2498 1351h0M2236 1214h0M2369 1366h0M2449 1454h0M2226 1406h0M1887 1505h0M1959 1283h0M2261 1180h0M2198 1360h0M2375 1260h0M2155 1284h0M2151 1557h0M2562 1445h0M1977 1560h0M2205 1329h0M1974 1642h0M2361 1487h0M1766 1548h0M2327 1762h0M2284 1218h0M2252 1291h0M2622 1421h0M1868 1278h0M2488 1260h0M2256 1369h0M2141 1531h0M1855 1387h0M2237 1288h0M2133 1458h0M1988 1450h0M2405 1309h0M2035 1225h0M1930 1305h0M2697 1417h0M2207 1291h0M2260 1674h0M2281 1263h0M1962 1301h0M2018 1226h0M2374 1396h0M1797 1446h0M2353 1524h0M2097 1500h0M2033 1607h0M2275 1395h0M2343 1243h0M2277 1272h0M2010 1316h0M2525 1476h0M1990 1420h0M2593 1331h0M2403 1260h0M2488 1282h0M2182 1216h0M1855 1377h0M2318 1174h0M2208 1250h0M2146 1568h0M2424 1422h0M1992 1551h0M1970 1326h0M1788 1436h0M2371 1548h0M2539 1426h0M2055 1586h0M1751 1387h0M2279 1692h0M2601 1407h0M2525 1323h0M2399 1291h0M2322 1215h0M2227 1618h0M1794 1436h0M2440 1214h0M2209 1424h0M2134 1458h0M2417 1209h0M2170 1258h0M2000 1503h0M2461 1624h0M2573 1393h0M2024 1433h0M1848 1530h0M1931 1515h0M1986 1634h0M2126 1415h0M2126 1310h0M2366 1695h0M2323 1309h0M2074 1270h0M2489 1438h0M2407 1523h0M2349 1396h0M2244 1445h0M1934 1516h0M2384 1209h0M2489 1654h0M2408 1316h0M1812 1335h0M2391 1265h0M2013 1691h0M2113 1311h0M2452 1258h0M2362 1468h0M2103 1205h0M2286 1269h0M1838 1414h0M2247 1739h0M1826 1326h0M1900 1277h0M1930 1685h0M1975 1525h0M2493 1453h0M1943 1411h0M2346 1257h0M1889 1386h0M2425 1286h0M2553 1424h0M2023 1285h0M2115 1696h0M2507 1460h0M2017 1266h0M2151 1722h0M1937 1486h0M1787 1445h0M2202 1683h0M2028 1649h0M1946 1658h0M2046 1526h0M2168 1209h0M2167 1642h0M2147 1477h0M2283 1621h0M2434 1504h0M2556 1321h0M1941 1478h0M2262 1454h0M2513 1379h0M2362 1290h0M2319 1262h0M2112 1439h0M2006 1479h0M2102 1262h0M2406 1308h0M2468 1395h0M1899 1558h0M2469 1233h0M1794 1460h0M2027 1309h0M2590 1411h0M1891 1363h0M2503 1441h0M1849 1318h0M2367 1617h0M2474 1670h0M2408 1658h0M2468 1441h0M2552 1325h0M2104 1509h0M2486 1412h0M2586 1407h0M2214 1295h0M2224 1497h0M2210 1406h0M2130 1531h0M2519 1470h0M2206 1430h0M1808 1304h0M2100 1511h0M2473 1608h0M2159 1312h0M1944 1459h0M2048 1545h0M2231 1168h0M2385 1596h0M2460 1374h0M2294 1553h0M2121 1457h0M1863 1335h0M1909 1496h0M1932 1371h0M1866 1340h0M1999 1648h0M1879 1364h0M2083 1573h0M2376 1237h0M2101 1364h0M1932 1427h0M2239 1453h0M2605 1423h0M1756 1403h0M1993 1551h0M2286 1377h0M2587 1345h0M2026 1425h0M2116 1301h0M2124 1210h0M1918 1485h0M2347 1699h0M2136 1214h0M1941 1378h0M2528 1487h0M2311 1261h0M2072 1281h0M2061 1560h0M2041 1619h0M2166 1239h0M2404 1605h0M2447 1292h0M2195 1409h0M1917 1502h0M2225 1305h0M2069 1644h0M1879 1371h0M2019 1466h0M2165 1251h0M2126 1509h0M2435 1284h0M2467 1541h0M1979 1326h0M2547 1400h0M2702 1432h0M1911 1480h0M1767 1479h0M2161 1545h0M2204 1352h0M1981 1535h0M2492 1345h0M2000 1316h0M1952 1467h0M2079 1745h0M1968 1519h0M2136 1702h0M2356 1625h0M2313 1580h0M2727 1429h0M1774 1463h0M1990 1595h0M2329 1230h0M2142 1536h0M2492 1497h0M2532 1403h0M2360 1619h0M1949 1379h0M2075 1701h0M1902 1351h0M2346 1766h0M2184 1549h0M2135 1269h0M2480 1346h0M2375 1493h0M2004 1410h0M2547 1328h0M2296 1281h0M1875 1578h0M2188 1454h0M2006 1603h0M2007 1314h0M2251 1379h0M1745 1373h0M2164 1228h0M2236 1378h0M2103 1375h0M2085 1354h0M2394 1291h0M2108 1229h0M2256 1179h0M1959 1288h0M1896 1362h0M2370 1515h0M2638 1396h0M2143 1409h0M2172 1211h0M2296 1294h0M2462 1372h0M2518 1296h0M2188 1453h0M2596 1319h0M1907 1643h0M2003 1638h0M2444 1503h0M2358 1583h0M2480 1625h0M2424 1392h0M2295 1552h0M1958 1235h0M1926 1479h0M2394 1645h0M2276 1249h0M2370 1449h0M2156 1213h0M2018 1251h0M2505 1505h0M1937 1470h0M2355 1268h0M1863 1457h0M2661 1397h0M2051 1420h0M2557 1316h0M2446 1503h0M2123 1375h0M2172 1428h0M2154 1412h0M2210 1309h0M1788 1413h0M2531 1313h0M2065 1515h0M2097 1446h0M2451 1366h0M2456 1298h0M2493 1546h0M1803 1446h0M1943 1459h0M2213 1190h0M2052 1349h0M2035 1321h0M2523 1502h0M2062 1328h0M2271 1705h0M2032 1322h0M2403 1207h0M2133 1428h0M2212 1182h0M2390 1421h0M2577 1379h0M2245 1376h0M2008 1594h0M2277 1740h0M2436 1370h0M2030 1290h0M1981 1311h0M2331 1389h0M2484 1367h0M2572 1348h0M1798 1448h0M1972 1382h0M2306 1177h0M2202 1514h0M2509 1337h0M1811 1546h0M2374 1509h0M2396 1499h0M1896 1543h0M1957 1260h0M1974 1620h0M2179 1600h0M2309 1257h0M2061 1650h0M2401 1523h0M2316 1196h0M2534 1503h0M1819 1440h0M2081 1499h0M2264 1387h0M2066 1531h0M1822 1444h0M2369 1217h0M2380 1297h0M2409 1424h0M2227 1159h0M1975 1260h0M2165 1512h0M2209 1420h0M2031 1443h0M2452 1565h0M2262 1608h0M2130 1239h0M2332 1187h0M2522 1310h0M2308 1325h0M2063 1263h0M2153 1210h0M2171 1266h0M2038 1462h0M2187 1520h0M2062 1391h0M2143 1252h0M2449 1616h0M2198 1456h0M2238 1260h0M2370 1523h0M1814 1575h0M2226 1192h0M1918 1478h0M2296 1631h0M1990 1348h0M2109 1479h0M2075 1596h0M2009 1290h0M2178 1680h0M1976 1454h0M1894 1372h0M2462 1411h0M2178 1397h0M2611 1357h0M2444 1501h0M2256 1443h0M2100 1646h0M2621 1359h0M2102 1234h0M2159 1644h0M1979 1379h0M1992 1535h0M1935 1415h0M2098 1473h0M2134 1526h0M2192 1273h0M2036 1557h0M2066 1581h0M2322 1352h0M1975 1494h0M2003 1251h0M2618 1368h0M2218 1299h0M1787 1335h0M2022 1496h0M1794 1311h0M2501 1365h0M2454 1298h0M1988 1421h0M2395 1582h0M2300 1508h0M2590 1307h0M2222 1579h0M2016 1470h0M2347 1743h0M2159 1234h0M2468 1556h0M2617 1333h0M2513 1277h0M2499 1316h0M2333 1235h0M2075 1346h0M2331 1527h0M1923 1259h0M2004 1663h0M2216 1707h0M1968 1700h0M2336 1590h0M2143 1364h0M1841 1539h0M2532 1306h0M2279 1495h0M2336 1256h0M2285 1180h0M1854 1512h0M1822 1419h0M2279 1382h0M2497 1594h0M1873 1566h0M1819 1593h0M2702 1423h0M2116 1208h0M2082 1525h0M2167 1327h0M2461 1312h0M2000 1465h0M1925 1370h0M2163 1284h0M1947 1497h0M2396 1597h0M2016 1493h0M1864 1303h0M1933 1618h0M1942 1513h0M2385 1597h0M2276 1566h0M2019 1351h0M2449 1291h0M1996 1560h0M1897 1583h0M2286 1568h0M2007 1594h0M2161 1409h0M2263 1543h0M1958 1647h0M2322 1294h0M2443 1716h0M2153 1279h0M1999 1476h0M2455 1578h0M1962 1432h0M2094 1332h0M2169 1200h0M1882 1359h0M2096 1569h0M2141 1319h0M2515 1403h0M2151 1287h0M2052 1343h0M2252 1613h0M2063 1396h0M1994 1590h0M2307 1314h0M2031 1281h0M2348 1579h0M2151 1216h0M2219 1233h0M2457 1383h0M2301 1316h0M2135 1657h0M2610 1369h0M2391 1405h0M2391 1481h0M1866 1378h0M1901 1370h0M2213 1473h0M2235 1152h0M2385 1652h0M2368 1416h0M2266 1192h0M2359 1223h0M2273 1272h0M2665 1375h0M2237 1670h0M2406 1304h0M1828 1543h0M1821 1344h0M2134 1410h0M2229 1425h0M1746 1422h0M2111 1300h0M1801 1563h0M1929 1246h0M2426 1339h0M1835 1561h0M2100 1496h0M1894 1364h0M2568 1396h0M2074 1263h0M2302 1503h0M2425 1588h0M2278 1501h0M2151 1444h0M2481 1322h0M2531 1376h0M2147 1574h0M2406 1286h0M2190 1760h0M1955 1557h0M2397 1662h0M2448 1296h0M2501 1348h0M1818 1301h0M1943 1485h0M2332 1333h0M2289 1469h0M2080 1209h0M2142 1445h0M2368 1446h0M1945 1414h0M1838 1458h0M1939 1284h0M1790 1316h0M2518 1314h0M2348 1646h0M2197 1503h0M2246 1426h0M2115 1350h0M2527 1328h0M2283 1368h0M2459 1684h0M2164 1565h0M1888 1537h0M2617 1416h0M2357 1551h0M1971 1279h0M2526 1395h0M1901 1344h0M2712 1414h0M2057 1443h0M1866 1283h0M2385 1278h0M2057 1335h0M2311 1263h0M1896 1314h0M2001 1596h0M2592 1417h0M1791 1323h0M2103 1378h0M2512 1453h0M2128 1417h0M2538 1343h0M2326 1412h0M1925 1573h0M2515 1497h0M1983 1462h0M2107 1351h0M2311 1554h0M2452 1325h0M2264 1409h0M2087 1474h0M2291 1360h0M2117 1325h0M2105 1510h0M2471 1550h0M2009 1347h0M1820 1549h0M1878 1371h0M2381 1427h0M2012 1697h0M2399 1322h0M1798 1399h0M2292 1364h0M2324 1793h0M2236 1536h0M2228 1272h0M2523 1352h0M2165 1651h0M2095 1382h0M2101 1326h0M2181 1226h0M2015 1454h0M2501 1449h0M1947 1378h0M1806 1293h0M1968 1252h0M1893 1385h0M1810 1401h0M2193 1657h0M1845 1407h0M1975 1551h0M2409 1726h0M2151 1645h0M2259 1782h0M2537 1580h0M2380 1327h0M2562 1409h0M1739 1464h0M2263 1420h0M1818 1398h0M2465 1660h0M2181 1543h0M2051 1279h0M2299 1290h0M2011 1340h0M2119 1754h0M2004 1314h0M2046 1418h0M1922 1302h0M1879 1268h0M2367 1510h0M2102 1335h0M2500 1431h0M2067 1472h0M2036 1637h0M2504 1445h0M2108 1226h0M2449 1273h0M2495 1331h0M2203 1528h0M1791 1310h0M1964 1514h0M2082 1267h0M2165 1291h0M2385 1665h0M2445 1613h0M2473 1490h0M2042 1688h0M1996 1461h0M2533 1370h0M1927 1331h0M1992 1487h0M1816 1518h0M2027 1240h0M2384 1581h0M1981 1384h0M2457 1315h0M2216 1730h0M2408 1201h0M2638 1353h0M2242 1147h0M2278 1270h0M2072 1297h0M2033 1575h0M2436 1394h0M1833 1523h0M2270 1231h0M1742 1384h0M2265 1299h0M2247 1663h0M2044 1463h0M2302 1588h0M2023 1621h0M2278 1414h0M2044 1509h0M2074 1281h0M2665 1431h0M2316 1366h0M2455 1619h0M1786 1433h0M1852 1529h0M2231 1192h0M2017 1293h0M2631 1388h0M2616 1320h0M2218 1226h0M2013 1370h0M2316 1324h0M2668 1407h0M2263 1654h0M2207 1150h0M2447 1224h0M2086 1364h0M1763 1367h0M2124 1441h0M2368 1482h0M2055 1512h0M2181 1343h0M2446 1424h0M2310 1716h0M2500 1279h0M2196 1262h0M2188 1236h0M2584 1406h0M2190 1673h0M2266 1424h0M2097 1421h0M2003 1256h0M2148 1215h0M2622 1420h0M2432 1428h0M2363 1474h0M2211 1496h0M2443 1483h0M2642 1410h0M2229 1217h0M2401 1500h0M2066 1532h0M2036 1571h0M2205 1536h0M2151 1629h0M2504 1494h0M2209 1699h0M2375 1282h0M1929 1460h0M2375 1339h0M1931 1609h0M2263 1179h0M2074 1431h0M2223 1634h0M2307 1327h0M2254 1299h0M2332 1232h0M1952 1570h0M2101 1401h0M2274 1303h0M2442 1510h0M1816 1323h0M2108 1636h0M2058 1300h0M2328 1219h0M2447 1320h0M2287 1513h0M2064 1692h0M2220 1478h0M2157 1277h0M2146 1283h0M1998 1301h0M2502 1508h0M2163 1503h0M2346 1333h0M2240 1436h0M2032 1244h0M2209 1346h0M2246 1673h0M1774 1431h0M2377 1412h0M1818 1351h0M2431 1325h0M2305 1176h0M2604 1343h0M2045 1554h0M2134 1201h0M2414 1741h0M2095 1247h0M2180 1473h0M2504 1473h0M2197 1248h0M2626 1349h0M2125 1289h0M2670 1381h0M2586 1407h0M1862 1349h0M2731 1419h0M1991 1644h0M1811 1466h0M2430 1508h0M2224 1347h0M2239 1376h0M1880 1357h0M1930 1523h0M2710 1423h0M2353 1645h0M2446 1311h0M2456 1232h0M2420 1442h0M1953 1652h0M2584 1399h0M2236 1731h0M1887 1491h0M2235 1513h0M2148 1598h0M1783 1555h0M1793 1358h0M2356 1266h0M2395 1600h0M2163 1578h0M2208 1524h0M1881 1615h0M2207 1311h0M2166 1636h0M2085 1526h0M2381 1505h0M1958 1694h0M2281 1282h0M2162 1227h0M2115 1216h0M2011 1474h0M2215 1630h0M2315 1383h0M2302 1510h0M2033 1656h0M2383 1443h0M1947 1606h0M2384 1277h0M2017 1238h0M2361 1390h0M2487 1402h0M1933 1283h0M1996 1411h0M2198 1675h0M2401 1207h0M2386 1266h0M2081 1502h0M2083 1221h0M2192 1235h0M2349 1637h0M1857 1308h0M2310 1463h0M1908 1241h0M2161 1370h0M2451 1286h0M2524 1318h0M2392 1685h0M2419 1329h0M2319 1312h0M2281 1627h0M1882 1364h0M2049 1342h0M2170 1434h0M2109 1290h0M1849 1612h0M2038 1344h0M2285 1250h0M1953 1514h0M1774 1437h0M2408 1446h0M2305 1276h0M2145 1176h0M2430 1494h0M1923 1263h0M2440 1534h0M1748 1461h0M2249 1449h0M2320 1383h0M2100 1651h0M2369 1313h0M2380 1432h0M2167 1243h0M2307 1408h0M2354 1617h0M2359 1397h0M1929 1257h0M2437 1204h0M2269 1225h0M2306 1261h0M2178 1210h0M2201 1194h0M2235 1365h0M2438 1483h0M2211 1617h0M2055 1723h0M2072 1551h0M2582 1390h0M1766 1441h0M2467 1424h0M2357 1254h0M2041 1419h0M1919 1487h0M1844 1514h0M2238 1678h0M2485 1480h0M2211 1346h0M2197 1319h0M2383 1497h0M1824 1359h0M2098 1491h0M1985 1637h0M1999 1597h0M2123 1315h0M2090 1443h0M1979 1336h0M2185 1570h0M2226 1212h0M2029 1512h0M2726 1425h0M2376 1305h0M2038 1345h0M2301 1473h0M1884 1279h0M2037 1303h0M1831 1472h0M2019 1559h0M1947 1386h0M2037 1285h0M1917 1270h0M1789 1340h0M2027 1442h0M2269 1283h0M2338 1267h0M2111 1324h0M2233 1505h0M2092 1544h0M2366 1490h0M2008 1287h0M2248 1507h0M1776 1537h0M1876 1572h0M2208 1146h0M2276 1262h0M2094 1262h0M2706 1423h0M2222 1351h0M2092 1529h0M1849 1476h0M2221 1336h0M2223 1222h0M2257 1671h0M2304 1190h0M1770 1377h0M2549 1367h0M2563 1373h0M2233 1720h0M2543 1307h0M2152 1261h0M2126 1324h0M2127 1366h0M2215 1339h0M1880 1511h0M2162 1559h0M2319 1313h0M2304 1240h0M2458 1254h0M1991 1442h0M2369 1198h0M2013 1457h0M2183 1273h0M2600 1328h0M2250 1740h0M2223 1213h0M2285 1446h0M1987 1319h0M2190 1365h0M1945 1461h0M2302 1256h0M2176 1721h0M2021 1483h0M2375 1669h0M2374 1291h0M1849 1499h0M2036 1415h0M2022 1312h0M1909 1276h0M2436 1529h0M2269 1496h0M1891 1371h0M2247 1317h0M1896 1386h0M2465 1270h0M2096 1482h0M2015 1595h0M2398 1530h0M2522 1316h0M1849 1539h0M2234 1324h0M2147 1401h0M2293 1464h0M2195 1460h0M2520 1460h0M2016 1563h0M2427 1454h0M2376 1318h0M2290 1580h0M2494 1315h0M2196 1363h0M2180 1177h0M1935 1417h0M2094 1644h0M1846 1475h0M1849 1633h0M2085 1256h0M2566 1319h0M2436 1616h0M2402 1244h0M2102 1302h0M2202 1719h0M2369 1247h0M2382 1327h0M2261 1169h0M2019 1574h0M2269 1394h0M2084 1335h0M2209 1710h0M2152 1599h0M1982 1550h0M1844 1316h0M2292 1281h0M2186 1520h0M2203 1305h0M2336 1211h0M2119 1503h0M2310 1353h0M2253 1532h0M1867 1571h0M2571 1327h0M2349 1500h0M2371 1267h0M1997 1504h0M2505 1347h0M2242 1285h0M2335 1403h0M2352 1461h0M1960 1509h0M1984 1398h0M2138 1540h0M2570 1403h0M2028 1570h0M2175 1266h0M2264 1363h0M2075 1509h0M2434 1660h0M2009 1588h0M1907 1403h0M2375 1684h0M2193 1376h0M2449 1270h0M2319 1486h0M2310 1486h0M1866 1342h0M1967 1495h0M1953 1246h0M2007 1708h0M1864 1651h0M2290 1311h0M2249 1376h0M2102 1489h0M2295 1250h0M2373 1552h0M2168 1449h0M2217 1192h0M2297 1620h0M2241 1240h0M2181 1707h0M1853 1279h0M2029 1507h0M2212 1737h0M2428 1723h0M2274 1191h0M1958 1442h0M1860 1291h0M2614 1384h0M2400 1658h0M2284 1194h0M2166 1384h0M2166 1255h0M2200 1516h0M1941 1404h0M2166 1536h0M2185 1689h0M2109 1337h0M2002 1612h0M2136 1671h0M1878 1335h0M2429 1376h0M1797 1471h0M2587 1302h0M2111 1332h0M2168 1505h0M2073 1730h0M2318 1358h0M2117 1240h0M2575 1352h0M2417 1542h0M2598 1338h0M2267 1384h0M1777 1488h0M1933 1386h0M2269 1644h0M2186 1200h0M1879 1315h0M2002 1611h0M1866 1322h0M1801 1487h0M2001 1307h0M2293 1503h0M2288 1491h0M1934 1593h0M1899 1516h0M1759 1445h0M2395 1415h0M2465 1278h0M2453 1657h0M2414 1309h0M2315 1572h0M1915 1384h0M2270 1170h0M2183 1232h0M1821 1293h0M2395 1444h0M2292 1462h0M2439 1294h0M2243 1570h0M2494 1488h0M2121 1301h0M2335 1578h0M2336 1584h0M1873 1329h0M1908 1636h0M2051 1476h0M1930 1381h0M2307 1529h0M2330 1460h0M2035 1222h0M1910 1254h0M1825 1474h0M2394 1373h0M1919 1233h0M1961 1339h0M2481 1267h0M2318 1229h0M2400 1556h0M2519 1464h0M2169 1459h0M2372 1626h0M1797 1306h0M1936 1277h0M2183 1205h0M2332 1228h0M2018 1242h0M2281 1502h0M2267 1294h0M1765 1400h0M1828 1287h0M1771 1311h0M2293 1488h0M2406 1662h0M2665 1416h0M2450 1366h0M1808 1350h0M2393 1332h0M1849 1624h0M2230 1666h0M2217 1183h0M2529 1483h0M2235 1206h0M2089 1313h0M2379 1185h0M2461 1522h0M2116 1673h0M2424 1225h0M2168 1180h0M2176 1337h0M1913 1395h0M1928 1260h0M1883 1375h0M2252 1570h0M2328 1213h0M2165 1390h0M2225 1480h0M2210 1278h0M2162 1387h0M2061 1574h0M1773 1236h0M1818 1205h0M1772 1258h0M1813 1195h0M1815 1254h0M1820 1232h0M1906 1214h0M1816 1224h0M1164 2187h0M845 2146h0M842 2121h0M1317 2235h0M810 2144h0M1407 2243h0M1245 2249h0M804 2189h0M833 2179h0M764 2182h0M1178 2248h0M689 2149h0M813 2177h0M1531 2277h0M1369 2292h0M986 2225h0M1381 2246h0M1087 2183h0M961 2177h0M1110 2261h0M1348 2211h0M781 2163h0M1268 2273h0M823 2143h0M1109 2238h0M1209 2183h0M1047 2155h0M913 2131h0M895 2200h0M687 2139h0M1159 2173h0M953 2144h0M1070 2133h0M1451 2317h0M961 2191h0M968 2120h0M1104 2261h0M1525 2295h0M684 2143h0M857 2207h0M832 2120h0M1286 2212h0M1392 2259h0M947 2123h0M1149 2141h0M740 2126h0M987 2228h0M1298 2327h0M1031 2143h0M863 2137h0M836 2163h0M896 2241h0M814 2190h0M672 2128h0M905 2201h0M1311 2212h0M1171 2213h0M933 2203h0M959 2187h0M1284 2278h0M821 2161h0M1439 2308h0M1150 2253h0M812 2141h0M985 2229h0M984 2180h0M931 2155h0M1266 2214h0M1227 2300h0M1134 2234h0M694 2119h0M980 2223h0M868 2215h0M1202 2270h0M758 2148h0M896 2210h0M1130 2180h0M1245 2216h0M1385 2249h0M769 2121h0M966 2151h0M1224 2269h0M789 2178h0M831 2114h0M797 2167h0M980 2190h0M734 2142h0M1106 2236h0M706 2094h0M1194 2276h0M1139 2272h0M860 2149h0M1373 2291h0M861 2124h0M785 2118h0M1021 2131h0M1195 2252h0M769 2140h0M882 2232h0M874 2161h0M695 2138h0M911 2201h0M1125 2145h0M1215 2274h0M946 2183h0M986 2227h0M688 2151h0M859 2104h0M695 2113h0M896 2221h0M1046 2225h0M825 2180h0M970 2209h0M1085 2238h0M1050 2222h0M1326 2287h0M927 2155h0M787 2111h0M1424 2286h0M1048 2189h0M851 2203h0M861 2125h0M1096 2188h0M964 2148h0M1233 2297h0M783 2159h0M1210 2250h0M1319 2280h0M1375 2231h0M1065 2181h0M1037 2146h0M794 2158h0M789 2142h0M693 2115h0M1021 2207h0M795 2143h0M1180 2249h0M892 2205h0M998 2235h0M828 2135h0M950 2198h0M1423 2296h0M869 2133h0M895 2131h0M1018 2245h0M958 2132h0M1213 2195h0M759 2088h0M817 2135h0M837 2097h0M1365 2326h0M1141 2244h0M1495 2255h0M1118 2234h0M1202 2232h0M826 2136h0M1201 2207h0M1393 2284h0M883 2231h0M826 2092h0M868 2191h0M975 2150h0M975 2199h0M808 2101h0M698 2102h0M1451 2249h0M843 2185h0M744 2165h0M1418 2268h0M857 2217h0M1372 2266h0M935 2228h0M1164 2153h0M1208 2233h0M778 2109h0M985 2248h0M1396 2327h0M727 2108h0M936 2126h0M792 2111h0M952 2197h0M883 2118h0M1060 2173h0M1360 2283h0M793 2185h0M993 2144h0M1353 2329h0M1122 2247h0M1308 2239h0M802 2139h0M894 2097h0M1296 2246h0M689 2097h0M814 2195h0M1055 2169h0M1165 2163h0M945 2128h0M1471 2255h0M1384 2260h0M1019 2118h0M895 2125h0M1289 2281h0M1284 2233h0M1081 2143h0M920 2182h0M869 2141h0M1402 2335h0M1132 2149h0M1372 2236h0M895 2136h0M755 2152h0M975 2197h0M876 2127h0M928 2202h0M1222 2270h0M962 2108h0M810 2171h0M1108 2140h0M991 2219h0M1122 2248h0M1127 2235h0M865 2217h0M985 2181h0M1180 2255h0M968 2184h0M1190 2260h0M1247 2325h0M1506 2258h0M1104 2250h0M1386 2281h0M1378 2338h0M819 2177h0M1522 2308h0M1429 2238h0M1128 2218h0M947 2143h0M1003 2233h0M752 2161h0M850 2147h0M806 2160h0M760 2140h0M1247 2274h0M838 2195h0M862 2162h0M982 2151h0M804 2139h0M1351 2333h0M911 2167h0M1219 2174h0M822 2174h0M1367 2286h0M797 2149h0M758 2160h0M1065 2205h0M1561 2303h0M997 2183h0M1465 2256h0M907 2138h0M999 2118h0M792 2086h0M883 2099h0M1308 2262h0M1106 2174h0M1234 2255h0M926 2196h0M1423 2233h0M687 2153h0M763 2116h0M1101 2236h0M847 2207h0M1493 2287h0M769 2182h0M1181 2189h0M926 2183h0M1495 2274h0M1164 2148h0M1499 2273h0M889 2238h0M1357 2259h0M701 2095h0M1421 2224h0M685 2130h0M797 2170h0M1173 2163h0M722 2153h0M1052 2244h0M741 2169h0M1536 2304h0M1074 2210h0M1206 2245h0M907 2126h0M866 2185h0M1077 2259h0M954 2185h0M1209 2222h0M822 2174h0M1534 2304h0M872 2159h0M994 2215h0M1322 2214h0M1143 2274h0M1014 2099h0M925 2197h0M934 2150h0M779 2118h0M702 2155h0M1105 2180h0M888 2133h0M1444 2321h0M1001 2246h0M943 2174h0M682 2112h0M1269 2285h0M1191 2193h0M752 2133h0M1109 2133h0M910 2112h0M926 2118h0M1270 2280h0M1121 2145h0M1043 2160h0M987 2129h0M1253 2177h0M1481 2247h0M1425 2258h0M947 2127h0M1047 2215h0M707 2114h0M1479 2260h0M1035 2147h0M734 2155h0M1217 2280h0M1174 2219h0M803 2163h0M859 2145h0M1393 2336h0M816 2189h0M1004 2180h0M832 2155h0M1441 2307h0M748 2171h0M1222 2299h0M724 2135h0M938 2137h0M1120 2232h0M1166 2182h0M1116 2190h0M903 2105h0M1252 2262h0M783 2102h0M1062 2122h0M970 2187h0M1006 2168h0M662 2136h0M1405 2258h0M1117 2152h0M796 2151h0M915 2191h0M1427 2279h0M674 2102h0M678 2120h0M840 2145h0M893 2176h0M736 2127h0M1151 2252h0M1400 2285h0M703 2159h0M1179 2168h0M834 2171h0M869 2211h0M1027 2133h0M1224 2294h0M1163 2221h0M1114 2272h0M860 2166h0M673 2136h0M1000 2176h0M890 2153h0M1124 2145h0M726 2131h0M1075 2134h0M1410 2299h0M1253 2261h0M752 2114h0M1123 2252h0M807 2171h0M1542 2312h0M1360 2300h0M1493 2292h0M878 2154h0M869 2176h0M1063 2185h0M1404 2278h0M762 2179h0M1192 2244h0M923 2095h0M1057 2140h0M904 2129h0M1308 2245h0M1133 2198h0M1204 2171h0M794 2096h0M885 2229h0M1085 2142h0M1050 2133h0M1359 2323h0M989 2141h0M857 2155h0M1383 2299h0M919 2166h0M1222 2244h0M1000 2181h0M936 2127h0M960 2146h0M1131 2185h0M715 2155h0M790 2148h0M806 2113h0M1356 2291h0M897 2139h0M1297 2306h0M1232 2173h0M1265 2273h0M1213 2302h0M1348 2223h0M695 2099h0M1393 2277h0M798 2106h0M901 2142h0M962 2203h0M1222 2297h0M1039 2147h0M895 2124h0M855 2117h0M1127 2239h0M1155 2236h0M949 2114h0M1089 2139h0M867 2143h0M1246 2195h0M1037 2124h0M1171 2181h0M919 2187h0M1183 2244h0M730 2085h0M1415 2344h0M726 2092h0M991 2239h0M922 2176h0M1033 2133h0M1461 2274h0M1244 2239h0M999 2175h0M853 2158h0M1053 2173h0M887 2135h0M769 2100h0M1045 2122h0M1506 2293h0M1381 2308h0M911 2118h0M753 2130h0M1342 2218h0M1190 2262h0M1344 2245h0M1200 2196h0M1084 2191h0M1248 2327h0M1079 2189h0M667 2133h0M892 2107h0M754 2130h0M1293 2209h0M899 2139h0M1495 2271h0M903 2206h0M995 2203h0M1418 2309h0M1533 2306h0M1154 2240h0M1238 2268h0M976 2193h0M1287 2219h0M1477 2306h0M921 2133h0M688 2163h0M1159 2159h0M803 2141h0M1452 2286h0M707 2152h0M1228 2277h0M843 2180h0M1263 2329h0M980 2208h0M1195 2256h0M1068 2177h0M800 2126h0M1389 2334h0M962 2134h0M1233 2199h0M882 2194h0M927 2179h0M987 2144h0M849 2124h0M820 2131h0M1084 2217h0M1023 2119h0M1092 2240h0M1119 2162h0M1053 2146h0M1416 2285h0M1262 2217h0M1352 2287h0M1036 2208h0M932 2221h0M1376 2329h0M863 2179h0M976 2201h0M986 2224h0M875 2212h0M1498 2321h0M726 2159h0M1543 2308h0M1005 2213h0M790 2095h0M852 2145h0M1558 2292h0M841 2086h0M754 2135h0M826 2102h0M1118 2140h0M1286 2260h0M1449 2295h0M738 2114h0M1359 2227h0M1143 2219h0M1175 2228h0M1154 2243h0M1295 2293h0M1269 2226h0M1124 2251h0M1439 2254h0M1223 2241h0M803 2194h0M1073 2191h0M1000 2224h0M859 2108h0M1260 2290h0M1239 2299h0M732 2129h0M1026 2221h0M1346 2327h0M1298 2230h0M1228 2275h0M757 2125h0M1237 2305h0M1265 2273h0M1194 2166h0M1210 2269h0M1221 2305h0M1281 2234h0M997 2119h0M1494 2269h0M1405 2239h0M1358 2348h0M927 2148h0M1310 2232h0M1217 2295h0M1039 2139h0M718 2098h0M747 2164h0M851 2220h0M741 2098h0M796 2174h0M940 2132h0M815 2165h0M1250 2262h0M727 2130h0M1357 2270h0M1253 2198h0M1142 2156h0M814 2195h0M910 2112h0M1383 2246h0M1201 2163h0M912 2156h0M781 2149h0M1491 2282h0M790 2111h0M1500 2309h0M1171 2272h0M884 2255h0M1462 2270h0M1146 2251h0M1491 2268h0M1383 2287h0M1209 2293h0M1156 2258h0M789 2182h0M816 2140h0M813 2177h0M1156 2246h0M896 2181h0M1468 2251h0M789 2094h0M765 2147h0M1022 2175h0M858 2124h0M1354 2225h0M1123 2150h0M769 2110h0M1395 2242h0M791 2138h0M796 2155h0M986 2142h0M725 2152h0M1095 2176h0M852 2143h0M1296 2215h0M1263 2319h0M1249 2235h0M985 2189h0M1150 2158h0M919 2201h0M689 2153h0M766 2143h0M782 2136h0M789 2093h0M943 2197h0M1404 2233h0M1140 2176h0M733 2166h0M921 2205h0M868 2155h0M785 2108h0M1030 2147h0M744 2138h0M914 2196h0M1355 2274h0M1075 2175h0M1253 2287h0M1525 2289h0M1367 2228h0M1276 2272h0M846 2121h0M700 2118h0M1000 2224h0M795 2094h0M1436 2233h0M997 2225h0M1289 2211h0M1409 2243h0M1017 2178h0M976 2180h0M1151 2246h0M1228 2190h0M1331 2251h0M952 2194h0M749 2123h0M796 2144h0M877 2212h0M970 2131h0M1397 2230h0M1168 2210h0M918 2214h0M710 2089h0M675 2144h0M1220 2288h0M1385 2243h0M1099 2237h0M869 2151h0M1122 2139h0M1370 2310h0M1399 2261h0M1358 2315h0M767 2121h0M1099 2192h0M1398 2295h0M865 2221h0M1107 2270h0M1415 2301h0M1374 2247h0M1151 2244h0M1101 2161h0M1464 2295h0M905 2132h0M1103 2215h0M1399 2234h0M1185 2270h0M1040 2158h0M732 2150h0M748 2126h0M1049 2260h0M1337 2228h0M723 2118h0M1097 2158h0M1262 2224h0M1381 2329h0M1235 2289h0M1006 2095h0M1289 2215h0M1287 2241h0M1438 2306h0M1292 2286h0M1209 2254h0M805 2188h0M1510 2282h0M918 2125h0M1410 2327h0M1043 2184h0M1226 2272h0M1284 2218h0M966 2148h0M1186 2187h0M1058 2186h0M1090 2269h0M1372 2327h0M1130 2185h0M1402 2259h0M1347 2335h0M1231 2248h0M1043 2149h0M1025 2120h0M852 2196h0M1006 2238h0M1079 2147h0M1019 2128h0M1189 2270h0M1271 2194h0M1037 2180h0M994 2224h0M918 2184h0M889 2249h0M773 2178h0M866 2188h0M1233 2276h0M770 2101h0M1087 2250h0M1432 2301h0M1258 2200h0M990 2200h0M846 2151h0M1372 2286h0M790 2125h0M1086 2179h0M1529 2311h0M870 2219h0M1378 2337h0M802 2158h0M778 2128h0M866 2196h0M912 2132h0M1266 2212h0M1013 2224h0M804 2098h0M903 2113h0M1258 2250h0M1192 2195h0M1496 2268h0M715 2110h0M806 2158h0M1024 2118h0M1310 2313h0M1230 2307h0M1225 2273h0M780 2112h0M1069 2120h0M879 2160h0M924 2219h0M986 2234h0M1375 2233h0M788 2150h0M1369 2330h0M1071 2232h0M1247 2191h0M1188 2269h0M1384 2293h0M1322 2240h0M1369 2242h0M970 2190h0M912 2193h0M784 2182h0M1013 2160h0M734 2136h0M793 2152h0M1461 2262h0M1108 2153h0M793 2130h0M1388 2348h0M864 2210h0M1048 2242h0M1161 2147h0M1395 2271h0M1032 2187h0M1280 2295h0M860 2189h0M736 2145h0M757 2104h0M948 2145h0M810 2151h0M1241 2257h0M764 2087h0M808 2165h0M2917 2396h0M2892 2395h0M2926 2400h0M2947 2385h0M2898 2380h0M2925 2372h0M2944 2384h0M2961 2394h0M2900 2400h0M2965 2379h0M2902 2380h0M2893 2389h0M2901 2377h0M2942 2402h0M2914 2401h0M2946 2409h0M2950 2385h0M2929 2371h0M2927 2401h0M2915 2373h0M2961 2392h0M2951 2375h0M2908 2375h0M2948 2416h0M2962 2404h0M2962 2392h0M2960 2401h0M2924 2406h0M2914 2373h0M2966 2390h0M2939 2382h0M2946 2414h0M2953 2385h0M2944 2377h0M2908 2378h0M2941 2395h0M2954 2398h0M2938 2415h0M2954 2380h0M2922 2396h0M2952 2412h0M2911 2394h0M2962 2398h0M2917 2396h0M2951 2399h0M2954 2383h0M2932 2417h0M2908 2386h0M2912 2401h0M2910 2382h0M2968 2384h0M2954 2398h0M2902 2403h0M2961 2390h0M2904 2393h0M2954 2393h0M2942 2393h0M2939 2376h0M2934 2389h0M2945 2381h0M2894 2389h0M2894 2392h0M2947 2406h0M2937 2400h0M2910 2385h0M2915 2375h0M2924 2402h0M2964 2381h0M2963 2384h0M2893 2380h0M2938 2384h0M2938 2380h0M2946 2422h0M2929 2370h0M2908 2406h0M2959 2418h0M2931 2377h0M2887 2382h0M2902 2373h0M2961 2390h0M2959 2402h0M2916 2398h0M2933 2392h0M2898 2380h0M2947 2404h0M2949 2412h0M2926 2373h0M2915 2400h0M2941 2389h0M2899 2386h0M2912 2401h0M2917 2395h0M2933 2378h0M2909 2394h0M2947 2412h0M2918 2401h0M2926 2379h0M2901 2372h0M2904 2400h0M2924 2415h0M2914 2391h0M2954 2393h0M2965 2410h0M2965 2398h0M2948 2386h0M2906 2404h0M2902 2392h0M2899 2386h0M2934 2376h0M2929 2395h0"/>
<path stroke="#fd9b6b" d="M1418 468h0M2075 601h0M1369 510h0M1845 528h0M2045 603h0M1105 835h0M1652 541h0M1088 783h0M1088 794h0M1465 836h0M1163 826h0M1427 816h0M1367 565h0M1121 684h0M1518 611h0M1186 626h0M1229 629h0M1142 697h0M1526 449h0M1353 625h0M1527 495h0M1891 709h0M2011 814h0M1461 603h0M1748 509h0M1053 846h0M1318 600h0M1508 598h0M1103 805h0M1610 862h0M1786 661h0M1074 777h0M1718 627h0M1845 746h0M1622 824h0M1748 572h0M1087 887h0M1715 787h0M1927 521h0M1514 453h0M1064 741h0M1711 566h0M2022 615h0M1169 893h0M1070 870h0M1168 609h0M1095 885h0M1156 871h0M1664 532h0M1582 483h0M1933 715h0M1098 819h0M1770 777h0M1275 575h0M1097 882h0M1099 859h0M1402 544h0M1480 465h0M1120 749h0M1252 696h0M1714 506h0M1109 782h0M1170 772h0M1830 719h0M1754 660h0M1642 828h0M1859 644h0M1080 898h0M1448 824h0M1087 684h0M1361 581h0M1575 718h0M1743 856h0M1222 549h0M1505 764h0M1376 716h0M1922 819h0M1566 853h0M1893 701h0M1161 883h0M1172 715h0M1523 445h0M1445 509h0M1773 723h0M1301 526h0M1365 508h0M1151 864h0M1771 556h0M1587 493h0M1632 562h0M1213 665h0M1058 809h0M1269 520h0M1558 700h0M1365 783h0M1157 592h0M1399 558h0M1436 630h0M1274 650h0M1354 676h0M1521 648h0M1299 599h0M1581 520h0M1516 775h0M1798 781h0M1836 673h0M1088 718h0M1729 627h0M1436 603h0M1896 569h0M1607 630h0M1548 583h0M1407 653h0M1473 780h0M1120 814h0M1108 683h0M1300 619h0M1254 551h0M1608 513h0M1082 791h0M1628 561h0M1608 525h0M1090 868h0M1556 806h0M2145 722h0M1447 830h0M1263 739h0M1074 881h0M1441 713h0M1397 451h0M1127 716h0M1183 673h0M1731 584h0M1218 694h0M1527 465h0M1567 508h0M1101 882h0M1870 635h0M1442 814h0M1200 790h0M1633 675h0M1461 694h0M1055 786h0M1535 567h0M1454 700h0M1669 443h0M1275 698h0M1405 801h0M1238 535h0M2103 799h0M1122 721h0M1112 717h0M1321 844h0M1441 896h0M1351 897h0M1388 943h0M1552 976h0M1544 967h0M1372 935h0M2047 953h0M1554 1090h0M1541 1066h0M1485 1121h0M1529 1135h0M1639 1024h0M1680 1118h0M1907 1031h0M1996 1090h0M1701 943h0M1884 997h0M1633 952h0M1801 1079h0M1737 1157h0M1986 1212h0M2451 1551h0M2398 1417h0M1927 1412h0M1993 1561h0M2268 1275h0M2315 1247h0M1895 1536h0M2028 1468h0M2467 1235h0M2487 1350h0M2157 1270h0M2213 1582h0M2291 1495h0M2433 1265h0M2476 1549h0M2174 1294h0M2485 1469h0M2471 1537h0M2346 1279h0M2104 1680h0M2329 1284h0M1734 1476h0M2097 1690h0M2404 1290h0M2106 1665h0M2450 1244h0M2143 1304h0M2178 1637h0M2370 1230h0M2137 1255h0M2686 1435h0M2489 1259h0M2301 1226h0M2551 1301h0M2068 1427h0M2519 1321h0M2476 1267h0M1856 1393h0M2380 1422h0M2428 1236h0M1913 1368h0M2166 1721h0M2342 1659h0M2385 1502h0M2053 1423h0M2159 1464h0M2469 1279h0M2139 1743h0M2224 1764h0M2139 1574h0M2261 1754h0M1857 1518h0M1947 1420h0M2352 1283h0M2522 1501h0M1936 1564h0M2406 1464h0M1814 1334h0M2187 1299h0M2401 1562h0M1776 1342h0M2516 1588h0M2529 1280h0M2341 1750h0M2424 1300h0M2448 1452h0M2450 1310h0M1891 1653h0M2442 1493h0M2353 1381h0M1881 1337h0M2086 1713h0M2352 1724h0M1939 1626h0M2111 1305h0M2142 1501h0M2249 1585h0M2198 1292h0M2307 1598h0M2185 1436h0M1792 1454h0M2441 1564h0M2315 1224h0M2517 1323h0M2123 1592h0M2331 1419h0M2165 1775h0M2560 1430h0M2172 1260h0M2138 1550h0M1903 1342h0M1756 1519h0M2466 1551h0M1974 1480h0M2195 1352h0M1960 1425h0M2515 1264h0M2463 1349h0M2333 1644h0M1992 1238h0M2438 1405h0M2257 1291h0M1980 1494h0M2438 1711h0M2178 1706h0M1974 1335h0M2375 1247h0M2379 1379h0M2091 1233h0M2390 1301h0M2374 1694h0M1934 1372h0M2340 1252h0M1885 1612h0M2357 1282h0M2090 1388h0M2194 1246h0M2434 1505h0M2121 1648h0M2436 1390h0M2397 1339h0M2234 1322h0M2354 1557h0M2334 1495h0M2248 1348h0M2371 1354h0M2360 1456h0M2383 1358h0M1885 1657h0M2529 1380h0M2468 1446h0M2141 1375h0M2360 1650h0M2271 1612h0M2468 1557h0M2560 1268h0M2454 1288h0M2143 1513h0M2207 1699h0M2342 1681h0M2421 1591h0M2037 1283h0M2385 1199h0M2227 1364h0M2466 1395h0M2325 1354h0M2198 1645h0M2191 1400h0M1964 1540h0M1875 1409h0M2447 1328h0M2330 1651h0M2067 1450h0M2683 1414h0M2258 1562h0M2162 1597h0M2449 1608h0M2267 1467h0M1891 1575h0M2094 1384h0M2174 1354h0M2246 1550h0M2120 1588h0M2150 1728h0M2371 1666h0M2423 1224h0M2398 1650h0M1883 1324h0M2520 1351h0M2157 1264h0M2104 1698h0M2502 1289h0M2408 1336h0M2270 1753h0M2438 1473h0M2207 1327h0M2361 1711h0M2427 1298h0M1896 1323h0M2138 1386h0M1916 1276h0M2159 1662h0M1929 1334h0M2169 1283h0M2161 1469h0M2393 1721h0M1148 2141h0M1455 2239h0M1073 2166h0M1543 2286h0M1307 2211h0M962 2194h0M1024 2182h0M1376 2245h0M1360 2243h0M1016 2209h0M830 2149h0M937 2099h0M1505 2282h0M1239 2248h0M1259 2186h0M1313 2248h0M1080 2215h0M1143 2238h0M1355 2292h0M1247 2301h0M1015 2183h0M1378 2255h0M1392 2220h0M1410 2320h0M1313 2268h0M739 2154h0M1448 2288h0M1482 2268h0M1512 2300h0M1358 2326h0M970 2159h0M1107 2234h0M1145 2195h0"/>
<path stroke="#b5367a" d="M3066 1586h0M3074 1582h0M3082 1580h0M3088 1580h0M3102 1583h0M3125 1552h0M3127 1565h0M3144 1552h0M3161 1559h0M3182 1562h0M3188 1558h0M3194 1560h0M3202 1564h0M3192 1568h0M3189 1588h0M3199 1593h0M3168 1604h0M3192 1582h0M3224 1560h0M3229 1559h0M3245 1553h0M3232 1586h0M3238 1595h0M3215 1607h0M3234 1617h0M3215 1623h0M3212 1635h0M3225 1638h0M3219 1652h0M3231 1654h0M3245 1654h0M3258 1652h0M3262 1666h0M3279 1676h0M3283 1683h0M3286 1694h0M3279 1701h0M3290 1697h0M3255 1694h0M3309 1682h0M3310 1727h0M3317 1737h0M3326 1657h0M3335 1669h0M3338 1683h0M3345 1697h0M3335 1628h0M3359 1611h0M3361 1595h0M3314 1611h0M3290 1595h0M3271 1586h0M3276 1585h0M3284 1536h0M3303 1539h0M3269 1543h0M3338 1557h0M3260 1559h0M3355 1583h0M3361 1576h0M3326 1716h0M3334 1724h0M3342 1732h0M3350 1740h0M3356 1728h0M3340 1744h0M3328 1732h0M3320 1720h0M3344 1712h0M3352 1716h0M3358 1700h0M3330 1700h0M3336 1692h0M3294 1588h0M3304 1600h0M3282 1580h0M3344 1590h0M3352 1600h0M3352 1572h0M3320 1552h0M3296 1558h0M3280 1566h0M3260 1548h0M3324 1700h0M3316 1710h0M2983 2379h0M2976 2391h0M2949 2373h0M3025 2388h0M3103 2380h0M3110 2378h0M3117 2383h0M3124 2389h0M3113 2391h0M3128 2394h0M3162 2389h0M3211 2374h0M3164 2392h0M1556 2296h0M1566 2302h0M1574 2308h0M1582 2313h0M1544 2292h0M2471 1828h0M2642 1511h0M2652 1511h0"/>
<path stroke="#fd9b6b" d="M3113 1579h0M3135 1560h0M3142 1567h0M3149 1559h0M3170 1562h0M3170 1576h0M3199 1583h0M3238 1578h0M3231 1602h0M3293 1669h0M3303 1697h0M3314 1708h0M3307 1720h0M3331 1735h0M3335 1751h0M3348 1746h0M3355 1709h0M3348 1654h0M3350 1666h0M3347 1671h0M3362 1692h0M3350 1638h0M3359 1630h0M3336 1600h0M3344 1610h0M3340 1620h0M3348 1616h0M3332 1590h0M3328 1608h0M3266 1552h0M3274 1544h0M3284 1546h0M3292 1542h0M3300 1548h0M3306 1544h0M3310 1554h0M3318 1560h0M3326 1566h0M3334 1572h0M3314 1572h0M3304 1580h0M3296 1572h0M3322 1586h0M3332 1580h0M3308 1566h0M3086 2389h0M3095 2388h0M3135 2389h0M3155 2387h0M3170 2385h0M3186 2382h0M3192 2380h0"/>
<path stroke="#fcfdbf" d="M3160 1572h0M3324 1578h0M3200 2382h0"/>
<path stroke="#fd9b6b" d="M2907 2376h0M2918 2379h0M2923 2378h0M2941 2403h0M2949 2396h0M2956 2389h0"/>
</g>
<path d="M211 141V1308.6M208.8 1306.4H1819.7" stroke="#000" stroke-width="4.3" fill="none"/>
<path d="M196.3 195.7H211M196.3 416.1H211M196.3 636.5H211M196.3 856.9H211M196.3 1077.2H211M196.3 1297.6H211M423.1 1306V1320.8M770.8 1306V1320.8M1118.5 1306V1320.8M1466.3 1306V1320.8M1814.0 1306V1320.8" stroke="#000" stroke-width="4.3" fill="none"/>
<g  font-size="52.5" fill="#000">
<text x="183.0" y="214.0" text-anchor="end" textLength="63.6" lengthAdjust="spacingAndGlyphs">20</text>
<text x="183.0" y="434.4" text-anchor="end" textLength="63.6" lengthAdjust="spacingAndGlyphs">15</text>
<text x="183.0" y="654.8" text-anchor="end" textLength="63.6" lengthAdjust="spacingAndGlyphs">10</text>
<text x="183.0" y="875.2" text-anchor="end" textLength="31.8" lengthAdjust="spacingAndGlyphs">5</text>
<text x="183.0" y="1095.5" text-anchor="end" textLength="31.8" lengthAdjust="spacingAndGlyphs">0</text>
<text x="183.0" y="1315.9" text-anchor="end" textLength="49.9" lengthAdjust="spacingAndGlyphs">-5</text>
<text x="423.1" y="1370.3" text-anchor="middle" textLength="49.9" lengthAdjust="spacingAndGlyphs">-5</text>
<text x="770.8" y="1370.3" text-anchor="middle" textLength="31.8" lengthAdjust="spacingAndGlyphs">0</text>
<text x="1118.5" y="1370.3" text-anchor="middle" textLength="31.8" lengthAdjust="spacingAndGlyphs">5</text>
<text x="1466.3" y="1370.3" text-anchor="middle" textLength="63.6" lengthAdjust="spacingAndGlyphs">10</text>
<text x="1814.0" y="1370.3" text-anchor="middle" textLength="63.6" lengthAdjust="spacingAndGlyphs">15</text>
</g>
<defs><linearGradient id="mg" x1="0" y1="0" x2="0" y2="1"><stop offset="0.00" stop-color="#fcfdbf"/>
<stop offset="0.05" stop-color="#fde7a9"/>
<stop offset="0.10" stop-color="#fecf92"/>
<stop offset="0.15" stop-color="#feb77e"/>
<stop offset="0.20" stop-color="#fe9f6d"/>
<stop offset="0.25" stop-color="#fc8961"/>
<stop offset="0.30" stop-color="#f7705c"/>
<stop offset="0.35" stop-color="#ed5a5f"/>
<stop offset="0.40" stop-color="#de4968"/>
<stop offset="0.45" stop-color="#ca3e72"/>
<stop offset="0.50" stop-color="#b73779"/>
<stop offset="0.55" stop-color="#a1307e"/>
<stop offset="0.60" stop-color="#8c2981"/>
<stop offset="0.65" stop-color="#782281"/>
<stop offset="0.70" stop-color="#641a80"/>
<stop offset="0.75" stop-color="#51127c"/>
<stop offset="0.80" stop-color="#3b0f70"/>
<stop offset="0.85" stop-color="#251255"/>
<stop offset="0.90" stop-color="#140e36"/>
<stop offset="0.95" stop-color="#06051a"/>
<stop offset="1.00" stop-color="#000004"/></linearGradient></defs>
<rect x="1875.5" y="579.4" width="64" height="319.2" fill="url(#mg)"/>
<path d="M1875.5 668.8H1888.3M1926.9 668.8H1939.5M1875.5 783.5H1888.3M1926.9 783.5H1939.5M1875.5 898.3H1888.3M1926.9 898.3H1939.5" stroke="#fff" stroke-width="1.7"/>
<g  font-size="52.5" fill="#000">
<text x="1969.5" y="687.1" textLength="79.5" lengthAdjust="spacingAndGlyphs">1.0</text>
<text x="1969.5" y="801.8" textLength="79.5" lengthAdjust="spacingAndGlyphs">0.5</text>
<text x="1969.5" y="916.6" textLength="79.5" lengthAdjust="spacingAndGlyphs">0.0</text>
</g>
<text x="903.7" y="99.3"  font-weight="bold" font-size="67.6" textLength="219.4" lengthAdjust="spacingAndGlyphs" stroke="#000" stroke-width="1.5">STAT3</text>
<text x="896.6" y="1435.7"  font-size="60.5" textLength="232" lengthAdjust="spacingAndGlyphs">UMAP_1</text>
<text transform="translate(94.2 841.3) rotate(-90)" x="0" y="0"  font-size="60.5" textLength="230.7" lengthAdjust="spacingAndGlyphs">UMAP_2</text>
</svg></body></html>
